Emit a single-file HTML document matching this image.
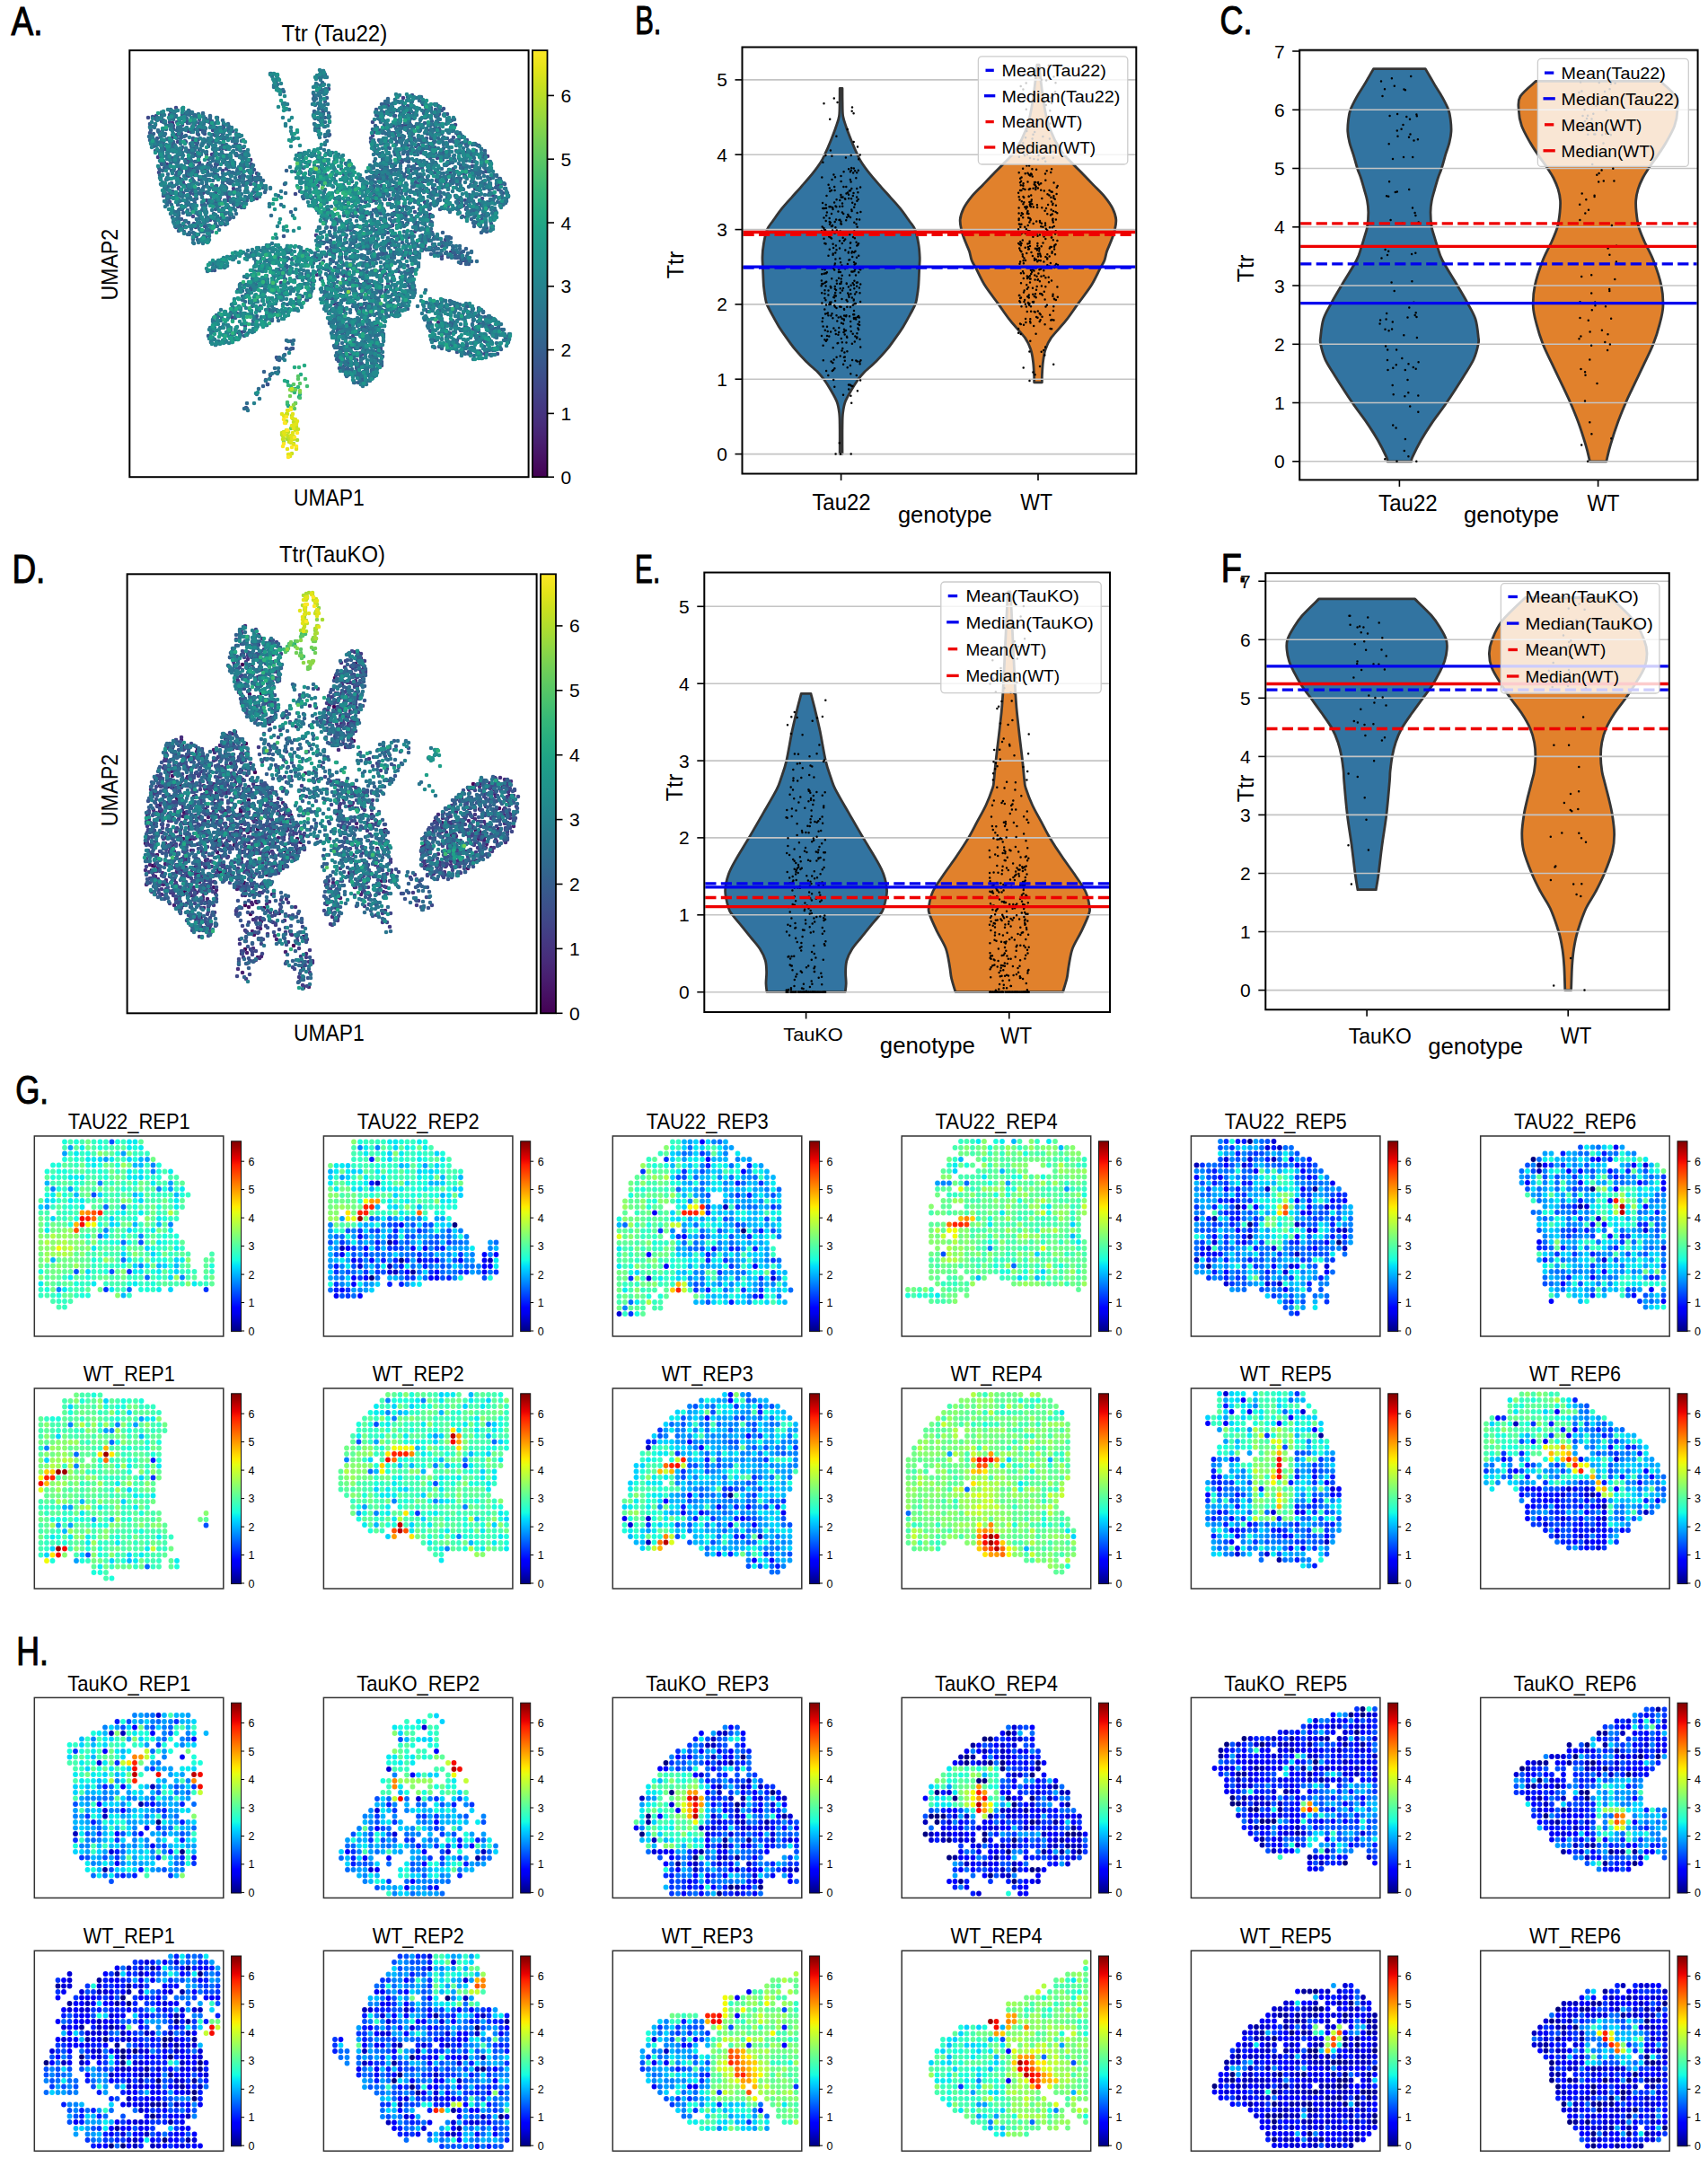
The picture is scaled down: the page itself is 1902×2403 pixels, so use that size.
<!DOCTYPE html>
<html><head><meta charset="utf-8"><title>Ttr figure</title>
<style>html,body{margin:0;padding:0;background:#fff;} svg{display:block;} text{font-family:'Liberation Sans', Arial, sans-serif;}</style>
</head><body>
<svg xmlns="http://www.w3.org/2000/svg" width="1902" height="2403" viewBox="0 0 1902 2403">
<rect width="1902" height="2403" fill="#fff"/>
<defs><linearGradient id="gv" x1="0" y1="1" x2="0" y2="0"><stop offset="0.000" stop-color="#440154"/><stop offset="0.042" stop-color="#471063"/><stop offset="0.083" stop-color="#481f70"/><stop offset="0.125" stop-color="#472d7b"/><stop offset="0.167" stop-color="#443983"/><stop offset="0.208" stop-color="#404688"/><stop offset="0.250" stop-color="#3b528b"/><stop offset="0.292" stop-color="#365d8d"/><stop offset="0.333" stop-color="#31688e"/><stop offset="0.375" stop-color="#2c728e"/><stop offset="0.417" stop-color="#287c8e"/><stop offset="0.458" stop-color="#24868e"/><stop offset="0.500" stop-color="#21918c"/><stop offset="0.542" stop-color="#1f9a8a"/><stop offset="0.583" stop-color="#20a486"/><stop offset="0.625" stop-color="#28ae80"/><stop offset="0.667" stop-color="#35b779"/><stop offset="0.708" stop-color="#48c16e"/><stop offset="0.750" stop-color="#5ec962"/><stop offset="0.792" stop-color="#75d054"/><stop offset="0.833" stop-color="#90d743"/><stop offset="0.875" stop-color="#addc30"/><stop offset="0.917" stop-color="#c8e020"/><stop offset="0.958" stop-color="#e5e419"/><stop offset="1.000" stop-color="#fde725"/></linearGradient><linearGradient id="gj" x1="0" y1="1" x2="0" y2="0"><stop offset="0.000" stop-color="#000080"/><stop offset="0.031" stop-color="#0000a4"/><stop offset="0.062" stop-color="#0000c8"/><stop offset="0.094" stop-color="#0000ed"/><stop offset="0.125" stop-color="#0000ff"/><stop offset="0.156" stop-color="#0020ff"/><stop offset="0.188" stop-color="#0040ff"/><stop offset="0.219" stop-color="#0060ff"/><stop offset="0.250" stop-color="#0080ff"/><stop offset="0.281" stop-color="#00a0ff"/><stop offset="0.312" stop-color="#00c0ff"/><stop offset="0.344" stop-color="#00e0fb"/><stop offset="0.375" stop-color="#16ffe1"/><stop offset="0.406" stop-color="#30ffc7"/><stop offset="0.438" stop-color="#49ffad"/><stop offset="0.469" stop-color="#63ff94"/><stop offset="0.500" stop-color="#7dff7a"/><stop offset="0.531" stop-color="#97ff60"/><stop offset="0.562" stop-color="#b1ff46"/><stop offset="0.594" stop-color="#caff2c"/><stop offset="0.625" stop-color="#e4ff13"/><stop offset="0.656" stop-color="#feed00"/><stop offset="0.688" stop-color="#ffd000"/><stop offset="0.719" stop-color="#ffb200"/><stop offset="0.750" stop-color="#ff9400"/><stop offset="0.781" stop-color="#ff7700"/><stop offset="0.812" stop-color="#ff5900"/><stop offset="0.844" stop-color="#ff3b00"/><stop offset="0.875" stop-color="#ff1e00"/><stop offset="0.906" stop-color="#e80000"/><stop offset="0.938" stop-color="#c40000"/><stop offset="0.969" stop-color="#9f0000"/><stop offset="1.000" stop-color="#800000"/></linearGradient></defs>
<text x="12.5" y="39.3" font-size="45" textLength="35" lengthAdjust="spacingAndGlyphs" fill="#000" stroke="#000" stroke-width="1.1">A.</text>
<text x="707.2" y="38.4" font-size="45" textLength="29.3" lengthAdjust="spacingAndGlyphs" fill="#000" stroke="#000" stroke-width="1.1">B.</text>
<text x="1358.6" y="38.2" font-size="45" textLength="35.8" lengthAdjust="spacingAndGlyphs" fill="#000" stroke="#000" stroke-width="1.1">C.</text>
<text x="13.4" y="648.7" font-size="45" textLength="36.9" lengthAdjust="spacingAndGlyphs" fill="#000" stroke="#000" stroke-width="1.1">D.</text>
<text x="707" y="648.7" font-size="45" textLength="28.2" lengthAdjust="spacingAndGlyphs" fill="#000" stroke="#000" stroke-width="1.1">E.</text>
<text x="1359.7" y="648.1" font-size="45" textLength="29.4" lengthAdjust="spacingAndGlyphs" fill="#000" stroke="#000" stroke-width="1.1">F.</text>
<text x="17.2" y="1229.3" font-size="45" textLength="36.8" lengthAdjust="spacingAndGlyphs" fill="#000" stroke="#000" stroke-width="1.1">G.</text>
<text x="18.3" y="1853.7" font-size="45" textLength="35.7" lengthAdjust="spacingAndGlyphs" fill="#000" stroke="#000" stroke-width="1.1">H.</text>
<g>
<path d="M938.0,98.4C938.0,101.0 938.0,108.7 938.1,113.9C938.2,119.0 938.0,124.5 938.7,129.2C939.5,133.9 941.2,137.9 942.6,142.2C944.0,146.5 945.4,149.9 947.4,154.9C949.4,159.9 952.8,167.9 954.8,172.2C956.8,176.5 957.0,177.2 959.3,180.8C961.6,184.4 965.3,189.4 968.7,193.7C972.1,198.0 976.1,202.3 979.9,206.6C983.6,210.9 987.4,215.1 991.2,219.4C995.0,223.6 999.0,227.9 1002.5,232.2C1006.0,236.6 1009.5,241.7 1012.2,245.5C1014.9,249.4 1017.1,251.2 1018.9,255.6C1020.7,259.9 1021.9,266.2 1022.8,271.4C1023.7,276.5 1024.0,281.8 1024.2,286.4C1024.4,291.0 1023.9,293.6 1023.7,298.9C1023.5,304.2 1023.2,312.6 1022.8,318.1C1022.3,323.5 1021.6,327.9 1021.0,331.4C1020.4,334.9 1020.5,335.7 1019.2,338.9C1017.9,342.1 1015.5,346.4 1013.2,350.6C1011.0,354.7 1008.4,359.6 1005.7,363.9C1003.0,368.2 1000.2,372.2 997.2,376.4C994.2,380.6 991.3,384.9 987.7,389.2C984.1,393.5 980.1,398.0 975.8,402.2C971.6,406.5 965.5,411.4 962.2,414.7C958.9,418.1 958.2,419.0 955.8,422.2C953.5,425.5 950.5,430.1 948.1,434.3C945.7,438.4 942.9,443.0 941.3,447.3C939.7,451.5 939.2,455.1 938.6,459.9C938.0,464.8 938.1,468.8 938.0,476.4C937.9,484.0 938.0,500.7 938.0,505.6L935.2,505.6C935.2,500.7 935.3,484.0 935.2,476.4C935.1,468.8 935.2,464.8 934.6,459.9C934.0,455.1 933.5,451.5 931.9,447.3C930.3,443.0 927.5,438.4 925.1,434.3C922.7,430.1 919.8,425.5 917.4,422.2C915.0,419.0 914.3,418.1 911.0,414.7C907.7,411.4 901.6,406.5 897.4,402.2C893.1,398.0 889.1,393.5 885.5,389.2C881.9,384.9 879.0,380.6 876.0,376.4C873.0,372.2 870.2,368.2 867.5,363.9C864.8,359.6 862.2,354.7 860.0,350.6C857.8,346.4 855.3,342.1 854.0,338.9C852.7,335.7 852.8,334.9 852.2,331.4C851.6,327.9 850.9,323.5 850.4,318.1C850.0,312.6 849.7,304.2 849.5,298.9C849.3,293.6 848.9,291.0 849.0,286.4C849.1,281.8 849.5,276.5 850.4,271.4C851.3,266.2 852.5,259.9 854.3,255.6C856.1,251.2 858.3,249.4 861.0,245.5C863.7,241.7 867.2,236.6 870.7,232.2C874.2,227.9 878.2,223.6 882.0,219.4C885.8,215.1 889.6,210.9 893.3,206.6C897.1,202.3 901.1,198.0 904.5,193.7C907.9,189.4 911.6,184.4 913.9,180.8C916.2,177.2 916.4,176.5 918.4,172.2C920.4,167.9 923.8,159.9 925.8,154.9C927.8,149.9 929.2,146.5 930.6,142.2C932.0,137.9 933.8,133.9 934.5,129.2C935.2,124.5 935.0,119.0 935.1,113.9C935.2,108.7 935.2,101.0 935.2,98.4Z" fill="#3274a1" stroke="#353535" stroke-width="2.8" stroke-linejoin="round"/>
<path d="M1157.1,72.2C1157.4,75.2 1158.2,83.2 1159.1,90.5C1160.0,97.9 1161.0,107.7 1162.6,116.4C1164.2,125.0 1165.4,133.6 1168.6,142.2C1171.8,150.8 1177.2,161.2 1181.6,168.0C1186.0,174.8 1191.2,178.8 1195.2,183.0C1199.2,187.3 1201.8,189.6 1205.6,193.5C1209.4,197.3 1213.9,202.1 1218.0,206.4C1222.1,210.6 1226.5,214.6 1230.0,218.9C1233.5,223.2 1236.9,227.9 1239.0,232.2C1241.1,236.5 1242.5,240.4 1242.8,244.7C1243.1,249.0 1242.0,253.7 1240.9,258.1C1239.8,262.4 1237.8,266.9 1236.4,270.6C1235.0,274.2 1233.7,276.5 1232.6,279.7C1231.5,282.9 1231.2,286.5 1230.0,289.7C1228.8,292.9 1227.6,294.2 1225.1,298.9C1222.6,303.6 1219.3,311.4 1215.1,318.1C1210.9,324.7 1204.7,332.4 1200.0,338.9C1195.3,345.4 1191.7,351.0 1186.8,357.2C1181.9,363.5 1174.2,371.1 1170.4,376.4C1166.7,381.7 1165.8,384.6 1164.3,388.9C1162.8,393.2 1162.2,397.4 1161.6,402.2C1160.9,407.1 1160.6,414.2 1160.4,418.1C1160.2,422.0 1160.4,424.5 1160.4,425.8L1151.6,425.8C1151.6,424.5 1151.8,422.0 1151.6,418.1C1151.4,414.2 1151.1,407.1 1150.4,402.2C1149.8,397.4 1149.2,393.2 1147.7,388.9C1146.2,384.6 1145.3,381.7 1141.6,376.4C1137.8,371.1 1130.1,363.5 1125.2,357.2C1120.3,351.0 1116.7,345.4 1112.0,338.9C1107.3,332.4 1101.1,324.7 1096.9,318.1C1092.7,311.4 1089.4,303.6 1086.9,298.9C1084.4,294.2 1083.2,292.9 1082.0,289.7C1080.8,286.5 1080.5,282.9 1079.4,279.7C1078.3,276.5 1077.0,274.2 1075.6,270.6C1074.2,266.9 1072.2,262.4 1071.1,258.1C1070.0,253.7 1068.9,249.0 1069.2,244.7C1069.5,240.4 1070.9,236.5 1073.0,232.2C1075.1,227.9 1078.5,223.2 1082.0,218.9C1085.5,214.6 1089.9,210.6 1094.0,206.4C1098.1,202.1 1102.6,197.3 1106.4,193.5C1110.2,189.6 1112.8,187.3 1116.8,183.0C1120.8,178.8 1126.0,174.8 1130.4,168.0C1134.8,161.2 1140.2,150.8 1143.4,142.2C1146.6,133.6 1147.8,125.0 1149.4,116.4C1151.0,107.7 1152.0,97.9 1152.9,90.5C1153.8,83.2 1154.6,75.2 1154.9,72.2Z" fill="#e1812c" stroke="#353535" stroke-width="2.8" stroke-linejoin="round"/>
<line x1="826.5" y1="505.6" x2="1265.3" y2="505.6" stroke="#c4c4c4" stroke-width="1.6"/>
<line x1="826.5" y1="422.2" x2="1265.3" y2="422.2" stroke="#c4c4c4" stroke-width="1.6"/>
<line x1="826.5" y1="338.9" x2="1265.3" y2="338.9" stroke="#c4c4c4" stroke-width="1.6"/>
<line x1="826.5" y1="255.6" x2="1265.3" y2="255.6" stroke="#c4c4c4" stroke-width="1.6"/>
<line x1="826.5" y1="172.2" x2="1265.3" y2="172.2" stroke="#c4c4c4" stroke-width="1.6"/>
<line x1="826.5" y1="88.9" x2="1265.3" y2="88.9" stroke="#c4c4c4" stroke-width="1.6"/>
<path d="M926.9 251.1h0M955.8 189.8h0M932.6 382.2h0M940.8 401.8h0M918.6 300.2h0M953.8 417.9h0M919.1 256.2h0M931.9 315.8h0M953.6 249.4h0M956.2 303.3h0M954.4 223.8h0M951.0 355.1h0M924.9 167.6h0M916.0 298.0h0M934.5 245.1h0M917.4 298.9h0M956.9 358.5h0M915.0 374.1h0M928.9 259.2h0M923.5 230.2h0M915.2 326.3h0M936.6 341.7h0M917.9 232.1h0M954.2 273.6h0M944.9 280.7h0M930.9 273.6h0M951.6 338.3h0M949.7 315.2h0M929.0 331.2h0M951.9 265.3h0M955.5 360.9h0M941.9 175.6h0M930.1 335.0h0M954.2 210.1h0M956.1 367.1h0M929.9 293.4h0M918.4 331.9h0M952.8 338.0h0M943.9 294.1h0M924.8 230.2h0M939.5 370.1h0M928.2 423.0h0M955.0 163.5h0M929.7 259.8h0M923.2 263.5h0M916.5 315.9h0M929.7 247.0h0M958.1 208.4h0M924.2 132.8h0M934.8 493.3h0M957.4 402.7h0M914.9 256.9h0M927.6 271.7h0M950.7 157.9h0M918.8 367.7h0M955.4 272.0h0M951.3 257.5h0M920.9 236.4h0M940.7 372.4h0M939.0 439.8h0M945.1 240.6h0M928.1 276.1h0M931.5 351.2h0M925.2 319.7h0M927.4 354.2h0M922.3 418.0h0M954.4 371.3h0M953.6 269.8h0M930.4 253.2h0M945.1 328.6h0M936.2 352.8h0M927.0 231.1h0M930.0 197.2h0M957.1 244.5h0M929.6 211.9h0M940.1 351.6h0M956.2 284.8h0M927.7 282.5h0M950.2 350.3h0M919.6 271.5h0M946.9 200.1h0M950.1 192.4h0M951.4 312.8h0M957.5 377.8h0M945.9 212.5h0M957.6 405.2h0M926.8 413.1h0M937.5 390.4h0M924.0 249.7h0M918.3 344.5h0M933.9 303.1h0M946.3 261.3h0M948.9 382.8h0M915.3 197.6h0M956.1 271.3h0M925.5 336.6h0M927.5 232.9h0M951.2 281.0h0M953.9 314.8h0M947.0 212.3h0M929.2 208.0h0M935.0 276.5h0M951.3 321.2h0M930.3 281.4h0M950.0 264.1h0M949.0 280.3h0M935.2 315.9h0M954.0 244.3h0M931.5 278.3h0M947.6 202.6h0M942.7 315.6h0M929.2 300.5h0M938.0 323.5h0M941.3 278.5h0M938.2 229.7h0M919.5 334.3h0M958.2 386.4h0M957.1 362.1h0M916.2 354.3h0M956.1 352.0h0M938.0 226.5h0M920.1 304.2h0M950.7 334.5h0M933.7 353.6h0M946.0 352.3h0M951.0 292.0h0M938.3 387.9h0M916.8 401.2h0M950.8 333.4h0M945.1 216.7h0M954.6 252.8h0M926.5 200.1h0M949.1 401.0h0M953.0 306.4h0M930.2 325.9h0M932.6 114.0h0M929.3 430.8h0M914.9 312.5h0M924.8 319.0h0M929.2 340.2h0M919.4 173.0h0M948.3 233.5h0M933.4 235.5h0M939.6 191.2h0M927.1 256.4h0M930.5 229.4h0M947.7 368.9h0M935.3 223.1h0M940.8 368.5h0M933.2 381.9h0M939.1 405.7h0M954.1 219.6h0M926.4 173.7h0M937.4 295.5h0M944.8 281.6h0M918.4 378.2h0M956.9 320.5h0M936.5 246.8h0M925.4 351.6h0M948.1 221.2h0M950.5 215.0h0M942.3 208.0h0M954.9 314.5h0M918.5 323.2h0M937.8 381.2h0M947.3 416.2h0M954.9 435.2h0M942.8 315.9h0M941.1 299.3h0M931.7 312.5h0M939.8 355.4h0M939.0 321.1h0M954.4 375.4h0M951.0 345.9h0M947.0 242.1h0M955.2 273.1h0M917.5 265.7h0M948.5 281.5h0M935.0 268.3h0M947.7 173.0h0M927.6 283.7h0M935.2 341.5h0M950.9 354.0h0M916.1 226.0h0M927.4 404.0h0M936.1 292.2h0M952.1 327.4h0M926.5 199.9h0M950.8 187.4h0M925.4 320.0h0M927.9 298.8h0M939.0 360.4h0M943.4 391.2h0M953.3 401.4h0M953.3 198.2h0M925.6 402.5h0M947.4 327.3h0M942.5 215.6h0M931.6 222.3h0M948.7 123.7h0M954.1 318.8h0M935.7 321.2h0M954.9 353.0h0M920.2 313.7h0M921.9 348.4h0M948.2 448.7h0M928.0 411.9h0M940.4 392.4h0M936.5 195.9h0M921.0 374.0h0M947.8 429.6h0M947.2 270.3h0M921.0 363.8h0M926.0 265.4h0M949.8 217.9h0M954.7 402.4h0M952.9 293.4h0M936.7 219.6h0M930.8 372.1h0M934.2 369.9h0M922.4 328.4h0M936.4 217.1h0M924.8 247.8h0M921.7 369.0h0M931.3 230.2h0M917.4 254.0h0M935.3 244.7h0M945.2 433.5h0M943.3 341.7h0M957.5 299.9h0M953.6 325.3h0M942.5 215.5h0M954.1 376.6h0M934.2 300.3h0M949.8 339.7h0M927.1 251.6h0M937.8 271.0h0M957.7 172.6h0M940.9 221.2h0M936.9 313.8h0M949.2 286.1h0M928.3 331.0h0M951.2 350.3h0M915.4 316.1h0M925.1 369.6h0M922.4 351.3h0M925.9 251.9h0M956.2 177.2h0M915.7 252.4h0M927.7 387.3h0M939.9 268.1h0M945.5 330.8h0M948.6 235.0h0M931.5 343.1h0M924.3 213.0h0M952.1 299.9h0M920.0 231.7h0M917.5 115.2h0M924.8 264.4h0M936.3 249.3h0M956.1 297.6h0M946.7 276.1h0M939.4 207.9h0M937.5 333.1h0M945.1 188.3h0M942.2 245.2h0M929.4 295.4h0M918.7 314.8h0M923.4 338.9h0M949.0 119.6h0M942.5 381.5h0M949.7 371.7h0M916.6 384.7h0M954.2 192.3h0M931.4 151.7h0M955.4 214.3h0M940.8 397.4h0M938.7 264.8h0M950.6 126.3h0M942.1 297.1h0M944.3 238.9h0M921.5 349.0h0M941.2 266.5h0M930.3 367.9h0M917.9 255.8h0M920.5 218.1h0M935.7 257.5h0M926.2 310.2h0M948.3 302.6h0M920.0 339.5h0M915.2 305.3h0M958.5 401.3h0M928.4 194.6h0M937.0 359.7h0M923.8 209.4h0M923.8 277.7h0M932.3 357.4h0M949.4 429.9h0M916.3 232.0h0M951.4 302.1h0M958.2 300.3h0M939.2 237.9h0M930.4 288.5h0M924.9 338.7h0M922.6 205.8h0M928.8 109.6h0M952.1 190.2h0M914.7 318.3h0M949.2 225.7h0M944.0 214.5h0M915.4 337.4h0M917.7 304.7h0M946.9 407.0h0M944.2 326.4h0M928.4 365.6h0M952.5 279.7h0M923.8 247.0h0M933.4 372.8h0M919.7 228.1h0M943.0 374.7h0M918.4 271.0h0M922.5 323.6h0M948.3 210.0h0M936.6 202.1h0M943.7 144.1h0M946.9 191.3h0M941.3 221.7h0M923.3 374.5h0M945.3 289.6h0M919.7 245.9h0M926.5 349.2h0M934.3 365.0h0M919.6 318.5h0M919.3 304.2h0M943.3 375.8h0M947.2 357.9h0M930.9 329.4h0M931.8 256.6h0M923.7 243.1h0M937.6 354.8h0M940.1 344.7h0M955.7 221.9h0M916.4 180.8h0M954.6 237.0h0M958.2 316.5h0M929.8 341.6h0M946.5 428.6h0M950.9 317.2h0M943.2 242.0h0M927.3 231.8h0M942.0 368.0h0M953.2 355.5h0M919.3 298.4h0M935.7 326.0h0M915.6 299.7h0M951.8 380.4h0M948.9 331.4h0M916.6 363.4h0M947.4 440.7h0M945.0 428.4h0M920.2 240.1h0M937.7 306.7h0M944.9 319.4h0M929.4 410.2h0M936.8 377.1h0M957.5 326.2h0M942.6 334.0h0M936.7 310.6h0M917.5 242.6h0M919.9 379.8h0M952.0 227.5h0M947.3 363.6h0M951.3 247.7h0M940.0 366.8h0M939.9 356.6h0M937.9 236.4h0M946.9 342.1h0M929.1 225.6h0M936.5 315.7h0M935.3 287.8h0M943.7 409.2h0M924.1 336.7h0M915.7 358.0h0M918.5 326.9h0M922.5 284.8h0M952.3 374.6h0M946.1 306.4h0M947.6 317.8h0M934.1 309.8h0M919.1 349.4h0M935.1 229.9h0M952.6 353.9h0M937.0 249.5h0M942.4 351.2h0M931.1 322.9h0M921.2 349.1h0M942.2 352.2h0M935.9 303.1h0M929.8 319.0h0M926.0 212.0h0M945.2 220.9h0M928.6 400.6h0M939.9 344.0h0M926.0 238.1h0M947.8 189.8h0M931.1 244.6h0M935.7 396.6h0M955.4 365.6h0M946.2 289.3h0M947.0 270.7h0M929.5 328.8h0M951.6 294.8h0M931.6 397.7h0M958.1 423.6h0M954.0 286.8h0M943.6 335.4h0M951.2 230.7h0M938.5 219.4h0M946.9 322.7h0M920.1 413.0h0M958.1 336.0h0M949.8 302.4h0M920.9 303.2h0M925.3 320.5h0M939.9 397.7h0M948.2 186.9h0M921.1 378.3h0M956.9 353.6h0M929.8 321.7h0M958.4 236.1h0M947.7 505.6h0M936.0 505.6h0M930.6 505.6h0" stroke="#000" stroke-width="2.5" stroke-linecap="round" fill="none"/>
<path d="M1159.7 391.7h0M1154.2 246.6h0M1160.8 328.4h0M1158.2 326.9h0M1161.4 152.1h0M1142.8 255.1h0M1140.5 287.4h0M1134.6 245.0h0M1170.6 233.5h0M1134.1 255.3h0M1145.3 338.2h0M1159.8 88.8h0M1156.0 282.7h0M1173.7 251.9h0M1143.4 184.5h0M1139.0 238.3h0M1141.1 173.3h0M1155.9 209.5h0M1146.8 227.8h0M1154.0 322.8h0M1164.3 200.8h0M1148.1 346.8h0M1163.3 164.3h0M1134.9 249.6h0M1158.0 246.4h0M1173.9 332.7h0M1175.1 260.6h0M1159.2 204.2h0M1177.3 237.3h0M1144.4 237.8h0M1147.1 195.4h0M1153.7 207.7h0M1156.4 304.6h0M1170.1 108.7h0M1153.7 331.2h0M1136.1 336.6h0M1164.8 116.9h0M1143.8 346.9h0M1172.8 267.2h0M1143.3 146.1h0M1147.0 175.9h0M1140.0 171.2h0M1147.3 379.8h0M1160.4 161.3h0M1145.8 194.5h0M1136.1 261.4h0M1159.8 327.3h0M1166.3 287.5h0M1138.8 267.4h0M1152.7 347.6h0M1137.0 331.5h0M1134.7 243.5h0M1150.5 149.8h0M1146.6 268.8h0M1172.5 226.7h0M1134.6 231.4h0M1162.4 291.5h0M1166.3 256.4h0M1152.3 306.4h0M1156.0 285.4h0M1144.9 337.0h0M1145.1 277.6h0M1136.3 252.7h0M1173.9 274.6h0M1135.3 335.2h0M1140.0 361.8h0M1165.9 339.8h0M1154.1 188.7h0M1156.5 173.0h0M1147.0 273.9h0M1141.1 333.9h0M1169.2 350.8h0M1139.4 206.8h0M1147.0 314.6h0M1167.1 228.0h0M1147.1 210.3h0M1175.9 244.4h0M1141.7 193.3h0M1157.2 276.3h0M1157.7 357.9h0M1156.0 311.2h0M1168.1 261.6h0M1136.0 360.5h0M1158.0 246.1h0M1168.7 285.6h0M1136.2 260.7h0M1158.0 407.9h0M1153.4 208.8h0M1151.8 347.1h0M1157.7 348.9h0M1161.5 270.5h0M1165.0 231.9h0M1173.5 85.6h0M1162.9 175.8h0M1178.0 294.9h0M1163.3 395.5h0M1145.8 331.6h0M1140.5 336.1h0M1137.1 240.1h0M1145.8 218.7h0M1139.2 242.3h0M1164.1 386.5h0M1164.3 319.2h0M1160.9 176.5h0M1150.8 230.4h0M1154.4 163.6h0M1145.4 238.1h0M1174.4 273.3h0M1134.7 192.2h0M1148.1 193.5h0M1159.2 211.7h0M1141.9 259.9h0M1171.6 280.3h0M1155.1 276.8h0M1150.3 327.8h0M1136.8 273.3h0M1146.4 391.4h0M1159.9 318.4h0M1146.4 225.0h0M1136.0 203.3h0M1159.5 307.7h0M1147.4 227.0h0M1171.2 169.1h0M1164.4 286.1h0M1165.7 190.3h0M1173.2 405.7h0M1169.6 137.5h0M1148.5 281.0h0M1159.0 285.6h0M1145.4 330.9h0M1142.9 341.5h0M1143.1 229.9h0M1138.9 285.5h0M1144.5 202.6h0M1143.9 237.8h0M1163.6 333.6h0M1145.1 242.4h0M1136.1 291.6h0M1152.6 206.1h0M1142.8 121.8h0M1164.3 266.1h0M1143.8 321.7h0M1158.5 284.3h0M1141.7 275.8h0M1155.2 291.2h0M1172.2 227.9h0M1147.3 355.3h0M1157.2 205.5h0M1153.3 330.7h0M1137.1 201.7h0M1134.9 329.0h0M1171.1 115.1h0M1149.0 303.1h0M1164.2 179.7h0M1152.2 147.0h0M1170.9 264.6h0M1142.6 232.6h0M1155.3 273.8h0M1158.1 282.6h0M1168.9 154.4h0M1135.3 271.9h0M1149.9 285.1h0M1154.9 278.4h0M1159.9 248.7h0M1140.2 220.1h0M1157.9 261.4h0M1164.5 341.4h0M1166.3 295.3h0M1143.9 230.4h0M1153.4 137.9h0M1147.1 229.2h0M1151.1 134.1h0M1150.0 320.8h0M1175.6 236.1h0M1134.6 237.4h0M1175.7 257.2h0M1135.5 293.7h0M1137.4 249.8h0M1143.1 110.1h0M1146.6 257.2h0M1171.7 238.6h0M1171.0 312.4h0M1175.1 102.2h0M1151.1 336.0h0M1134.7 219.2h0M1161.5 252.7h0M1173.6 203.5h0M1138.7 283.2h0M1170.4 219.7h0M1134.1 214.8h0M1166.2 288.5h0M1155.7 169.4h0M1174.0 274.7h0M1172.5 243.8h0M1136.0 259.4h0M1155.9 177.7h0M1144.7 251.0h0M1153.3 211.1h0M1136.9 304.2h0M1149.9 336.3h0M1152.0 203.0h0M1134.2 271.0h0M1154.9 228.2h0M1173.4 168.9h0M1136.7 95.9h0M1175.6 272.3h0M1155.5 262.7h0M1143.3 317.3h0M1176.6 216.0h0M1154.8 297.9h0M1153.2 202.9h0M1150.6 209.7h0M1172.8 247.5h0M1139.7 409.6h0M1143.3 281.9h0M1146.5 270.8h0M1136.7 206.2h0M1171.1 188.2h0M1155.5 353.8h0M1160.5 352.8h0M1173.0 346.0h0M1155.8 346.4h0M1146.2 339.7h0M1157.4 276.9h0M1156.0 203.7h0M1147.1 357.9h0M1144.2 330.3h0M1149.7 196.6h0M1166.3 283.2h0M1141.3 252.8h0M1177.8 330.8h0M1144.4 271.6h0M1146.0 277.3h0M1139.4 227.2h0M1151.2 362.9h0M1150.4 263.8h0M1164.0 193.5h0M1173.4 218.3h0M1144.9 257.1h0M1169.6 275.1h0M1147.6 310.5h0M1151.9 258.3h0M1139.6 290.2h0M1173.3 220.5h0M1150.4 414.5h0M1164.8 254.8h0M1135.2 276.4h0M1164.7 260.2h0M1144.0 171.9h0M1153.9 288.9h0M1163.6 234.8h0M1141.5 211.0h0M1157.2 279.4h0M1170.8 275.1h0M1141.2 230.4h0M1154.6 307.8h0M1142.1 153.2h0M1140.3 225.3h0M1155.6 311.8h0M1154.1 352.9h0M1162.3 301.2h0M1171.7 213.8h0M1165.1 89.5h0M1148.8 222.5h0M1155.4 271.0h0M1163.6 361.3h0M1170.9 224.5h0M1164.0 248.5h0M1156.1 203.0h0M1139.9 293.2h0M1172.2 244.4h0M1146.4 247.5h0M1151.8 329.9h0M1172.9 175.8h0M1143.1 82.8h0M1174.2 333.3h0M1144.1 236.3h0M1137.8 140.4h0M1156.6 290.1h0M1169.0 253.3h0M1151.7 205.3h0M1171.1 366.3h0M1151.4 176.9h0M1169.9 292.9h0M1139.0 302.3h0M1146.5 424.0h0M1139.4 210.0h0M1166.5 216.3h0M1154.7 319.0h0M1162.8 212.5h0M1144.5 235.0h0M1166.3 238.3h0M1177.7 207.0h0M1137.5 341.2h0M1148.0 341.3h0M1172.3 245.5h0M1171.5 281.8h0M1172.4 329.7h0M1144.0 309.9h0M1158.8 290.3h0M1137.8 237.2h0M1153.0 327.2h0M1159.3 252.2h0M1145.4 168.9h0M1152.6 311.6h0M1150.1 300.6h0M1137.7 260.0h0M1137.0 315.2h0M1168.4 217.6h0M1134.1 370.7h0M1177.4 268.1h0M1173.5 356.6h0M1177.4 319.6h0M1168.6 212.0h0M1134.1 366.0h0M1139.1 206.4h0M1148.0 230.3h0M1142.0 290.0h0M1136.7 372.0h0M1174.3 298.0h0M1174.1 277.6h0M1167.7 308.8h0M1145.1 320.1h0M1171.5 355.9h0M1170.0 239.6h0M1148.2 304.9h0M1139.6 204.2h0M1140.0 325.6h0M1152.0 289.8h0M1170.6 213.4h0M1137.4 280.3h0M1152.9 276.8h0M1149.6 154.4h0M1173.3 341.3h0M1140.7 323.5h0M1162.8 324.8h0M1148.2 217.4h0M1162.4 307.1h0M1170.2 191.9h0M1170.3 356.6h0M1171.2 264.6h0M1146.9 307.2h0M1146.1 184.4h0M1139.4 99.4h0M1145.2 308.6h0M1139.3 159.2h0M1168.5 296.5h0M1136.1 278.7h0M1142.4 359.0h0M1168.8 276.5h0M1167.8 72.9h0M1176.8 208.7h0M1150.9 336.7h0M1136.0 212.1h0M1169.6 366.1h0M1146.6 210.3h0M1168.0 314.3h0M1134.9 174.8h0M1135.5 222.4h0M1160.3 221.0h0M1164.1 251.0h0M1158.7 350.2h0M1157.4 300.3h0M1160.3 231.2h0M1139.8 309.9h0M1136.8 361.0h0M1149.4 188.2h0M1158.1 247.6h0M1144.9 275.1h0M1141.9 338.7h0M1153.6 298.3h0M1152.0 287.8h0M1145.8 211.0h0M1174.8 295.7h0M1175.5 92.3h0M1136.1 198.7h0M1155.1 231.0h0M1144.5 192.7h0M1148.8 194.3h0M1135.3 329.0h0M1137.5 271.1h0M1135.5 249.8h0M1139.5 219.1h0M1162.6 263.4h0M1137.4 211.9h0M1173.0 235.0h0M1169.3 123.3h0M1145.8 328.5h0M1164.4 309.2h0M1175.9 334.0h0M1139.1 187.8h0M1158.6 356.2h0M1154.5 260.6h0M1147.7 244.3h0M1146.7 243.1h0M1137.8 224.3h0M1162.5 111.7h0M1142.7 92.6h0M1152.6 417.3h0M1174.8 221.8h0M1149.3 227.3h0M1147.9 300.7h0M1175.0 283.2h0M1159.7 274.2h0M1159.1 299.4h0M1143.8 307.4h0M1162.2 390.1h0M1150.7 248.9h0M1157.9 313.3h0M1151.5 301.4h0M1137.6 197.5h0M1172.6 327.7h0M1164.4 168.7h0M1176.2 294.0h0M1147.5 359.4h0M1146.4 338.1h0M1140.0 304.2h0M1147.5 245.3h0M1148.3 224.5h0M1142.1 355.1h0M1145.6 218.7h0M1146.9 310.5h0M1171.8 253.3h0M1153.6 371.8h0M1170.1 297.9h0M1136.2 332.0h0M1142.3 230.9h0M1175.9 228.7h0M1136.2 269.2h0M1137.1 259.7h0" stroke="#000" stroke-width="2.5" stroke-linecap="round" fill="none"/>
<line x1="827.5" y1="298.1" x2="1264.3" y2="298.1" stroke="#0000ee" stroke-width="3.3" stroke-dasharray="12.2 5.3"/>
<line x1="827.5" y1="297.2" x2="1264.3" y2="297.2" stroke="#0000ee" stroke-width="3.3"/>
<line x1="827.5" y1="261.4" x2="1264.3" y2="261.4" stroke="#ee0000" stroke-width="3.3" stroke-dasharray="12.2 5.3"/>
<line x1="827.5" y1="258.5" x2="1264.3" y2="258.5" stroke="#ee0000" stroke-width="3.3"/>
<rect x="1089.4" y="62.9" width="166.4" height="120.1" rx="4" fill="#fff" fill-opacity="0.8" stroke="#cccccc" stroke-width="1.3"/>
<line x1="1097.5" y1="78.3" x2="1106.8" y2="78.3" stroke="#0000ee" stroke-width="3.3"/>
<text x="1115.6" y="85.1" font-size="19" textLength="116.3" lengthAdjust="spacingAndGlyphs" fill="#000">Mean(Tau22)</text>
<line x1="1096" y1="106.7" x2="1108.3" y2="106.7" stroke="#0000ee" stroke-width="3.3"/>
<text x="1115.6" y="113.5" font-size="19" textLength="131.8" lengthAdjust="spacingAndGlyphs" fill="#000">Median(Tau22)</text>
<line x1="1097.5" y1="135.6" x2="1106.8" y2="135.6" stroke="#ee0000" stroke-width="3.3"/>
<text x="1115.6" y="142.4" font-size="19" fill="#000">Mean(WT)</text>
<line x1="1096" y1="164" x2="1108.3" y2="164" stroke="#ee0000" stroke-width="3.3"/>
<text x="1115.6" y="170.8" font-size="19" fill="#000">Median(WT)</text>
<line x1="818.5" y1="505.6" x2="826.5" y2="505.6" stroke="#000" stroke-width="1.6"/>
<text x="810" y="513.1" font-size="21" text-anchor="end" fill="#000">0</text>
<line x1="818.5" y1="422.2" x2="826.5" y2="422.2" stroke="#000" stroke-width="1.6"/>
<text x="810" y="429.8" font-size="21" text-anchor="end" fill="#000">1</text>
<line x1="818.5" y1="338.9" x2="826.5" y2="338.9" stroke="#000" stroke-width="1.6"/>
<text x="810" y="346.4" font-size="21" text-anchor="end" fill="#000">2</text>
<line x1="818.5" y1="255.6" x2="826.5" y2="255.6" stroke="#000" stroke-width="1.6"/>
<text x="810" y="263.1" font-size="21" text-anchor="end" fill="#000">3</text>
<line x1="818.5" y1="172.2" x2="826.5" y2="172.2" stroke="#000" stroke-width="1.6"/>
<text x="810" y="179.7" font-size="21" text-anchor="end" fill="#000">4</text>
<line x1="818.5" y1="88.9" x2="826.5" y2="88.9" stroke="#000" stroke-width="1.6"/>
<text x="810" y="96.4" font-size="21" text-anchor="end" fill="#000">5</text>
<line x1="936.6" y1="527.5" x2="936.6" y2="535" stroke="#000" stroke-width="1.6"/>
<line x1="1156" y1="527.5" x2="1156" y2="535" stroke="#000" stroke-width="1.6"/>
<rect x="826.5" y="52.5" width="438.8" height="475" fill="none" stroke="#000" stroke-width="2"/>
</g>
<g>
<path d="M1587.3,76.6C1589.1,79.7 1594.9,89.8 1597.9,94.9C1601.0,100.0 1603.1,102.7 1605.6,107.3C1608.1,111.9 1611.4,117.9 1613.0,122.3C1614.6,126.6 1614.8,129.4 1615.3,133.4C1615.8,137.4 1616.2,142.2 1616.0,146.4C1615.8,150.7 1615.0,154.6 1614.0,158.8C1613.0,163.1 1611.3,167.1 1609.8,171.9C1608.4,176.7 1606.7,183.2 1605.3,187.5C1603.9,191.9 1602.7,194.1 1601.4,198.0C1600.1,201.9 1598.8,206.8 1597.6,211.0C1596.4,215.3 1595.1,219.2 1594.3,223.4C1593.5,227.7 1593.0,231.6 1593.0,236.5C1593.0,241.4 1593.6,248.4 1594.3,252.8C1595.0,257.1 1595.9,258.8 1597.0,262.6C1598.1,266.4 1599.5,271.1 1601.0,275.6C1602.5,280.2 1602.6,282.9 1606.3,290.0C1610.0,297.1 1618.3,310.1 1623.0,318.0C1627.7,326.0 1631.0,331.4 1634.3,337.6C1637.6,343.8 1641.0,349.0 1643.0,355.2C1645.0,361.4 1645.7,370.1 1646.2,374.8C1646.7,379.5 1647.1,379.1 1646.2,383.3C1645.3,387.5 1643.7,394.3 1641.0,400.3C1638.3,406.2 1634.8,411.1 1629.8,419.2C1624.8,427.2 1616.7,439.8 1610.8,448.5C1604.9,457.2 1599.0,464.4 1594.3,471.4C1589.6,478.3 1586.0,484.0 1582.4,490.3C1578.8,496.6 1574.6,505.3 1572.8,509.2C1571.0,513.1 1572.0,513.0 1571.8,513.8L1545.0,513.8C1544.8,513.0 1545.8,513.1 1544.0,509.2C1542.2,505.3 1538.0,496.6 1534.4,490.3C1530.8,484.0 1527.2,478.3 1522.5,471.4C1517.8,464.4 1511.9,457.2 1506.0,448.5C1500.1,439.8 1492.0,427.2 1487.0,419.2C1482.0,411.1 1478.5,406.2 1475.8,400.3C1473.1,394.3 1471.5,387.5 1470.6,383.3C1469.7,379.1 1470.1,379.5 1470.6,374.8C1471.1,370.1 1471.8,361.4 1473.8,355.2C1475.8,349.0 1479.2,343.8 1482.5,337.6C1485.8,331.4 1489.1,326.0 1493.8,318.0C1498.5,310.1 1506.8,297.1 1510.5,290.0C1514.2,282.9 1514.3,280.2 1515.8,275.6C1517.4,271.1 1518.7,266.4 1519.8,262.6C1520.9,258.8 1521.8,257.1 1522.5,252.8C1523.2,248.4 1523.8,241.4 1523.8,236.5C1523.8,231.6 1523.3,227.7 1522.5,223.4C1521.7,219.2 1520.4,215.3 1519.2,211.0C1518.0,206.8 1516.7,201.9 1515.4,198.0C1514.1,194.1 1512.9,191.9 1511.5,187.5C1510.1,183.2 1508.5,176.7 1507.0,171.9C1505.5,167.1 1503.8,163.1 1502.8,158.8C1501.8,154.6 1501.0,150.7 1500.8,146.4C1500.6,142.2 1501.0,137.4 1501.5,133.4C1502.0,129.4 1502.2,126.6 1503.8,122.3C1505.4,117.9 1508.7,111.9 1511.2,107.3C1513.7,102.7 1515.9,100.0 1518.9,94.9C1522.0,89.8 1527.7,79.7 1529.5,76.6Z" fill="#3274a1" stroke="#353535" stroke-width="2.8" stroke-linejoin="round"/>
<path d="M1848.7,90.3C1851.6,93.2 1863.0,102.0 1866.2,107.3C1869.4,112.6 1868.2,116.9 1868.0,122.3C1867.8,127.7 1866.9,133.8 1864.8,139.9C1862.7,146.0 1858.2,153.5 1855.2,158.8C1852.2,164.2 1850.0,167.1 1846.8,171.9C1843.6,176.7 1838.7,183.2 1835.8,187.5C1832.9,191.9 1831.3,194.2 1829.4,198.0C1827.5,201.8 1825.5,206.1 1824.2,210.4C1822.9,214.6 1822.0,219.1 1821.7,223.4C1821.4,227.8 1821.7,231.6 1822.2,236.5C1822.7,241.4 1823.4,247.5 1824.9,252.8C1826.4,258.1 1828.3,262.3 1831.0,268.5C1833.7,274.7 1838.0,281.7 1841.2,290.0C1844.4,298.3 1848.2,309.5 1850.0,318.0C1851.8,326.6 1852.2,334.4 1851.9,341.5C1851.6,348.7 1849.9,354.2 1848.1,361.1C1846.3,368.1 1844.0,375.8 1841.0,383.3C1838.0,390.8 1834.2,398.1 1830.4,406.1C1826.6,414.2 1821.5,424.5 1818.2,431.6C1814.9,438.7 1813.1,442.1 1810.4,448.5C1807.6,455.0 1804.6,462.1 1801.7,470.1C1798.8,478.0 1795.3,488.9 1793.2,496.2C1791.0,503.5 1789.5,510.9 1788.8,513.8L1770.4,513.8C1769.7,510.9 1768.2,503.5 1766.0,496.2C1763.8,488.9 1760.4,478.0 1757.5,470.1C1754.6,462.1 1751.5,455.0 1748.8,448.5C1746.0,442.1 1744.3,438.7 1741.0,431.6C1737.7,424.5 1732.6,414.2 1728.8,406.1C1725.0,398.1 1721.1,390.8 1718.2,383.3C1715.2,375.8 1712.9,368.1 1711.1,361.1C1709.3,354.2 1707.6,348.7 1707.3,341.5C1707.0,334.4 1707.4,326.6 1709.2,318.0C1711.0,309.5 1714.8,298.3 1718.0,290.0C1721.2,281.7 1725.5,274.7 1728.2,268.5C1730.9,262.3 1732.8,258.1 1734.3,252.8C1735.8,247.5 1736.5,241.4 1737.0,236.5C1737.5,231.6 1737.8,227.8 1737.5,223.4C1737.2,219.1 1736.3,214.6 1735.0,210.4C1733.7,206.1 1731.7,201.8 1729.8,198.0C1727.9,194.2 1726.3,191.9 1723.4,187.5C1720.5,183.2 1715.6,176.7 1712.4,171.9C1709.2,167.1 1707.0,164.2 1704.0,158.8C1701.0,153.5 1696.5,146.0 1694.4,139.9C1692.3,133.8 1691.4,127.7 1691.2,122.3C1691.0,116.9 1689.8,112.6 1693.0,107.3C1696.2,102.0 1707.6,93.2 1710.5,90.3Z" fill="#e1812c" stroke="#353535" stroke-width="2.8" stroke-linejoin="round"/>
<line x1="1447.2" y1="513.8" x2="1890.6" y2="513.8" stroke="#c4c4c4" stroke-width="1.6"/>
<line x1="1447.2" y1="448.5" x2="1890.6" y2="448.5" stroke="#c4c4c4" stroke-width="1.6"/>
<line x1="1447.2" y1="383.3" x2="1890.6" y2="383.3" stroke="#c4c4c4" stroke-width="1.6"/>
<line x1="1447.2" y1="318" x2="1890.6" y2="318" stroke="#c4c4c4" stroke-width="1.6"/>
<line x1="1447.2" y1="252.8" x2="1890.6" y2="252.8" stroke="#c4c4c4" stroke-width="1.6"/>
<line x1="1447.2" y1="187.5" x2="1890.6" y2="187.5" stroke="#c4c4c4" stroke-width="1.6"/>
<line x1="1447.2" y1="122.3" x2="1890.6" y2="122.3" stroke="#c4c4c4" stroke-width="1.6"/>
<line x1="1447.2" y1="57" x2="1890.6" y2="57" stroke="#c4c4c4" stroke-width="1.6"/>
<path d="M1538.5 287.4h0M1550.7 428.9h0M1579.7 247.5h0M1542.6 278.1h0M1560.6 143.7h0M1545.5 411.9h0M1538.0 90.5h0M1573.2 175.1h0M1542.0 99.3h0M1542.3 511.2h0M1572.4 313.3h0M1547.1 202.2h0M1545.2 389.6h0M1577.9 376.0h0M1545.0 401.0h0M1573.0 231.4h0M1549.9 87.3h0M1561.3 398.9h0M1550.1 366.6h0M1551.3 409.7h0M1577.4 127.4h0M1576.3 281.7h0M1544.1 218.2h0M1568.3 437.3h0M1542.5 366.8h0M1549.6 314.4h0M1539.5 106.9h0M1564.9 100.2h0M1568.4 508.2h0M1569.2 211.1h0M1570.5 149.4h0M1553.8 214.0h0M1544.2 349.1h0M1536.6 360.6h0M1555.8 145.6h0M1577.5 352.9h0M1556.1 126.9h0M1563.5 99.6h0M1576.7 348.2h0M1574.4 336.8h0M1569.0 152.8h0M1562.5 139.1h0M1546.6 368.2h0M1569.3 342.5h0M1554.8 406.2h0M1567.5 353.6h0M1546.2 279.7h0M1577.8 129.2h0M1543.6 355.5h0M1571.2 84.9h0M1575.6 237.0h0M1543.1 385.5h0M1574.5 156.6h0M1564.8 411.9h0M1563.0 174.9h0M1547.6 129.1h0M1550.8 358.4h0M1546.7 160.3h0M1555.8 213.4h0M1564.9 488.9h0M1568.5 405.3h0M1567.5 423.1h0M1551.7 439.3h0M1551.2 473.5h0M1570.0 132.8h0M1579.3 458.8h0M1546.2 218.8h0M1554.6 476.4h0M1548.6 245.1h0M1579.3 440.5h0M1537.1 356.4h0M1575.7 351.0h0M1570.2 452.5h0M1551.0 176.9h0M1566.3 129.9h0M1552.7 324.0h0M1564.4 441.2h0M1555.1 389.6h0M1576.7 410.8h0M1556.5 151.8h0M1572.1 282.9h0M1561.8 248.8h0M1552.8 95.7h0M1578.9 155.2h0M1545.0 283.9h0M1576.4 240.1h0M1579.6 403.2h0M1573.8 409.0h0M1563.3 373.3h0M1563.8 502.0h0M1577.3 513.8h0M1555.5 513.8h0" stroke="#000" stroke-width="2.5" stroke-linecap="round" fill="none"/>
<path d="M1759.6 164.7h0M1793.8 150.2h0M1765.3 237.5h0M1772.4 483.3h0M1780.2 202.4h0M1762.5 129.1h0M1776.2 336.6h0M1773.2 183.1h0M1761.4 101.6h0M1784.1 150.2h0M1777.4 117.7h0M1764.6 122.0h0M1792.3 324.0h0M1775.6 219.1h0M1758.7 115.1h0M1796.3 187.7h0M1775.6 217.8h0M1761.6 111.4h0M1770.3 400.4h0M1768.8 356.7h0M1759.5 354.0h0M1772.2 326.4h0M1765.0 446.5h0M1767.0 132.0h0M1787.3 381.0h0M1764.6 142.6h0M1758.5 377.3h0M1765.5 417.8h0M1770.6 369.5h0M1764.9 135.1h0M1783.9 367.7h0M1796.3 109.5h0M1794.1 90.8h0M1778.3 194.8h0M1792.2 322.0h0M1792.4 283.8h0M1785.5 159.4h0M1792.9 383.5h0M1774.3 126.7h0M1790.5 372.2h0M1780.6 193.0h0M1790.1 134.3h0M1790.1 390.1h0M1760.5 411.0h0M1794.3 488.3h0M1759.2 227.8h0M1776.4 340.3h0M1783.6 189.4h0M1793.8 93.2h0M1760.1 91.6h0M1787.1 102.1h0M1772.8 345.2h0M1759.4 245.1h0M1772.2 306.2h0M1785.8 201.5h0M1761.2 495.6h0M1794.9 251.0h0M1759.5 336.2h0M1768.1 128.7h0M1772.1 384.7h0M1760.4 374.4h0M1798.3 311.1h0M1800.1 273.8h0M1797.4 201.6h0M1766.3 222.2h0M1794.3 144.7h0M1772.5 132.5h0M1770.3 470.3h0M1788.0 341.3h0M1761.4 142.8h0M1757.8 137.8h0M1798.6 92.8h0M1773.2 165.0h0M1792.6 99.3h0M1776.3 149.5h0M1761.7 215.4h0M1778.5 426.9h0M1765.1 414.3h0M1761.2 308.1h0M1758.4 103.0h0M1775.2 149.4h0M1769.0 233.7h0M1772.4 144.8h0M1799.9 291.5h0M1794.1 354.8h0M1788.7 122.8h0M1768.3 149.8h0M1790.6 276.5h0M1788.3 148.9h0M1780.8 92.1h0M1768.1 513.8h0" stroke="#000" stroke-width="2.5" stroke-linecap="round" fill="none"/>
<line x1="1448.2" y1="248.9" x2="1889.6" y2="248.9" stroke="#ee0000" stroke-width="3.3" stroke-dasharray="12.2 5.3"/>
<line x1="1448.2" y1="274.3" x2="1889.6" y2="274.3" stroke="#ee0000" stroke-width="3.3"/>
<line x1="1448.2" y1="293.9" x2="1889.6" y2="293.9" stroke="#0000ee" stroke-width="3.3" stroke-dasharray="12.2 5.3"/>
<line x1="1448.2" y1="337.6" x2="1889.6" y2="337.6" stroke="#0000ee" stroke-width="3.3"/>
<rect x="1712.4" y="65.3" width="167.9" height="120.1" rx="4" fill="#fff" fill-opacity="0.8" stroke="#cccccc" stroke-width="1.3"/>
<line x1="1720" y1="81.1" x2="1730.3" y2="81.1" stroke="#0000ee" stroke-width="3.3"/>
<text x="1738.6" y="87.9" font-size="19" textLength="116.3" lengthAdjust="spacingAndGlyphs" fill="#000">Mean(Tau22)</text>
<line x1="1718.5" y1="109.8" x2="1731.8" y2="109.8" stroke="#0000ee" stroke-width="3.3"/>
<text x="1738.6" y="116.6" font-size="19" textLength="131.8" lengthAdjust="spacingAndGlyphs" fill="#000">Median(Tau22)</text>
<line x1="1720" y1="138.8" x2="1730.3" y2="138.8" stroke="#ee0000" stroke-width="3.3"/>
<text x="1738.6" y="145.6" font-size="19" fill="#000">Mean(WT)</text>
<line x1="1718.5" y1="167.8" x2="1731.8" y2="167.8" stroke="#ee0000" stroke-width="3.3"/>
<text x="1738.6" y="174.6" font-size="19" fill="#000">Median(WT)</text>
<line x1="1439.2" y1="513.8" x2="1447.2" y2="513.8" stroke="#000" stroke-width="1.6"/>
<text x="1430.7" y="521.3" font-size="21" text-anchor="end" fill="#000">0</text>
<line x1="1439.2" y1="448.5" x2="1447.2" y2="448.5" stroke="#000" stroke-width="1.6"/>
<text x="1430.7" y="456" font-size="21" text-anchor="end" fill="#000">1</text>
<line x1="1439.2" y1="383.3" x2="1447.2" y2="383.3" stroke="#000" stroke-width="1.6"/>
<text x="1430.7" y="390.8" font-size="21" text-anchor="end" fill="#000">2</text>
<line x1="1439.2" y1="318" x2="1447.2" y2="318" stroke="#000" stroke-width="1.6"/>
<text x="1430.7" y="325.5" font-size="21" text-anchor="end" fill="#000">3</text>
<line x1="1439.2" y1="252.8" x2="1447.2" y2="252.8" stroke="#000" stroke-width="1.6"/>
<text x="1430.7" y="260.3" font-size="21" text-anchor="end" fill="#000">4</text>
<line x1="1439.2" y1="187.5" x2="1447.2" y2="187.5" stroke="#000" stroke-width="1.6"/>
<text x="1430.7" y="195" font-size="21" text-anchor="end" fill="#000">5</text>
<line x1="1439.2" y1="122.3" x2="1447.2" y2="122.3" stroke="#000" stroke-width="1.6"/>
<text x="1430.7" y="129.8" font-size="21" text-anchor="end" fill="#000">6</text>
<line x1="1439.2" y1="57" x2="1447.2" y2="57" stroke="#000" stroke-width="1.6"/>
<text x="1430.7" y="64.5" font-size="21" text-anchor="end" fill="#000">7</text>
<line x1="1558.4" y1="534.4" x2="1558.4" y2="541.9" stroke="#000" stroke-width="1.6"/>
<line x1="1779.6" y1="534.4" x2="1779.6" y2="541.9" stroke="#000" stroke-width="1.6"/>
<rect x="1447.2" y="55.7" width="443.4" height="478.7" fill="none" stroke="#000" stroke-width="2"/>
</g>
<g>
<path d="M903.0,772.3C903.7,775.1 905.5,781.6 907.2,788.7C908.9,795.7 911.2,804.7 913.2,814.4C915.2,824.2 917.4,838.5 919.4,847.1C921.4,855.6 923.4,860.7 925.2,866.0C927.0,871.2 926.9,872.4 930.2,878.8C933.5,885.3 939.6,895.6 944.8,904.6C950.0,913.6 956.1,924.4 961.2,932.9C966.3,941.5 971.4,949.4 975.2,956.1C979.0,962.9 981.7,967.3 983.8,973.3C985.9,979.3 987.6,985.8 987.6,992.2C987.6,998.6 985.1,1007.0 983.8,1011.4C982.5,1015.9 982.0,1015.6 979.6,1018.8C977.2,1022.1 973.0,1026.7 969.6,1030.8C966.2,1035.0 962.7,1039.4 959.3,1043.7C955.9,1048.0 951.7,1052.3 949.0,1056.6C946.3,1060.9 944.1,1065.2 942.9,1069.5C941.7,1073.8 941.7,1078.1 941.6,1082.4C941.5,1086.7 942.3,1091.5 942.2,1095.3C942.1,1099.0 941.4,1103.1 941.2,1104.7L854.0,1104.7C853.8,1103.1 853.1,1099.0 853.0,1095.3C852.9,1091.5 853.7,1086.7 853.6,1082.4C853.5,1078.1 853.5,1073.8 852.3,1069.5C851.1,1065.2 848.9,1060.9 846.2,1056.6C843.5,1052.3 839.3,1048.0 835.9,1043.7C832.5,1039.4 829.0,1035.0 825.6,1030.8C822.2,1026.7 818.0,1022.1 815.6,1018.8C813.2,1015.6 812.7,1015.9 811.4,1011.4C810.1,1007.0 807.6,998.6 807.6,992.2C807.6,985.8 809.3,979.3 811.4,973.3C813.5,967.3 816.2,962.9 820.0,956.1C823.8,949.4 828.9,941.5 834.0,932.9C839.1,924.4 845.2,913.6 850.4,904.6C855.6,895.6 861.7,885.3 865.0,878.8C868.3,872.4 868.2,871.2 870.0,866.0C871.8,860.7 873.8,855.6 875.8,847.1C877.8,838.5 880.0,824.2 882.0,814.4C884.0,804.7 886.3,795.7 888.0,788.7C889.7,781.6 891.5,775.1 892.2,772.3Z" fill="#3274a1" stroke="#353535" stroke-width="2.8" stroke-linejoin="round"/>
<path d="M1124.9,659.0C1125.1,662.3 1125.3,659.8 1126.3,678.7C1127.3,697.6 1129.5,750.9 1130.8,772.3C1132.1,793.8 1132.7,795.2 1134.0,807.6C1135.3,819.9 1137.3,835.8 1138.5,846.2C1139.7,856.6 1140.2,865.0 1140.9,870.2C1141.5,875.5 1141.0,873.7 1142.4,878.0C1143.8,882.3 1146.6,889.9 1149.4,896.0C1152.2,902.2 1156.1,908.8 1159.4,914.9C1162.7,921.1 1165.2,926.5 1169.1,932.9C1173.0,939.4 1178.0,947.1 1182.6,953.8C1187.1,960.5 1192.0,966.8 1196.4,973.3C1200.8,979.8 1205.9,986.5 1208.7,992.5C1211.5,998.6 1212.6,1005.0 1213.2,1009.4C1213.8,1013.8 1213.8,1014.1 1212.2,1018.8C1210.7,1023.5 1206.9,1031.4 1203.9,1037.7C1200.9,1044.0 1196.5,1050.2 1194.2,1056.6C1191.9,1063.0 1191.0,1070.9 1190.0,1076.4C1189.0,1081.8 1189.2,1084.5 1188.1,1089.2C1187.0,1094.0 1184.3,1102.1 1183.6,1104.7L1064.0,1104.7C1063.2,1102.1 1060.6,1094.0 1059.5,1089.2C1058.4,1084.5 1058.6,1081.8 1057.6,1076.4C1056.6,1070.9 1055.7,1063.0 1053.4,1056.6C1051.1,1050.2 1046.7,1044.0 1043.7,1037.7C1040.7,1031.4 1036.9,1023.5 1035.4,1018.8C1033.8,1014.1 1033.8,1013.8 1034.4,1009.4C1035.0,1005.0 1036.1,998.6 1038.9,992.5C1041.7,986.5 1046.8,979.8 1051.2,973.3C1055.6,966.8 1060.5,960.5 1065.0,953.8C1069.5,947.1 1074.6,939.4 1078.5,932.9C1082.4,926.5 1084.9,921.1 1088.2,914.9C1091.5,908.8 1095.4,902.2 1098.2,896.0C1101.0,889.9 1103.8,882.3 1105.2,878.0C1106.6,873.7 1106.1,875.5 1106.7,870.2C1107.3,865.0 1107.9,856.6 1109.1,846.2C1110.2,835.8 1112.3,819.9 1113.6,807.6C1114.9,795.2 1115.5,793.8 1116.8,772.3C1118.1,750.9 1120.3,697.6 1121.3,678.7C1122.3,659.8 1122.5,662.3 1122.7,659.0Z" fill="#e1812c" stroke="#353535" stroke-width="2.8" stroke-linejoin="round"/>
<line x1="784.3" y1="1104.7" x2="1236" y2="1104.7" stroke="#c4c4c4" stroke-width="1.6"/>
<line x1="784.3" y1="1018.8" x2="1236" y2="1018.8" stroke="#c4c4c4" stroke-width="1.6"/>
<line x1="784.3" y1="932.9" x2="1236" y2="932.9" stroke="#c4c4c4" stroke-width="1.6"/>
<line x1="784.3" y1="847.1" x2="1236" y2="847.1" stroke="#c4c4c4" stroke-width="1.6"/>
<line x1="784.3" y1="761.2" x2="1236" y2="761.2" stroke="#c4c4c4" stroke-width="1.6"/>
<line x1="784.3" y1="675.3" x2="1236" y2="675.3" stroke="#c4c4c4" stroke-width="1.6"/>
<path d="M894.0 1035.6h0M896.1 1012.8h0M876.2 949.9h0M917.9 1051.3h0M915.9 798.1h0M880.1 1031.0h0M899.9 980.5h0M889.4 893.4h0M884.9 839.4h0M887.7 1049.1h0M878.0 1102.1h0M905.9 1037.6h0M891.7 959.2h0M906.4 865.4h0M911.5 986.0h0M900.8 998.6h0M890.7 850.1h0M881.8 1075.6h0M904.3 853.4h0M905.3 895.9h0M910.0 799.4h0M881.7 909.0h0M877.6 1065.4h0M914.3 1083.8h0M902.3 882.8h0M879.7 1015.4h0M906.8 970.2h0M878.1 1009.9h0M903.4 983.9h0M900.0 957.8h0M907.1 1082.0h0M879.7 1074.6h0M915.6 982.6h0M917.0 847.9h0M918.9 949.2h0M909.3 1020.9h0M889.3 965.4h0M918.7 882.3h0M902.6 912.3h0M907.2 1026.6h0M904.7 1028.5h0M884.7 967.8h0M913.1 912.1h0M904.1 1059.9h0M885.3 1033.6h0M892.2 1058.4h0M881.9 900.5h0M894.6 1101.1h0M919.1 1023.8h0M892.5 1054.2h0M893.0 1082.8h0M910.9 949.3h0M879.2 977.5h0M880.9 999.6h0M908.4 1066.5h0M881.3 1075.5h0M902.5 852.4h0M911.5 955.5h0M900.4 879.3h0M879.1 1041.4h0M884.7 988.6h0M899.4 919.7h0M917.6 966.1h0M904.4 1095.8h0M906.3 1053.0h0M901.8 920.0h0M889.9 938.3h0M902.3 1000.2h0M876.0 1037.6h0M893.8 855.2h0M911.3 914.2h0M884.6 945.5h0M904.1 995.3h0M907.3 1076.6h0M882.5 1080.2h0M913.3 996.8h0M886.3 1087.4h0M918.0 1036.9h0M890.8 1055.6h0M902.5 981.8h0M917.3 949.2h0M911.7 1088.7h0M897.0 1024.4h0M884.2 889.2h0M902.7 1009.1h0M901.5 842.2h0M878.4 1064.9h0M892.4 1050.1h0M916.1 916.7h0M898.7 1008.4h0M883.6 1009.2h0M903.9 1002.5h0M895.6 1035.8h0M915.8 968.3h0M897.2 1028.6h0M876.7 910.7h0M882.7 982.2h0M883.3 856.9h0M917.5 1025.1h0M891.4 968.0h0M890.9 988.8h0M918.5 1052.8h0M884.7 998.2h0M903.0 890.8h0M917.3 897.6h0M915.6 909.5h0M882.7 1007.1h0M896.3 899.7h0M886.7 980.1h0M906.4 1022.4h0M886.4 970.7h0M883.4 980.6h0M887.6 917.3h0M881.4 1022.6h0M907.1 978.2h0M887.9 966.9h0M893.2 1008.9h0M887.7 798.9h0M892.3 865.9h0M889.0 963.1h0M891.2 987.6h0M906.8 1062.0h0M883.2 956.9h0M905.8 885.9h0M890.9 954.2h0M879.7 983.3h0M880.9 1101.7h0M915.2 939.2h0M877.4 941.9h0M887.8 850.4h0M913.6 955.1h0M879.1 952.1h0M884.9 1007.8h0M887.4 1084.8h0M912.4 829.6h0M880.7 876.6h0M917.2 899.2h0M880.9 817.0h0M900.5 1011.4h0M909.6 931.7h0M900.2 1075.6h0M897.9 1103.8h0M894.9 1095.7h0M886.7 968.9h0M919.3 779.8h0M893.4 927.1h0M903.7 1092.4h0M901.2 863.0h0M917.9 846.6h0M886.3 960.9h0M882.4 991.5h0M915.2 1096.2h0M898.0 1077.3h0M903.8 1017.0h0M903.1 889.0h0M910.0 977.3h0M912.5 942.9h0M906.5 1078.2h0M875.8 1102.5h0M912.4 983.2h0M877.5 933.3h0M913.3 1020.5h0M875.6 910.2h0M909.7 915.7h0M903.7 908.9h0M876.7 970.9h0M908.8 1000.8h0M901.1 993.6h0M880.9 1100.2h0M914.2 925.1h0M901.6 880.7h0M896.0 947.7h0M917.2 1022.2h0M884.5 1097.9h0M883.4 869.3h0M914.9 1002.6h0M882.7 975.9h0M911.6 925.8h0M884.8 1091.0h0M911.4 946.6h0M893.6 1043.1h0M902.8 1038.6h0M902.3 958.8h0M893.0 925.0h0M898.4 949.0h0M904.2 937.3h0M881.6 1065.0h0M915.9 1039.8h0M911.8 986.3h0M884.8 792.9h0M885.5 1027.9h0M893.0 1100.6h0M909.6 839.3h0M898.3 975.2h0M889.5 987.7h0M909.4 882.0h0M884.2 1064.7h0M906.8 1082.1h0M908.8 948.6h0M880.1 1067.5h0M900.7 880.8h0M901.7 1032.2h0M918.3 1019.5h0M888.7 972.0h0M895.8 1014.0h0M916.8 1068.7h0M881.3 798.2h0M915.1 1087.7h0M891.7 1081.5h0M890.7 987.1h0M919.4 1048.3h0M892.8 966.7h0M886.5 902.6h0M884.7 958.7h0M906.2 935.8h0M903.6 902.6h0M886.1 1033.1h0M897.4 926.9h0M888.2 869.6h0M912.4 993.8h0M891.3 887.4h0M902.7 1014.0h0M915.8 1033.0h0M886.1 1044.7h0M917.5 957.4h0M897.0 943.9h0M903.8 1068.7h0M887.6 930.0h0M906.2 891.3h0M907.4 915.0h0M901.7 1017.4h0M913.6 973.3h0M896.4 1005.5h0M876.3 902.0h0M915.8 885.8h0M900.6 927.2h0M902.7 915.7h0M901.9 986.5h0M877.4 1029.7h0M888.3 988.5h0M879.6 884.7h0M904.2 975.4h0M913.2 1004.0h0M904.7 802.7h0M911.4 956.2h0M890.2 987.2h0M877.0 807.3h0M893.6 818.2h0M883.0 879.5h0M889.0 839.7h0M886.1 1003.3h0M883.5 866.5h0M905.9 933.6h0M901.9 1099.1h0M911.8 987.0h0M918.9 935.3h0M886.1 973.5h0M916.9 985.4h0M909.4 958.4h0M900.4 892.3h0M918.4 1104.7h0M898.1 1104.7h0M876.8 1104.7h0M881.1 1104.7h0M889.4 1104.7h0M906.2 1104.7h0M900.5 1104.7h0M905.7 1104.7h0M876.4 1104.7h0M886.5 1104.7h0M900.0 1104.7h0M904.4 1104.7h0M894.6 1104.7h0M885.2 1104.7h0M889.2 1104.7h0M909.1 1104.7h0M907.2 1104.7h0M886.5 1104.7h0M917.4 1104.7h0M877.5 1104.7h0M885.9 1104.7h0M894.9 1104.7h0M911.0 1104.7h0M900.5 1104.7h0M905.3 1104.7h0M917.5 1104.7h0M891.7 1104.7h0M883.6 1104.7h0M893.6 1104.7h0M900.4 1104.7h0M881.5 1104.7h0M877.3 1104.7h0M907.5 1104.7h0M919.1 1104.7h0M916.6 1104.7h0M892.2 1104.7h0M895.6 1104.7h0M912.1 1104.7h0M918.9 1104.7h0M891.3 1104.7h0M917.5 1104.7h0M906.3 1104.7h0M882.1 1104.7h0M895.4 1104.7h0M875.7 1104.7h0M893.5 1104.7h0M898.6 1104.7h0M910.7 1104.7h0M890.1 1104.7h0M904.2 1104.7h0M904.8 1104.7h0M898.7 1104.7h0M902.6 1104.7h0M895.8 1104.7h0M902.5 1104.7h0M895.9 1104.7h0M915.7 1104.7h0M880.6 1104.7h0M913.6 1104.7h0M908.4 1104.7h0" stroke="#000" stroke-width="2.5" stroke-linecap="round" fill="none"/>
<path d="M1130.9 943.0h0M1124.2 1007.0h0M1140.8 986.1h0M1102.6 981.2h0M1116.0 826.0h0M1122.8 1067.7h0M1105.0 896.8h0M1130.2 975.3h0M1139.1 1006.9h0M1141.7 980.6h0M1108.1 856.3h0M1124.1 829.0h0M1145.1 1040.8h0M1104.9 1008.8h0M1132.8 733.4h0M1114.4 1023.6h0M1141.8 1029.3h0M1128.6 1086.0h0M1141.2 1016.0h0M1104.0 909.4h0M1128.4 977.0h0M1120.3 985.2h0M1106.5 985.4h0M1119.8 915.0h0M1134.4 973.1h0M1127.4 802.1h0M1127.9 1076.1h0M1114.1 933.4h0M1124.2 730.5h0M1121.4 924.0h0M1141.8 977.1h0M1140.4 985.7h0M1121.0 1014.8h0M1123.9 1091.4h0M1114.7 988.4h0M1126.7 780.6h0M1107.5 1046.8h0M1144.3 1025.4h0M1120.0 1004.9h0M1102.2 977.5h0M1114.9 1075.1h0M1143.6 912.8h0M1115.5 781.0h0M1118.8 895.0h0M1144.7 983.9h0M1136.3 1052.8h0M1117.7 822.4h0M1109.1 1013.7h0M1119.0 1032.7h0M1118.2 1005.0h0M1141.2 1028.1h0M1125.5 771.3h0M1142.5 997.3h0M1145.2 916.1h0M1140.1 1012.1h0M1119.7 958.2h0M1119.0 920.1h0M1125.9 1098.1h0M1131.7 1054.2h0M1139.1 1038.3h0M1137.8 1038.7h0M1115.6 993.6h0M1134.2 948.6h0M1118.3 946.7h0M1136.0 1000.9h0M1102.4 992.8h0M1139.1 1090.0h0M1132.5 966.6h0M1108.3 927.3h0M1112.8 1040.3h0M1115.5 1086.7h0M1124.4 830.6h0M1141.6 1023.8h0M1144.5 1061.4h0M1128.3 891.5h0M1106.6 971.4h0M1144.8 1005.3h0M1144.1 958.3h0M1105.7 1030.8h0M1131.1 1008.1h0M1131.1 970.6h0M1130.9 871.3h0M1133.7 719.9h0M1102.0 1029.8h0M1115.4 934.3h0M1116.7 950.0h0M1130.4 879.6h0M1106.0 994.5h0M1114.0 805.5h0M1109.5 989.4h0M1103.9 1020.2h0M1122.6 807.1h0M1110.8 991.6h0M1123.0 1086.5h0M1110.9 1011.8h0M1136.6 954.6h0M1106.7 1068.4h0M1135.7 963.6h0M1130.7 1065.4h0M1108.8 1024.7h0M1118.5 1049.3h0M1118.6 877.4h0M1121.8 954.7h0M1131.5 754.6h0M1102.5 1061.2h0M1109.1 1014.5h0M1132.5 1052.7h0M1105.9 868.6h0M1138.9 969.9h0M1118.1 1004.0h0M1103.4 1036.0h0M1135.6 968.4h0M1112.6 1083.1h0M1145.7 1054.8h0M1142.4 1017.7h0M1140.8 981.8h0M1140.7 1007.5h0M1105.0 1064.2h0M1103.0 1006.3h0M1119.4 1029.6h0M1120.3 1058.7h0M1119.8 1050.6h0M1128.1 961.4h0M1136.3 1032.8h0M1136.5 1088.8h0M1142.7 964.6h0M1131.6 931.9h0M1140.4 1020.9h0M1105.8 923.9h0M1102.9 1021.7h0M1121.7 1072.9h0M1140.6 720.0h0M1118.8 1061.5h0M1106.7 1008.5h0M1107.4 1074.5h0M1111.9 1056.6h0M1139.8 991.1h0M1116.6 964.7h0M1139.6 994.9h0M1143.3 997.7h0M1135.9 1089.0h0M1142.4 996.8h0M1113.0 1001.4h0M1110.4 991.6h0M1112.4 993.4h0M1102.6 1066.7h0M1142.8 953.5h0M1110.9 943.6h0M1129.5 841.2h0M1114.3 1080.8h0M1125.6 1031.5h0M1121.0 966.5h0M1133.5 1040.1h0M1110.6 853.2h0M1114.5 743.9h0M1107.9 1041.6h0M1116.1 969.3h0M1138.5 985.9h0M1144.2 1009.0h0M1102.5 761.5h0M1139.0 981.9h0M1134.1 968.4h0M1105.3 1075.2h0M1108.9 849.8h0M1139.9 675.1h0M1110.3 963.9h0M1141.8 1055.0h0M1125.6 1067.7h0M1145.1 839.3h0M1124.0 1009.0h0M1107.6 1069.2h0M1128.5 999.8h0M1121.4 1064.6h0M1104.9 920.0h0M1137.8 1016.4h0M1141.4 985.1h0M1144.2 859.1h0M1130.1 1011.2h0M1127.5 895.6h0M1110.4 789.1h0M1144.2 721.8h0M1134.1 1082.7h0M1131.2 901.4h0M1132.4 759.8h0M1138.8 966.7h0M1116.9 1041.4h0M1106.7 1027.9h0M1145.4 1079.9h0M1103.2 1064.4h0M1113.8 1087.3h0M1123.4 1026.3h0M1103.6 1025.9h0M1115.5 894.1h0M1140.1 909.2h0M1129.3 772.1h0M1127.5 1024.5h0M1102.6 1079.3h0M1120.6 932.4h0M1107.2 834.9h0M1118.8 1072.5h0M1118.9 1075.8h0M1120.5 1048.4h0M1115.7 973.2h0M1136.2 985.8h0M1122.2 998.9h0M1141.8 954.2h0M1116.9 1075.2h0M1108.1 1038.4h0M1117.4 985.1h0M1140.2 1053.0h0M1117.6 1100.3h0M1137.9 996.7h0M1132.3 1006.4h0M1113.2 834.7h0M1110.2 998.1h0M1106.8 891.5h0M1121.6 1038.8h0M1132.4 919.9h0M1114.7 1077.7h0M1143.8 903.6h0M1102.4 1050.3h0M1136.4 1040.9h0M1109.3 920.3h0M1145.7 817.6h0M1106.1 861.3h0M1142.3 1045.9h0M1119.5 948.5h0M1114.4 983.4h0M1103.6 1067.8h0M1111.5 971.7h0M1118.7 958.0h0M1143.0 1032.9h0M1144.4 1083.6h0M1105.3 735.2h0M1126.5 984.3h0M1103.2 1088.2h0M1106.4 933.4h0M1128.9 1022.0h0M1125.0 979.6h0M1141.4 1067.5h0M1141.6 968.5h0M1108.8 770.4h0M1129.7 714.2h0M1137.3 886.3h0M1135.8 1087.3h0M1126.8 987.9h0M1124.3 946.4h0M1126.9 901.6h0M1120.0 917.4h0M1126.7 1044.1h0M1141.0 1025.3h0M1117.1 1020.5h0M1121.2 1021.1h0M1121.1 1085.8h0M1139.9 988.8h0M1112.6 934.5h0M1121.1 1100.3h0M1134.9 975.4h0M1119.1 1086.8h0M1139.4 854.1h0M1125.5 1098.0h0M1106.2 755.5h0M1117.9 915.8h0M1108.2 951.4h0M1121.1 870.8h0M1117.8 1096.8h0M1116.7 937.4h0M1138.3 965.3h0M1141.3 1029.7h0M1135.1 1023.6h0M1135.5 1075.7h0M1141.1 711.3h0M1142.2 1063.7h0M1109.5 1047.8h0M1141.3 1024.7h0M1108.9 1102.8h0M1113.8 845.6h0M1136.6 686.6h0M1108.1 1018.3h0M1144.2 944.3h0M1142.8 1095.1h0M1101.8 947.1h0M1129.8 1046.4h0M1142.5 936.2h0M1125.6 1023.0h0M1125.4 756.5h0M1127.6 1011.7h0M1126.1 897.0h0M1127.4 720.4h0M1131.7 1058.7h0M1143.9 1102.3h0M1105.4 1013.0h0M1112.1 786.8h0M1102.1 972.0h0M1104.7 986.7h0M1110.7 1024.4h0M1141.5 999.9h0M1115.7 1064.1h0M1128.3 1007.1h0M1115.6 1025.1h0M1145.3 955.7h0M1110.3 876.8h0M1119.2 986.8h0M1118.1 1022.3h0M1111.2 952.9h0M1105.1 992.6h0M1119.0 1054.9h0M1110.7 1076.6h0M1102.8 998.5h0M1140.8 965.4h0M1116.9 891.9h0M1102.3 954.6h0M1128.9 916.1h0M1122.8 969.0h0M1132.1 1019.3h0M1117.6 1063.5h0M1108.0 1028.6h0M1129.9 979.9h0M1119.3 950.3h0M1140.4 1011.1h0M1116.2 1018.8h0M1111.6 1070.0h0M1110.0 983.1h0M1113.1 1096.1h0M1112.3 1101.6h0M1124.8 905.9h0M1118.2 943.6h0M1144.5 1017.8h0M1110.8 930.3h0M1143.2 1034.9h0M1116.6 1091.9h0M1123.1 1028.9h0M1144.0 1057.7h0M1136.1 1069.2h0M1143.5 973.6h0M1125.5 947.2h0M1115.8 1003.9h0M1131.5 973.7h0M1131.9 1084.9h0M1103.6 1077.3h0M1106.5 848.2h0M1143.4 868.6h0M1133.5 1078.0h0M1138.0 1003.8h0M1110.1 1012.8h0M1144.7 1081.1h0M1115.0 1048.7h0M1108.0 1032.5h0M1117.6 991.6h0M1117.3 1080.2h0M1104.4 993.6h0M1139.0 696.1h0M1140.1 928.5h0M1110.5 934.8h0M1126.0 987.4h0M1140.1 1009.8h0M1118.4 766.2h0M1124.2 1045.9h0M1112.5 694.6h0M1122.4 668.1h0M1115.5 1104.7h0M1138.1 1104.7h0M1108.8 1104.7h0M1103.3 1104.7h0M1141.4 1104.7h0M1109.4 1104.7h0M1126.0 1104.7h0M1133.0 1104.7h0M1116.2 1104.7h0M1142.7 1104.7h0M1116.7 1104.7h0M1110.5 1104.7h0M1104.7 1104.7h0M1141.4 1104.7h0M1111.3 1104.7h0M1141.3 1104.7h0M1121.9 1104.7h0M1142.8 1104.7h0M1105.6 1104.7h0M1139.4 1104.7h0M1144.9 1104.7h0M1133.1 1104.7h0M1107.7 1104.7h0M1145.7 1104.7h0M1137.1 1104.7h0M1111.0 1104.7h0M1144.5 1104.7h0M1105.6 1104.7h0M1107.5 1104.7h0M1102.5 1104.7h0M1127.9 1104.7h0M1119.6 1104.7h0M1105.6 1104.7h0M1123.5 1104.7h0M1140.6 1104.7h0M1105.9 1104.7h0M1129.9 1104.7h0M1109.2 1104.7h0M1124.3 1104.7h0M1116.9 1104.7h0M1113.9 1104.7h0M1102.3 1104.7h0M1127.3 1104.7h0M1121.3 1104.7h0M1132.2 1104.7h0M1109.9 1104.7h0M1145.1 1104.7h0M1102.7 1104.7h0M1110.4 1104.7h0M1130.0 1104.7h0M1107.7 1104.7h0M1113.3 1104.7h0M1123.9 1104.7h0M1135.1 1104.7h0M1139.8 1104.7h0M1115.7 1104.7h0M1130.7 1104.7h0M1102.8 1104.7h0M1141.0 1104.7h0M1131.4 1104.7h0" stroke="#000" stroke-width="2.5" stroke-linecap="round" fill="none"/>
<line x1="785.3" y1="983.9" x2="1235" y2="983.9" stroke="#0000ee" stroke-width="3.3" stroke-dasharray="12.2 5.3"/>
<line x1="785.3" y1="987.9" x2="1235" y2="987.9" stroke="#0000ee" stroke-width="3.3"/>
<line x1="785.3" y1="999.5" x2="1235" y2="999.5" stroke="#ee0000" stroke-width="3.3" stroke-dasharray="12.2 5.3"/>
<line x1="785.3" y1="1009.6" x2="1235" y2="1009.6" stroke="#ee0000" stroke-width="3.3"/>
<rect x="1047.8" y="648.0" width="178.4" height="123.6" rx="4" fill="#fff" fill-opacity="0.8" stroke="#cccccc" stroke-width="1.3"/>
<line x1="1055.7" y1="663.6" x2="1066.2" y2="663.6" stroke="#0000ee" stroke-width="3.3"/>
<text x="1075.5" y="670.4" font-size="19" textLength="126.2" lengthAdjust="spacingAndGlyphs" fill="#000">Mean(TauKO)</text>
<line x1="1054.2" y1="692.8" x2="1067.7" y2="692.8" stroke="#0000ee" stroke-width="3.3"/>
<text x="1075.5" y="699.6" font-size="19" textLength="142.3" lengthAdjust="spacingAndGlyphs" fill="#000">Median(TauKO)</text>
<line x1="1055.7" y1="722.7" x2="1066.2" y2="722.7" stroke="#ee0000" stroke-width="3.3"/>
<text x="1075.5" y="729.5" font-size="19" fill="#000">Mean(WT)</text>
<line x1="1054.2" y1="752.4" x2="1067.7" y2="752.4" stroke="#ee0000" stroke-width="3.3"/>
<text x="1075.5" y="759.2" font-size="19" fill="#000">Median(WT)</text>
<line x1="776.3" y1="1104.7" x2="784.3" y2="1104.7" stroke="#000" stroke-width="1.6"/>
<text x="767.8" y="1112.2" font-size="21" text-anchor="end" fill="#000">0</text>
<line x1="776.3" y1="1018.8" x2="784.3" y2="1018.8" stroke="#000" stroke-width="1.6"/>
<text x="767.8" y="1026.3" font-size="21" text-anchor="end" fill="#000">1</text>
<line x1="776.3" y1="932.9" x2="784.3" y2="932.9" stroke="#000" stroke-width="1.6"/>
<text x="767.8" y="940.4" font-size="21" text-anchor="end" fill="#000">2</text>
<line x1="776.3" y1="847.1" x2="784.3" y2="847.1" stroke="#000" stroke-width="1.6"/>
<text x="767.8" y="854.6" font-size="21" text-anchor="end" fill="#000">3</text>
<line x1="776.3" y1="761.2" x2="784.3" y2="761.2" stroke="#000" stroke-width="1.6"/>
<text x="767.8" y="768.7" font-size="21" text-anchor="end" fill="#000">4</text>
<line x1="776.3" y1="675.3" x2="784.3" y2="675.3" stroke="#000" stroke-width="1.6"/>
<text x="767.8" y="682.8" font-size="21" text-anchor="end" fill="#000">5</text>
<line x1="897.6" y1="1127" x2="897.6" y2="1134.5" stroke="#000" stroke-width="1.6"/>
<line x1="1123.8" y1="1127" x2="1123.8" y2="1134.5" stroke="#000" stroke-width="1.6"/>
<rect x="784.3" y="637.5" width="451.7" height="489.5" fill="none" stroke="#000" stroke-width="2"/>
</g>
<g>
<path d="M1575.4,666.8C1578.4,669.8 1589.1,679.8 1593.7,685.0C1598.3,690.2 1600.3,693.4 1603.1,698.0C1605.9,702.5 1609.2,708.1 1610.5,712.3C1611.8,716.5 1611.5,719.3 1611.2,723.4C1610.9,727.4 1610.0,732.0 1608.6,736.4C1607.2,740.7 1604.9,745.0 1602.7,749.4C1600.5,753.7 1598.4,757.7 1595.4,762.4C1592.4,767.1 1588.4,772.0 1584.5,777.3C1580.6,782.7 1576.2,788.6 1572.2,794.3C1568.2,800.0 1563.7,806.1 1560.7,811.5C1557.7,816.9 1555.9,821.6 1554.2,826.8C1552.5,831.9 1551.3,837.1 1550.3,842.4C1549.3,847.7 1548.6,854.0 1548.1,858.7C1547.6,863.3 1548.1,862.2 1547.4,870.4C1546.7,878.5 1545.3,895.7 1543.9,907.4C1542.5,919.2 1540.5,929.8 1539.1,940.6C1537.6,951.5 1536.3,964.2 1535.2,972.5C1534.1,980.8 1532.8,987.7 1532.3,990.7L1511.9,990.7C1511.4,987.7 1510.1,980.8 1509.0,972.5C1507.9,964.2 1506.5,951.5 1505.1,940.6C1503.6,929.8 1501.7,919.2 1500.3,907.4C1498.9,895.7 1497.5,878.5 1496.8,870.4C1496.1,862.2 1496.6,863.3 1496.1,858.7C1495.6,854.0 1494.9,847.7 1493.9,842.4C1492.9,837.1 1491.7,831.9 1490.0,826.8C1488.3,821.6 1486.5,816.9 1483.5,811.5C1480.5,806.1 1476.0,800.0 1472.0,794.3C1468.0,788.6 1463.6,782.7 1459.7,777.3C1455.8,772.0 1451.8,767.1 1448.8,762.4C1445.8,757.7 1443.7,753.7 1441.5,749.4C1439.3,745.0 1437.0,740.7 1435.6,736.4C1434.2,732.0 1433.3,727.4 1433.0,723.4C1432.7,719.3 1432.3,716.5 1433.7,712.3C1435.0,708.1 1438.3,702.5 1441.1,698.0C1443.9,693.4 1445.9,690.2 1450.5,685.0C1455.1,679.8 1465.8,669.8 1468.8,666.8Z" fill="#3274a1" stroke="#353535" stroke-width="2.8" stroke-linejoin="round"/>
<path d="M1793.8,665.5C1798.1,669.8 1813.6,683.7 1819.8,691.5C1826.0,699.3 1828.4,706.3 1830.8,712.3C1833.2,718.3 1833.9,722.2 1834.0,727.3C1834.1,732.4 1833.7,737.0 1831.4,742.9C1829.2,748.7 1824.0,756.6 1820.5,762.4C1817.0,768.1 1814.3,772.0 1810.5,777.3C1806.7,782.7 1801.6,788.6 1797.9,794.3C1794.2,800.0 1790.7,806.1 1788.3,811.5C1785.9,816.9 1784.8,821.6 1783.8,826.8C1782.8,831.9 1782.5,837.1 1782.5,842.4C1782.5,847.7 1783.2,854.0 1783.9,858.7C1784.6,863.3 1785.4,865.3 1786.7,870.4C1788.0,875.5 1790.0,883.1 1791.5,889.2C1793.0,895.4 1794.4,901.0 1795.4,907.4C1796.4,913.9 1797.6,921.3 1797.6,927.9C1797.7,934.6 1797.5,939.7 1795.7,947.1C1793.9,954.6 1789.8,964.9 1786.7,972.5C1783.6,980.1 1780.4,986.2 1777.0,992.7C1773.6,999.2 1769.5,1004.0 1766.1,1011.5C1762.7,1019.0 1759.0,1030.0 1756.7,1037.5C1754.4,1045.1 1753.5,1050.7 1752.5,1057.1C1751.5,1063.5 1751.1,1068.3 1750.6,1075.9C1750.1,1083.5 1749.8,1098.2 1749.6,1102.6L1742.8,1102.6C1742.6,1098.2 1742.3,1083.5 1741.8,1075.9C1741.3,1068.3 1740.9,1063.5 1739.9,1057.1C1738.9,1050.7 1738.0,1045.1 1735.7,1037.5C1733.4,1030.0 1729.7,1019.0 1726.3,1011.5C1722.9,1004.0 1718.8,999.2 1715.4,992.7C1712.0,986.2 1708.8,980.1 1705.7,972.5C1702.6,964.9 1698.5,954.6 1696.7,947.1C1694.9,939.7 1694.8,934.6 1694.8,927.9C1694.8,921.3 1696.0,913.9 1697.0,907.4C1698.0,901.0 1699.5,895.4 1700.9,889.2C1702.4,883.1 1704.4,875.5 1705.7,870.4C1707.0,865.3 1707.8,863.3 1708.5,858.7C1709.2,854.0 1709.9,847.7 1709.9,842.4C1709.9,837.1 1709.6,831.9 1708.6,826.8C1707.6,821.6 1706.5,816.9 1704.1,811.5C1701.8,806.1 1698.2,800.0 1694.5,794.3C1690.8,788.6 1685.7,782.7 1681.9,777.3C1678.1,772.0 1675.4,768.1 1671.9,762.4C1668.4,756.6 1663.2,748.7 1661.0,742.9C1658.8,737.0 1658.3,732.4 1658.4,727.3C1658.5,722.2 1659.2,718.3 1661.6,712.3C1664.0,706.3 1666.4,699.3 1672.6,691.5C1678.8,683.7 1694.3,669.8 1698.6,665.5Z" fill="#e1812c" stroke="#353535" stroke-width="2.8" stroke-linejoin="round"/>
<line x1="1409.3" y1="1102.6" x2="1858.8" y2="1102.6" stroke="#c4c4c4" stroke-width="1.6"/>
<line x1="1409.3" y1="1037.5" x2="1858.8" y2="1037.5" stroke="#c4c4c4" stroke-width="1.6"/>
<line x1="1409.3" y1="972.5" x2="1858.8" y2="972.5" stroke="#c4c4c4" stroke-width="1.6"/>
<line x1="1409.3" y1="907.4" x2="1858.8" y2="907.4" stroke="#c4c4c4" stroke-width="1.6"/>
<line x1="1409.3" y1="842.4" x2="1858.8" y2="842.4" stroke="#c4c4c4" stroke-width="1.6"/>
<line x1="1409.3" y1="777.3" x2="1858.8" y2="777.3" stroke="#c4c4c4" stroke-width="1.6"/>
<line x1="1409.3" y1="712.3" x2="1858.8" y2="712.3" stroke="#c4c4c4" stroke-width="1.6"/>
<line x1="1409.3" y1="647.2" x2="1858.8" y2="647.2" stroke="#c4c4c4" stroke-width="1.6"/>
<path d="M1511.6 698.4h0M1521.9 761.4h0M1519.5 807.0h0M1501.6 861.6h0M1523.9 946.5h0M1511.8 865.1h0M1542.0 821.3h0M1529.4 806.2h0M1535.7 693.5h0M1501.5 941.3h0M1531.4 777.1h0M1535.4 739.8h0M1520.4 819.0h0M1511.2 739.2h0M1521.5 912.7h0M1524.3 774.6h0M1519.2 714.3h0M1514.1 697.6h0M1529.5 739.4h0M1539.3 710.3h0M1511.9 804.4h0M1538.9 824.6h0M1502.5 685.7h0M1530.4 782.4h0M1515.3 789.7h0M1523.2 687.4h0M1515.7 704.3h0M1503.6 695.7h0M1507.4 754.5h0M1543.5 785.4h0M1518.4 698.4h0M1541.9 745.6h0M1523.0 705.4h0M1539.7 776.5h0M1519.7 888.3h0M1543.7 730.5h0M1521.1 723.8h0M1511.5 736.6h0M1507.8 803.0h0M1503.3 685.8h0M1504.9 984.5h0M1530.1 847.2h0M1516.1 746.0h0M1538.5 723.5h0M1508.8 717.3h0" stroke="#000" stroke-width="2.5" stroke-linecap="round" fill="none"/>
<path d="M1761.5 694.3h0M1752.2 984.6h0M1728.9 751.7h0M1755.6 995.9h0M1746.0 763.7h0M1732.3 964.5h0M1728.7 765.1h0M1735.8 727.6h0M1729.7 738.1h0M1730.2 1097.5h0M1761.3 984.3h0M1766.0 766.5h0M1768.0 728.9h0M1748.8 901.9h0M1749.1 1067.0h0M1726.8 727.9h0M1729.4 724.8h0M1758.1 881.3h0M1749.3 713.6h0M1749.1 695.8h0M1757.3 901.1h0M1760.0 694.7h0M1755.4 690.4h0M1724.7 747.1h0M1748.1 749.0h0M1761.0 933.2h0M1760.3 998.1h0M1766.0 937.7h0M1747.1 829.7h0M1747.2 714.9h0M1725.3 761.4h0M1746.8 677.6h0M1749.0 884.1h0M1764.6 678.7h0M1763.1 798.4h0M1726.9 980.0h0M1730.4 829.8h0M1741.0 707.4h0M1758.5 672.4h0M1731.5 965.6h0M1758.3 853.9h0M1750.3 903.2h0M1762.8 696.5h0M1739.3 927.5h0M1741.9 893.9h0M1726.8 931.7h0M1747.0 745.9h0M1758.3 927.8h0M1746.8 731.2h0M1747.1 720.1h0M1764.5 1102.6h0" stroke="#000" stroke-width="2.5" stroke-linecap="round" fill="none"/>
<line x1="1410.3" y1="741.9" x2="1857.8" y2="741.9" stroke="#0000ee" stroke-width="3.3"/>
<line x1="1410.3" y1="761.5" x2="1857.8" y2="761.5" stroke="#ee0000" stroke-width="3.3"/>
<line x1="1410.3" y1="768.2" x2="1857.8" y2="768.2" stroke="#0000ee" stroke-width="3.3" stroke-dasharray="12.2 5.3"/>
<line x1="1410.3" y1="811.5" x2="1857.8" y2="811.5" stroke="#ee0000" stroke-width="3.3" stroke-dasharray="12.2 5.3"/>
<rect x="1671.4" y="649.7" width="176.5" height="122.3" rx="4" fill="#fff" fill-opacity="0.8" stroke="#cccccc" stroke-width="1.3"/>
<line x1="1679.4" y1="664.5" x2="1689.9" y2="664.5" stroke="#0000ee" stroke-width="3.3"/>
<text x="1698.5" y="671.3" font-size="19" textLength="126.2" lengthAdjust="spacingAndGlyphs" fill="#000">Mean(TauKO)</text>
<line x1="1677.9" y1="694.1" x2="1691.4" y2="694.1" stroke="#0000ee" stroke-width="3.3"/>
<text x="1698.5" y="700.9" font-size="19" textLength="142.3" lengthAdjust="spacingAndGlyphs" fill="#000">Median(TauKO)</text>
<line x1="1679.4" y1="723.5" x2="1689.9" y2="723.5" stroke="#ee0000" stroke-width="3.3"/>
<text x="1698.5" y="730.3" font-size="19" fill="#000">Mean(WT)</text>
<line x1="1677.9" y1="753" x2="1691.4" y2="753" stroke="#ee0000" stroke-width="3.3"/>
<text x="1698.5" y="759.8" font-size="19" fill="#000">Median(WT)</text>
<line x1="1401.3" y1="1102.6" x2="1409.3" y2="1102.6" stroke="#000" stroke-width="1.6"/>
<text x="1392.8" y="1110.1" font-size="21" text-anchor="end" fill="#000">0</text>
<line x1="1401.3" y1="1037.5" x2="1409.3" y2="1037.5" stroke="#000" stroke-width="1.6"/>
<text x="1392.8" y="1045" font-size="21" text-anchor="end" fill="#000">1</text>
<line x1="1401.3" y1="972.5" x2="1409.3" y2="972.5" stroke="#000" stroke-width="1.6"/>
<text x="1392.8" y="980" font-size="21" text-anchor="end" fill="#000">2</text>
<line x1="1401.3" y1="907.4" x2="1409.3" y2="907.4" stroke="#000" stroke-width="1.6"/>
<text x="1392.8" y="914.9" font-size="21" text-anchor="end" fill="#000">3</text>
<line x1="1401.3" y1="842.4" x2="1409.3" y2="842.4" stroke="#000" stroke-width="1.6"/>
<text x="1392.8" y="849.9" font-size="21" text-anchor="end" fill="#000">4</text>
<line x1="1401.3" y1="777.3" x2="1409.3" y2="777.3" stroke="#000" stroke-width="1.6"/>
<text x="1392.8" y="784.8" font-size="21" text-anchor="end" fill="#000">5</text>
<line x1="1401.3" y1="712.3" x2="1409.3" y2="712.3" stroke="#000" stroke-width="1.6"/>
<text x="1392.8" y="719.8" font-size="21" text-anchor="end" fill="#000">6</text>
<line x1="1401.3" y1="647.2" x2="1409.3" y2="647.2" stroke="#000" stroke-width="1.6"/>
<text x="1392.8" y="654.8" font-size="21" text-anchor="end" fill="#000">7</text>
<line x1="1522.1" y1="1124.3" x2="1522.1" y2="1131.8" stroke="#000" stroke-width="1.6"/>
<line x1="1746.2" y1="1124.3" x2="1746.2" y2="1131.8" stroke="#000" stroke-width="1.6"/>
<rect x="1409.3" y="638.2" width="449.5" height="486.1" fill="none" stroke="#000" stroke-width="2"/>
</g>
<text x="904.4" y="567.8" font-size="25" textLength="65.2" lengthAdjust="spacingAndGlyphs" fill="#000">Tau22</text>
<text x="1136.3" y="567.8" font-size="25" textLength="35.6" lengthAdjust="spacingAndGlyphs" fill="#000">WT</text>
<text x="999.9" y="581.8" font-size="25" textLength="104.9" lengthAdjust="spacingAndGlyphs" fill="#000">genotype</text>
<text x="761" y="295" font-size="25" text-anchor="middle" transform="rotate(-90 761 295)" fill="#000">Ttr</text>
<text x="1535.1" y="568.8" font-size="25" textLength="65.6" lengthAdjust="spacingAndGlyphs" fill="#000">Tau22</text>
<text x="1767.4" y="568.8" font-size="25" textLength="35.9" lengthAdjust="spacingAndGlyphs" fill="#000">WT</text>
<text x="1630" y="582.4" font-size="25" textLength="106.1" lengthAdjust="spacingAndGlyphs" fill="#000">genotype</text>
<text x="1395.5" y="299" font-size="25" text-anchor="middle" transform="rotate(-90 1395.5 299)" fill="#000">Ttr</text>
<text x="872.3" y="1158.6" font-size="21" textLength="66.5" lengthAdjust="spacingAndGlyphs" fill="#000">TauKO</text>
<text x="1114" y="1162.2" font-size="25" textLength="35.1" lengthAdjust="spacingAndGlyphs" fill="#000">WT</text>
<text x="979.8" y="1173.4" font-size="25" textLength="106.1" lengthAdjust="spacingAndGlyphs" fill="#000">genotype</text>
<text x="760" y="877" font-size="25" text-anchor="middle" transform="rotate(-90 760 877)" fill="#000">Ttr</text>
<text x="1501.8" y="1161.7" font-size="23" textLength="70.1" lengthAdjust="spacingAndGlyphs" fill="#000">TauKO</text>
<text x="1737.8" y="1161.7" font-size="25" textLength="34.5" lengthAdjust="spacingAndGlyphs" fill="#000">WT</text>
<text x="1590.3" y="1173.5" font-size="25" textLength="105.7" lengthAdjust="spacingAndGlyphs" fill="#000">genotype</text>
<text x="1396" y="878" font-size="25" text-anchor="middle" transform="rotate(-90 1396 878)" fill="#000">Ttr</text>
<rect x="144.3" y="56.1" width="444.3" height="475.1" fill="none" stroke="#000" stroke-width="2"/>
<rect x="592.9" y="56.1" width="16.6" height="475.1" fill="url(#gv)" stroke="#000" stroke-width="1.8"/>
<line x1="609.5" y1="531.2" x2="617" y2="531.2" stroke="#000" stroke-width="1.6"/>
<text x="624.5" y="538.7" font-size="21" fill="#000">0</text>
<line x1="609.5" y1="460.4" x2="617" y2="460.4" stroke="#000" stroke-width="1.6"/>
<text x="624.5" y="467.9" font-size="21" fill="#000">1</text>
<line x1="609.5" y1="389.6" x2="617" y2="389.6" stroke="#000" stroke-width="1.6"/>
<text x="624.5" y="397.1" font-size="21" fill="#000">2</text>
<line x1="609.5" y1="318.8" x2="617" y2="318.8" stroke="#000" stroke-width="1.6"/>
<text x="624.5" y="326.3" font-size="21" fill="#000">3</text>
<line x1="609.5" y1="248" x2="617" y2="248" stroke="#000" stroke-width="1.6"/>
<text x="624.5" y="255.5" font-size="21" fill="#000">4</text>
<line x1="609.5" y1="177.2" x2="617" y2="177.2" stroke="#000" stroke-width="1.6"/>
<text x="624.5" y="184.7" font-size="21" fill="#000">5</text>
<line x1="609.5" y1="106.4" x2="617" y2="106.4" stroke="#000" stroke-width="1.6"/>
<text x="624.5" y="113.9" font-size="21" fill="#000">6</text>
<text x="313.4" y="46.3" font-size="25" textLength="117.9" lengthAdjust="spacingAndGlyphs" fill="#000">Ttr (Tau22)</text>
<text x="131" y="294.7" font-size="25" text-anchor="middle" textLength="79.8" lengthAdjust="spacingAndGlyphs" transform="rotate(-90 131 294.7)" fill="#000">UMAP2</text>
<text x="327" y="563.1" font-size="25" textLength="78.8" lengthAdjust="spacingAndGlyphs" fill="#000">UMAP1</text>
<rect x="141.6" y="639.3" width="456" height="489" fill="none" stroke="#000" stroke-width="2"/>
<rect x="602.0" y="639.3" width="17.0" height="489.0" fill="url(#gv)" stroke="#000" stroke-width="1.8"/>
<line x1="619" y1="1128.3" x2="626.5" y2="1128.3" stroke="#000" stroke-width="1.6"/>
<text x="634" y="1135.8" font-size="21" fill="#000">0</text>
<line x1="619" y1="1056.4" x2="626.5" y2="1056.4" stroke="#000" stroke-width="1.6"/>
<text x="634" y="1063.9" font-size="21" fill="#000">1</text>
<line x1="619" y1="984.5" x2="626.5" y2="984.5" stroke="#000" stroke-width="1.6"/>
<text x="634" y="992" font-size="21" fill="#000">2</text>
<line x1="619" y1="912.6" x2="626.5" y2="912.6" stroke="#000" stroke-width="1.6"/>
<text x="634" y="920.1" font-size="21" fill="#000">3</text>
<line x1="619" y1="840.7" x2="626.5" y2="840.7" stroke="#000" stroke-width="1.6"/>
<text x="634" y="848.2" font-size="21" fill="#000">4</text>
<line x1="619" y1="768.8" x2="626.5" y2="768.8" stroke="#000" stroke-width="1.6"/>
<text x="634" y="776.3" font-size="21" fill="#000">5</text>
<line x1="619" y1="696.9" x2="626.5" y2="696.9" stroke="#000" stroke-width="1.6"/>
<text x="634" y="704.4" font-size="21" fill="#000">6</text>
<text x="311" y="626.2" font-size="25" textLength="118" lengthAdjust="spacingAndGlyphs" fill="#000">Ttr(TauKO)</text>
<text x="131" y="880" font-size="25" text-anchor="middle" textLength="80.5" lengthAdjust="spacingAndGlyphs" transform="rotate(-90 131 880)" fill="#000">UMAP2</text>
<text x="327" y="1159.4" font-size="25" textLength="78.8" lengthAdjust="spacingAndGlyphs" fill="#000">UMAP1</text>
<rect x="38.3" y="1265" width="210.5" height="223" fill="none" stroke="#333" stroke-width="1.5"/>
<rect x="257.6" y="1270.8" width="11" height="211.8" fill="url(#gj)" stroke="#111" stroke-width="1"/>
<line x1="268.6" y1="1482" x2="272.1" y2="1482" stroke="#000" stroke-width="1"/>
<text x="276.6" y="1486.5" font-size="12.5" fill="#000">0</text>
<line x1="268.6" y1="1450.5" x2="272.1" y2="1450.5" stroke="#000" stroke-width="1"/>
<text x="276.6" y="1455" font-size="12.5" fill="#000">1</text>
<line x1="268.6" y1="1419.1" x2="272.1" y2="1419.1" stroke="#000" stroke-width="1"/>
<text x="276.6" y="1423.6" font-size="12.5" fill="#000">2</text>
<line x1="268.6" y1="1387.6" x2="272.1" y2="1387.6" stroke="#000" stroke-width="1"/>
<text x="276.6" y="1392.1" font-size="12.5" fill="#000">3</text>
<line x1="268.6" y1="1356.1" x2="272.1" y2="1356.1" stroke="#000" stroke-width="1"/>
<text x="276.6" y="1360.6" font-size="12.5" fill="#000">4</text>
<line x1="268.6" y1="1324.6" x2="272.1" y2="1324.6" stroke="#000" stroke-width="1"/>
<text x="276.6" y="1329.1" font-size="12.5" fill="#000">5</text>
<line x1="268.6" y1="1293.2" x2="272.1" y2="1293.2" stroke="#000" stroke-width="1"/>
<text x="276.6" y="1297.7" font-size="12.5" fill="#000">6</text>
<text x="75.7" y="1257.2" font-size="24.5" textLength="136" lengthAdjust="spacingAndGlyphs" fill="#000">TAU22_REP1</text>
<rect x="360.4" y="1265" width="210.5" height="223" fill="none" stroke="#333" stroke-width="1.5"/>
<rect x="579.7" y="1270.8" width="11" height="211.8" fill="url(#gj)" stroke="#111" stroke-width="1"/>
<line x1="590.7" y1="1482" x2="594.2" y2="1482" stroke="#000" stroke-width="1"/>
<text x="598.7" y="1486.5" font-size="12.5" fill="#000">0</text>
<line x1="590.7" y1="1450.5" x2="594.2" y2="1450.5" stroke="#000" stroke-width="1"/>
<text x="598.7" y="1455" font-size="12.5" fill="#000">1</text>
<line x1="590.7" y1="1419.1" x2="594.2" y2="1419.1" stroke="#000" stroke-width="1"/>
<text x="598.7" y="1423.6" font-size="12.5" fill="#000">2</text>
<line x1="590.7" y1="1387.6" x2="594.2" y2="1387.6" stroke="#000" stroke-width="1"/>
<text x="598.7" y="1392.1" font-size="12.5" fill="#000">3</text>
<line x1="590.7" y1="1356.1" x2="594.2" y2="1356.1" stroke="#000" stroke-width="1"/>
<text x="598.7" y="1360.6" font-size="12.5" fill="#000">4</text>
<line x1="590.7" y1="1324.6" x2="594.2" y2="1324.6" stroke="#000" stroke-width="1"/>
<text x="598.7" y="1329.1" font-size="12.5" fill="#000">5</text>
<line x1="590.7" y1="1293.2" x2="594.2" y2="1293.2" stroke="#000" stroke-width="1"/>
<text x="598.7" y="1297.7" font-size="12.5" fill="#000">6</text>
<text x="397.8" y="1257.2" font-size="24.5" textLength="136" lengthAdjust="spacingAndGlyphs" fill="#000">TAU22_REP2</text>
<rect x="682.3" y="1265" width="210.5" height="223" fill="none" stroke="#333" stroke-width="1.5"/>
<rect x="901.6" y="1270.8" width="11" height="211.8" fill="url(#gj)" stroke="#111" stroke-width="1"/>
<line x1="912.6" y1="1482" x2="916.1" y2="1482" stroke="#000" stroke-width="1"/>
<text x="920.6" y="1486.5" font-size="12.5" fill="#000">0</text>
<line x1="912.6" y1="1450.5" x2="916.1" y2="1450.5" stroke="#000" stroke-width="1"/>
<text x="920.6" y="1455" font-size="12.5" fill="#000">1</text>
<line x1="912.6" y1="1419.1" x2="916.1" y2="1419.1" stroke="#000" stroke-width="1"/>
<text x="920.6" y="1423.6" font-size="12.5" fill="#000">2</text>
<line x1="912.6" y1="1387.6" x2="916.1" y2="1387.6" stroke="#000" stroke-width="1"/>
<text x="920.6" y="1392.1" font-size="12.5" fill="#000">3</text>
<line x1="912.6" y1="1356.1" x2="916.1" y2="1356.1" stroke="#000" stroke-width="1"/>
<text x="920.6" y="1360.6" font-size="12.5" fill="#000">4</text>
<line x1="912.6" y1="1324.6" x2="916.1" y2="1324.6" stroke="#000" stroke-width="1"/>
<text x="920.6" y="1329.1" font-size="12.5" fill="#000">5</text>
<line x1="912.6" y1="1293.2" x2="916.1" y2="1293.2" stroke="#000" stroke-width="1"/>
<text x="920.6" y="1297.7" font-size="12.5" fill="#000">6</text>
<text x="719.7" y="1257.2" font-size="24.5" textLength="136" lengthAdjust="spacingAndGlyphs" fill="#000">TAU22_REP3</text>
<rect x="1004.2" y="1265" width="210.5" height="223" fill="none" stroke="#333" stroke-width="1.5"/>
<rect x="1223.5" y="1270.8" width="11" height="211.8" fill="url(#gj)" stroke="#111" stroke-width="1"/>
<line x1="1234.5" y1="1482" x2="1238" y2="1482" stroke="#000" stroke-width="1"/>
<text x="1242.5" y="1486.5" font-size="12.5" fill="#000">0</text>
<line x1="1234.5" y1="1450.5" x2="1238" y2="1450.5" stroke="#000" stroke-width="1"/>
<text x="1242.5" y="1455" font-size="12.5" fill="#000">1</text>
<line x1="1234.5" y1="1419.1" x2="1238" y2="1419.1" stroke="#000" stroke-width="1"/>
<text x="1242.5" y="1423.6" font-size="12.5" fill="#000">2</text>
<line x1="1234.5" y1="1387.6" x2="1238" y2="1387.6" stroke="#000" stroke-width="1"/>
<text x="1242.5" y="1392.1" font-size="12.5" fill="#000">3</text>
<line x1="1234.5" y1="1356.1" x2="1238" y2="1356.1" stroke="#000" stroke-width="1"/>
<text x="1242.5" y="1360.6" font-size="12.5" fill="#000">4</text>
<line x1="1234.5" y1="1324.6" x2="1238" y2="1324.6" stroke="#000" stroke-width="1"/>
<text x="1242.5" y="1329.1" font-size="12.5" fill="#000">5</text>
<line x1="1234.5" y1="1293.2" x2="1238" y2="1293.2" stroke="#000" stroke-width="1"/>
<text x="1242.5" y="1297.7" font-size="12.5" fill="#000">6</text>
<text x="1041.6" y="1257.2" font-size="24.5" textLength="136" lengthAdjust="spacingAndGlyphs" fill="#000">TAU22_REP4</text>
<rect x="1326.4" y="1265" width="210.5" height="223" fill="none" stroke="#333" stroke-width="1.5"/>
<rect x="1545.7" y="1270.8" width="11" height="211.8" fill="url(#gj)" stroke="#111" stroke-width="1"/>
<line x1="1556.7" y1="1482" x2="1560.2" y2="1482" stroke="#000" stroke-width="1"/>
<text x="1564.7" y="1486.5" font-size="12.5" fill="#000">0</text>
<line x1="1556.7" y1="1450.5" x2="1560.2" y2="1450.5" stroke="#000" stroke-width="1"/>
<text x="1564.7" y="1455" font-size="12.5" fill="#000">1</text>
<line x1="1556.7" y1="1419.1" x2="1560.2" y2="1419.1" stroke="#000" stroke-width="1"/>
<text x="1564.7" y="1423.6" font-size="12.5" fill="#000">2</text>
<line x1="1556.7" y1="1387.6" x2="1560.2" y2="1387.6" stroke="#000" stroke-width="1"/>
<text x="1564.7" y="1392.1" font-size="12.5" fill="#000">3</text>
<line x1="1556.7" y1="1356.1" x2="1560.2" y2="1356.1" stroke="#000" stroke-width="1"/>
<text x="1564.7" y="1360.6" font-size="12.5" fill="#000">4</text>
<line x1="1556.7" y1="1324.6" x2="1560.2" y2="1324.6" stroke="#000" stroke-width="1"/>
<text x="1564.7" y="1329.1" font-size="12.5" fill="#000">5</text>
<line x1="1556.7" y1="1293.2" x2="1560.2" y2="1293.2" stroke="#000" stroke-width="1"/>
<text x="1564.7" y="1297.7" font-size="12.5" fill="#000">6</text>
<text x="1363.8" y="1257.2" font-size="24.5" textLength="136" lengthAdjust="spacingAndGlyphs" fill="#000">TAU22_REP5</text>
<rect x="1648.7" y="1265" width="210.5" height="223" fill="none" stroke="#333" stroke-width="1.5"/>
<rect x="1868.0" y="1270.8" width="11" height="211.8" fill="url(#gj)" stroke="#111" stroke-width="1"/>
<line x1="1879" y1="1482" x2="1882.5" y2="1482" stroke="#000" stroke-width="1"/>
<text x="1887" y="1486.5" font-size="12.5" fill="#000">0</text>
<line x1="1879" y1="1450.5" x2="1882.5" y2="1450.5" stroke="#000" stroke-width="1"/>
<text x="1887" y="1455" font-size="12.5" fill="#000">1</text>
<line x1="1879" y1="1419.1" x2="1882.5" y2="1419.1" stroke="#000" stroke-width="1"/>
<text x="1887" y="1423.6" font-size="12.5" fill="#000">2</text>
<line x1="1879" y1="1387.6" x2="1882.5" y2="1387.6" stroke="#000" stroke-width="1"/>
<text x="1887" y="1392.1" font-size="12.5" fill="#000">3</text>
<line x1="1879" y1="1356.1" x2="1882.5" y2="1356.1" stroke="#000" stroke-width="1"/>
<text x="1887" y="1360.6" font-size="12.5" fill="#000">4</text>
<line x1="1879" y1="1324.6" x2="1882.5" y2="1324.6" stroke="#000" stroke-width="1"/>
<text x="1887" y="1329.1" font-size="12.5" fill="#000">5</text>
<line x1="1879" y1="1293.2" x2="1882.5" y2="1293.2" stroke="#000" stroke-width="1"/>
<text x="1887" y="1297.7" font-size="12.5" fill="#000">6</text>
<text x="1686.1" y="1257.2" font-size="24.5" textLength="136" lengthAdjust="spacingAndGlyphs" fill="#000">TAU22_REP6</text>
<rect x="38.3" y="1546" width="210.5" height="223" fill="none" stroke="#333" stroke-width="1.5"/>
<rect x="257.6" y="1551.8" width="11" height="211.8" fill="url(#gj)" stroke="#111" stroke-width="1"/>
<line x1="268.6" y1="1763" x2="272.1" y2="1763" stroke="#000" stroke-width="1"/>
<text x="276.6" y="1767.5" font-size="12.5" fill="#000">0</text>
<line x1="268.6" y1="1731.5" x2="272.1" y2="1731.5" stroke="#000" stroke-width="1"/>
<text x="276.6" y="1736" font-size="12.5" fill="#000">1</text>
<line x1="268.6" y1="1700.1" x2="272.1" y2="1700.1" stroke="#000" stroke-width="1"/>
<text x="276.6" y="1704.6" font-size="12.5" fill="#000">2</text>
<line x1="268.6" y1="1668.6" x2="272.1" y2="1668.6" stroke="#000" stroke-width="1"/>
<text x="276.6" y="1673.1" font-size="12.5" fill="#000">3</text>
<line x1="268.6" y1="1637.1" x2="272.1" y2="1637.1" stroke="#000" stroke-width="1"/>
<text x="276.6" y="1641.6" font-size="12.5" fill="#000">4</text>
<line x1="268.6" y1="1605.6" x2="272.1" y2="1605.6" stroke="#000" stroke-width="1"/>
<text x="276.6" y="1610.1" font-size="12.5" fill="#000">5</text>
<line x1="268.6" y1="1574.2" x2="272.1" y2="1574.2" stroke="#000" stroke-width="1"/>
<text x="276.6" y="1578.7" font-size="12.5" fill="#000">6</text>
<text x="92.7" y="1538.2" font-size="24.5" textLength="102" lengthAdjust="spacingAndGlyphs" fill="#000">WT_REP1</text>
<rect x="360.4" y="1546" width="210.5" height="223" fill="none" stroke="#333" stroke-width="1.5"/>
<rect x="579.7" y="1551.8" width="11" height="211.8" fill="url(#gj)" stroke="#111" stroke-width="1"/>
<line x1="590.7" y1="1763" x2="594.2" y2="1763" stroke="#000" stroke-width="1"/>
<text x="598.7" y="1767.5" font-size="12.5" fill="#000">0</text>
<line x1="590.7" y1="1731.5" x2="594.2" y2="1731.5" stroke="#000" stroke-width="1"/>
<text x="598.7" y="1736" font-size="12.5" fill="#000">1</text>
<line x1="590.7" y1="1700.1" x2="594.2" y2="1700.1" stroke="#000" stroke-width="1"/>
<text x="598.7" y="1704.6" font-size="12.5" fill="#000">2</text>
<line x1="590.7" y1="1668.6" x2="594.2" y2="1668.6" stroke="#000" stroke-width="1"/>
<text x="598.7" y="1673.1" font-size="12.5" fill="#000">3</text>
<line x1="590.7" y1="1637.1" x2="594.2" y2="1637.1" stroke="#000" stroke-width="1"/>
<text x="598.7" y="1641.6" font-size="12.5" fill="#000">4</text>
<line x1="590.7" y1="1605.6" x2="594.2" y2="1605.6" stroke="#000" stroke-width="1"/>
<text x="598.7" y="1610.1" font-size="12.5" fill="#000">5</text>
<line x1="590.7" y1="1574.2" x2="594.2" y2="1574.2" stroke="#000" stroke-width="1"/>
<text x="598.7" y="1578.7" font-size="12.5" fill="#000">6</text>
<text x="414.8" y="1538.2" font-size="24.5" textLength="102" lengthAdjust="spacingAndGlyphs" fill="#000">WT_REP2</text>
<rect x="682.3" y="1546" width="210.5" height="223" fill="none" stroke="#333" stroke-width="1.5"/>
<rect x="901.6" y="1551.8" width="11" height="211.8" fill="url(#gj)" stroke="#111" stroke-width="1"/>
<line x1="912.6" y1="1763" x2="916.1" y2="1763" stroke="#000" stroke-width="1"/>
<text x="920.6" y="1767.5" font-size="12.5" fill="#000">0</text>
<line x1="912.6" y1="1731.5" x2="916.1" y2="1731.5" stroke="#000" stroke-width="1"/>
<text x="920.6" y="1736" font-size="12.5" fill="#000">1</text>
<line x1="912.6" y1="1700.1" x2="916.1" y2="1700.1" stroke="#000" stroke-width="1"/>
<text x="920.6" y="1704.6" font-size="12.5" fill="#000">2</text>
<line x1="912.6" y1="1668.6" x2="916.1" y2="1668.6" stroke="#000" stroke-width="1"/>
<text x="920.6" y="1673.1" font-size="12.5" fill="#000">3</text>
<line x1="912.6" y1="1637.1" x2="916.1" y2="1637.1" stroke="#000" stroke-width="1"/>
<text x="920.6" y="1641.6" font-size="12.5" fill="#000">4</text>
<line x1="912.6" y1="1605.6" x2="916.1" y2="1605.6" stroke="#000" stroke-width="1"/>
<text x="920.6" y="1610.1" font-size="12.5" fill="#000">5</text>
<line x1="912.6" y1="1574.2" x2="916.1" y2="1574.2" stroke="#000" stroke-width="1"/>
<text x="920.6" y="1578.7" font-size="12.5" fill="#000">6</text>
<text x="736.7" y="1538.2" font-size="24.5" textLength="102" lengthAdjust="spacingAndGlyphs" fill="#000">WT_REP3</text>
<rect x="1004.2" y="1546" width="210.5" height="223" fill="none" stroke="#333" stroke-width="1.5"/>
<rect x="1223.5" y="1551.8" width="11" height="211.8" fill="url(#gj)" stroke="#111" stroke-width="1"/>
<line x1="1234.5" y1="1763" x2="1238" y2="1763" stroke="#000" stroke-width="1"/>
<text x="1242.5" y="1767.5" font-size="12.5" fill="#000">0</text>
<line x1="1234.5" y1="1731.5" x2="1238" y2="1731.5" stroke="#000" stroke-width="1"/>
<text x="1242.5" y="1736" font-size="12.5" fill="#000">1</text>
<line x1="1234.5" y1="1700.1" x2="1238" y2="1700.1" stroke="#000" stroke-width="1"/>
<text x="1242.5" y="1704.6" font-size="12.5" fill="#000">2</text>
<line x1="1234.5" y1="1668.6" x2="1238" y2="1668.6" stroke="#000" stroke-width="1"/>
<text x="1242.5" y="1673.1" font-size="12.5" fill="#000">3</text>
<line x1="1234.5" y1="1637.1" x2="1238" y2="1637.1" stroke="#000" stroke-width="1"/>
<text x="1242.5" y="1641.6" font-size="12.5" fill="#000">4</text>
<line x1="1234.5" y1="1605.6" x2="1238" y2="1605.6" stroke="#000" stroke-width="1"/>
<text x="1242.5" y="1610.1" font-size="12.5" fill="#000">5</text>
<line x1="1234.5" y1="1574.2" x2="1238" y2="1574.2" stroke="#000" stroke-width="1"/>
<text x="1242.5" y="1578.7" font-size="12.5" fill="#000">6</text>
<text x="1058.6" y="1538.2" font-size="24.5" textLength="102" lengthAdjust="spacingAndGlyphs" fill="#000">WT_REP4</text>
<rect x="1326.4" y="1546" width="210.5" height="223" fill="none" stroke="#333" stroke-width="1.5"/>
<rect x="1545.7" y="1551.8" width="11" height="211.8" fill="url(#gj)" stroke="#111" stroke-width="1"/>
<line x1="1556.7" y1="1763" x2="1560.2" y2="1763" stroke="#000" stroke-width="1"/>
<text x="1564.7" y="1767.5" font-size="12.5" fill="#000">0</text>
<line x1="1556.7" y1="1731.5" x2="1560.2" y2="1731.5" stroke="#000" stroke-width="1"/>
<text x="1564.7" y="1736" font-size="12.5" fill="#000">1</text>
<line x1="1556.7" y1="1700.1" x2="1560.2" y2="1700.1" stroke="#000" stroke-width="1"/>
<text x="1564.7" y="1704.6" font-size="12.5" fill="#000">2</text>
<line x1="1556.7" y1="1668.6" x2="1560.2" y2="1668.6" stroke="#000" stroke-width="1"/>
<text x="1564.7" y="1673.1" font-size="12.5" fill="#000">3</text>
<line x1="1556.7" y1="1637.1" x2="1560.2" y2="1637.1" stroke="#000" stroke-width="1"/>
<text x="1564.7" y="1641.6" font-size="12.5" fill="#000">4</text>
<line x1="1556.7" y1="1605.6" x2="1560.2" y2="1605.6" stroke="#000" stroke-width="1"/>
<text x="1564.7" y="1610.1" font-size="12.5" fill="#000">5</text>
<line x1="1556.7" y1="1574.2" x2="1560.2" y2="1574.2" stroke="#000" stroke-width="1"/>
<text x="1564.7" y="1578.7" font-size="12.5" fill="#000">6</text>
<text x="1380.8" y="1538.2" font-size="24.5" textLength="102" lengthAdjust="spacingAndGlyphs" fill="#000">WT_REP5</text>
<rect x="1648.7" y="1546" width="210.5" height="223" fill="none" stroke="#333" stroke-width="1.5"/>
<rect x="1868.0" y="1551.8" width="11" height="211.8" fill="url(#gj)" stroke="#111" stroke-width="1"/>
<line x1="1879" y1="1763" x2="1882.5" y2="1763" stroke="#000" stroke-width="1"/>
<text x="1887" y="1767.5" font-size="12.5" fill="#000">0</text>
<line x1="1879" y1="1731.5" x2="1882.5" y2="1731.5" stroke="#000" stroke-width="1"/>
<text x="1887" y="1736" font-size="12.5" fill="#000">1</text>
<line x1="1879" y1="1700.1" x2="1882.5" y2="1700.1" stroke="#000" stroke-width="1"/>
<text x="1887" y="1704.6" font-size="12.5" fill="#000">2</text>
<line x1="1879" y1="1668.6" x2="1882.5" y2="1668.6" stroke="#000" stroke-width="1"/>
<text x="1887" y="1673.1" font-size="12.5" fill="#000">3</text>
<line x1="1879" y1="1637.1" x2="1882.5" y2="1637.1" stroke="#000" stroke-width="1"/>
<text x="1887" y="1641.6" font-size="12.5" fill="#000">4</text>
<line x1="1879" y1="1605.6" x2="1882.5" y2="1605.6" stroke="#000" stroke-width="1"/>
<text x="1887" y="1610.1" font-size="12.5" fill="#000">5</text>
<line x1="1879" y1="1574.2" x2="1882.5" y2="1574.2" stroke="#000" stroke-width="1"/>
<text x="1887" y="1578.7" font-size="12.5" fill="#000">6</text>
<text x="1703.1" y="1538.2" font-size="24.5" textLength="102" lengthAdjust="spacingAndGlyphs" fill="#000">WT_REP6</text>
<rect x="38.3" y="1890.4" width="210.5" height="223" fill="none" stroke="#333" stroke-width="1.5"/>
<rect x="257.6" y="1896.2" width="11" height="211.8" fill="url(#gj)" stroke="#111" stroke-width="1"/>
<line x1="268.6" y1="2107.4" x2="272.1" y2="2107.4" stroke="#000" stroke-width="1"/>
<text x="276.6" y="2111.9" font-size="12.5" fill="#000">0</text>
<line x1="268.6" y1="2075.9" x2="272.1" y2="2075.9" stroke="#000" stroke-width="1"/>
<text x="276.6" y="2080.4" font-size="12.5" fill="#000">1</text>
<line x1="268.6" y1="2044.5" x2="272.1" y2="2044.5" stroke="#000" stroke-width="1"/>
<text x="276.6" y="2049" font-size="12.5" fill="#000">2</text>
<line x1="268.6" y1="2013" x2="272.1" y2="2013" stroke="#000" stroke-width="1"/>
<text x="276.6" y="2017.5" font-size="12.5" fill="#000">3</text>
<line x1="268.6" y1="1981.5" x2="272.1" y2="1981.5" stroke="#000" stroke-width="1"/>
<text x="276.6" y="1986" font-size="12.5" fill="#000">4</text>
<line x1="268.6" y1="1950" x2="272.1" y2="1950" stroke="#000" stroke-width="1"/>
<text x="276.6" y="1954.5" font-size="12.5" fill="#000">5</text>
<line x1="268.6" y1="1918.6" x2="272.1" y2="1918.6" stroke="#000" stroke-width="1"/>
<text x="276.6" y="1923.1" font-size="12.5" fill="#000">6</text>
<text x="75.2" y="1882.6" font-size="24.5" textLength="137" lengthAdjust="spacingAndGlyphs" fill="#000">TauKO_REP1</text>
<rect x="360.4" y="1890.4" width="210.5" height="223" fill="none" stroke="#333" stroke-width="1.5"/>
<rect x="579.7" y="1896.2" width="11" height="211.8" fill="url(#gj)" stroke="#111" stroke-width="1"/>
<line x1="590.7" y1="2107.4" x2="594.2" y2="2107.4" stroke="#000" stroke-width="1"/>
<text x="598.7" y="2111.9" font-size="12.5" fill="#000">0</text>
<line x1="590.7" y1="2075.9" x2="594.2" y2="2075.9" stroke="#000" stroke-width="1"/>
<text x="598.7" y="2080.4" font-size="12.5" fill="#000">1</text>
<line x1="590.7" y1="2044.5" x2="594.2" y2="2044.5" stroke="#000" stroke-width="1"/>
<text x="598.7" y="2049" font-size="12.5" fill="#000">2</text>
<line x1="590.7" y1="2013" x2="594.2" y2="2013" stroke="#000" stroke-width="1"/>
<text x="598.7" y="2017.5" font-size="12.5" fill="#000">3</text>
<line x1="590.7" y1="1981.5" x2="594.2" y2="1981.5" stroke="#000" stroke-width="1"/>
<text x="598.7" y="1986" font-size="12.5" fill="#000">4</text>
<line x1="590.7" y1="1950" x2="594.2" y2="1950" stroke="#000" stroke-width="1"/>
<text x="598.7" y="1954.5" font-size="12.5" fill="#000">5</text>
<line x1="590.7" y1="1918.6" x2="594.2" y2="1918.6" stroke="#000" stroke-width="1"/>
<text x="598.7" y="1923.1" font-size="12.5" fill="#000">6</text>
<text x="397.3" y="1882.6" font-size="24.5" textLength="137" lengthAdjust="spacingAndGlyphs" fill="#000">TauKO_REP2</text>
<rect x="682.3" y="1890.4" width="210.5" height="223" fill="none" stroke="#333" stroke-width="1.5"/>
<rect x="901.6" y="1896.2" width="11" height="211.8" fill="url(#gj)" stroke="#111" stroke-width="1"/>
<line x1="912.6" y1="2107.4" x2="916.1" y2="2107.4" stroke="#000" stroke-width="1"/>
<text x="920.6" y="2111.9" font-size="12.5" fill="#000">0</text>
<line x1="912.6" y1="2075.9" x2="916.1" y2="2075.9" stroke="#000" stroke-width="1"/>
<text x="920.6" y="2080.4" font-size="12.5" fill="#000">1</text>
<line x1="912.6" y1="2044.5" x2="916.1" y2="2044.5" stroke="#000" stroke-width="1"/>
<text x="920.6" y="2049" font-size="12.5" fill="#000">2</text>
<line x1="912.6" y1="2013" x2="916.1" y2="2013" stroke="#000" stroke-width="1"/>
<text x="920.6" y="2017.5" font-size="12.5" fill="#000">3</text>
<line x1="912.6" y1="1981.5" x2="916.1" y2="1981.5" stroke="#000" stroke-width="1"/>
<text x="920.6" y="1986" font-size="12.5" fill="#000">4</text>
<line x1="912.6" y1="1950" x2="916.1" y2="1950" stroke="#000" stroke-width="1"/>
<text x="920.6" y="1954.5" font-size="12.5" fill="#000">5</text>
<line x1="912.6" y1="1918.6" x2="916.1" y2="1918.6" stroke="#000" stroke-width="1"/>
<text x="920.6" y="1923.1" font-size="12.5" fill="#000">6</text>
<text x="719.2" y="1882.6" font-size="24.5" textLength="137" lengthAdjust="spacingAndGlyphs" fill="#000">TauKO_REP3</text>
<rect x="1004.2" y="1890.4" width="210.5" height="223" fill="none" stroke="#333" stroke-width="1.5"/>
<rect x="1223.5" y="1896.2" width="11" height="211.8" fill="url(#gj)" stroke="#111" stroke-width="1"/>
<line x1="1234.5" y1="2107.4" x2="1238" y2="2107.4" stroke="#000" stroke-width="1"/>
<text x="1242.5" y="2111.9" font-size="12.5" fill="#000">0</text>
<line x1="1234.5" y1="2075.9" x2="1238" y2="2075.9" stroke="#000" stroke-width="1"/>
<text x="1242.5" y="2080.4" font-size="12.5" fill="#000">1</text>
<line x1="1234.5" y1="2044.5" x2="1238" y2="2044.5" stroke="#000" stroke-width="1"/>
<text x="1242.5" y="2049" font-size="12.5" fill="#000">2</text>
<line x1="1234.5" y1="2013" x2="1238" y2="2013" stroke="#000" stroke-width="1"/>
<text x="1242.5" y="2017.5" font-size="12.5" fill="#000">3</text>
<line x1="1234.5" y1="1981.5" x2="1238" y2="1981.5" stroke="#000" stroke-width="1"/>
<text x="1242.5" y="1986" font-size="12.5" fill="#000">4</text>
<line x1="1234.5" y1="1950" x2="1238" y2="1950" stroke="#000" stroke-width="1"/>
<text x="1242.5" y="1954.5" font-size="12.5" fill="#000">5</text>
<line x1="1234.5" y1="1918.6" x2="1238" y2="1918.6" stroke="#000" stroke-width="1"/>
<text x="1242.5" y="1923.1" font-size="12.5" fill="#000">6</text>
<text x="1041.1" y="1882.6" font-size="24.5" textLength="137" lengthAdjust="spacingAndGlyphs" fill="#000">TauKO_REP4</text>
<rect x="1326.4" y="1890.4" width="210.5" height="223" fill="none" stroke="#333" stroke-width="1.5"/>
<rect x="1545.7" y="1896.2" width="11" height="211.8" fill="url(#gj)" stroke="#111" stroke-width="1"/>
<line x1="1556.7" y1="2107.4" x2="1560.2" y2="2107.4" stroke="#000" stroke-width="1"/>
<text x="1564.7" y="2111.9" font-size="12.5" fill="#000">0</text>
<line x1="1556.7" y1="2075.9" x2="1560.2" y2="2075.9" stroke="#000" stroke-width="1"/>
<text x="1564.7" y="2080.4" font-size="12.5" fill="#000">1</text>
<line x1="1556.7" y1="2044.5" x2="1560.2" y2="2044.5" stroke="#000" stroke-width="1"/>
<text x="1564.7" y="2049" font-size="12.5" fill="#000">2</text>
<line x1="1556.7" y1="2013" x2="1560.2" y2="2013" stroke="#000" stroke-width="1"/>
<text x="1564.7" y="2017.5" font-size="12.5" fill="#000">3</text>
<line x1="1556.7" y1="1981.5" x2="1560.2" y2="1981.5" stroke="#000" stroke-width="1"/>
<text x="1564.7" y="1986" font-size="12.5" fill="#000">4</text>
<line x1="1556.7" y1="1950" x2="1560.2" y2="1950" stroke="#000" stroke-width="1"/>
<text x="1564.7" y="1954.5" font-size="12.5" fill="#000">5</text>
<line x1="1556.7" y1="1918.6" x2="1560.2" y2="1918.6" stroke="#000" stroke-width="1"/>
<text x="1564.7" y="1923.1" font-size="12.5" fill="#000">6</text>
<text x="1363.3" y="1882.6" font-size="24.5" textLength="137" lengthAdjust="spacingAndGlyphs" fill="#000">TauKO_REP5</text>
<rect x="1648.7" y="1890.4" width="210.5" height="223" fill="none" stroke="#333" stroke-width="1.5"/>
<rect x="1868.0" y="1896.2" width="11" height="211.8" fill="url(#gj)" stroke="#111" stroke-width="1"/>
<line x1="1879" y1="2107.4" x2="1882.5" y2="2107.4" stroke="#000" stroke-width="1"/>
<text x="1887" y="2111.9" font-size="12.5" fill="#000">0</text>
<line x1="1879" y1="2075.9" x2="1882.5" y2="2075.9" stroke="#000" stroke-width="1"/>
<text x="1887" y="2080.4" font-size="12.5" fill="#000">1</text>
<line x1="1879" y1="2044.5" x2="1882.5" y2="2044.5" stroke="#000" stroke-width="1"/>
<text x="1887" y="2049" font-size="12.5" fill="#000">2</text>
<line x1="1879" y1="2013" x2="1882.5" y2="2013" stroke="#000" stroke-width="1"/>
<text x="1887" y="2017.5" font-size="12.5" fill="#000">3</text>
<line x1="1879" y1="1981.5" x2="1882.5" y2="1981.5" stroke="#000" stroke-width="1"/>
<text x="1887" y="1986" font-size="12.5" fill="#000">4</text>
<line x1="1879" y1="1950" x2="1882.5" y2="1950" stroke="#000" stroke-width="1"/>
<text x="1887" y="1954.5" font-size="12.5" fill="#000">5</text>
<line x1="1879" y1="1918.6" x2="1882.5" y2="1918.6" stroke="#000" stroke-width="1"/>
<text x="1887" y="1923.1" font-size="12.5" fill="#000">6</text>
<text x="1685.6" y="1882.6" font-size="24.5" textLength="137" lengthAdjust="spacingAndGlyphs" fill="#000">TauKO_REP6</text>
<rect x="38.3" y="2172.2" width="210.5" height="223" fill="none" stroke="#333" stroke-width="1.5"/>
<rect x="257.6" y="2178.0" width="11" height="211.8" fill="url(#gj)" stroke="#111" stroke-width="1"/>
<line x1="268.6" y1="2389.2" x2="272.1" y2="2389.2" stroke="#000" stroke-width="1"/>
<text x="276.6" y="2393.7" font-size="12.5" fill="#000">0</text>
<line x1="268.6" y1="2357.7" x2="272.1" y2="2357.7" stroke="#000" stroke-width="1"/>
<text x="276.6" y="2362.2" font-size="12.5" fill="#000">1</text>
<line x1="268.6" y1="2326.3" x2="272.1" y2="2326.3" stroke="#000" stroke-width="1"/>
<text x="276.6" y="2330.8" font-size="12.5" fill="#000">2</text>
<line x1="268.6" y1="2294.8" x2="272.1" y2="2294.8" stroke="#000" stroke-width="1"/>
<text x="276.6" y="2299.3" font-size="12.5" fill="#000">3</text>
<line x1="268.6" y1="2263.3" x2="272.1" y2="2263.3" stroke="#000" stroke-width="1"/>
<text x="276.6" y="2267.8" font-size="12.5" fill="#000">4</text>
<line x1="268.6" y1="2231.8" x2="272.1" y2="2231.8" stroke="#000" stroke-width="1"/>
<text x="276.6" y="2236.3" font-size="12.5" fill="#000">5</text>
<line x1="268.6" y1="2200.4" x2="272.1" y2="2200.4" stroke="#000" stroke-width="1"/>
<text x="276.6" y="2204.9" font-size="12.5" fill="#000">6</text>
<text x="92.7" y="2164.4" font-size="24.5" textLength="102" lengthAdjust="spacingAndGlyphs" fill="#000">WT_REP1</text>
<rect x="360.4" y="2172.2" width="210.5" height="223" fill="none" stroke="#333" stroke-width="1.5"/>
<rect x="579.7" y="2178.0" width="11" height="211.8" fill="url(#gj)" stroke="#111" stroke-width="1"/>
<line x1="590.7" y1="2389.2" x2="594.2" y2="2389.2" stroke="#000" stroke-width="1"/>
<text x="598.7" y="2393.7" font-size="12.5" fill="#000">0</text>
<line x1="590.7" y1="2357.7" x2="594.2" y2="2357.7" stroke="#000" stroke-width="1"/>
<text x="598.7" y="2362.2" font-size="12.5" fill="#000">1</text>
<line x1="590.7" y1="2326.3" x2="594.2" y2="2326.3" stroke="#000" stroke-width="1"/>
<text x="598.7" y="2330.8" font-size="12.5" fill="#000">2</text>
<line x1="590.7" y1="2294.8" x2="594.2" y2="2294.8" stroke="#000" stroke-width="1"/>
<text x="598.7" y="2299.3" font-size="12.5" fill="#000">3</text>
<line x1="590.7" y1="2263.3" x2="594.2" y2="2263.3" stroke="#000" stroke-width="1"/>
<text x="598.7" y="2267.8" font-size="12.5" fill="#000">4</text>
<line x1="590.7" y1="2231.8" x2="594.2" y2="2231.8" stroke="#000" stroke-width="1"/>
<text x="598.7" y="2236.3" font-size="12.5" fill="#000">5</text>
<line x1="590.7" y1="2200.4" x2="594.2" y2="2200.4" stroke="#000" stroke-width="1"/>
<text x="598.7" y="2204.9" font-size="12.5" fill="#000">6</text>
<text x="414.8" y="2164.4" font-size="24.5" textLength="102" lengthAdjust="spacingAndGlyphs" fill="#000">WT_REP2</text>
<rect x="682.3" y="2172.2" width="210.5" height="223" fill="none" stroke="#333" stroke-width="1.5"/>
<rect x="901.6" y="2178.0" width="11" height="211.8" fill="url(#gj)" stroke="#111" stroke-width="1"/>
<line x1="912.6" y1="2389.2" x2="916.1" y2="2389.2" stroke="#000" stroke-width="1"/>
<text x="920.6" y="2393.7" font-size="12.5" fill="#000">0</text>
<line x1="912.6" y1="2357.7" x2="916.1" y2="2357.7" stroke="#000" stroke-width="1"/>
<text x="920.6" y="2362.2" font-size="12.5" fill="#000">1</text>
<line x1="912.6" y1="2326.3" x2="916.1" y2="2326.3" stroke="#000" stroke-width="1"/>
<text x="920.6" y="2330.8" font-size="12.5" fill="#000">2</text>
<line x1="912.6" y1="2294.8" x2="916.1" y2="2294.8" stroke="#000" stroke-width="1"/>
<text x="920.6" y="2299.3" font-size="12.5" fill="#000">3</text>
<line x1="912.6" y1="2263.3" x2="916.1" y2="2263.3" stroke="#000" stroke-width="1"/>
<text x="920.6" y="2267.8" font-size="12.5" fill="#000">4</text>
<line x1="912.6" y1="2231.8" x2="916.1" y2="2231.8" stroke="#000" stroke-width="1"/>
<text x="920.6" y="2236.3" font-size="12.5" fill="#000">5</text>
<line x1="912.6" y1="2200.4" x2="916.1" y2="2200.4" stroke="#000" stroke-width="1"/>
<text x="920.6" y="2204.9" font-size="12.5" fill="#000">6</text>
<text x="736.7" y="2164.4" font-size="24.5" textLength="102" lengthAdjust="spacingAndGlyphs" fill="#000">WT_REP3</text>
<rect x="1004.2" y="2172.2" width="210.5" height="223" fill="none" stroke="#333" stroke-width="1.5"/>
<rect x="1223.5" y="2178.0" width="11" height="211.8" fill="url(#gj)" stroke="#111" stroke-width="1"/>
<line x1="1234.5" y1="2389.2" x2="1238" y2="2389.2" stroke="#000" stroke-width="1"/>
<text x="1242.5" y="2393.7" font-size="12.5" fill="#000">0</text>
<line x1="1234.5" y1="2357.7" x2="1238" y2="2357.7" stroke="#000" stroke-width="1"/>
<text x="1242.5" y="2362.2" font-size="12.5" fill="#000">1</text>
<line x1="1234.5" y1="2326.3" x2="1238" y2="2326.3" stroke="#000" stroke-width="1"/>
<text x="1242.5" y="2330.8" font-size="12.5" fill="#000">2</text>
<line x1="1234.5" y1="2294.8" x2="1238" y2="2294.8" stroke="#000" stroke-width="1"/>
<text x="1242.5" y="2299.3" font-size="12.5" fill="#000">3</text>
<line x1="1234.5" y1="2263.3" x2="1238" y2="2263.3" stroke="#000" stroke-width="1"/>
<text x="1242.5" y="2267.8" font-size="12.5" fill="#000">4</text>
<line x1="1234.5" y1="2231.8" x2="1238" y2="2231.8" stroke="#000" stroke-width="1"/>
<text x="1242.5" y="2236.3" font-size="12.5" fill="#000">5</text>
<line x1="1234.5" y1="2200.4" x2="1238" y2="2200.4" stroke="#000" stroke-width="1"/>
<text x="1242.5" y="2204.9" font-size="12.5" fill="#000">6</text>
<text x="1058.6" y="2164.4" font-size="24.5" textLength="102" lengthAdjust="spacingAndGlyphs" fill="#000">WT_REP4</text>
<rect x="1326.4" y="2172.2" width="210.5" height="223" fill="none" stroke="#333" stroke-width="1.5"/>
<rect x="1545.7" y="2178.0" width="11" height="211.8" fill="url(#gj)" stroke="#111" stroke-width="1"/>
<line x1="1556.7" y1="2389.2" x2="1560.2" y2="2389.2" stroke="#000" stroke-width="1"/>
<text x="1564.7" y="2393.7" font-size="12.5" fill="#000">0</text>
<line x1="1556.7" y1="2357.7" x2="1560.2" y2="2357.7" stroke="#000" stroke-width="1"/>
<text x="1564.7" y="2362.2" font-size="12.5" fill="#000">1</text>
<line x1="1556.7" y1="2326.3" x2="1560.2" y2="2326.3" stroke="#000" stroke-width="1"/>
<text x="1564.7" y="2330.8" font-size="12.5" fill="#000">2</text>
<line x1="1556.7" y1="2294.8" x2="1560.2" y2="2294.8" stroke="#000" stroke-width="1"/>
<text x="1564.7" y="2299.3" font-size="12.5" fill="#000">3</text>
<line x1="1556.7" y1="2263.3" x2="1560.2" y2="2263.3" stroke="#000" stroke-width="1"/>
<text x="1564.7" y="2267.8" font-size="12.5" fill="#000">4</text>
<line x1="1556.7" y1="2231.8" x2="1560.2" y2="2231.8" stroke="#000" stroke-width="1"/>
<text x="1564.7" y="2236.3" font-size="12.5" fill="#000">5</text>
<line x1="1556.7" y1="2200.4" x2="1560.2" y2="2200.4" stroke="#000" stroke-width="1"/>
<text x="1564.7" y="2204.9" font-size="12.5" fill="#000">6</text>
<text x="1380.8" y="2164.4" font-size="24.5" textLength="102" lengthAdjust="spacingAndGlyphs" fill="#000">WT_REP5</text>
<rect x="1648.7" y="2172.2" width="210.5" height="223" fill="none" stroke="#333" stroke-width="1.5"/>
<rect x="1868.0" y="2178.0" width="11" height="211.8" fill="url(#gj)" stroke="#111" stroke-width="1"/>
<line x1="1879" y1="2389.2" x2="1882.5" y2="2389.2" stroke="#000" stroke-width="1"/>
<text x="1887" y="2393.7" font-size="12.5" fill="#000">0</text>
<line x1="1879" y1="2357.7" x2="1882.5" y2="2357.7" stroke="#000" stroke-width="1"/>
<text x="1887" y="2362.2" font-size="12.5" fill="#000">1</text>
<line x1="1879" y1="2326.3" x2="1882.5" y2="2326.3" stroke="#000" stroke-width="1"/>
<text x="1887" y="2330.8" font-size="12.5" fill="#000">2</text>
<line x1="1879" y1="2294.8" x2="1882.5" y2="2294.8" stroke="#000" stroke-width="1"/>
<text x="1887" y="2299.3" font-size="12.5" fill="#000">3</text>
<line x1="1879" y1="2263.3" x2="1882.5" y2="2263.3" stroke="#000" stroke-width="1"/>
<text x="1887" y="2267.8" font-size="12.5" fill="#000">4</text>
<line x1="1879" y1="2231.8" x2="1882.5" y2="2231.8" stroke="#000" stroke-width="1"/>
<text x="1887" y="2236.3" font-size="12.5" fill="#000">5</text>
<line x1="1879" y1="2200.4" x2="1882.5" y2="2200.4" stroke="#000" stroke-width="1"/>
<text x="1887" y="2204.9" font-size="12.5" fill="#000">6</text>
<text x="1703.1" y="2164.4" font-size="24.5" textLength="102" lengthAdjust="spacingAndGlyphs" fill="#000">WT_REP6</text>
<path d="M418 332h0" stroke="#471164" stroke-width="4.6" stroke-linecap="round" fill="none"/>
<path d="M279 178h0m158 73h0" stroke="#482071" stroke-width="4.6" stroke-linecap="round" fill="none"/>
<path d="M192 137h0m24 -1h0m235 3h0m-242 6h0m-23 10h0m6 -2h0m231 4h0m-222 15h0m17 0h0m-2 16h0m7 -4h0m-8 17h0m3 11h0m311 -2h0m-339 8h0m65 2h0m162 -1h0m-233 5h0m5 1h0m28 -3h0m16 2h0m217 5h0m-42 10h0m15 -2h0m50 36h0m10 6h0m19 2h0m-149 25h0m32 8h0m38 -2h0m-51 26h0m118 5h0m-2 16h0m-76 12h0m-15 36h0m-9 10h0m1 -2h0" stroke="#472e7c" stroke-width="4.6" stroke-linecap="round" fill="none"/>
<path d="M439 115h0m10 -6h0m25 4h0m-264 33h0m5 10h0m230 -3h0m88 9h0m-354 6h0m9 -2h0m48 6h0m35 -8h0m147 3h0m54 -2h0m-296 10h0m17 4h0m14 -1h0m336 -4h0m-357 9h0m239 3h0m2 0h0m99 -1h0m-315 8h0m69 3h0m142 -3h0m77 1h0m2 -2h0m-301 7h0m48 4h0m223 -1h0m-211 8h0m25 1h0m140 -4h0m130 -2h0m-304 9h0m31 6h0m167 -8h0m35 5h0m65 0h0m-319 6h0m24 0h0m32 -2h0m131 2h0m56 2h0m39 -3h0m-296 7h0m50 0h0m179 2h0m54 -2h0m37 -1h0m-337 12h0m56 4h0m184 -7h0m40 2h0m-64 11h0m-197 3h0m134 9h0m40 5h0m91 -1h0m1 -2h0m-85 10h0m86 1h0m-47 7h0m72 -1h0m-60 6h0m15 -3h0m27 1h0m22 5h0m-123 4h0m-8 13h0m35 -2h0m-105 10h0m91 2h0m1 2h0m25 4h0m-84 4h0m49 -1h0m58 -2h0m-194 30h0m52 -4h0m-42 20h0m111 -4h0m5 -1h0m9 2h0m14 0h0m-23 7h0m0 6h0m21 5h0m17 -1h0m1 2h0m-41 4h0m21 4h0m110 -1h0m32 2h0m-149 6h0" stroke="#443b84" stroke-width="4.6" stroke-linecap="round" fill="none"/>
<path d="M366 99h0m62 17h0m12 -2h0m31 2h0m2 -2h0m-277 6h0m236 -2h0m23 2h0m-290 11h0m9 -2h0m0 1h0m6 -2h0m0 2h0m11 -6h0m28 6h0m141 -5h0m61 3h0m4 1h0m10 -3h0m5 3h0m15 -4h0m1 1h0m6 3h0m-289 10h0m1 -6h0m5 0h0m10 3h0m14 3h0m14 0h0m198 -3h0m33 4h0m8 -3h0m33 1h0m14 2h0m4 -1h0m-330 8h0m16 -3h0m30 0h0m14 1h0m12 -2h0m10 3h0m158 1h0m69 -2h0m-298 9h0m9 -4h0m218 1h0m25 1h0m15 4h0m2 -6h0m-259 8h0m35 0h0m26 -1h0m3 3h0m162 0h0m54 1h0m-264 4h0m8 2h0m246 0h0m1 1h0m50 2h0m17 2h0m-344 4h0m23 -3h0m15 -1h0m12 7h0m21 -6h0m10 0h0m157 3h0m57 0h0m38 -2h0m14 -1h0m-356 8h0m24 0h0m12 6h0m3 -6h0m3 3h0m7 -2h0m1 1h0m9 0h0m29 -1h0m7 3h0m186 -3h0m16 5h0m34 -2h0m3 0h0m-340 7h0m32 2h0m1 -2h0m7 3h0m3 -4h0m28 -1h0m4 -2h0m34 5h0m171 -3h0m51 1h0m33 0h0m-337 12h0m3 -7h0m74 3h0m133 2h0m40 -4h0m1 1h0m4 2h0m27 1h0m1 -4h0m22 2h0m0 1h0m47 -1h0m-357 10h0m0 1h0m8 -3h0m7 3h0m36 -3h0m6 -3h0m19 8h0m141 -3h0m20 1h0m35 2h0m28 -5h0m54 -2h0m-371 13h0m42 -2h0m2 -1h0m10 4h0m9 1h0m9 -1h0m75 -3h0m154 -3h0m48 4h0m16 0h0m-313 6h0m6 3h0m10 -3h0m0 0h0m10 4h0m172 0h0m2 -5h0m6 0h0m19 1h0m21 -3h0m18 5h0m12 1h0m4 2h0m4 -5h0m19 -2h0m3 7h0m-298 4h0m23 -2h0m133 4h0m4 -1h0m35 -4h0m5 6h0m25 -2h0m11 0h0m38 -4h0m3 4h0m23 -1h0m-348 5h0m21 4h0m213 3h0m22 -6h0m65 3h0m-309 5h0m26 -2h0m2 1h0m211 3h0m18 0h0m-267 5h0m10 -1h0m167 1h0m43 2h0m13 4h0m33 -1h0m19 1h0m-266 5h0m240 0h0m21 -4h0m20 7h0m2 -3h0m-121 9h0m28 3h0m-110 0h0m69 0h0m62 4h0m1 2h0m21 -1h0m8 3h0m14 -5h0m-115 10h0m2 -4h0m15 0h0m24 1h0m53 -2h0m60 3h0m7 3h0m6 0h0m-135 9h0m16 -6h0m31 4h0m-90 8h0m56 -3h0m44 0h0m12 -2h0m-38 15h0m30 -4h0m7 3h0m-176 9h0m153 -7h0m29 3h0m-146 7h0m81 6h0m12 -4h0m5 -2h0m31 5h0m-166 6h0m133 2h0m1 -5h0m72 6h0m-82 3h0m0 4h0m103 -1h0m-135 6h0m66 -4h0m55 4h0m-98 5h0m26 5h0m87 -3h0m1 4h0m11 0h0m28 0h0m-281 7h0m119 -5h0m7 3h0m12 -2h0m2 -2h0m2 5h0m2 -1h0m92 3h0m26 -5h0m-278 7h0m128 2h0m16 -1h0m25 1h0m91 4h0m-269 5h0m3 -2h0m175 0h0m5 2h0m-98 4h0m67 7h0m0 0h0m10 -1h0m22 -5h0m109 4h0m2 0h0m5 1h0m-138 8h0m3 7h0m4 0h0m16 -2h0m-124 11h0m112 0h0m6 -4h0m-123 10h0m2 4h0" stroke="#3f4889" stroke-width="4.6" stroke-linecap="round" fill="none"/>
<path d="M360 79h0m-3 20h0m-8 5h0m93 3h0m17 -1h0m-102 10h0m62 6h0m15 0h0m15 -4h0m5 0h0m20 5h0m2 -4h0m1 4h0m11 -5h0m4 5h0m2 -2h0m-324 9h0m19 -2h0m1 -4h0m13 4h0m3 -1h0m151 5h0m70 -7h0m6 2h0m17 3h0m1 0h0m10 -4h0m25 4h0m2 -2h0m1 -1h0m9 0h0m-318 8h0m20 -3h0m8 3h0m1 2h0m6 -2h0m7 -2h0m0 4h0m11 -1h0m16 3h0m106 -6h0m75 2h0m15 -2h0m11 4h0m30 0h0m-293 3h0m0 4h0m6 -1h0m1 1h0m16 0h0m4 -1h0m6 2h0m21 -2h0m2 -2h0m0 -1h0m0 8h0m167 -2h0m7 -1h0m15 -5h0m7 0h0m10 8h0m2 -2h0m19 -1h0m14 1h0m-323 2h0m8 6h0m25 -4h0m2 -1h0m19 6h0m6 -7h0m1 1h0m9 1h0m6 -2h0m2 5h0m2 1h0m0 -2h0m1 1h0m5 1h0m8 0h0m106 -4h0m46 4h0m23 -6h0m2 0h0m11 4h0m13 4h0m8 -3h0m5 1h0m5 0h0m3 0h0m22 -1h0m5 -3h0m-317 11h0m2 2h0m11 -6h0m0 1h0m0 -1h0m1 1h0m10 0h0m2 4h0m18 -5h0m1 5h0m25 -2h0m4 2h0m146 -4h0m19 3h0m22 1h0m9 1h0m5 1h0m16 -7h0m17 0h0m11 3h0m7 1h0m1 -5h0m10 5h0m-347 5h0m2 0h0m24 3h0m2 -1h0m28 1h0m5 -3h0m4 -1h0m0 7h0m4 -6h0m11 5h0m4 -4h0m66 4h0m17 -2h0m80 -3h0m1 -2h0m18 7h0m12 -1h0m8 0h0m14 1h0m12 0h0m20 -1h0m1 -1h0m-329 5h0m6 2h0m5 -3h0m13 6h0m8 1h0m3 -6h0m28 6h0m9 -1h0m5 -6h0m12 -1h0m2 7h0m78 -4h0m66 -3h0m6 1h0m17 3h0m2 2h0m8 -1h0m24 -1h0m21 -3h0m-289 9h0m16 5h0m12 0h0m1 -4h0m1 -2h0m35 -1h0m4 3h0m54 1h0m4 3h0m88 -7h0m1 1h0m6 1h0m15 -2h0m11 6h0m3 2h0m3 0h0m2 -6h0m32 -2h0m14 4h0m13 -4h0m13 1h0m-346 9h0m7 -2h0m14 5h0m3 1h0m11 -6h0m11 4h0m3 3h0m13 -4h0m25 1h0m0 -4h0m3 1h0m52 3h0m48 2h0m43 -4h0m3 3h0m2 -5h0m68 7h0m1 -6h0m5 -1h0m12 6h0m-332 6h0m25 -4h0m12 4h0m45 -3h0m3 1h0m11 1h0m1 1h0m3 2h0m136 -3h0m4 1h0m38 3h0m4 -5h0m20 -1h0m16 1h0m6 4h0m9 -6h0m28 3h0m-337 9h0m2 -1h0m30 0h0m38 -2h0m38 0h0m37 2h0m28 3h0m0 -4h0m26 1h0m25 0h0m5 1h0m2 2h0m11 -1h0m9 -1h0m6 -3h0m11 7h0m19 -8h0m2 4h0m34 0h0m21 0h0m2 3h0m3 -6h0m4 0h0m-363 11h0m5 -1h0m8 0h0m4 1h0m24 -1h0m2 -2h0m25 4h0m14 -2h0m1 -1h0m4 4h0m0 -4h0m4 2h0m44 -3h0m80 2h0m5 1h0m1 -2h0m7 5h0m1 -3h0m5 1h0m10 -3h0m21 1h0m3 -2h0m18 2h0m5 -1h0m8 6h0m9 -2h0m15 -1h0m36 -4h0m2 2h0m-360 9h0m9 -4h0m0 8h0m16 0h0m19 -5h0m12 0h0m19 0h0m113 3h0m0 -5h0m19 4h0m21 -3h0m4 6h0m24 -8h0m9 4h0m69 2h0m13 -2h0m-347 9h0m3 0h0m6 3h0m7 -7h0m27 -1h0m1 7h0m10 -4h0m2 1h0m16 -1h0m190 5h0m8 -4h0m8 0h0m12 1h0m20 0h0m3 -3h0m18 3h0m1 2h0m7 -6h0m18 0h0m-346 10h0m0 0h0m10 0h0m3 4h0m7 -1h0m11 -1h0m6 -1h0m110 -4h0m16 8h0m14 -4h0m10 1h0m6 -1h0m1 -2h0m9 1h0m23 2h0m7 -3h0m8 2h0m9 3h0m9 -7h0m8 7h0m56 -2h0m15 3h0m1 -5h0m2 0h0m-353 11h0m3 -6h0m4 3h0m10 2h0m3 2h0m12 -5h0m4 6h0m6 -7h0m5 5h0m5 0h0m173 -6h0m5 0h0m8 6h0m4 -4h0m2 -1h0m10 4h0m9 2h0m0 -7h0m71 2h0m4 1h0m0 -3h0m-336 10h0m4 4h0m23 -6h0m2 2h0m2 4h0m4 0h0m3 -6h0m130 1h0m21 3h0m18 0h0m12 1h0m2 -1h0m10 3h0m46 0h0m64 -1h0m0 -4h0m-327 12h0m4 -3h0m97 0h0m52 5h0m17 -3h0m11 2h0m2 -3h0m3 -1h0m42 0h0m34 -3h0m1 8h0m0 -5h0m-109 11h0m36 -3h0m14 -2h0m11 4h0m4 -2h0m6 4h0m24 -4h0m8 0h0m7 5h0m13 -2h0m0 -4h0m4 2h0m3 0h0m6 3h0m-189 4h0m21 5h0m26 -1h0m9 -1h0m14 -2h0m26 -3h0m7 -1h0m7 7h0m35 -1h0m3 0h0m14 -5h0m6 6h0m-168 5h0m5 0h0m33 -1h0m4 -1h0m5 -1h0m9 0h0m9 7h0m4 -6h0m6 2h0m16 -1h0m1 2h0m11 -2h0m1 -3h0m72 4h0m7 -2h0m8 -2h0m12 7h0m-284 3h0m81 3h0m3 1h0m38 -4h0m16 4h0m2 -5h0m33 5h0m23 -1h0m15 -4h0m13 6h0m1 1h0m53 -7h0m8 0h0m1 1h0m-283 7h0m68 1h0m7 1h0m8 2h0m95 -4h0m7 0h0m2 6h0m30 -4h0m-174 8h0m50 -2h0m25 2h0m19 -3h0m5 7h0m10 -3h0m3 -1h0m13 2h0m18 -5h0m13 3h0m14 1h0m7 -4h0m-194 15h0m8 -6h0m9 -1h0m23 4h0m21 2h0m47 -3h0m9 0h0m19 -2h0m0 4h0m3 -2h0m7 -3h0m46 5h0m-189 4h0m73 2h0m20 -2h0m1 2h0m1 -3h0m39 4h0m0 2h0m27 -4h0m29 -1h0m-123 14h0m7 -5h0m22 0h0m4 -2h0m3 1h0m5 5h0m0 2h0m12 -4h0m24 3h0m22 -1h0m1 -1h0m37 0h0m18 2h0m2 -3h0m-171 9h0m8 0h0m54 2h0m15 -1h0m5 -6h0m11 2h0m5 -1h0m22 0h0m5 1h0m34 0h0m31 -1h0m10 0h0m12 5h0m5 1h0m-295 5h0m14 -1h0m44 3h0m3 -5h0m71 2h0m31 5h0m-165 2h0m29 3h0m3 2h0m9 -6h0m4 5h0m83 -6h0m1 4h0m20 2h0m0 -1h0m8 -4h0m81 2h0m19 2h0m6 2h0m29 0h0m1 -2h0m9 2h0m-169 2h0m2 4h0m7 -4h0m2 3h0m9 -1h0m5 2h0m13 0h0m2 -4h0m3 1h0m0 -1h0m116 4h0m13 1h0m4 -3h0m2 -1h0m1 2h0m-151 7h0m6 0h0m8 -3h0m67 7h0m15 1h0m36 -6h0m29 3h0m-244 11h0m57 -5h0m12 5h0m6 -2h0m3 0h0m4 1h0m3 -1h0m0 0h0m9 -5h0m1 1h0m2 4h0m5 0h0m68 0h0m10 -2h0m21 1h0m20 -5h0m-214 8h0m57 7h0m5 0h0m1 -5h0m11 4h0m1 0h0m6 -1h0m0 -2h0m11 1h0m3 -1h0m88 1h0m13 0h0m20 0h0m12 2h0m-246 4h0m68 2h0m1 2h0m5 -6h0m2 8h0m18 -6h0m16 0h0m8 -1h0m-48 13h0m5 -2h0m1 4h0m3 -6h0m2 -1h0m5 12h0m0 -3h0m4 -1h0m6 4h0m1 2h0m9 -7h0m0 7h0m3 -3h0m-121 7h0m2 5h0m104 -3h0m2 2h0m0 -4h0m6 1h0m3 -3h0m-139 33h0" stroke="#3a548c" stroke-width="4.6" stroke-linecap="round" fill="none"/>
<path d="M301 82h0m58 -2h0m3 3h0m-8 16h0m-4 8h0m5 -1h0m7 7h0m2 -4h0m68 5h0m0 -4h0m22 -2h0m4 7h0m4 -6h0m5 -1h0m2 0h0m-279 14h0m160 2h0m1 -7h0m74 -1h0m4 1h0m0 2h0m13 4h0m6 -2h0m1 2h0m0 -7h0m8 2h0m2 1h0m5 4h0m16 -3h0m5 2h0m4 2h0m2 -1h0m-311 3h0m23 0h0m11 0h0m2 4h0m10 -4h0m1 4h0m2 2h0m5 0h0m0 -3h0m8 2h0m107 -2h0m1 -4h0m1 7h0m3 -6h0m8 5h0m4 -5h0m1 4h0m52 -2h0m3 -1h0m15 -2h0m2 4h0m16 1h0m2 2h0m15 -6h0m1 5h0m10 -5h0m-316 12h0m12 -6h0m18 4h0m8 -1h0m20 4h0m1 -2h0m3 -2h0m2 -1h0m4 5h0m1 -4h0m18 3h0m173 -4h0m1 5h0m2 -4h0m11 -1h0m1 5h0m1 -1h0m3 -5h0m0 2h0m8 2h0m4 3h0m11 -8h0m4 5h0m6 3h0m2 -5h0m11 3h0m6 -3h0m1 -2h0m0 1h0m4 0h0m-336 7h0m1 4h0m8 1h0m24 -3h0m13 4h0m1 -6h0m1 -1h0m5 8h0m6 -1h0m2 -1h0m17 -1h0m4 3h0m6 -2h0m3 0h0m96 0h0m1 -3h0m60 1h0m3 -4h0m8 8h0m1 -1h0m3 -4h0m10 5h0m5 -2h0m0 1h0m1 -7h0m9 6h0m1 1h0m3 -5h0m3 -1h0m5 5h0m16 -2h0m3 0h0m1 4h0m2 -5h0m-322 13h0m2 -2h0m2 -5h0m11 0h0m17 -1h0m2 6h0m1 -1h0m5 -2h0m8 3h0m5 -5h0m1 1h0m15 6h0m27 -7h0m99 3h0m4 -1h0m56 5h0m6 -2h0m1 0h0m20 0h0m0 -1h0m10 -4h0m2 5h0m5 -2h0m10 -3h0m4 2h0m2 2h0m16 1h0m10 -6h0m-337 15h0m11 -1h0m5 1h0m4 0h0m2 0h0m0 -5h0m1 3h0m11 -3h0m0 0h0m11 6h0m4 -5h0m11 -3h0m8 1h0m9 4h0m14 -3h0m4 4h0m150 -3h0m13 4h0m5 -6h0m8 1h0m24 3h0m7 -3h0m8 6h0m2 -5h0m1 5h0m9 -6h0m5 5h0m5 -7h0m1 1h0m2 1h0m3 -2h0m2 0h0m10 5h0m11 1h0m-359 6h0m3 0h0m4 -1h0m1 2h0m12 0h0m9 -3h0m1 -2h0m5 3h0m5 0h0m1 3h0m51 -4h0m5 6h0m2 -3h0m95 2h0m59 1h0m8 -7h0m11 2h0m3 -2h0m7 4h0m12 -3h0m3 2h0m7 -3h0m5 5h0m11 -1h0m5 3h0m10 -4h0m3 2h0m14 1h0m5 -3h0m6 -2h0m4 2h0m-362 4h0m1 8h0m1 -2h0m1 -5h0m7 4h0m5 3h0m2 -1h0m20 -5h0m2 6h0m2 -7h0m13 4h0m6 -4h0m12 1h0m7 1h0m13 3h0m106 -5h0m64 -1h0m1 0h0m3 3h0m8 3h0m1 1h0m1 -7h0m1 8h0m20 -8h0m1 2h0m3 2h0m0 -3h0m14 5h0m4 -3h0m2 -1h0m36 -1h0m3 3h0m2 2h0m-363 9h0m3 -4h0m3 4h0m0 1h0m19 0h0m8 -1h0m2 0h0m5 1h0m4 -3h0m12 1h0m2 -1h0m5 1h0m8 -5h0m9 2h0m4 0h0m12 2h0m112 -3h0m32 -2h0m14 6h0m5 -3h0m4 1h0m6 -2h0m9 3h0m11 3h0m4 -1h0m12 -4h0m15 1h0m3 -2h0m3 -1h0m16 6h0m9 -2h0m4 2h0m7 -1h0m7 0h0m-368 3h0m18 6h0m1 -3h0m2 -1h0m1 1h0m1 0h0m1 -1h0m6 -1h0m0 3h0m2 -2h0m2 0h0m7 0h0m0 2h0m11 -2h0m2 3h0m24 0h0m9 -6h0m7 8h0m47 -6h0m26 4h0m0 -3h0m18 4h0m53 1h0m1 -4h0m14 4h0m2 -1h0m3 -5h0m5 -1h0m9 5h0m3 -3h0m0 -3h0m27 3h0m4 1h0m1 -3h0m25 3h0m2 1h0m4 -4h0m10 4h0m6 1h0m0 -5h0m6 3h0m15 4h0m-362 8h0m33 -6h0m3 1h0m5 1h0m9 -4h0m3 2h0m5 0h0m3 3h0m2 2h0m3 1h0m16 -1h0m3 -1h0m4 -1h0m7 -4h0m62 2h0m7 4h0m7 0h0m37 -4h0m9 -1h0m9 -1h0m13 2h0m14 1h0m5 -3h0m15 2h0m6 1h0m3 2h0m2 -5h0m11 5h0m9 1h0m6 -1h0m2 -3h0m8 3h0m1 -3h0m15 4h0m10 -1h0m1 2h0m1 -2h0m15 0h0m2 -3h0m-375 6h0m4 4h0m8 -2h0m8 5h0m3 -6h0m5 2h0m1 1h0m3 3h0m12 -2h0m4 -4h0m3 3h0m4 0h0m26 3h0m8 -6h0m22 3h0m123 -2h0m7 1h0m3 -1h0m5 5h0m3 -4h0m1 3h0m7 -1h0m1 1h0m2 -3h0m17 -1h0m20 2h0m2 2h0m8 -2h0m0 0h0m17 -4h0m27 -1h0m9 0h0m0 7h0m7 -2h0m-364 7h0m0 -4h0m4 1h0m1 1h0m8 4h0m10 1h0m10 -4h0m4 4h0m5 -5h0m2 1h0m14 0h0m6 1h0m43 -2h0m103 4h0m4 -5h0m6 7h0m11 -5h0m1 3h0m3 -3h0m4 0h0m3 0h0m8 0h0m6 4h0m12 0h0m11 -2h0m17 -1h0m4 1h0m3 2h0m8 -3h0m2 3h0m21 -1h0m0 -1h0m8 2h0m4 -2h0m10 0h0m1 -2h0m20 0h0m-379 13h0m2 -3h0m0 -4h0m22 5h0m7 0h0m10 1h0m5 -1h0m10 1h0m5 0h0m3 -3h0m13 2h0m0 -4h0m1 5h0m9 0h0m2 -4h0m63 -2h0m7 -1h0m40 4h0m24 -2h0m1 -1h0m4 3h0m6 -2h0m5 5h0m17 -5h0m13 -1h0m2 4h0m7 0h0m7 -3h0m3 5h0m6 0h0m4 -1h0m2 2h0m1 -3h0m1 -3h0m9 3h0m26 -1h0m4 0h0m13 2h0m8 0h0m9 2h0m3 0h0m0 -2h0m3 0h0m1 -5h0m-357 8h0m6 2h0m13 -2h0m3 4h0m11 0h0m4 -4h0m10 1h0m15 1h0m55 5h0m30 -2h0m28 -2h0m20 1h0m14 1h0m3 -1h0m8 0h0m17 -3h0m35 -2h0m33 3h0m15 4h0m4 -7h0m3 5h0m3 -4h0m10 4h0m-355 9h0m12 -5h0m16 0h0m5 6h0m21 0h0m4 -5h0m1 0h0m5 5h0m0 -4h0m104 1h0m23 0h0m10 1h0m9 -4h0m1 4h0m1 -4h0m0 0h0m7 1h0m10 -2h0m3 2h0m49 1h0m9 2h0m37 1h0m6 2h0m3 -6h0m3 2h0m6 0h0m1 -4h0m13 6h0m-341 6h0m10 0h0m3 1h0m5 -1h0m2 -2h0m9 -1h0m2 0h0m12 1h0m110 0h0m10 -1h0m0 0h0m2 4h0m6 0h0m1 1h0m1 1h0m29 0h0m4 -6h0m4 6h0m7 -5h0m9 0h0m9 1h0m3 1h0m3 3h0m3 -3h0m9 3h0m10 -2h0m7 -2h0m1 1h0m46 0h0m3 0h0m4 3h0m13 -2h0m-348 8h0m8 -4h0m0 0h0m16 3h0m9 4h0m132 -7h0m19 2h0m3 1h0m2 -3h0m7 6h0m22 -2h0m3 -5h0m11 0h0m6 5h0m27 -1h0m7 -1h0m4 2h0m1 2h0m17 0h0m35 -7h0m8 7h0m-325 2h0m5 -1h0m10 7h0m0 -2h0m3 -1h0m138 -3h0m4 3h0m2 -2h0m19 2h0m34 -4h0m0 1h0m10 6h0m0 1h0m8 -2h0m2 -2h0m0 1h0m13 1h0m11 -4h0m0 0h0m2 3h0m1 0h0m0 2h0m2 -4h0m6 -3h0m19 4h0m2 1h0m-277 3h0m95 6h0m37 -5h0m2 1h0m2 0h0m4 -1h0m7 4h0m19 -2h0m5 -2h0m14 1h0m2 3h0m1 -2h0m4 4h0m5 -2h0m8 -2h0m18 -1h0m2 5h0m9 -5h0m10 -2h0m13 4h0m2 3h0m12 0h0m4 -3h0m0 -1h0m-204 13h0m26 -3h0m15 -1h0m9 0h0m15 1h0m16 -3h0m8 2h0m10 2h0m6 -6h0m7 1h0m14 6h0m2 0h0m6 -1h0m0 1h0m3 -7h0m5 5h0m2 0h0m3 -1h0m9 -3h0m0 1h0m18 0h0m3 -1h0m2 1h0m5 0h0m0 5h0m7 -1h0m0 1h0m4 0h0m6 -2h0m5 3h0m3 -3h0m1 0h0m6 1h0m2 -1h0m2 -1h0m3 -3h0m-214 12h0m6 -1h0m29 2h0m3 -6h0m0 5h0m7 -3h0m1 -2h0m9 7h0m8 -2h0m3 2h0m9 -5h0m10 2h0m4 1h0m16 0h0m5 -2h0m1 -2h0m2 0h0m3 3h0m0 -1h0m12 3h0m3 -3h0m3 -3h0m16 2h0m52 1h0m2 -1h0m3 1h0m0 -2h0m5 3h0m8 3h0m-209 4h0m1 -2h0m2 3h0m37 1h0m33 -1h0m19 1h0m4 -4h0m4 1h0m22 -2h0m10 3h0m1 2h0m5 -1h0m11 -3h0m54 1h0m2 -1h0m-285 8h0m78 3h0m7 -2h0m27 3h0m7 -4h0m11 0h0m2 4h0m6 -4h0m3 3h0m10 -1h0m12 -2h0m2 7h0m0 -6h0m8 1h0m11 4h0m9 -3h0m3 2h0m6 2h0m20 -5h0m-175 6h0m5 4h0m4 1h0m6 2h0m5 -1h0m2 -7h0m11 0h0m0 1h0m26 1h0m16 0h0m29 3h0m6 1h0m2 2h0m2 -5h0m2 5h0m10 -4h0m5 1h0m8 -5h0m29 1h0m3 4h0m-185 11h0m10 -3h0m3 -2h0m1 0h0m0 3h0m9 -4h0m16 6h0m5 -1h0m51 0h0m0 0h0m25 -1h0m4 -1h0m2 -1h0m3 -4h0m13 3h0m5 -1h0m6 5h0m3 -5h0m16 0h0m14 0h0m0 0h0m-188 6h0m9 1h0m27 7h0m11 -4h0m23 2h0m24 0h0m4 -1h0m0 0h0m5 2h0m1 -1h0m15 -4h0m3 0h0m5 -2h0m8 7h0m12 0h0m3 -4h0m0 0h0m3 -2h0m4 1h0m1 -2h0m19 3h0m16 3h0m-174 4h0m6 1h0m23 4h0m15 -6h0m11 1h0m52 3h0m5 3h0m2 -1h0m6 -1h0m2 1h0m30 -5h0m16 2h0m25 -3h0m0 5h0m-211 5h0m22 -2h0m0 2h0m1 0h0m7 5h0m2 -3h0m5 0h0m3 0h0m1 3h0m69 -6h0m5 2h0m3 -1h0m7 -2h0m9 7h0m1 -3h0m2 -1h0m3 -2h0m26 0h0m15 -2h0m5 4h0m20 1h0m2 2h0m2 -7h0m0 2h0m2 -2h0m10 6h0m17 -5h0m12 4h0m0 -4h0m7 4h0m7 -2h0m-279 11h0m8 0h0m2 -5h0m12 2h0m10 1h0m10 1h0m1 2h0m5 1h0m9 -7h0m1 2h0m54 -2h0m9 6h0m7 -1h0m30 -3h0m3 -1h0m1 0h0m5 -1h0m1 0h0m2 1h0m16 2h0m4 -4h0m29 6h0m16 0h0m0 -3h0m27 -3h0m8 4h0m4 -1h0m0 -1h0m4 2h0m6 -4h0m2 5h0m-266 7h0m18 -2h0m5 4h0m6 -5h0m64 3h0m8 -4h0m5 8h0m1 -3h0m9 -5h0m3 1h0m0 1h0m4 -1h0m3 -1h0m4 6h0m0 2h0m19 -3h0m5 -4h0m49 3h0m18 3h0m7 -4h0m1 1h0m1 1h0m22 0h0m10 1h0m8 -5h0m-272 12h0m104 -3h0m5 6h0m3 -7h0m1 5h0m5 -4h0m13 1h0m9 -1h0m1 2h0m2 -4h0m3 6h0m5 -1h0m4 3h0m52 -4h0m1 1h0m33 -1h0m1 -1h0m28 0h0m5 0h0m5 4h0m3 -5h0m4 1h0m-327 7h0m11 6h0m24 -5h0m5 -1h0m101 0h0m14 -2h0m7 8h0m1 -3h0m13 -1h0m4 -4h0m7 4h0m4 -4h0m59 6h0m2 -5h0m1 6h0m26 -3h0m17 -3h0m3 5h0m1 0h0m16 -6h0m3 3h0m-293 6h0m66 -1h0m48 5h0m2 1h0m3 1h0m10 -4h0m1 2h0m3 2h0m5 1h0m3 -2h0m5 -2h0m2 -3h0m2 6h0m4 -2h0m6 2h0m1 0h0m4 -2h0m68 -2h0m1 5h0m47 -2h0m9 -4h0m18 -1h0m-249 14h0m6 -6h0m54 5h0m1 -1h0m1 -4h0m34 6h0m1 0h0m86 -5h0m22 4h0m2 0h0m11 -1h0m1 1h0m6 -4h0m7 0h0m3 -2h0m6 1h0m-249 11h0m2 1h0m64 -1h0m1 -4h0m3 4h0m3 -1h0m7 4h0m1 -6h0m5 -1h0m21 1h0m3 4h0m0 -3h0m1 3h0m5 2h0m-45 6h0m5 -5h0m2 6h0m2 2h0m1 -8h0m7 6h0m2 -2h0m2 -3h0m2 0h0m3 2h0m4 1h0m5 3h0m0 -7h0m4 1h0m-125 9h0m91 -1h0m1 3h0m0 3h0m7 -4h0m6 0h0m2 3h0m3 0h0m1 0h0m2 0h0m2 -4h0m4 3h0m1 -4h0m-15 13h0m3 -4h0m2 4h0m2 -4h0m3 2h0m4 -4h0m-120 10h0m-18 25h0" stroke="#34608d" stroke-width="4.6" stroke-linecap="round" fill="none"/>
<path d="M309 84h0m50 -2h0m2 1h0m-7 3h0m1 0h0m-46 8h0m42 2h0m1 1h0m1 -3h0m4 2h0m2 -4h0m-44 8h0m1 2h0m37 -1h0m6 0h0m84 7h0m-123 8h0m29 -6h0m1 2h0m2 -2h0m5 -1h0m72 4h0m3 -2h0m0 3h0m8 -3h0m8 2h0m19 -1h0m3 2h0m-267 7h0m7 2h0m112 -1h0m33 -1h0m4 1h0m0 -4h0m60 6h0m6 -4h0m1 -1h0m11 2h0m0 -2h0m12 -3h0m13 4h0m4 1h0m11 -3h0m2 4h0m1 0h0m7 2h0m2 -4h0m-314 11h0m6 -4h0m12 0h0m1 -1h0m0 3h0m2 1h0m0 -1h0m11 -1h0m1 4h0m2 -6h0m1 2h0m0 -4h0m1 2h0m4 5h0m1 -3h0m2 2h0m7 -3h0m2 5h0m6 -2h0m132 1h0m56 -5h0m2 2h0m2 3h0m1 -3h0m19 -2h0m1 2h0m3 -3h0m5 6h0m6 -4h0m0 5h0m3 -4h0m10 3h0m0 -4h0m0 0h0m11 2h0m1 -1h0m-304 8h0m0 -2h0m2 3h0m9 -4h0m7 0h0m2 -1h0m9 5h0m3 -2h0m4 1h0m30 -2h0m6 5h0m96 -1h0m6 -5h0m6 3h0m5 0h0m56 -3h0m1 3h0m9 4h0m6 -3h0m12 0h0m4 3h0m1 -7h0m1 6h0m10 -1h0m4 1h0m6 -2h0m6 2h0m16 -4h0m2 0h0m5 -2h0m0 0h0m-330 12h0m9 -1h0m0 -1h0m12 2h0m1 -3h0m2 5h0m4 -3h0m11 -3h0m14 2h0m12 -1h0m4 0h0m0 5h0m2 -5h0m7 1h0m1 -2h0m96 2h0m1 1h0m0 -2h0m9 -1h0m4 6h0m53 -3h0m10 4h0m4 -4h0m1 2h0m8 -3h0m3 4h0m2 0h0m1 -4h0m6 2h0m12 -1h0m0 -4h0m3 5h0m0 -1h0m17 -2h0m5 5h0m14 -1h0m8 2h0m-346 4h0m13 1h0m5 -4h0m2 6h0m7 -6h0m4 5h0m8 -2h0m13 3h0m9 0h0m8 -1h0m0 1h0m5 -4h0m8 -1h0m1 6h0m2 -2h0m13 -1h0m100 -3h0m66 -1h0m3 2h0m1 -2h0m5 3h0m1 3h0m10 -3h0m7 0h0m1 -1h0m8 3h0m3 1h0m1 0h0m4 1h0m7 -7h0m4 4h0m3 1h0m2 2h0m2 -7h0m2 4h0m2 1h0m4 -6h0m13 2h0m2 2h0m0 0h0m-347 5h0m3 -1h0m2 0h0m1 6h0m1 -4h0m1 1h0m6 -1h0m8 6h0m4 0h0m18 -4h0m1 3h0m13 -5h0m0 2h0m6 0h0m0 3h0m6 0h0m8 1h0m6 -3h0m7 -4h0m6 6h0m4 -6h0m93 4h0m2 -4h0m52 -1h0m4 6h0m5 -2h0m5 -3h0m0 6h0m10 -2h0m1 0h0m4 -3h0m3 4h0m0 -6h0m10 2h0m9 -2h0m3 3h0m13 -1h0m1 0h0m5 1h0m5 2h0m4 -1h0m10 2h0m7 -3h0m4 -1h0m1 5h0m6 -2h0m3 -1h0m0 1h0m-349 4h0m7 6h0m8 -6h0m3 1h0m13 4h0m4 -2h0m0 2h0m2 -3h0m4 4h0m9 -2h0m9 -5h0m5 8h0m11 -7h0m8 7h0m1 -6h0m1 -2h0m74 6h0m11 1h0m18 -1h0m49 -6h0m0 2h0m1 2h0m2 3h0m3 0h0m16 -2h0m5 2h0m4 -7h0m1 6h0m2 -1h0m6 0h0m0 -3h0m1 2h0m1 -1h0m0 -1h0m10 0h0m2 -1h0m8 1h0m2 0h0m0 4h0m4 0h0m5 1h0m0 -1h0m4 -5h0m4 5h0m14 0h0m1 0h0m11 1h0m2 0h0m2 -4h0m12 4h0m-355 3h0m2 -1h0m0 4h0m6 1h0m6 0h0m13 -2h0m9 1h0m16 -1h0m0 3h0m10 -4h0m3 -2h0m0 5h0m2 -5h0m4 1h0m12 -1h0m7 0h0m60 2h0m19 3h0m6 0h0m3 0h0m10 -2h0m53 1h0m1 2h0m7 -2h0m9 1h0m8 0h0m14 -6h0m16 7h0m9 -6h0m3 0h0m13 4h0m5 -1h0m1 2h0m7 1h0m7 -7h0m1 1h0m1 3h0m-345 7h0m3 3h0m2 1h0m1 -3h0m1 -2h0m4 4h0m2 -6h0m2 0h0m0 1h0m9 0h0m6 1h0m2 2h0m3 -4h0m1 7h0m4 -1h0m2 -2h0m0 0h0m6 0h0m1 2h0m8 2h0m13 -4h0m0 -2h0m2 -1h0m3 4h0m11 2h0m2 0h0m1 -3h0m4 -4h0m4 8h0m2 -4h0m54 -4h0m8 3h0m10 3h0m6 2h0m12 -1h0m41 0h0m3 0h0m8 -1h0m1 -4h0m2 0h0m10 3h0m1 1h0m17 -1h0m5 3h0m1 -3h0m4 -5h0m3 1h0m5 2h0m2 -2h0m3 2h0m1 2h0m1 0h0m6 -2h0m12 0h0m6 -2h0m9 6h0m4 -2h0m3 0h0m11 -3h0m3 5h0m5 -5h0m1 0h0m0 5h0m7 -4h0m-369 12h0m3 -5h0m0 5h0m6 -1h0m4 -4h0m22 0h0m18 1h0m5 -2h0m3 0h0m6 -1h0m3 5h0m8 -1h0m3 0h0m2 1h0m3 -3h0m1 0h0m1 2h0m1 -4h0m0 1h0m3 2h0m0 4h0m6 -5h0m53 1h0m24 1h0m2 -1h0m1 4h0m24 -7h0m8 2h0m6 2h0m19 -1h0m6 3h0m13 -4h0m2 1h0m3 3h0m1 -5h0m1 0h0m1 5h0m4 -5h0m3 3h0m17 -2h0m1 5h0m11 -5h0m11 3h0m0 -3h0m5 -2h0m2 5h0m7 2h0m18 -7h0m3 3h0m3 -1h0m2 1h0m3 2h0m0 -4h0m2 3h0m2 2h0m1 -3h0m9 0h0m6 4h0m3 0h0m-374 3h0m7 0h0m3 1h0m8 -2h0m4 6h0m13 -4h0m2 3h0m6 -5h0m2 3h0m1 4h0m1 -7h0m3 -1h0m4 4h0m4 1h0m1 -5h0m6 2h0m4 6h0m5 -4h0m2 1h0m1 -1h0m3 2h0m6 -1h0m5 -4h0m7 6h0m2 -2h0m5 -3h0m4 2h0m2 -2h0m1 3h0m2 0h0m56 2h0m43 -1h0m11 -3h0m8 0h0m1 -2h0m0 0h0m3 4h0m1 -4h0m2 6h0m1 -7h0m4 1h0m5 0h0m9 5h0m5 2h0m5 -5h0m22 1h0m1 -3h0m2 4h0m16 -1h0m2 -3h0m7 3h0m7 4h0m1 -3h0m0 2h0m1 -3h0m3 2h0m2 -3h0m15 0h0m9 -1h0m8 -1h0m11 5h0m-371 5h0m5 0h0m4 1h0m10 -3h0m0 0h0m5 7h0m3 -1h0m7 0h0m0 0h0m4 -6h0m0 5h0m6 -2h0m12 0h0m2 4h0m5 -2h0m0 0h0m5 -2h0m1 1h0m12 2h0m3 -3h0m6 -3h0m10 6h0m2 -5h0m1 4h0m7 -3h0m3 4h0m46 -4h0m3 4h0m21 -6h0m18 4h0m21 -3h0m0 -2h0m10 6h0m8 2h0m12 -1h0m0 0h0m2 -1h0m22 -2h0m3 -2h0m23 6h0m3 -3h0m2 -5h0m1 2h0m4 2h0m4 -3h0m13 0h0m0 0h0m4 6h0m6 -3h0m2 -2h0m1 1h0m9 5h0m1 -8h0m2 2h0m2 4h0m2 -4h0m1 3h0m1 -1h0m1 1h0m2 -3h0m0 0h0m2 4h0m8 -1h0m5 -5h0m2 6h0m-379 5h0m2 2h0m4 3h0m11 -8h0m11 8h0m5 -7h0m2 4h0m4 -3h0m1 2h0m13 3h0m1 -3h0m3 -4h0m7 4h0m2 -1h0m5 -1h0m4 0h0m8 -2h0m15 2h0m28 4h0m8 -3h0m19 4h0m9 0h0m15 -5h0m42 1h0m9 3h0m3 -3h0m0 0h0m3 4h0m4 0h0m2 -3h0m0 3h0m3 -7h0m3 1h0m2 5h0m8 0h0m7 -3h0m5 1h0m5 -4h0m9 5h0m6 -3h0m5 0h0m2 1h0m1 2h0m8 0h0m2 -2h0m8 4h0m10 1h0m14 0h0m6 -4h0m24 3h0m6 -5h0m1 4h0m6 -1h0m1 1h0m-381 7h0m6 3h0m7 -2h0m9 -1h0m2 2h0m7 -4h0m3 -2h0m17 3h0m2 3h0m2 -5h0m0 0h0m1 1h0m10 0h0m10 5h0m8 -6h0m1 5h0m2 -3h0m2 3h0m2 -7h0m3 0h0m3 2h0m31 6h0m34 -7h0m14 3h0m1 -3h0m2 4h0m9 -4h0m20 1h0m8 -1h0m2 3h0m31 3h0m1 1h0m6 -6h0m4 -1h0m21 6h0m16 -6h0m8 2h0m20 -1h0m9 4h0m2 -2h0m8 4h0m14 -3h0m6 -2h0m0 1h0m1 -3h0m4 4h0m4 0h0m1 -5h0m5 4h0m-378 4h0m10 8h0m2 -8h0m1 6h0m5 -3h0m5 3h0m5 0h0m2 2h0m9 -2h0m2 -4h0m2 -1h0m19 3h0m8 0h0m4 0h0m93 2h0m11 -3h0m0 5h0m1 -3h0m1 2h0m19 -6h0m15 6h0m1 -2h0m0 -4h0m1 1h0m3 5h0m1 -5h0m36 0h0m1 1h0m9 -1h0m16 -1h0m16 0h0m8 3h0m3 0h0m6 3h0m12 -5h0m7 1h0m0 2h0m2 -4h0m2 6h0m1 0h0m1 -4h0m2 1h0m2 2h0m3 -3h0m6 1h0m1 -4h0m1 0h0m3 2h0m7 4h0m1 1h0m-355 9h0m1 -2h0m22 -4h0m12 6h0m0 -1h0m3 -2h0m3 -3h0m3 6h0m1 -1h0m5 -6h0m2 2h0m4 4h0m2 -6h0m5 5h0m3 -4h0m39 2h0m59 3h0m2 0h0m5 -3h0m22 0h0m4 -3h0m9 2h0m3 4h0m7 -6h0m1 5h0m14 1h0m4 -4h0m2 5h0m6 -5h0m2 -1h0m3 -1h0m1 0h0m1 6h0m4 -6h0m17 1h0m7 1h0m1 1h0m25 -4h0m10 0h0m0 1h0m11 1h0m2 0h0m4 4h0m8 -1h0m4 -1h0m1 1h0m3 -2h0m4 4h0m1 -2h0m2 -3h0m-351 6h0m2 7h0m17 -7h0m9 5h0m4 2h0m8 -2h0m9 0h0m113 -2h0m15 -1h0m10 3h0m8 3h0m22 -7h0m8 6h0m5 -2h0m20 3h0m2 -8h0m13 7h0m4 -7h0m2 0h0m6 1h0m51 2h0m7 2h0m0 0h0m6 3h0m8 0h0m-338 7h0m2 -4h0m2 4h0m5 -7h0m9 5h0m3 1h0m2 -2h0m1 1h0m5 -5h0m2 0h0m113 1h0m18 3h0m0 -2h0m0 6h0m8 -2h0m11 -4h0m2 4h0m15 -6h0m1 7h0m1 -1h0m5 -1h0m3 -5h0m8 4h0m0 2h0m2 -5h0m3 1h0m3 -2h0m15 6h0m16 -4h0m2 2h0m7 -3h0m5 2h0m58 2h0m1 -3h0m0 2h0m2 1h0m6 -2h0m0 1h0m0 -3h0m-338 8h0m6 5h0m2 -3h0m3 4h0m1 -6h0m6 2h0m127 2h0m10 2h0m4 -5h0m11 4h0m7 -4h0m10 4h0m1 0h0m12 -4h0m5 1h0m6 0h0m8 -2h0m4 4h0m5 3h0m2 -5h0m1 -1h0m9 1h0m21 5h0m0 -2h0m1 1h0m4 -1h0m0 1h0m1 -7h0m2 4h0m4 -3h0m1 5h0m3 -2h0m1 2h0m3 0h0m7 -2h0m2 3h0m-277 2h0m138 2h0m8 -1h0m4 6h0m4 -4h0m5 2h0m5 -4h0m4 3h0m1 -3h0m0 -1h0m1 0h0m2 2h0m2 3h0m2 1h0m9 -2h0m3 0h0m18 -3h0m1 0h0m0 3h0m12 -4h0m3 3h0m9 -3h0m2 3h0m7 4h0m4 -2h0m3 1h0m2 0h0m21 -5h0m3 1h0m9 3h0m8 0h0m-238 9h0m6 -1h0m8 -4h0m8 6h0m2 -1h0m53 -1h0m17 -4h0m0 4h0m1 1h0m1 -2h0m4 -1h0m6 3h0m3 -5h0m2 -1h0m1 1h0m5 -1h0m2 0h0m10 7h0m7 -2h0m0 -1h0m9 -4h0m6 2h0m10 4h0m0 -4h0m5 3h0m14 1h0m2 -4h0m1 0h0m5 0h0m13 -1h0m3 0h0m2 -2h0m3 3h0m1 4h0m2 -6h0m2 0h0m2 5h0m2 -3h0m4 3h0m8 -4h0m8 -1h0m9 5h0m4 -1h0m0 -1h0m-272 6h0m24 0h0m7 -2h0m1 7h0m5 1h0m1 -4h0m8 -4h0m26 5h0m1 -1h0m3 -2h0m12 5h0m1 -2h0m29 -1h0m9 0h0m6 0h0m5 -2h0m0 1h0m3 3h0m5 -5h0m2 0h0m2 2h0m6 0h0m6 3h0m1 -2h0m2 1h0m0 0h0m14 -4h0m6 2h0m1 0h0m18 0h0m6 -1h0m48 6h0m4 -7h0m0 4h0m5 -4h0m1 3h0m10 3h0m-297 2h0m3 1h0m13 4h0m34 -2h0m10 3h0m16 1h0m36 -7h0m2 4h0m1 -4h0m26 0h0m1 6h0m1 -2h0m3 1h0m2 -4h0m0 1h0m2 0h0m20 1h0m2 -3h0m4 1h0m18 1h0m2 2h0m1 -3h0m35 1h0m-235 7h0m73 0h0m7 4h0m1 1h0m1 0h0m18 1h0m2 -7h0m3 4h0m5 0h0m1 1h0m1 -4h0m3 4h0m19 1h0m10 -2h0m1 -1h0m5 1h0m5 2h0m8 -4h0m3 -1h0m1 0h0m7 -1h0m1 4h0m9 -2h0m0 3h0m7 2h0m5 -7h0m7 -1h0m0 2h0m1 2h0m1 2h0m7 -6h0m8 3h0m2 2h0m4 -3h0m0 -1h0m2 0h0m3 1h0m-187 7h0m14 7h0m5 -4h0m2 -2h0m8 2h0m43 1h0m21 -2h0m3 -1h0m0 5h0m5 -1h0m12 -5h0m1 6h0m1 0h0m17 0h0m4 -2h0m25 0h0m10 1h0m1 -2h0m7 2h0m2 -4h0m-189 7h0m3 7h0m5 -1h0m7 -5h0m3 -1h0m5 1h0m5 5h0m0 -1h0m2 -5h0m20 0h0m15 5h0m2 -4h0m29 1h0m2 0h0m4 0h0m3 -3h0m8 7h0m2 -5h0m3 6h0m0 -2h0m4 -6h0m3 1h0m1 6h0m13 -7h0m4 5h0m3 -3h0m6 4h0m16 -2h0m0 -1h0m5 3h0m5 0h0m9 2h0m7 -6h0m1 5h0m12 0h0m-204 7h0m4 -2h0m3 0h0m14 -3h0m2 4h0m1 -3h0m18 1h0m3 4h0m1 -6h0m28 4h0m1 2h0m16 -1h0m1 -5h0m2 0h0m3 6h0m12 -3h0m2 1h0m3 0h0m5 3h0m6 -6h0m1 -1h0m2 3h0m6 -3h0m5 6h0m3 -6h0m12 5h0m13 -2h0m11 0h0m3 0h0m2 -1h0m8 2h0m-191 5h0m3 2h0m26 -4h0m9 1h0m5 1h0m7 5h0m52 -3h0m0 0h0m1 -1h0m5 3h0m2 -1h0m3 -3h0m2 -1h0m3 1h0m1 3h0m17 -4h0m2 5h0m6 1h0m4 -6h0m0 3h0m1 2h0m2 -6h0m11 7h0m1 -2h0m2 -1h0m6 -3h0m3 1h0m7 2h0m33 3h0m2 -2h0m10 -2h0m5 0h0m0 4h0m2 -3h0m0 1h0m2 1h0m7 1h0m-252 4h0m21 -2h0m5 4h0m44 -1h0m37 -3h0m5 3h0m1 3h0m1 -5h0m6 0h0m10 6h0m0 -3h0m5 -4h0m2 3h0m15 1h0m3 -1h0m9 1h0m1 0h0m5 -4h0m1 1h0m1 -1h0m5 5h0m1 -2h0m0 -3h0m1 3h0m2 4h0m0 -5h0m2 1h0m37 -1h0m8 3h0m2 -3h0m4 -2h0m7 3h0m6 2h0m19 -1h0m12 2h0m-297 4h0m6 0h0m10 -3h0m5 4h0m4 -1h0m2 -2h0m4 0h0m14 7h0m13 -7h0m4 6h0m64 0h0m6 -1h0m0 -6h0m6 3h0m38 0h0m3 -2h0m3 5h0m0 -2h0m7 -3h0m3 3h0m10 0h0m32 2h0m8 1h0m28 0h0m4 -4h0m3 3h0m9 1h0m1 -6h0m5 2h0m3 2h0m0 0h0m8 -1h0m3 2h0m-305 2h0m4 1h0m41 5h0m23 -5h0m57 -1h0m3 1h0m3 0h0m3 2h0m6 4h0m16 0h0m2 -4h0m9 1h0m0 4h0m3 -4h0m8 -2h0m8 5h0m45 -7h0m4 3h0m15 -2h0m0 0h0m15 3h0m2 -3h0m18 0h0m10 6h0m1 -4h0m1 3h0m11 -5h0m1 -1h0m0 1h0m1 0h0m5 4h0m-323 4h0m3 5h0m4 -2h0m13 -3h0m117 4h0m4 2h0m6 -5h0m1 3h0m2 -5h0m0 1h0m5 1h0m0 -1h0m1 5h0m0 -4h0m0 0h0m4 4h0m0 -4h0m4 4h0m7 1h0m0 -1h0m3 -2h0m6 2h0m3 -1h0m5 -3h0m1 3h0m69 -5h0m1 2h0m1 4h0m1 1h0m5 1h0m7 -5h0m13 -2h0m9 5h0m15 -2h0m1 -3h0m8 2h0m2 -2h0m0 -1h0m6 3h0m6 5h0m-308 4h0m7 1h0m2 -4h0m51 6h0m8 0h0m43 -5h0m5 3h0m6 -3h0m2 1h0m0 -1h0m7 2h0m4 2h0m8 -4h0m2 1h0m5 -1h0m3 3h0m1 -3h0m0 5h0m4 0h0m1 -6h0m0 1h0m3 -1h0m6 1h0m53 4h0m1 -2h0m0 1h0m16 -1h0m1 1h0m36 2h0m3 -1h0m8 0h0m8 -2h0m6 -3h0m7 1h0m1 3h0m-332 4h0m10 0h0m128 6h0m2 0h0m5 0h0m1 -5h0m8 3h0m9 -2h0m16 0h0m1 -2h0m3 1h0m3 4h0m0 -1h0m3 0h0m3 -5h0m57 7h0m16 -5h0m0 0h0m3 2h0m1 1h0m2 0h0m2 -3h0m1 2h0m1 0h0m6 2h0m1 1h0m3 -4h0m6 -1h0m16 -1h0m-167 12h0m4 3h0m0 -5h0m1 3h0m1 -4h0m3 5h0m5 -5h0m12 3h0m4 -5h0m5 3h0m4 0h0m7 0h0m1 2h0m96 1h0m5 0h0m8 1h0m3 -4h0m8 3h0m5 1h0m2 -7h0m8 0h0m-246 10h0m71 3h0m4 2h0m6 -6h0m1 2h0m0 -1h0m1 1h0m2 -3h0m6 5h0m2 -2h0m13 -1h0m7 -2h0m104 0h0m-222 14h0m76 1h0m0 -1h0m7 -3h0m3 4h0m7 -2h0m2 -1h0m4 -1h0m4 5h0m5 -8h0m1 7h0m2 0h0m7 -5h0m1 -1h0m-124 12h0m9 -3h0m72 -1h0m3 4h0m2 -3h0m5 0h0m5 4h0m2 1h0m1 -3h0m4 1h0m4 -1h0m4 1h0m0 1h0m0 2h0m1 -3h0m1 -3h0m1 6h0m1 -1h0m-22 7h0m1 0h0m6 -2h0m1 1h0m0 2h0m5 -3h0m2 0h0m3 0h0m-124 9h0m114 -5h0m-116 11h0m-11 10h0m-3 6h0" stroke="#2f6c8e" stroke-width="4.6" stroke-linecap="round" fill="none"/>
<path d="M302 82h0m55 0h0m-54 3h0m5 5h0m49 -1h0m1 -3h0m3 -1h0m3 1h0m-59 11h0m0 -2h0m47 -2h0m5 2h0m4 -1h0m2 5h0m1 1h0m-15 3h0m3 3h0m3 -3h0m1 2h0m1 3h0m1 -5h0m2 -1h0m1 -2h0m2 4h0m105 4h0m-151 7h0m31 1h0m6 -1h0m11 1h0m73 -1h0m2 -4h0m3 2h0m2 1h0m14 -1h0m5 -4h0m7 5h0m2 2h0m11 0h0m-291 8h0m11 -4h0m114 2h0m38 -4h0m5 -1h0m2 6h0m60 -3h0m7 -1h0m3 2h0m3 -5h0m0 3h0m11 1h0m1 1h0m2 0h0m2 -1h0m7 -2h0m1 0h0m4 4h0m0 1h0m2 -2h0m4 2h0m5 -6h0m11 -1h0m-311 15h0m5 -1h0m2 -3h0m1 1h0m22 4h0m3 -7h0m6 0h0m7 2h0m131 -1h0m4 0h0m3 4h0m1 -3h0m6 4h0m55 1h0m4 -8h0m6 0h0m1 2h0m6 -1h0m11 3h0m0 -4h0m9 0h0m4 4h0m11 2h0m2 -2h0m1 2h0m5 -5h0m6 2h0m7 1h0m-309 12h0m4 -7h0m2 6h0m9 -3h0m12 0h0m2 -1h0m4 1h0m7 1h0m2 1h0m13 -1h0m111 2h0m6 -4h0m1 -1h0m0 3h0m72 0h0m6 2h0m9 -3h0m8 -1h0m1 1h0m2 -2h0m8 4h0m4 -4h0m0 -1h0m9 7h0m3 -2h0m6 -3h0m1 0h0m1 -3h0m2 1h0m7 5h0m-327 3h0m2 1h0m9 3h0m0 3h0m6 -8h0m1 0h0m3 2h0m8 1h0m0 -1h0m2 -1h0m1 4h0m2 -1h0m3 1h0m1 -3h0m11 2h0m1 2h0m20 -2h0m18 -2h0m93 3h0m11 -4h0m3 6h0m1 -1h0m54 -4h0m5 4h0m2 -3h0m4 0h0m2 4h0m0 -7h0m2 1h0m10 2h0m6 -1h0m3 0h0m2 5h0m0 -6h0m17 7h0m2 -5h0m0 4h0m5 -3h0m0 2h0m1 -1h0m1 1h0m6 1h0m5 0h0m6 0h0m0 -2h0m4 -5h0m2 5h0m-338 8h0m1 -2h0m13 -1h0m2 1h0m35 4h0m14 -1h0m10 -2h0m6 0h0m3 1h0m13 1h0m2 -4h0m1 2h0m89 1h0m6 -3h0m1 0h0m66 4h0m5 -3h0m2 4h0m12 -4h0m1 4h0m8 0h0m3 -6h0m11 6h0m2 0h0m15 -6h0m5 5h0m21 -1h0m1 -1h0m-343 6h0m4 3h0m3 -3h0m2 4h0m6 1h0m1 0h0m2 -5h0m5 4h0m6 -2h0m23 2h0m1 0h0m0 -2h0m3 -2h0m3 -2h0m2 1h0m2 3h0m5 -2h0m3 0h0m13 6h0m4 -1h0m1 -6h0m1 6h0m2 -6h0m7 -1h0m146 7h0m8 -6h0m4 3h0m1 0h0m2 1h0m13 -5h0m2 1h0m0 2h0m4 3h0m1 -3h0m1 0h0m5 3h0m5 -5h0m8 5h0m4 -4h0m3 2h0m14 -3h0m2 3h0m40 3h0m-355 5h0m1 -3h0m1 1h0m6 2h0m2 -2h0m4 2h0m1 0h0m4 3h0m5 -1h0m4 -5h0m0 3h0m8 -1h0m4 -3h0m4 2h0m1 6h0m0 -1h0m2 -3h0m3 2h0m8 -4h0m9 6h0m1 -3h0m6 -4h0m4 6h0m3 -3h0m2 3h0m6 -3h0m5 2h0m1 1h0m2 0h0m64 0h0m9 0h0m7 0h0m1 -6h0m4 2h0m5 5h0m4 -2h0m47 -3h0m1 2h0m0 0h0m8 -4h0m5 5h0m2 1h0m15 -5h0m3 -1h0m8 0h0m5 3h0m1 -1h0m1 1h0m9 -3h0m13 0h0m12 3h0m0 -4h0m11 6h0m5 -5h0m5 2h0m0 2h0m2 0h0m4 -2h0m1 4h0m2 -1h0m6 -4h0m-350 11h0m1 -2h0m6 3h0m1 1h0m1 -1h0m3 -1h0m6 -4h0m2 6h0m7 0h0m1 -5h0m7 1h0m0 -3h0m13 4h0m6 -3h0m1 6h0m2 1h0m10 -7h0m0 3h0m14 -1h0m2 1h0m2 0h0m3 0h0m61 -3h0m2 2h0m8 -2h0m0 7h0m2 -6h0m1 -1h0m6 5h0m5 -2h0m57 -4h0m2 5h0m8 -4h0m2 3h0m2 3h0m2 -3h0m3 3h0m0 -5h0m9 1h0m1 -1h0m9 2h0m14 3h0m4 0h0m0 0h0m6 -6h0m4 1h0m0 5h0m6 -6h0m3 4h0m4 -2h0m2 0h0m1 0h0m2 -3h0m2 7h0m3 -5h0m1 -1h0m17 2h0m6 5h0m7 -2h0m0 -5h0m10 7h0m-353 6h0m1 2h0m2 -7h0m1 1h0m2 3h0m23 2h0m12 -6h0m25 5h0m2 -5h0m0 5h0m7 -3h0m1 1h0m0 -2h0m12 4h0m42 0h0m10 -2h0m28 -1h0m10 0h0m15 0h0m26 1h0m4 1h0m4 -2h0m1 1h0m5 1h0m1 -3h0m1 1h0m1 5h0m3 -7h0m1 1h0m7 0h0m1 -1h0m1 -1h0m4 5h0m31 1h0m3 1h0m0 -4h0m2 3h0m3 -5h0m10 3h0m16 -2h0m7 2h0m5 2h0m10 1h0m7 -4h0m0 1h0m5 -4h0m-353 13h0m7 2h0m2 -3h0m9 2h0m5 -3h0m4 4h0m6 -5h0m6 5h0m3 0h0m2 -1h0m2 -5h0m2 1h0m0 1h0m17 5h0m6 -2h0m8 -2h0m10 0h0m7 2h0m62 -2h0m18 4h0m1 -2h0m4 -5h0m1 6h0m14 -1h0m1 1h0m3 -1h0m19 -4h0m9 0h0m1 2h0m1 -1h0m3 1h0m0 3h0m2 0h0m1 -6h0m3 0h0m3 6h0m6 -1h0m0 -1h0m5 1h0m1 -6h0m14 5h0m3 -2h0m1 2h0m4 1h0m10 -3h0m3 2h0m8 -1h0m2 1h0m11 2h0m3 -4h0m1 3h0m5 1h0m2 -2h0m18 -4h0m12 -1h0m4 2h0m0 -1h0m-368 11h0m19 0h0m7 -4h0m20 7h0m4 -3h0m1 3h0m10 -5h0m2 0h0m6 -1h0m14 1h0m5 3h0m3 2h0m1 -4h0m7 0h0m1 -2h0m5 3h0m3 -1h0m31 5h0m17 0h0m0 -3h0m2 -3h0m7 4h0m3 1h0m12 -1h0m5 -4h0m7 1h0m1 0h0m9 1h0m10 0h0m11 1h0m11 1h0m2 -5h0m13 4h0m1 0h0m5 -1h0m1 2h0m1 -2h0m3 3h0m2 -4h0m6 -2h0m9 1h0m18 3h0m1 0h0m2 0h0m4 0h0m5 -4h0m8 0h0m2 0h0m0 0h0m9 0h0m3 3h0m10 3h0m1 -5h0m1 1h0m8 -3h0m4 2h0m5 5h0m2 -7h0m5 4h0m2 4h0m3 -6h0m4 3h0m3 -1h0m-377 5h0m4 5h0m3 1h0m1 0h0m10 -6h0m0 0h0m13 2h0m2 2h0m1 -4h0m2 -1h0m23 7h0m14 -1h0m22 -3h0m10 4h0m1 -3h0m10 1h0m6 0h0m0 1h0m17 -6h0m23 3h0m2 1h0m8 4h0m8 -2h0m3 1h0m9 -3h0m9 3h0m5 1h0m3 0h0m5 -3h0m2 1h0m0 -3h0m3 3h0m9 -1h0m4 2h0m1 0h0m1 -7h0m0 4h0m2 2h0m5 -3h0m1 2h0m9 1h0m15 1h0m5 1h0m2 -8h0m15 4h0m1 4h0m0 -3h0m1 -4h0m15 1h0m7 2h0m8 2h0m2 -4h0m9 5h0m2 0h0m1 -2h0m0 0h0m2 1h0m13 -3h0m3 4h0m3 -1h0m2 -5h0m1 2h0m8 2h0m8 -5h0m9 6h0m1 0h0m-381 6h0m0 -3h0m4 6h0m7 -4h0m3 -1h0m7 5h0m0 -2h0m6 -5h0m9 3h0m6 -3h0m2 0h0m5 2h0m4 3h0m15 -5h0m15 6h0m1 -1h0m3 -1h0m4 3h0m0 -6h0m5 5h0m7 0h0m1 -5h0m3 6h0m24 -6h0m26 4h0m6 0h0m7 1h0m3 -5h0m10 4h0m2 1h0m8 -4h0m11 -1h0m18 5h0m4 -5h0m0 1h0m8 -1h0m2 7h0m4 0h0m5 -2h0m3 -6h0m13 6h0m0 -3h0m0 -1h0m10 -1h0m7 1h0m4 -1h0m0 -1h0m14 7h0m4 -5h0m2 3h0m10 -2h0m1 1h0m9 -3h0m9 7h0m12 -2h0m2 -4h0m13 3h0m6 -1h0m20 3h0m-380 2h0m10 0h0m3 3h0m4 -1h0m5 0h0m1 -2h0m0 4h0m2 -5h0m2 2h0m12 -2h0m8 3h0m1 1h0m3 2h0m3 2h0m1 -5h0m16 -1h0m0 3h0m4 -1h0m2 -1h0m2 4h0m1 -3h0m2 -3h0m12 2h0m20 4h0m48 -7h0m4 5h0m26 -2h0m0 -2h0m6 3h0m4 1h0m8 -3h0m12 -1h0m2 -1h0m8 1h0m1 5h0m5 1h0m5 -5h0m7 -1h0m7 0h0m1 4h0m12 1h0m1 -1h0m3 -3h0m1 1h0m1 2h0m9 -5h0m0 1h0m12 5h0m2 0h0m1 -2h0m1 2h0m8 -3h0m2 1h0m4 3h0m7 -2h0m1 1h0m5 -2h0m8 -2h0m1 1h0m4 2h0m9 0h0m10 -3h0m2 0h0m7 -1h0m6 6h0m2 -3h0m-379 6h0m8 4h0m1 1h0m9 -3h0m0 -3h0m1 3h0m3 -2h0m5 -2h0m3 0h0m2 5h0m0 -2h0m6 5h0m4 -5h0m2 5h0m2 0h0m6 -2h0m5 -5h0m1 2h0m1 -2h0m14 3h0m5 2h0m67 -1h0m21 -3h0m4 -1h0m0 4h0m12 1h0m3 -4h0m11 1h0m1 2h0m8 2h0m4 -6h0m16 0h0m9 7h0m5 -3h0m1 -3h0m4 5h0m20 -3h0m5 1h0m4 -1h0m3 -1h0m11 2h0m5 -3h0m3 2h0m14 -1h0m2 -1h0m3 -1h0m6 4h0m5 0h0m1 -3h0m20 1h0m3 2h0m4 -4h0m2 -1h0m1 8h0m7 -3h0m4 -1h0m-361 6h0m8 2h0m1 -2h0m0 -1h0m10 2h0m9 -2h0m4 6h0m1 -4h0m7 3h0m7 1h0m5 -2h0m10 -4h0m6 2h0m101 -2h0m8 0h0m23 -1h0m6 4h0m6 -4h0m3 5h0m2 -4h0m12 0h0m8 7h0m2 -2h0m7 -3h0m1 -1h0m3 0h0m6 2h0m3 2h0m6 -4h0m11 0h0m0 1h0m15 1h0m30 -3h0m3 5h0m14 -4h0m14 2h0m6 -3h0m3 3h0m-358 7h0m2 5h0m1 -4h0m0 -4h0m2 8h0m9 -6h0m12 -2h0m3 3h0m5 -2h0m2 1h0m0 -1h0m0 0h0m0 1h0m13 -1h0m3 3h0m3 -3h0m2 -1h0m2 1h0m105 1h0m14 0h0m7 -2h0m1 2h0m1 1h0m1 3h0m9 -5h0m7 1h0m10 5h0m1 0h0m6 1h0m8 -4h0m5 -3h0m2 4h0m11 -4h0m2 6h0m4 -3h0m1 2h0m8 -5h0m6 2h0m5 1h0m4 0h0m3 2h0m3 -4h0m59 4h0m6 1h0m0 -3h0m0 -1h0m5 -1h0m-346 8h0m1 2h0m4 3h0m10 -7h0m7 3h0m2 3h0m3 0h0m4 -3h0m13 1h0m111 -2h0m1 -1h0m0 1h0m1 6h0m4 -2h0m2 -4h0m4 4h0m11 -3h0m5 5h0m13 -1h0m5 0h0m3 -4h0m10 1h0m1 -1h0m7 1h0m1 4h0m1 -2h0m5 0h0m29 0h0m2 -5h0m10 1h0m4 2h0m3 -1h0m2 4h0m56 -7h0m-318 8h0m7 7h0m3 0h0m6 -4h0m131 3h0m10 -3h0m2 2h0m3 -2h0m0 5h0m15 0h0m3 -5h0m3 1h0m4 4h0m1 -6h0m1 1h0m4 3h0m5 0h0m21 -4h0m8 2h0m13 -2h0m2 3h0m2 -2h0m24 1h0m-270 6h0m1 1h0m5 -1h0m5 1h0m70 5h0m7 -5h0m30 4h0m21 -5h0m2 0h0m14 3h0m0 -2h0m5 3h0m7 1h0m1 -4h0m6 5h0m12 -4h0m3 2h0m4 -4h0m2 5h0m7 -1h0m7 -2h0m2 4h0m2 0h0m3 -8h0m5 5h0m2 -3h0m6 4h0m6 -1h0m10 2h0m0 -3h0m3 -1h0m2 -3h0m4 5h0m2 -1h0m1 0h0m8 -4h0m4 4h0m13 3h0m0 -4h0m3 1h0m2 -2h0m6 4h0m-232 5h0m13 5h0m2 -5h0m2 -3h0m1 3h0m0 4h0m0 -2h0m2 -1h0m6 -3h0m2 3h0m16 1h0m4 -2h0m11 -3h0m5 4h0m14 -1h0m12 1h0m10 -3h0m3 4h0m0 -2h0m1 4h0m9 -3h0m13 -3h0m8 3h0m2 1h0m4 -1h0m19 4h0m6 -2h0m3 0h0m3 -1h0m1 2h0m8 -4h0m9 2h0m2 2h0m25 -4h0m7 5h0m9 -6h0m2 3h0m-265 10h0m12 -5h0m2 3h0m14 -1h0m2 -2h0m5 -1h0m3 3h0m12 3h0m2 -1h0m2 -6h0m1 7h0m8 -5h0m12 1h0m20 1h0m8 -1h0m24 0h0m6 -1h0m0 4h0m1 0h0m15 0h0m4 -3h0m0 0h0m8 -2h0m6 5h0m2 -5h0m10 7h0m4 -4h0m1 -2h0m2 6h0m12 -1h0m2 0h0m4 -7h0m11 3h0m0 3h0m2 0h0m5 -3h0m36 0h0m20 0h0m0 3h0m-288 4h0m5 0h0m1 3h0m1 -3h0m11 2h0m32 -2h0m11 5h0m4 0h0m0 -6h0m0 4h0m13 0h0m10 0h0m1 2h0m6 -4h0m34 3h0m2 -2h0m2 -3h0m0 0h0m11 5h0m6 -3h0m5 -1h0m3 1h0m5 0h0m11 -1h0m3 3h0m4 -1h0m3 -3h0m10 1h0m2 5h0m3 -5h0m6 -1h0m5 4h0m17 -5h0m0 1h0m4 4h0m0 -4h0m-183 11h0m1 -2h0m8 0h0m5 5h0m7 -2h0m8 3h0m1 -6h0m3 4h0m1 -3h0m4 1h0m17 -3h0m4 1h0m2 5h0m0 1h0m3 -2h0m9 0h0m7 -1h0m0 -5h0m7 5h0m0 1h0m7 -4h0m4 2h0m2 -2h0m3 2h0m17 3h0m4 0h0m7 -5h0m5 3h0m7 -1h0m10 2h0m1 -3h0m0 1h0m10 0h0m4 3h0m6 -1h0m-185 2h0m9 2h0m0 4h0m1 -2h0m0 2h0m1 2h0m10 0h0m1 -5h0m1 4h0m10 -6h0m12 5h0m1 -3h0m3 4h0m16 -6h0m2 7h0m1 -7h0m10 4h0m19 -5h0m0 4h0m1 -4h0m22 6h0m1 1h0m2 -5h0m0 0h0m3 3h0m6 -3h0m21 3h0m6 -3h0m15 -1h0m5 1h0m6 1h0m1 -3h0m1 7h0m1 0h0m0 -2h0m-192 3h0m3 4h0m1 -2h0m3 -1h0m3 0h0m15 -1h0m7 5h0m3 -4h0m1 0h0m2 6h0m2 -2h0m10 -2h0m6 4h0m0 1h0m7 -3h0m3 -4h0m9 4h0m4 -4h0m0 4h0m0 3h0m24 -1h0m3 -4h0m1 3h0m9 0h0m4 -5h0m7 1h0m0 5h0m6 -5h0m6 5h0m1 -5h0m6 5h0m26 -4h0m7 -2h0m5 7h0m7 -1h0m-183 6h0m17 -1h0m6 4h0m13 -5h0m4 -1h0m2 2h0m5 -1h0m10 2h0m25 -4h0m7 6h0m2 -1h0m0 -1h0m2 -5h0m10 5h0m3 2h0m13 -2h0m7 -1h0m5 3h0m2 -6h0m1 6h0m2 -5h0m2 4h0m1 -1h0m2 -3h0m1 5h0m1 -5h0m13 -1h0m0 5h0m3 0h0m5 -5h0m0 2h0m2 4h0m8 -5h0m1 6h0m3 0h0m3 -1h0m1 -5h0m2 1h0m2 -1h0m-196 7h0m12 2h0m1 1h0m20 1h0m8 1h0m16 -1h0m4 3h0m3 -2h0m2 0h0m30 -2h0m8 1h0m10 -2h0m11 0h0m5 5h0m2 -7h0m22 6h0m2 -4h0m0 3h0m21 -3h0m1 -1h0m4 4h0m25 -1h0m2 0h0m5 1h0m10 2h0m3 -6h0m3 1h0m8 2h0m2 0h0m3 1h0m10 0h0m-273 7h0m13 -3h0m1 5h0m6 -3h0m22 -1h0m1 3h0m8 -1h0m5 3h0m1 -7h0m0 4h0m2 -1h0m10 3h0m3 -1h0m4 -2h0m39 0h0m1 -3h0m5 6h0m2 -2h0m2 -1h0m4 1h0m1 1h0m5 -4h0m17 0h0m12 2h0m0 4h0m4 -5h0m5 0h0m4 -1h0m1 2h0m1 1h0m2 -5h0m1 6h0m1 0h0m5 -3h0m9 4h0m3 -7h0m3 0h0m16 1h0m15 5h0m8 -5h0m0 -1h0m9 3h0m1 2h0m3 0h0m5 3h0m1 -4h0m4 -3h0m0 2h0m2 1h0m5 0h0m0 2h0m9 -2h0m9 1h0m-294 8h0m5 1h0m13 -6h0m20 1h0m3 5h0m14 -4h0m0 3h0m2 -2h0m2 0h0m8 2h0m66 -3h0m6 5h0m3 1h0m1 -7h0m3 6h0m3 1h0m7 -2h0m1 1h0m4 -2h0m4 -2h0m1 4h0m1 -6h0m0 4h0m12 2h0m2 -7h0m2 3h0m13 0h0m32 -2h0m21 2h0m15 -3h0m1 4h0m0 0h0m4 1h0m1 -2h0m2 3h0m10 -6h0m4 8h0m1 -7h0m14 6h0m2 -3h0m-308 6h0m0 -2h0m17 6h0m27 -1h0m9 -5h0m6 0h0m1 6h0m72 -3h0m2 1h0m1 -2h0m4 4h0m3 -5h0m1 1h0m0 3h0m1 2h0m5 -2h0m3 -3h0m8 2h0m1 -2h0m3 2h0m10 -3h0m1 4h0m5 -2h0m59 4h0m3 0h0m2 -1h0m12 -3h0m8 3h0m3 -5h0m3 3h0m1 3h0m18 -1h0m16 -2h0m0 0h0m4 -4h0m9 3h0m3 2h0m-323 7h0m4 -3h0m6 0h0m2 0h0m1 -1h0m9 5h0m6 -4h0m106 6h0m4 -7h0m5 0h0m6 4h0m0 -2h0m1 -1h0m3 2h0m2 3h0m2 -4h0m1 2h0m5 4h0m7 -5h0m1 3h0m2 -2h0m4 -3h0m2 4h0m2 -3h0m4 0h0m2 -1h0m2 7h0m2 -4h0m51 -3h0m12 6h0m6 -4h0m2 1h0m0 4h0m2 -2h0m6 0h0m2 0h0m7 -3h0m5 1h0m1 3h0m10 -3h0m10 4h0m7 -3h0m1 2h0m0 -7h0m4 4h0m3 0h0m7 4h0m-329 5h0m6 1h0m4 2h0m8 -1h0m1 -6h0m6 0h0m17 0h0m46 7h0m49 -7h0m5 0h0m0 6h0m1 -5h0m7 2h0m2 -2h0m1 2h0m9 2h0m6 -5h0m7 5h0m2 -3h0m0 3h0m1 0h0m4 -5h0m0 6h0m5 -1h0m61 2h0m6 -2h0m5 -1h0m16 2h0m5 -3h0m0 0h0m11 0h0m6 0h0m0 0h0m2 3h0m1 -2h0m1 2h0m1 1h0m10 -1h0m6 -6h0m2 2h0m2 -3h0m5 0h0m1 7h0m3 0h0m-329 2h0m5 3h0m10 -4h0m76 3h0m48 1h0m1 -2h0m8 4h0m9 -5h0m2 3h0m3 3h0m0 -5h0m3 1h0m3 -2h0m2 5h0m0 -3h0m2 -1h0m1 5h0m2 -2h0m8 1h0m2 -6h0m1 3h0m0 3h0m0 -5h0m61 5h0m8 -1h0m9 1h0m4 -5h0m5 5h0m1 -3h0m1 3h0m1 -1h0m5 3h0m3 0h0m0 -8h0m7 7h0m11 -2h0m6 -3h0m2 5h0m8 -5h0m4 5h0m0 -5h0m8 0h0m-249 14h0m58 0h0m5 -2h0m0 -2h0m6 4h0m1 0h0m7 -3h0m4 0h0m7 -2h0m1 1h0m2 2h0m3 -4h0m3 1h0m3 0h0m10 1h0m72 -3h0m17 3h0m1 0h0m8 -2h0m9 3h0m12 -3h0m2 6h0m1 -1h0m-233 4h0m67 2h0m1 1h0m4 -3h0m2 2h0m0 -3h0m13 3h0m5 -4h0m0 1h0m5 -1h0m2 5h0m1 -3h0m3 4h0m1 -6h0m4 5h0m2 -5h0m116 1h0m-231 12h0m75 -4h0m4 1h0m5 -2h0m13 5h0m1 -1h0m2 -1h0m0 1h0m3 -1h0m3 0h0m1 -3h0m1 1h0m2 5h0m-117 5h0m4 -1h0m79 -1h0m1 4h0m1 -4h0m1 3h0m4 -2h0m2 1h0m8 3h0m0 -4h0m2 -1h0m0 2h0m2 -4h0m2 6h0m8 1h0m2 -7h0m-123 12h0m98 0h0m0 0h0m6 -2h0m3 5h0m5 -3h0m4 -1h0m3 -2h0m-11 9h0m4 -2h0m-119 16h0m-13 13h0" stroke="#2a768e" stroke-width="4.6" stroke-linecap="round" fill="none"/>
<path d="M356 78h0m1 3h0m3 1h0m0 -3h0m-53 10h0m3 -1h0m42 0h0m1 -4h0m9 2h0m-55 8h0m1 3h0m5 -4h0m36 4h0m17 -2h0m-55 5h0m1 5h0m49 0h0m3 -3h0m77 3h0m4 1h0m-130 9h0m2 1h0m40 0h0m84 -2h0m6 -1h0m6 -1h0m2 -3h0m5 1h0m1 -2h0m6 0h0m-280 14h0m4 1h0m6 0h0m1 0h0m6 0h0m111 -7h0m1 1h0m3 -1h0m40 3h0m4 2h0m61 -1h0m11 3h0m1 -4h0m3 3h0m5 1h0m1 -2h0m2 -1h0m7 1h0m3 0h0m4 -2h0m6 2h0m7 -2h0m2 5h0m9 -7h0m-306 14h0m0 1h0m1 -7h0m11 3h0m2 1h0m2 -5h0m31 6h0m15 1h0m74 0h0m34 -3h0m1 3h0m4 -6h0m12 4h0m52 -4h0m4 1h0m9 0h0m0 -2h0m14 5h0m2 -1h0m4 2h0m0 -6h0m5 5h0m2 0h0m5 -2h0m7 4h0m5 -7h0m2 5h0m12 -5h0m6 3h0m3 5h0m7 -1h0m-336 5h0m1 -4h0m3 6h0m2 -4h0m9 1h0m32 3h0m8 -1h0m3 -3h0m15 0h0m7 3h0m3 2h0m66 -1h0m0 2h0m37 0h0m4 -1h0m0 -5h0m6 6h0m52 -7h0m12 3h0m2 2h0m10 0h0m3 -4h0m1 3h0m1 -3h0m7 -1h0m0 3h0m27 -4h0m5 5h0m13 -4h0m3 2h0m-334 7h0m23 2h0m2 2h0m15 -3h0m7 0h0m1 4h0m6 -6h0m4 1h0m3 0h0m6 0h0m2 0h0m2 -2h0m2 7h0m3 -2h0m2 -3h0m0 4h0m4 1h0m7 0h0m2 -3h0m66 -2h0m0 4h0m93 -2h0m3 0h0m13 -3h0m2 -1h0m7 6h0m17 -1h0m7 1h0m1 -5h0m4 1h0m3 4h0m23 -1h0m4 1h0m1 -3h0m2 -3h0m5 7h0m-339 6h0m8 -3h0m1 -1h0m13 1h0m7 -1h0m12 4h0m12 1h0m3 2h0m9 -1h0m0 -5h0m7 -1h0m3 5h0m8 -3h0m3 -2h0m7 5h0m6 -3h0m57 2h0m0 2h0m99 1h0m2 -2h0m17 -5h0m12 0h0m0 3h0m10 -1h0m0 1h0m4 0h0m9 -3h0m3 2h0m14 3h0m-324 6h0m13 1h0m4 0h0m0 -4h0m12 0h0m13 2h0m1 3h0m18 -4h0m4 4h0m3 0h0m5 -3h0m19 4h0m8 0h0m52 0h0m38 -4h0m52 1h0m3 -1h0m0 0h0m7 0h0m5 -2h0m7 1h0m4 4h0m10 2h0m3 -7h0m6 2h0m16 4h0m7 -1h0m8 -4h0m7 1h0m1 4h0m15 -1h0m14 -2h0m-358 4h0m9 5h0m3 2h0m0 -1h0m5 0h0m4 -2h0m6 -4h0m3 2h0m1 3h0m1 -4h0m13 2h0m25 0h0m1 1h0m0 4h0m2 -6h0m0 0h0m17 3h0m9 -5h0m7 5h0m1 -2h0m59 4h0m14 1h0m2 -4h0m0 0h0m12 3h0m3 -3h0m50 -2h0m6 0h0m4 4h0m7 0h0m7 -4h0m3 0h0m19 6h0m10 -2h0m2 2h0m5 -1h0m24 -2h0m12 1h0m7 -2h0m14 2h0m-358 9h0m1 -5h0m9 0h0m1 4h0m6 -3h0m1 -1h0m4 -2h0m3 4h0m41 1h0m2 -4h0m2 6h0m1 -4h0m8 3h0m10 -3h0m8 -2h0m2 0h0m53 0h0m1 5h0m7 -1h0m11 -4h0m4 1h0m5 5h0m6 0h0m8 1h0m1 -4h0m0 3h0m4 -7h0m4 2h0m1 -1h0m7 6h0m34 -5h0m3 -1h0m2 0h0m15 0h0m16 4h0m2 2h0m3 -1h0m16 -5h0m4 1h0m13 -1h0m10 6h0m7 -1h0m3 -2h0m1 -4h0m1 4h0m4 3h0m5 -7h0m8 6h0m2 1h0m3 -4h0m-344 10h0m5 -1h0m1 3h0m2 -2h0m27 2h0m20 -4h0m0 -2h0m2 4h0m0 -2h0m1 3h0m11 0h0m8 -6h0m2 5h0m57 -1h0m2 0h0m15 0h0m3 -4h0m4 0h0m1 7h0m1 -7h0m5 5h0m23 2h0m1 1h0m3 0h0m2 -2h0m1 1h0m24 -5h0m2 2h0m4 -2h0m4 1h0m8 2h0m7 -5h0m26 3h0m1 0h0m3 -2h0m3 4h0m8 -1h0m4 1h0m1 2h0m6 -4h0m12 3h0m9 -3h0m0 -3h0m13 8h0m1 -3h0m6 -1h0m0 0h0m9 3h0m-353 5h0m24 -2h0m10 2h0m15 4h0m1 -6h0m9 4h0m3 -1h0m4 3h0m8 -3h0m11 -3h0m1 2h0m56 -1h0m12 -2h0m5 2h0m6 -1h0m1 5h0m2 0h0m12 -7h0m3 5h0m1 0h0m6 -1h0m11 -1h0m8 4h0m7 -4h0m7 1h0m4 1h0m1 -2h0m6 1h0m3 -1h0m3 2h0m7 1h0m4 1h0m1 -3h0m11 0h0m2 3h0m6 -4h0m9 3h0m5 2h0m21 -4h0m2 -3h0m19 0h0m0 3h0m4 3h0m1 1h0m21 -5h0m1 -1h0m3 1h0m-371 7h0m3 5h0m5 -3h0m1 -2h0m10 3h0m1 2h0m3 -1h0m2 -2h0m4 -1h0m12 5h0m8 -5h0m23 1h0m13 2h0m13 -5h0m58 6h0m0 -3h0m7 2h0m1 0h0m14 -2h0m9 1h0m8 2h0m1 -1h0m9 -3h0m3 2h0m14 -3h0m2 2h0m2 0h0m2 2h0m8 2h0m11 -2h0m2 -4h0m15 6h0m13 -6h0m2 -1h0m5 2h0m7 1h0m18 -4h0m4 6h0m34 0h0m2 -3h0m31 3h0m-376 3h0m2 2h0m5 -2h0m4 2h0m12 1h0m5 -1h0m0 -1h0m3 2h0m18 0h0m2 3h0m13 -2h0m1 -2h0m3 1h0m1 4h0m15 -7h0m8 5h0m10 1h0m7 -7h0m5 5h0m0 -2h0m39 2h0m6 -4h0m0 7h0m1 -2h0m8 -1h0m2 1h0m7 -5h0m11 2h0m14 3h0m4 -6h0m16 3h0m1 4h0m1 -2h0m0 -1h0m2 4h0m5 -3h0m9 1h0m11 -5h0m0 6h0m0 -5h0m1 -1h0m2 5h0m1 0h0m4 -3h0m6 -1h0m6 0h0m6 -2h0m12 3h0m1 1h0m3 2h0m5 -6h0m2 2h0m9 -1h0m5 3h0m3 3h0m9 -2h0m5 -2h0m13 0h0m3 1h0m1 -4h0m2 6h0m3 -3h0m7 1h0m3 -3h0m-358 14h0m4 -4h0m6 4h0m4 -3h0m6 2h0m28 -2h0m10 3h0m1 -6h0m1 3h0m13 0h0m4 -1h0m9 -1h0m3 0h0m63 0h0m6 0h0m1 5h0m13 1h0m1 -4h0m1 3h0m5 -1h0m2 -1h0m21 -3h0m3 0h0m3 0h0m2 -1h0m0 5h0m6 -4h0m0 -1h0m1 5h0m3 -1h0m7 3h0m3 -7h0m1 7h0m5 -5h0m4 -2h0m4 2h0m8 -2h0m9 6h0m9 -5h0m10 0h0m5 -1h0m5 6h0m6 -5h0m15 3h0m17 -1h0m5 1h0m6 0h0m1 -1h0m1 0h0m3 0h0m5 0h0m0 0h0m0 0h0m9 1h0m2 -2h0m3 0h0m14 0h0m0 -2h0m2 5h0m-383 6h0m16 -2h0m26 3h0m19 1h0m1 -1h0m4 1h0m1 -2h0m1 0h0m13 3h0m2 -5h0m1 4h0m5 1h0m2 0h0m69 -2h0m9 -2h0m8 -1h0m14 0h0m8 5h0m5 -6h0m1 2h0m4 1h0m15 -2h0m30 6h0m5 -4h0m8 3h0m4 -6h0m3 2h0m10 -1h0m9 2h0m6 -3h0m1 4h0m0 3h0m1 0h0m15 -6h0m15 0h0m0 5h0m11 -5h0m3 5h0m10 -2h0m3 1h0m1 1h0m2 0h0m1 0h0m6 0h0m11 -6h0m-347 9h0m1 -2h0m1 1h0m11 6h0m7 -7h0m14 6h0m7 -1h0m44 -3h0m44 -1h0m7 1h0m1 0h0m2 2h0m6 4h0m1 -2h0m14 -2h0m22 -2h0m5 4h0m1 0h0m0 1h0m6 1h0m2 -7h0m14 -1h0m11 3h0m4 -1h0m2 4h0m13 -3h0m20 -1h0m1 -2h0m9 0h0m7 3h0m0 0h0m5 -3h0m2 5h0m4 0h0m3 -1h0m32 3h0m1 0h0m9 -4h0m10 0h0m-363 8h0m17 -1h0m17 0h0m0 1h0m1 -2h0m9 2h0m1 0h0m17 -1h0m69 2h0m29 -3h0m5 4h0m1 -3h0m3 0h0m0 5h0m12 -5h0m0 0h0m27 2h0m8 -2h0m9 2h0m4 3h0m4 -4h0m18 2h0m12 -1h0m10 -3h0m4 5h0m0 -6h0m1 8h0m2 -7h0m0 4h0m6 0h0m39 -3h0m1 3h0m0 -5h0m3 3h0m3 -1h0m16 0h0m10 -1h0m-360 7h0m1 5h0m5 -2h0m15 4h0m6 -3h0m7 0h0m4 -3h0m2 6h0m20 -2h0m56 3h0m51 -4h0m2 1h0m7 -5h0m2 6h0m14 -1h0m3 -3h0m4 5h0m9 1h0m1 -8h0m3 7h0m0 -5h0m3 1h0m6 -2h0m4 2h0m2 4h0m0 -2h0m2 1h0m10 1h0m6 -4h0m5 -2h0m10 5h0m5 -5h0m2 0h0m2 -1h0m6 0h0m3 5h0m1 -3h0m7 4h0m1 0h0m1 1h0m0 -1h0m53 -3h0m2 0h0m5 -2h0m9 0h0m-347 10h0m8 -3h0m5 0h0m22 1h0m119 6h0m1 0h0m19 -1h0m5 -2h0m8 -2h0m15 1h0m4 1h0m10 3h0m18 -1h0m0 0h0m9 -5h0m7 6h0m8 -6h0m2 0h0m0 2h0m7 0h0m76 2h0m3 -2h0m-344 5h0m19 7h0m9 0h0m75 -2h0m56 1h0m12 2h0m6 -7h0m2 0h0m6 6h0m1 -7h0m3 4h0m8 0h0m3 -3h0m3 6h0m4 0h0m6 -5h0m5 -2h0m3 4h0m16 3h0m3 -6h0m1 2h0m2 3h0m4 -2h0m1 -2h0m0 6h0m6 -2h0m8 1h0m1 -4h0m5 4h0m0 -3h0m5 -1h0m9 0h0m0 -2h0m-255 8h0m65 4h0m2 2h0m1 -2h0m9 1h0m3 2h0m8 -1h0m8 0h0m24 -7h0m6 3h0m20 2h0m35 -3h0m4 0h0m2 1h0m1 3h0m5 -3h0m2 -2h0m1 1h0m4 -2h0m5 0h0m1 4h0m6 1h0m8 3h0m5 -1h0m3 -6h0m10 3h0m13 1h0m6 -1h0m-227 9h0m2 3h0m12 0h0m5 -6h0m2 4h0m2 -2h0m1 2h0m2 -6h0m5 1h0m3 3h0m2 -3h0m0 4h0m0 1h0m1 0h0m1 0h0m3 -4h0m0 2h0m4 3h0m2 -2h0m2 -5h0m6 7h0m1 -5h0m1 -1h0m2 -1h0m1 2h0m11 6h0m2 -8h0m5 7h0m22 0h0m12 -3h0m11 3h0m4 -5h0m5 1h0m30 -2h0m4 2h0m14 -1h0m2 5h0m3 -3h0m16 2h0m15 -6h0m23 7h0m-261 9h0m3 -2h0m1 0h0m5 -3h0m11 2h0m2 -2h0m16 -2h0m1 0h0m6 -1h0m9 4h0m0 0h0m6 1h0m10 -5h0m6 1h0m1 3h0m2 2h0m12 -3h0m2 3h0m0 1h0m4 -2h0m2 -2h0m0 -3h0m9 4h0m2 1h0m8 -5h0m32 2h0m4 5h0m0 -5h0m3 2h0m2 -2h0m6 2h0m10 -2h0m2 -1h0m8 2h0m4 0h0m6 3h0m2 1h0m21 -3h0m0 2h0m5 -3h0m0 4h0m4 -6h0m21 0h0m15 0h0m12 0h0m-283 10h0m5 3h0m1 0h0m2 -5h0m4 5h0m0 -5h0m2 4h0m2 -4h0m2 3h0m39 3h0m1 -3h0m4 0h0m3 2h0m1 -3h0m1 3h0m17 1h0m0 -5h0m16 0h0m3 6h0m2 -4h0m3 0h0m2 -1h0m5 -1h0m10 4h0m3 1h0m20 -2h0m16 0h0m0 3h0m4 -6h0m2 -1h0m5 2h0m1 4h0m3 -2h0m5 -3h0m13 4h0m17 -4h0m4 1h0m-218 6h0m56 1h0m5 0h0m9 0h0m5 0h0m3 2h0m4 3h0m2 -6h0m5 3h0m3 -4h0m2 3h0m3 0h0m5 2h0m2 3h0m7 -4h0m8 -1h0m6 0h0m13 0h0m0 3h0m2 2h0m1 -7h0m9 1h0m4 2h0m5 3h0m12 -3h0m1 0h0m1 1h0m7 -1h0m0 2h0m4 -1h0m2 1h0m0 -5h0m2 1h0m3 5h0m10 -1h0m8 -4h0m13 -1h0m-173 12h0m5 0h0m2 -2h0m3 0h0m4 -2h0m3 2h0m8 3h0m18 -2h0m3 2h0m1 0h0m0 -2h0m9 0h0m4 4h0m19 0h0m6 -6h0m2 1h0m15 4h0m9 -6h0m15 1h0m5 3h0m5 2h0m3 0h0m0 -7h0m4 5h0m6 -4h0m8 1h0m8 -1h0m8 3h0m-187 6h0m0 2h0m9 -2h0m1 6h0m1 -7h0m4 2h0m0 -1h0m1 5h0m1 -2h0m1 1h0m1 -2h0m3 -2h0m6 1h0m2 0h0m2 4h0m7 -6h0m7 1h0m11 2h0m12 0h0m13 1h0m8 1h0m1 -1h0m0 1h0m5 -1h0m6 -1h0m2 3h0m5 1h0m2 -3h0m2 -4h0m13 5h0m1 -4h0m2 0h0m8 2h0m3 -2h0m15 3h0m1 -4h0m2 3h0m5 0h0m7 -3h0m3 0h0m10 2h0m1 0h0m0 -2h0m8 1h0m-176 13h0m8 -5h0m2 2h0m2 -3h0m14 6h0m10 -3h0m8 -4h0m6 7h0m1 -2h0m9 -1h0m3 -2h0m0 4h0m19 -2h0m1 1h0m1 2h0m2 -5h0m7 5h0m10 -1h0m5 1h0m4 -3h0m19 0h0m1 2h0m17 1h0m18 -6h0m5 -1h0m4 2h0m1 5h0m0 -3h0m-202 11h0m2 -1h0m1 -5h0m10 -1h0m11 7h0m3 -3h0m2 0h0m6 -1h0m5 1h0m2 0h0m12 -4h0m3 1h0m1 5h0m3 -5h0m4 5h0m9 -3h0m2 4h0m0 -6h0m23 0h0m2 0h0m5 3h0m10 -3h0m5 6h0m11 -4h0m1 1h0m2 -1h0m2 2h0m21 -2h0m2 1h0m3 2h0m22 -5h0m6 2h0m2 1h0m0 1h0m18 -2h0m2 4h0m16 -3h0m5 0h0m5 3h0m-246 8h0m15 -6h0m0 2h0m1 1h0m7 -1h0m4 2h0m18 0h0m1 0h0m23 2h0m1 1h0m6 -3h0m3 -1h0m2 2h0m31 0h0m8 1h0m3 0h0m1 1h0m0 -2h0m25 1h0m10 -4h0m7 0h0m1 -1h0m4 3h0m10 0h0m6 -5h0m0 0h0m2 3h0m12 -2h0m20 4h0m0 -4h0m6 0h0m4 5h0m1 -3h0m10 4h0m0 -2h0m2 2h0m8 -2h0m23 -2h0m7 4h0m-295 7h0m11 2h0m6 -3h0m1 -3h0m11 0h0m0 2h0m4 0h0m0 -2h0m2 -1h0m6 0h0m3 3h0m1 4h0m8 -3h0m9 2h0m4 -4h0m8 -2h0m6 3h0m49 2h0m5 -2h0m5 4h0m4 -4h0m2 4h0m2 -7h0m2 6h0m12 -6h0m2 1h0m3 1h0m11 -1h0m5 5h0m3 -6h0m0 2h0m7 2h0m10 -2h0m2 -3h0m1 4h0m29 2h0m1 -1h0m1 -1h0m14 0h0m1 -3h0m0 4h0m10 -3h0m2 0h0m1 1h0m6 1h0m3 -3h0m4 6h0m5 -2h0m1 -4h0m3 2h0m3 1h0m24 4h0m-307 1h0m5 4h0m4 1h0m2 2h0m28 -3h0m4 2h0m8 -2h0m74 2h0m1 0h0m9 -2h0m12 -2h0m2 3h0m2 -6h0m9 5h0m4 -3h0m6 2h0m1 2h0m10 1h0m65 -1h0m6 -2h0m10 4h0m1 -2h0m2 -4h0m4 3h0m5 0h0m0 -3h0m14 0h0m3 5h0m0 -6h0m7 1h0m3 1h0m-312 8h0m2 3h0m0 1h0m19 -1h0m0 -2h0m3 -2h0m9 3h0m1 3h0m9 -1h0m3 -2h0m2 1h0m1 -4h0m1 3h0m87 -5h0m2 2h0m6 4h0m3 -1h0m6 2h0m1 -1h0m6 -4h0m2 6h0m4 -5h0m4 5h0m8 -2h0m6 0h0m1 -5h0m63 2h0m3 1h0m7 1h0m4 -1h0m6 -2h0m5 -2h0m4 2h0m4 2h0m2 -2h0m2 2h0m0 -2h0m4 2h0m1 2h0m0 2h0m5 -7h0m0 6h0m3 -5h0m9 -2h0m8 7h0m2 -2h0m4 1h0m-318 6h0m0 2h0m11 1h0m4 1h0m10 -2h0m3 0h0m105 -4h0m7 5h0m5 -2h0m0 -2h0m5 -3h0m19 3h0m1 2h0m2 -3h0m1 2h0m1 4h0m8 0h0m0 -3h0m8 2h0m0 -3h0m54 -1h0m2 -1h0m4 4h0m5 0h0m8 -3h0m5 3h0m26 -4h0m3 5h0m5 -7h0m2 1h0m6 7h0m10 -7h0m10 4h0m0 1h0m1 -6h0m-332 10h0m5 1h0m10 -2h0m4 1h0m3 -1h0m130 2h0m10 4h0m3 -3h0m2 -1h0m3 1h0m1 3h0m7 0h0m4 -5h0m8 2h0m55 -3h0m2 5h0m10 -1h0m10 -4h0m11 4h0m11 2h0m3 1h0m1 -7h0m3 0h0m16 1h0m16 3h0m-186 7h0m3 4h0m3 -8h0m1 3h0m4 -2h0m9 -1h0m6 3h0m5 1h0m4 1h0m4 1h0m91 -5h0m4 2h0m2 5h0m0 -3h0m15 -2h0m9 -3h0m2 2h0m2 -1h0m7 6h0m2 -5h0m0 5h0m-234 6h0m63 3h0m16 -2h0m11 -4h0m2 3h0m4 0h0m5 1h0m0 0h0m109 -2h0m10 -1h0m-139 6h0m7 3h0m4 -4h0m5 4h0m-105 8h0m70 -3h0m6 2h0m6 1h0m18 -2h0m4 3h0m0 2h0m5 -3h0m1 -3h0m-119 9h0m106 5h0m1 -3h0m5 -1h0m-10 5h0m-119 21h0" stroke="#26818e" stroke-width="4.6" stroke-linecap="round" fill="none"/>
<path d="M301 83h0m4 -1h0m2 1h0m49 0h0m5 -2h0m-57 7h0m1 2h0m3 -5h0m43 1h0m1 1h0m-46 6h0m3 6h0m43 -3h0m8 -1h0m-50 6h0m7 6h0m46 -6h0m90 4h0m4 2h0m-100 5h0m83 3h0m16 -3h0m4 -2h0m11 1h0m-289 13h0m128 -5h0m40 -3h0m78 3h0m11 3h0m25 2h0m0 -4h0m14 1h0m1 -4h0m6 0h0m5 2h0m-302 12h0m14 0h0m1 -6h0m2 5h0m8 1h0m112 0h0m29 0h0m3 -3h0m68 -1h0m1 3h0m5 -4h0m4 2h0m15 -3h0m4 3h0m8 3h0m13 -4h0m5 2h0m4 -4h0m11 4h0m5 2h0m-300 4h0m16 -1h0m15 1h0m91 -1h0m31 6h0m5 -5h0m68 -1h0m6 0h0m8 3h0m6 -3h0m23 5h0m8 0h0m9 0h0m4 0h0m2 0h0m7 -2h0m-287 7h0m3 -3h0m8 0h0m15 0h0m13 4h0m12 0h0m68 2h0m22 -7h0m69 8h0m8 -5h0m21 1h0m9 0h0m33 -3h0m0 6h0m-313 8h0m11 1h0m2 -6h0m40 -1h0m9 5h0m12 2h0m3 -2h0m6 -4h0m3 0h0m59 -1h0m3 5h0m27 -4h0m2 -1h0m57 -1h0m16 6h0m7 -5h0m1 2h0m6 0h0m14 4h0m14 1h0m12 -2h0m1 -4h0m4 0h0m28 3h0m-349 6h0m0 1h0m11 2h0m4 -6h0m22 2h0m44 0h0m5 5h0m19 -5h0m61 4h0m81 -3h0m0 -2h0m5 5h0m11 -1h0m4 -4h0m27 4h0m26 -3h0m20 -1h0m0 4h0m2 -3h0m2 5h0m6 -6h0m-343 9h0m12 0h0m5 1h0m2 1h0m2 1h0m24 1h0m21 1h0m14 -5h0m12 0h0m6 6h0m67 -2h0m2 1h0m2 -3h0m3 3h0m2 -2h0m65 -4h0m6 4h0m10 -2h0m1 4h0m11 -2h0m1 3h0m2 -6h0m13 5h0m2 -4h0m7 -2h0m5 6h0m2 -1h0m17 -3h0m12 -3h0m6 5h0m3 -2h0m4 2h0m11 -2h0m0 1h0m-346 7h0m1 4h0m7 -5h0m6 4h0m15 -2h0m46 -3h0m1 1h0m2 5h0m11 1h0m59 -3h0m2 -4h0m2 6h0m1 -4h0m5 -3h0m5 1h0m13 4h0m0 -1h0m2 1h0m7 1h0m2 -5h0m7 3h0m1 -1h0m4 1h0m0 4h0m46 -7h0m5 3h0m0 2h0m46 -4h0m6 0h0m8 1h0m11 2h0m10 0h0m4 -4h0m16 -1h0m-356 13h0m31 2h0m7 -2h0m11 2h0m3 -1h0m32 -2h0m15 -1h0m58 0h0m6 3h0m1 -5h0m2 0h0m29 4h0m9 -4h0m8 0h0m39 0h0m3 2h0m11 -2h0m25 0h0m2 3h0m3 0h0m6 0h0m0 3h0m6 0h0m5 -2h0m10 -4h0m33 0h0m14 1h0m2 5h0m0 -5h0m-366 13h0m4 -5h0m15 2h0m0 1h0m13 2h0m1 -2h0m14 -2h0m51 2h0m46 -2h0m7 3h0m14 -1h0m11 0h0m2 2h0m2 -4h0m13 0h0m14 -1h0m1 1h0m23 -3h0m2 4h0m41 -3h0m16 1h0m9 2h0m5 -3h0m41 4h0m-347 7h0m15 -2h0m4 1h0m3 5h0m22 -7h0m11 4h0m6 -4h0m8 3h0m2 -1h0m0 0h0m25 5h0m55 -6h0m3 0h0m2 6h0m2 -1h0m3 -5h0m3 1h0m4 2h0m0 0h0m0 -3h0m2 -1h0m5 0h0m10 0h0m4 5h0m14 -4h0m2 2h0m3 -1h0m4 -3h0m17 7h0m14 -1h0m1 1h0m8 0h0m4 -6h0m10 3h0m1 -4h0m1 6h0m2 -2h0m18 1h0m20 -4h0m6 3h0m16 2h0m8 -5h0m9 1h0m14 3h0m15 1h0m-375 4h0m4 -2h0m20 3h0m11 -1h0m23 5h0m0 -1h0m3 1h0m1 -1h0m8 1h0m10 -5h0m4 -1h0m11 4h0m16 -3h0m51 -2h0m4 3h0m5 5h0m9 -6h0m5 0h0m11 4h0m1 -2h0m4 -2h0m5 5h0m10 -4h0m6 4h0m2 -6h0m5 -1h0m12 8h0m6 -2h0m0 1h0m23 -4h0m1 1h0m1 3h0m1 -1h0m16 -4h0m20 4h0m23 2h0m2 -1h0m32 -3h0m-365 4h0m2 2h0m6 -2h0m7 4h0m13 1h0m9 -4h0m0 5h0m20 -1h0m4 1h0m14 -2h0m1 -1h0m9 1h0m14 0h0m10 0h0m17 1h0m35 3h0m0 -1h0m3 0h0m5 -5h0m5 1h0m12 5h0m0 -1h0m2 -3h0m1 2h0m4 -5h0m4 6h0m7 -3h0m8 1h0m1 -5h0m2 3h0m7 0h0m5 0h0m4 2h0m1 -1h0m7 -1h0m1 -2h0m17 4h0m13 -5h0m11 4h0m6 2h0m19 -1h0m14 1h0m7 0h0m1 1h0m10 -4h0m1 3h0m6 1h0m9 -7h0m30 6h0m-373 2h0m1 1h0m2 -1h0m1 5h0m9 -2h0m31 1h0m7 -2h0m7 4h0m3 2h0m7 -7h0m4 2h0m1 0h0m3 -3h0m4 2h0m8 -2h0m68 5h0m3 0h0m3 -4h0m4 5h0m3 1h0m1 -5h0m2 1h0m2 -2h0m8 7h0m2 -1h0m0 -7h0m11 1h0m8 5h0m0 0h0m0 -3h0m4 0h0m11 5h0m0 -7h0m13 3h0m18 1h0m1 2h0m12 -7h0m4 2h0m8 1h0m1 -1h0m2 1h0m2 -1h0m12 3h0m15 -2h0m2 -3h0m1 6h0m22 2h0m25 -2h0m-360 7h0m1 0h0m2 1h0m15 -4h0m13 -1h0m9 3h0m16 2h0m3 0h0m4 -3h0m1 -2h0m4 3h0m8 -4h0m52 2h0m31 -1h0m10 7h0m8 -6h0m19 1h0m2 2h0m2 1h0m1 0h0m6 0h0m7 -1h0m1 -2h0m20 3h0m4 2h0m21 -2h0m9 1h0m38 -3h0m9 -3h0m8 1h0m2 0h0m0 -1h0m10 1h0m7 1h0m9 -2h0m1 4h0m16 -4h0m-366 8h0m17 -1h0m15 1h0m2 5h0m11 0h0m2 1h0m120 -2h0m1 -1h0m6 2h0m4 -6h0m14 1h0m21 4h0m39 -1h0m4 0h0m8 -3h0m9 4h0m46 -3h0m2 -1h0m19 0h0m1 7h0m8 0h0m6 -1h0m3 -2h0m3 -3h0m1 4h0m-355 6h0m6 1h0m13 2h0m9 -6h0m17 0h0m4 4h0m115 -1h0m11 0h0m8 1h0m10 0h0m7 3h0m0 -1h0m18 -2h0m5 -2h0m6 4h0m44 -6h0m49 1h0m-319 10h0m6 -3h0m24 7h0m5 -6h0m80 -1h0m4 4h0m7 0h0m26 0h0m31 -3h0m6 -1h0m12 5h0m18 -6h0m1 7h0m2 -4h0m3 -2h0m0 5h0m48 2h0m2 -6h0m1 5h0m-246 8h0m2 -7h0m121 4h0m5 0h0m14 -4h0m25 0h0m2 4h0m1 3h0m7 -7h0m2 0h0m3 8h0m3 -3h0m0 1h0m5 0h0m70 0h0m-266 2h0m4 1h0m70 5h0m8 -1h0m13 1h0m33 -1h0m3 1h0m21 -4h0m2 1h0m18 3h0m2 -1h0m5 -2h0m5 3h0m12 -1h0m6 -1h0m2 -2h0m11 3h0m9 2h0m4 -1h0m9 0h0m7 -1h0m5 -3h0m-209 12h0m2 2h0m1 -4h0m1 2h0m2 -1h0m15 -5h0m1 2h0m6 4h0m2 -2h0m5 3h0m4 -7h0m3 2h0m3 2h0m5 -1h0m2 3h0m5 -4h0m6 2h0m7 -1h0m3 4h0m7 -4h0m2 2h0m10 3h0m1 -3h0m2 0h0m16 -2h0m8 -2h0m1 6h0m1 -1h0m7 2h0m2 -5h0m50 -1h0m17 3h0m7 -2h0m-225 11h0m7 1h0m1 1h0m1 -6h0m7 -1h0m0 1h0m6 6h0m9 -3h0m16 -5h0m8 0h0m2 5h0m0 -4h0m2 4h0m2 -1h0m1 3h0m2 -1h0m25 -4h0m0 3h0m2 -1h0m2 -4h0m2 5h0m4 -2h0m0 1h0m3 0h0m6 2h0m2 -6h0m2 4h0m0 -3h0m15 0h0m1 2h0m24 -2h0m19 -1h0m16 7h0m17 -3h0m3 -4h0m2 7h0m31 -6h0m38 2h0m-292 12h0m0 0h0m4 -6h0m9 1h0m8 3h0m2 -4h0m30 4h0m1 0h0m5 2h0m3 -1h0m2 -4h0m4 1h0m2 4h0m3 -7h0m2 1h0m2 0h0m4 2h0m5 -3h0m1 8h0m8 -1h0m1 -5h0m22 3h0m6 0h0m2 1h0m2 0h0m19 -2h0m9 -3h0m4 4h0m1 -3h0m2 5h0m31 -2h0m10 1h0m0 2h0m-158 7h0m4 -1h0m1 -5h0m2 6h0m0 -1h0m22 -3h0m0 2h0m3 -5h0m0 7h0m41 -5h0m18 6h0m9 -6h0m7 1h0m6 0h0m5 0h0m0 2h0m30 2h0m39 -6h0m-184 14h0m5 -3h0m1 -2h0m1 1h0m5 2h0m5 -3h0m2 4h0m25 -2h0m21 0h0m4 -1h0m1 1h0m17 -1h0m1 1h0m6 -1h0m9 0h0m1 4h0m14 -3h0m8 4h0m12 -2h0m6 -3h0m2 1h0m7 1h0m5 -3h0m2 2h0m0 -1h0m4 4h0m4 -1h0m0 -3h0m1 1h0m8 1h0m2 -1h0m2 -1h0m-192 12h0m23 1h0m12 -6h0m2 0h0m0 -2h0m9 7h0m4 -3h0m4 1h0m7 0h0m5 0h0m9 -5h0m22 5h0m4 -4h0m3 6h0m32 -1h0m6 -2h0m2 -1h0m23 3h0m11 -2h0m1 -3h0m13 3h0m-196 5h0m4 0h0m5 6h0m3 -1h0m4 -4h0m11 3h0m1 2h0m1 0h0m2 -1h0m5 2h0m5 -6h0m3 3h0m11 -5h0m12 4h0m1 -4h0m12 1h0m19 4h0m6 0h0m4 1h0m3 0h0m7 0h0m3 -2h0m8 -1h0m3 0h0m9 4h0m4 1h0m1 -7h0m18 6h0m0 -3h0m9 -4h0m2 4h0m5 0h0m2 1h0m5 3h0m1 -4h0m1 0h0m0 2h0m15 0h0m4 -4h0m-212 8h0m18 3h0m2 -2h0m13 4h0m4 -5h0m5 -2h0m21 2h0m0 4h0m1 1h0m10 0h0m2 -1h0m27 0h0m6 -2h0m17 1h0m1 -4h0m2 3h0m39 -2h0m2 4h0m5 -4h0m8 5h0m11 1h0m1 -4h0m25 1h0m2 -2h0m33 5h0m7 -2h0m-261 8h0m6 -1h0m4 -5h0m14 3h0m24 3h0m4 -1h0m1 1h0m16 -2h0m5 -2h0m28 0h0m0 1h0m4 -3h0m3 4h0m6 2h0m3 -3h0m0 4h0m25 -1h0m6 -5h0m4 5h0m3 -3h0m17 2h0m0 0h0m10 0h0m3 1h0m2 -1h0m1 0h0m31 -3h0m1 -1h0m4 6h0m3 -5h0m2 -2h0m6 1h0m11 0h0m7 6h0m8 -6h0m2 0h0m-282 8h0m18 1h0m9 2h0m0 -3h0m0 5h0m41 -3h0m2 4h0m2 -6h0m0 6h0m49 -1h0m2 -5h0m1 6h0m2 -3h0m7 2h0m4 2h0m26 -3h0m20 0h0m9 -3h0m5 2h0m4 -1h0m32 5h0m4 -1h0m4 -6h0m2 5h0m1 0h0m2 1h0m2 0h0m4 -6h0m6 2h0m20 2h0m7 -4h0m6 5h0m15 1h0m-311 5h0m3 -3h0m1 4h0m24 -3h0m2 3h0m18 2h0m4 -6h0m5 5h0m77 2h0m9 -5h0m10 -1h0m1 3h0m2 -4h0m5 5h0m4 -3h0m0 1h0m16 -4h0m6 0h0m1 0h0m1 7h0m1 -5h0m60 6h0m9 -1h0m20 -5h0m23 -2h0m3 1h0m2 1h0m3 -1h0m5 2h0m1 1h0m-319 5h0m5 3h0m3 -1h0m5 -2h0m3 5h0m4 -3h0m1 -2h0m4 7h0m1 -5h0m2 -3h0m14 4h0m7 -4h0m1 1h0m135 3h0m60 -4h0m0 0h0m6 2h0m5 2h0m2 0h0m0 -1h0m13 -1h0m11 5h0m4 -5h0m9 -2h0m2 3h0m3 5h0m7 -4h0m8 1h0m9 2h0m-324 5h0m9 -4h0m9 2h0m13 1h0m103 1h0m2 0h0m0 -1h0m5 1h0m2 -1h0m25 2h0m22 -4h0m56 1h0m2 -1h0m2 3h0m2 0h0m9 2h0m6 -2h0m9 -1h0m4 3h0m1 0h0m4 0h0m14 -6h0m2 4h0m7 0h0m5 -2h0m10 -2h0m3 2h0m-326 9h0m4 0h0m1 -2h0m4 2h0m0 0h0m4 -1h0m160 4h0m13 -2h0m77 -3h0m0 -1h0m0 3h0m6 -1h0m1 6h0m4 -2h0m14 -4h0m5 2h0m7 1h0m8 -1h0m1 3h0m1 -5h0m2 1h0m6 3h0m4 -4h0m-236 11h0m69 -2h0m27 3h0m86 -6h0m19 0h0m1 8h0m3 -6h0m4 5h0m0 -4h0m2 4h0m2 0h0m7 0h0m7 -6h0m4 0h0m-166 8h0m4 6h0m7 -7h0m27 3h0m116 -1h0m-150 9h0m6 -1h0m12 0h0m4 2h0m-28 7h0m1 1h0m4 -1h0m5 0h0m0 -1h0m21 1h0m1 2h0m2 -3h0m0 4h0m1 -3h0m-27 5h0m0 3h0m5 -2h0m9 1h0m-79 13h0m-43 3h0" stroke="#228b8d" stroke-width="4.6" stroke-linecap="round" fill="none"/>
<path d="M309 83h0m2 6h0m-3 11h0m48 -2h0m-44 4h0m130 6h0m-81 2h0m90 5h0m23 1h0m1 -4h0m5 4h0m-277 6h0m1 -2h0m112 -1h0m0 4h0m3 -2h0m134 2h0m5 -6h0m-267 13h0m8 2h0m23 -1h0m128 -2h0m74 1h0m22 1h0m27 -1h0m-270 7h0m2 -3h0m12 -1h0m26 4h0m116 2h0m79 -3h0m2 -2h0m15 -2h0m38 6h0m-312 5h0m1 0h0m64 3h0m109 0h0m64 -2h0m12 -2h0m56 3h0m15 -3h0m-313 12h0m6 -1h0m46 3h0m81 0h0m10 -2h0m88 -6h0m-234 15h0m2 0h0m18 -3h0m44 4h0m16 -1h0m92 -2h0m56 0h0m15 -4h0m0 6h0m42 -1h0m9 -2h0m-307 10h0m49 1h0m8 -7h0m120 3h0m1 1h0m3 -2h0m14 4h0m6 0h0m72 -4h0m7 -1h0m29 2h0m1 2h0m2 -2h0m12 2h0m-318 3h0m1 6h0m48 0h0m49 0h0m57 -5h0m4 6h0m18 1h0m7 -2h0m10 -4h0m72 2h0m66 -2h0m10 -1h0m3 3h0m10 -2h0m0 1h0m-344 10h0m4 1h0m11 1h0m8 -4h0m33 0h0m13 -1h0m71 6h0m1 -2h0m3 -5h0m0 6h0m24 -3h0m1 2h0m7 -4h0m2 5h0m1 -3h0m8 1h0m13 -3h0m146 -1h0m10 3h0m-328 11h0m54 -4h0m7 -1h0m54 3h0m1 -2h0m5 4h0m8 -6h0m6 1h0m1 5h0m7 -7h0m8 8h0m1 -4h0m15 1h0m0 -5h0m4 1h0m4 6h0m6 -1h0m89 -2h0m13 -3h0m8 2h0m2 2h0m36 2h0m-356 4h0m21 2h0m31 -1h0m99 0h0m5 1h0m14 0h0m2 -3h0m7 2h0m9 0h0m5 2h0m0 -3h0m1 -2h0m6 3h0m68 1h0m24 -5h0m8 5h0m3 1h0m-292 9h0m3 -3h0m78 -3h0m3 6h0m3 -1h0m55 0h0m0 -5h0m8 4h0m16 -3h0m6 -2h0m9 4h0m6 1h0m8 -5h0m2 6h0m6 -2h0m0 1h0m32 1h0m28 -3h0m12 -2h0m12 4h0m9 -3h0m7 3h0m53 -1h0m-362 6h0m42 6h0m3 -2h0m3 -4h0m43 2h0m54 0h0m16 -2h0m7 5h0m6 -4h0m8 -3h0m13 5h0m19 -4h0m13 4h0m27 -5h0m26 1h0m-249 10h0m53 -1h0m25 0h0m8 -2h0m37 7h0m0 -4h0m5 -1h0m0 -1h0m6 3h0m12 2h0m5 0h0m4 -5h0m10 1h0m5 -2h0m1 3h0m1 2h0m13 -1h0m20 3h0m17 -6h0m2 5h0m0 -3h0m15 3h0m31 -2h0m3 3h0m34 -4h0m22 -3h0m3 4h0m-367 7h0m11 -1h0m15 3h0m16 -4h0m23 5h0m49 -1h0m39 -4h0m2 0h0m6 4h0m5 -3h0m0 6h0m18 -5h0m4 -2h0m2 4h0m6 -4h0m3 5h0m15 -4h0m3 -1h0m13 2h0m4 1h0m42 2h0m1 -3h0m4 -1h0m54 0h0m-292 11h0m77 3h0m47 -5h0m4 1h0m10 -1h0m0 0h0m14 2h0m14 1h0m2 -1h0m5 -4h0m36 7h0m14 0h0m7 -3h0m55 3h0m32 -6h0m-328 13h0m87 -3h0m46 -3h0m15 2h0m9 5h0m5 -5h0m22 2h0m4 -3h0m2 3h0m14 -4h0m0 1h0m1 0h0m1 6h0m15 -2h0m30 -5h0m1 0h0m70 0h0m2 7h0m3 -8h0m-316 9h0m81 3h0m17 -2h0m45 0h0m35 5h0m13 -6h0m9 4h0m2 3h0m3 0h0m2 -6h0m12 3h0m0 0h0m-239 7h0m5 -3h0m5 5h0m132 -1h0m25 -4h0m2 6h0m17 -5h0m13 4h0m28 0h0m5 -3h0m12 -3h0m-228 10h0m79 3h0m14 1h0m53 -1h0m28 2h0m14 0h0m30 1h0m22 -2h0m-207 8h0m18 2h0m6 -1h0m12 0h0m8 0h0m5 -5h0m0 5h0m3 -2h0m0 2h0m9 0h0m9 -1h0m8 1h0m19 -2h0m6 2h0m5 -4h0m21 0h0m5 1h0m37 0h0m17 1h0m5 1h0m38 -5h0m-258 13h0m10 -1h0m5 1h0m4 -2h0m11 -3h0m6 3h0m17 3h0m13 -4h0m2 5h0m2 -3h0m3 3h0m20 -1h0m3 0h0m2 -4h0m3 3h0m5 -1h0m49 -3h0m25 -1h0m15 1h0m-186 12h0m1 -4h0m39 2h0m5 3h0m7 -1h0m27 -5h0m10 3h0m1 -1h0m4 -2h0m17 3h0m6 0h0m1 1h0m0 -2h0m4 4h0m12 -7h0m7 4h0m13 -1h0m9 0h0m6 -2h0m16 3h0m19 2h0m-217 3h0m42 5h0m10 0h0m11 -4h0m14 2h0m13 0h0m7 0h0m0 -4h0m19 4h0m53 1h0m6 2h0m16 0h0m10 -1h0m3 -3h0m27 -3h0m-187 14h0m8 -3h0m1 -1h0m3 6h0m3 -7h0m11 1h0m7 0h0m6 5h0m18 -6h0m4 0h0m28 6h0m5 -3h0m15 3h0m23 -6h0m29 0h0m23 2h0m-189 9h0m17 -2h0m3 -2h0m8 2h0m1 6h0m5 -4h0m10 1h0m1 -3h0m15 0h0m4 -1h0m13 0h0m16 5h0m4 1h0m40 -3h0m10 0h0m0 -2h0m3 1h0m10 0h0m-168 6h0m12 4h0m8 0h0m1 -1h0m4 2h0m14 -5h0m8 0h0m1 6h0m1 0h0m4 -4h0m3 1h0m20 -1h0m2 4h0m32 -5h0m2 3h0m5 1h0m5 -1h0m9 2h0m4 1h0m12 -6h0m37 -2h0m1 7h0m2 -6h0m-189 13h0m3 -6h0m28 3h0m8 3h0m3 -4h0m1 4h0m3 -3h0m19 1h0m6 0h0m25 1h0m2 0h0m0 -5h0m31 3h0m2 0h0m9 4h0m10 -4h0m3 0h0m35 -1h0m41 -1h0m-241 14h0m8 -3h0m2 2h0m4 -3h0m16 3h0m5 -5h0m4 3h0m10 -3h0m16 0h0m3 3h0m4 3h0m56 -4h0m1 5h0m1 -1h0m6 -3h0m52 -1h0m40 4h0m24 1h0m19 -1h0m13 -3h0m-287 7h0m2 -1h0m3 0h0m1 6h0m1 -5h0m22 1h0m0 -2h0m9 -2h0m9 5h0m7 -2h0m0 -1h0m16 2h0m4 -1h0m85 3h0m22 1h0m60 -2h0m46 3h0m-297 6h0m3 -1h0m19 -4h0m26 4h0m6 0h0m1 1h0m1 2h0m2 -2h0m0 -3h0m87 -1h0m4 5h0m7 -4h0m25 1h0m3 -1h0m3 3h0m68 -2h0m1 3h0m26 -2h0m33 0h0m-314 5h0m24 3h0m1 -4h0m10 1h0m120 4h0m29 -3h0m60 4h0m0 1h0m36 -6h0m3 6h0m5 -2h0m5 -6h0m11 3h0m-308 10h0m14 -4h0m26 0h0m104 2h0m15 3h0m8 -4h0m78 0h0m26 -2h0m9 1h0m11 1h0m14 1h0m29 -1h0m-321 7h0m12 0h0m0 0h0m116 1h0m10 -2h0m1 6h0m8 -2h0m14 1h0m6 -4h0m76 1h0m4 0h0m8 6h0m13 -5h0m1 1h0m14 -2h0m6 2h0m7 0h0m14 -1h0m8 -1h0m-171 12h0m28 -4h0m0 6h0m92 -7h0m40 0h0m-175 9h0m150 2h0m4 -1h0m3 0h0m-157 7h0m24 3h0m17 -2h0m3 2h0m-31 8h0m8 -5h0m5 3h0m2 4h0m-2 8h0m9 -5h0m-127 15h0" stroke="#1f958b" stroke-width="4.6" stroke-linecap="round" fill="none"/>
<path d="M353 100h0m-40 12h0m-137 14h0m46 3h0m-24 9h0m38 -1h0m131 -2h0m73 -2h0m37 3h0m-146 9h0m95 -3h0m80 0h0m-178 7h0m183 3h0m-341 5h0m34 1h0m14 -2h0m31 2h0m22 -1h0m53 0h0m114 5h0m89 5h0m-347 11h0m30 -5h0m11 5h0m21 -2h0m7 -2h0m106 1h0m7 -2h0m13 5h0m116 1h0m-279 5h0m120 0h0m10 1h0m2 -5h0m21 7h0m10 -7h0m5 5h0m-42 9h0m2 -1h0m6 -4h0m16 2h0m8 3h0m5 -3h0m7 -1h0m11 0h0m2 2h0m120 -1h0m-169 11h0m6 1h0m1 -3h0m4 -1h0m3 0h0m7 -3h0m1 1h0m29 1h0m103 -1h0m23 -1h0m34 7h0m-321 3h0m52 1h0m43 0h0m17 -1h0m2 0h0m26 0h0m2 5h0m1 -5h0m1 3h0m24 0h0m16 2h0m8 -4h0m-92 7h0m10 4h0m3 -4h0m3 -2h0m1 4h0m1 -2h0m12 2h0m1 -1h0m3 4h0m13 -6h0m1 6h0m4 -4h0m2 -3h0m4 8h0m36 -8h0m121 2h0m-354 7h0m48 6h0m59 0h0m1 -5h0m1 0h0m51 1h0m10 -1h0m29 5h0m13 -6h0m10 0h0m25 5h0m14 -3h0m-221 7h0m35 0h0m83 4h0m2 -3h0m4 2h0m18 -1h0m13 -2h0m31 -1h0m-174 13h0m79 1h0m37 -6h0m5 0h0m1 4h0m7 0h0m8 -4h0m2 0h0m55 3h0m90 1h0m-173 7h0m12 2h0m1 -1h0m8 3h0m1 -1h0m61 -5h0m90 4h0m4 -3h0m-94 5h0m2 7h0m31 -3h0m-249 9h0m80 -4h0m57 1h0m84 4h0m17 2h0m-167 6h0m25 1h0m6 -1h0m43 -4h0m85 5h0m-198 7h0m9 -2h0m30 3h0m44 -5h0m37 5h0m3 -6h0m35 6h0m-168 6h0m68 1h0m16 -6h0m10 3h0m4 3h0m-115 5h0m55 -3h0m5 4h0m12 -3h0m10 3h0m26 0h0m6 -3h0m113 1h0m-180 7h0m4 3h0m21 0h0m19 -3h0m20 6h0m6 1h0m7 -5h0m70 0h0m2 -1h0m35 3h0m-184 9h0m24 -1h0m5 0h0m5 -4h0m10 1h0m1 3h0m4 1h0m21 -2h0m10 1h0m9 -4h0m21 2h0m59 -3h0m-148 12h0m2 2h0m7 -2h0m22 2h0m2 -1h0m10 -1h0m0 2h0m32 -3h0m22 -1h0m26 2h0m19 2h0m-167 8h0m18 -2h0m18 3h0m8 -5h0m67 2h0m9 1h0m-134 7h0m5 -3h0m32 0h0m137 7h0m36 -4h0m8 -2h0m-212 8h0m24 1h0m33 2h0m3 -4h0m73 6h0m5 0h0m-140 5h0m32 -4h0m3 4h0m2 0h0m4 -2h0m5 0h0m97 -1h0m94 6h0m-265 8h0m14 -5h0m21 -1h0m1 3h0m13 -2h0m6 0h0m1 4h0m111 -4h0m82 4h0m47 2h0m-294 8h0m6 -1h0m10 -3h0m30 -1h0m111 2h0m101 0h0m59 0h0m-321 6h0m9 0h0m6 2h0m6 0h0m2 -1h0m5 0h0m2 2h0m276 -1h0m3 1h0m-285 2h0m133 4h0m20 0h0m8 -2h0m87 3h0m-109 9h0m135 -1h0m18 -5h0m-170 12h0m10 -2h0m-71 27h0m9 8h0m-8 19h0m8 -3h0" stroke="#1fa088" stroke-width="4.6" stroke-linecap="round" fill="none"/>
<path d="M475 119h0m-263 15h0m239 0h0m-266 8h0m277 4h0m3 -4h0m58 17h0m-168 11h0m-14 6h0m41 2h0m58 0h0m-90 3h0m2 -1h0m21 1h0m18 2h0m19 4h0m-142 1h0m64 5h0m23 -2h0m10 -2h0m14 4h0m140 -2h0m-162 6h0m88 7h0m-228 4h0m124 1h0m48 -5h0m9 6h0m-137 4h0m94 5h0m30 -5h0m4 0h0m11 1h0m-92 7h0m61 -2h0m5 5h0m-22 7h0m32 -1h0m2 5h0m110 -7h0m45 3h0m-326 4h0m32 3h0m110 -3h0m39 1h0m-77 15h0m-94 4h0m12 -2h0m1 -2h0m3 7h0m160 -6h0m4 7h0m-101 5h0m49 12h0m-60 11h0m20 1h0m15 -2h0m-27 12h0m42 -3h0m51 3h0m42 -4h0m-154 12h0m14 0h0m5 -4h0m70 -2h0m18 4h0m9 -3h0m-110 21h0m17 0h0m0 0h0m5 0h0m31 -3h0m19 -3h0m33 1h0m10 6h0m-132 15h0m7 -7h0m60 5h0m114 -3h0m31 1h0m-226 9h0m6 0h0m64 -3h0m99 6h0m6 -6h0m8 0h0m-201 12h0m7 -3h0m138 2h0m130 0h0m-265 4h0m10 2h0m165 3h0m-169 6h0m-4 7h0m153 0h0m0 -2h0m88 1h0m-102 8h0m107 3h0m1 3h0m-112 7h0m5 5h0m-63 10h0m11 -2h0m-4 10h0m-18 7h0m9 11h0m7 7h0m1 -3h0" stroke="#24aa83" stroke-width="4.6" stroke-linecap="round" fill="none"/>
<path d="M230 175h0m131 4h0m181 1h0m-174 15h0m-36 14h0m64 2h0m-20 3h0m6 1h0m3 2h0m-138 10h0m141 -1h0m-31 2h0m65 3h0m-46 7h0m-16 11h0m-64 35h0m10 2h0m31 -1h0m22 8h0m-71 12h0m27 -1h0m103 -3h0m-147 13h0m22 0h0m24 -1h0m-14 10h0m-16 8h0m46 0h0m12 -2h0m62 -1h0m19 2h0m-142 4h0m-6 9h0m135 4h0m91 -3h0m-229 9h0m4 0h0m30 -2h0m176 5h0m-208 5h0m23 -1h0m-41 11h0m74 38h0m-12 20h0m3 1h0m8 1h0m-4 6h0m-8 13h0" stroke="#2fb47c" stroke-width="4.6" stroke-linecap="round" fill="none"/>
<path d="M350 187h0m39 -3h0m-27 20h0m28 91h0m-86 20h0m75 0h0m45 23h0m-84 84h0m2 8h0m-8 13h0m-14 5h0" stroke="#42be71" stroke-width="4.6" stroke-linecap="round" fill="none"/>
<path d="M331 182h0m28 27h0m14 24h0m-41 186h0m0 3h0m2 5h0m-8 6h0m1 -5h0m1 27h0" stroke="#58c765" stroke-width="4.6" stroke-linecap="round" fill="none"/>
<path d="M325 435h0m4 -1h0m-6 7h0m11 -4h0m-5 12h0m-5 28h0" stroke="#70cf57" stroke-width="4.6" stroke-linecap="round" fill="none"/>
<path d="M352 188h0m36 137h0m-65 109h0m11 1h0m-7 16h0m-12 34h0m8 5h0m-7 2h0" stroke="#8bd646" stroke-width="4.6" stroke-linecap="round" fill="none"/>
<path d="M325 463h0m1 3h0m-7 3h0m11 2h0m-13 10h0m-3 3h0m6 5h0m5 -3h0m6 4h0m-4 4h0" stroke="#a8db34" stroke-width="4.6" stroke-linecap="round" fill="none"/>
<path d="M325 433h0m-1 21h0m-5 7h0m1 0h0m8 7h0m-1 2h0m2 6h0m1 -1h0m-16 7h0m2 -1h0m3 -1h0m2 1h0m8 -2h0m3 -1h0m-17 11h0m0 -4h0m1 3h0m4 -3h0m2 2h0m1 2h0m4 0h0m0 -3h0m-5 6h0m2 1h0m-2 13h0m3 -1h0" stroke="#c5e021" stroke-width="4.6" stroke-linecap="round" fill="none"/>
<path d="M320 457h0m1 0h0m-7 4h0m2 2h0m9 2h0m1 -4h0m3 6h0m-11 4h0m7 3h0m3 -1h0m2 -1h0m1 -3h0m-15 13h0m1 2h0m2 -5h0m7 3h0m1 -5h0m-3 8h0m0 7h0m1 -3h0m-5 11h0m7 -5h0m3 4h0m-9 7h0m2 2h0m0 -2h0m7 -6h0" stroke="#e2e418" stroke-width="4.6" stroke-linecap="round" fill="none"/>
<path d="M324 456h0m-8 11h0m3 -3h0m-2 7h0m3 8h0m11 3h0m-3 5h0m-13 10h0m1 -3h0m9 4h0m5 -1h0m-9 12h0" stroke="#fde725" stroke-width="4.6" stroke-linecap="round" fill="none"/>
<path d="M396 739h0m-126 1h0m103 15h0m-82 17h0m91 0h0m-10 15h0m3 -6h0m13 41h0m3 1h0m-171 11h0m54 -6h0m-72 22h0m2 -1h0m-19 10h0m62 -5h0m6 -1h0m16 4h0m15 3h0m-108 6h0m3 0h0m71 -3h0m20 5h0m-83 8h0m2 -3h0m8 -2h0m4 3h0m17 0h0m50 -1h0m259 0h0m40 -3h0m-376 6h0m38 3h0m70 -1h0m-22 13h0m288 0h0m-310 9h0m52 -5h0m-86 7h0m29 1h0m18 1h0m26 0h0m205 3h0m62 -5h0m-382 6h0m59 2h0m2 -1h0m42 4h0m14 -4h0m28 -1h0m-70 14h0m33 1h0m-17 1h0m35 3h0m11 3h0m113 -6h0m101 1h0m4 1h0m-343 13h0m49 -3h0m1 -2h0m30 0h0m5 2h0m10 -2h0m49 4h0m139 -1h0m-213 4h0m56 6h0m103 -2h0m-125 7h0m24 -1h0m6 3h0m6 -6h0m176 6h0m-259 10h0m61 0h0m-140 5h0m1 -5h0m4 6h0m82 1h0m223 -2h0m-227 4h0m45 1h0m4 1h0m-89 13h0m60 -5h0m-66 10h0m20 -3h0m2 4h0m167 -6h0m-155 14h0m-9 3h0m42 3h0m13 -3h0m8 6h0m-15 7h0m-6 39h0m54 -4h0m10 24h0m1 23h0" stroke="#440154" stroke-width="4.6" stroke-linecap="round" fill="none"/>
<path d="M301 722h0m87 6h0m-13 28h0m-110 11h0m13 6h0m83 18h0m-61 15h0m72 7h0m-106 10h0m116 1h0m12 1h0m-191 5h0m37 15h0m-54 9h0m13 1h0m-12 9h0m5 0h0m17 1h0m-27 9h0m54 0h0m328 -4h0m-371 8h0m39 4h0m17 -1h0m307 -3h0m5 4h0m-364 7h0m19 -2h0m24 0h0m4 5h0m4 -8h0m17 3h0m118 3h0m131 -1h0m53 -3h0m3 0h0m-392 11h0m20 -4h0m71 1h0m49 4h0m96 0h0m153 -5h0m-362 12h0m34 -1h0m5 -3h0m23 7h0m1 -7h0m288 -1h0m-318 9h0m246 6h0m72 -1h0m-298 6h0m17 4h0m24 -3h0m21 0h0m172 -5h0m11 3h0m52 4h0m-329 4h0m50 0h0m228 0h0m50 3h0m1 -1h0m-393 10h0m42 -5h0m7 2h0m1 -2h0m28 -1h0m89 6h0m2 -5h0m179 3h0m29 -1h0m-256 6h0m187 2h0m1 2h0m2 -5h0m29 1h0m34 3h0m-361 7h0m67 -3h0m2 5h0m23 -4h0m15 1h0m6 -2h0m33 4h0m91 2h0m91 -5h0m10 0h0m0 5h0m-341 9h0m16 -1h0m36 -1h0m60 -2h0m132 1h0m68 1h0m6 -1h0m22 -3h0m13 2h0m2 1h0m-284 8h0m2 2h0m65 1h0m5 -7h0m74 7h0m132 -5h0m-301 6h0m6 0h0m167 0h0m-229 10h0m58 -1h0m3 4h0m13 2h0m53 -3h0m133 1h0m1 -5h0m4 0h0m-229 12h0m35 -2h0m-39 9h0m2 0h0m1 1h0m219 3h0m-141 6h0m-54 8h0m88 -1h0m-87 4h0m67 5h0m-8 15h0m55 2h0m-51 23h0" stroke="#471164" stroke-width="4.6" stroke-linecap="round" fill="none"/>
<path d="M269 701h0m34 15h0m-44 9h0m130 4h0m10 -2h0m-134 11h0m137 -5h0m-145 13h0m24 -6h0m113 4h0m13 3h0m-143 8h0m115 -3h0m2 11h0m-115 8h0m115 0h0m-7 1h0m5 5h0m-108 11h0m32 -5h0m64 2h0m18 -2h0m5 9h0m-88 7h0m-50 20h0m-50 5h0m52 -4h0m-49 14h0m33 1h0m7 -5h0m7 3h0m7 1h0m-49 9h0m9 -6h0m0 6h0m27 -1h0m-62 2h0m56 2h0m-52 10h0m3 3h0m69 -7h0m-88 13h0m59 -2h0m15 1h0m7 2h0m6 -2h0m4 -1h0m4 3h0m1 0h0m72 -5h0m211 5h0m-373 9h0m3 0h0m59 -1h0m46 2h0m249 -4h0m3 2h0m15 0h0m-355 3h0m18 3h0m25 3h0m7 -4h0m4 4h0m1 -3h0m11 -3h0m13 5h0m109 1h0m136 -4h0m28 0h0m1 5h0m-349 8h0m28 -7h0m53 0h0m121 3h0m104 2h0m26 -1h0m16 3h0m-360 1h0m31 3h0m94 -2h0m207 6h0m19 -2h0m29 -4h0m-406 14h0m14 -5h0m51 -2h0m21 3h0m16 3h0m45 0h0m5 1h0m2 -3h0m190 -1h0m26 -3h0m-368 11h0m6 2h0m5 -2h0m1 1h0m3 -1h0m23 -3h0m2 7h0m12 -8h0m0 1h0m1 2h0m13 -1h0m52 -1h0m1 5h0m3 -4h0m27 0h0m99 1h0m75 4h0m18 0h0m6 1h0m9 -2h0m13 1h0m-354 3h0m30 3h0m40 -4h0m28 6h0m20 -1h0m6 2h0m24 -7h0m68 0h0m13 1h0m4 0h0m70 -2h0m18 5h0m70 -1h0m-400 8h0m29 2h0m22 -6h0m7 3h0m19 3h0m19 -2h0m21 1h0m5 1h0m13 -3h0m8 0h0m5 -3h0m18 6h0m90 -4h0m57 -1h0m7 1h0m11 4h0m5 1h0m33 0h0m10 -6h0m8 5h0m-375 9h0m32 -5h0m39 2h0m2 -2h0m40 3h0m1 -2h0m12 -2h0m164 6h0m27 -3h0m32 -2h0m6 0h0m-368 11h0m18 3h0m14 -7h0m10 6h0m30 -5h0m5 -1h0m3 2h0m24 0h0m9 3h0m17 -5h0m16 0h0m21 4h0m59 -3h0m74 1h0m4 0h0m67 -3h0m5 4h0m-322 4h0m8 4h0m63 -1h0m27 0h0m4 -3h0m149 3h0m29 0h0m-338 12h0m17 -1h0m5 -3h0m12 -2h0m7 0h0m13 2h0m8 -1h0m40 -2h0m23 3h0m14 4h0m87 -5h0m16 5h0m93 -5h0m-325 11h0m20 2h0m0 -1h0m20 -4h0m31 -1h0m28 5h0m28 -5h0m170 0h0m3 -1h0m10 1h0m9 0h0m9 1h0m7 6h0m-339 4h0m85 -3h0m21 0h0m-116 12h0m19 0h0m38 -5h0m14 0h0m29 5h0m101 0h0m7 -2h0m-199 11h0m58 0h0m11 -3h0m23 -1h0m140 3h0m-191 4h0m18 4h0m42 -4h0m30 -1h0m74 3h0m2 1h0m23 -4h0m-208 12h0m10 0h0m23 3h0m53 -6h0m1 2h0m4 -3h0m-74 12h0m95 0h0m123 -2h0m-211 9h0m2 4h0m70 -3h0m83 0h0m-158 11h0m10 -1h0m5 -6h0m3 5h0m57 1h0m-9 3h0m27 9h0m-33 15h0m16 4h0m27 -5h0m-48 23h0m74 16h0" stroke="#482071" stroke-width="4.6" stroke-linecap="round" fill="none"/>
<path d="M273 697h0m-4 8h0m19 2h0m-25 5h0m29 -1h0m10 1h0m-38 7h0m39 -1h0m-21 11h0m8 -4h0m105 1h0m-119 8h0m12 -1h0m17 4h0m75 1h0m-68 2h0m79 2h0m-109 8h0m5 4h0m21 -6h0m76 2h0m2 2h0m6 2h0m12 1h0m-139 3h0m16 2h0m5 2h0m101 -2h0m9 -2h0m-42 9h0m13 11h0m19 0h0m14 0h0m-131 5h0m76 3h0m39 -6h0m20 6h0m-29 4h0m1 -1h0m3 3h0m4 -1h0m-60 13h0m53 -2h0m8 -4h0m7 6h0m4 -1h0m4 -1h0m-69 7h0m34 -4h0m6 3h0m8 1h0m2 -3h0m7 3h0m1 -3h0m-129 11h0m3 -2h0m106 2h0m2 -4h0m22 0h0m-190 8h0m6 10h0m43 0h0m3 4h0m2 -7h0m10 5h0m106 -3h0m5 5h0m8 -3h0m-160 8h0m14 -2h0m4 5h0m27 -3h0m-81 8h0m68 2h0m5 1h0m149 -6h0m-215 10h0m47 -3h0m18 5h0m8 2h0m88 -6h0m-184 15h0m22 -6h0m13 5h0m36 -2h0m313 1h0m-370 8h0m2 -2h0m20 3h0m5 -5h0m13 5h0m7 0h0m4 -2h0m31 -4h0m1 -1h0m12 5h0m111 2h0m152 -3h0m7 3h0m10 -7h0m1 5h0m6 -3h0m-401 9h0m3 2h0m60 -2h0m2 2h0m22 1h0m21 -3h0m3 0h0m15 4h0m40 -3h0m65 1h0m135 -5h0m6 2h0m20 -2h0m4 1h0m9 3h0m-405 6h0m30 0h0m4 -1h0m30 2h0m3 -2h0m3 5h0m0 -2h0m3 -2h0m30 2h0m39 1h0m82 -4h0m121 0h0m39 2h0m-377 10h0m19 -2h0m10 3h0m9 -1h0m11 1h0m15 -3h0m4 5h0m2 -3h0m31 1h0m12 -5h0m101 5h0m3 -2h0m1 -2h0m126 1h0m50 0h0m-404 12h0m6 -5h0m38 3h0m22 0h0m7 -1h0m0 3h0m14 -2h0m58 -1h0m12 4h0m18 -5h0m35 3h0m21 -6h0m18 7h0m74 0h0m11 -7h0m38 6h0m30 0h0m2 1h0m-403 8h0m20 -5h0m2 4h0m3 0h0m1 -5h0m14 -1h0m8 7h0m14 -1h0m8 -1h0m21 -4h0m2 6h0m24 0h0m36 -2h0m5 2h0m57 -2h0m38 1h0m69 -1h0m5 -2h0m5 1h0m3 -3h0m3 7h0m9 -3h0m13 -3h0m3 2h0m10 3h0m23 -7h0m3 8h0m1 -7h0m2 2h0m-396 7h0m66 -1h0m31 0h0m13 5h0m0 0h0m17 1h0m20 -6h0m11 1h0m2 1h0m65 3h0m5 0h0m84 -6h0m6 5h0m6 -5h0m29 5h0m14 -3h0m1 4h0m20 -5h0m-372 9h0m0 -2h0m6 2h0m58 2h0m8 -1h0m4 -1h0m7 -2h0m6 1h0m2 7h0m34 -7h0m13 2h0m155 -2h0m14 2h0m10 4h0m5 -5h0m21 2h0m4 1h0m16 -3h0m12 0h0m-380 7h0m45 2h0m14 3h0m18 0h0m1 2h0m14 -2h0m0 -5h0m29 6h0m17 -1h0m30 -5h0m119 0h0m2 5h0m3 1h0m22 -7h0m0 6h0m4 -2h0m50 1h0m10 1h0m-375 3h0m2 4h0m2 -4h0m2 7h0m7 -7h0m5 3h0m7 -3h0m15 6h0m25 -5h0m5 3h0m11 3h0m23 -7h0m11 7h0m7 -4h0m68 -1h0m100 4h0m15 -7h0m6 4h0m9 1h0m27 1h0m6 -2h0m-337 4h0m40 5h0m5 0h0m5 1h0m37 -4h0m2 4h0m6 -4h0m5 3h0m1 -1h0m17 -2h0m1 3h0m2 -1h0m68 0h0m95 -1h0m16 3h0m32 1h0m-352 3h0m9 1h0m28 5h0m14 -5h0m8 4h0m3 -2h0m3 2h0m43 -2h0m5 -3h0m121 5h0m56 -4h0m14 3h0m1 -2h0m13 -1h0m0 4h0m6 -4h0m3 -1h0m6 1h0m10 -1h0m4 0h0m-369 11h0m14 -3h0m5 6h0m17 -3h0m1 2h0m3 -2h0m5 -3h0m6 5h0m16 -5h0m6 -1h0m20 1h0m40 2h0m20 -1h0m180 4h0m-328 7h0m9 1h0m5 -6h0m4 7h0m18 -5h0m5 -1h0m0 1h0m9 -2h0m7 4h0m66 -1h0m4 -3h0m12 0h0m177 0h0m-311 14h0m6 -2h0m7 -2h0m1 2h0m8 -5h0m22 8h0m3 -6h0m15 1h0m47 4h0m18 -6h0m97 7h0m5 0h0m29 0h0m-261 5h0m11 3h0m32 -5h0m0 1h0m5 0h0m2 2h0m8 1h0m1 -7h0m12 7h0m33 -3h0m32 0h0m122 1h0m-231 6h0m0 3h0m15 -5h0m15 2h0m93 2h0m92 0h0m-187 3h0m8 6h0m65 -3h0m3 -3h0m29 6h0m35 -3h0m9 2h0m38 -2h0m-210 8h0m12 3h0m24 -2h0m26 -1h0m103 -1h0m-146 9h0m2 3h0m60 -2h0m3 -1h0m32 2h0m53 -4h0m-155 14h0m10 -2h0m9 6h0m39 -3h0m2 2h0m31 4h0m17 -5h0m1 3h0m1 1h0m-4 8h0m18 -4h0m-57 11h0m-13 6h0m20 5h0m52 -5h0m-66 11h0m44 -2h0m25 0h0m4 -1h0m0 2h0m-83 7h0m70 11h0" stroke="#472e7c" stroke-width="4.6" stroke-linecap="round" fill="none"/>
<path d="M273 714h0m10 1h0m1 -1h0m0 -4h0m17 3h0m1 -1h0m-23 7h0m-3 11h0m28 -1h0m98 -1h0m-142 9h0m1 3h0m13 -3h0m14 -4h0m6 4h0m111 -1h0m1 0h0m-115 10h0m93 -3h0m9 1h0m9 4h0m0 -2h0m3 -3h0m-137 10h0m39 2h0m67 -3h0m20 -1h0m9 -2h0m-100 10h0m78 1h0m9 0h0m8 4h0m4 -2h0m-132 3h0m31 6h0m82 0h0m15 -1h0m-129 3h0m101 3h0m10 -2h0m5 6h0m12 -2h0m-33 5h0m15 4h0m9 0h0m2 -2h0m1 -3h0m4 3h0m0 -1h0m-113 7h0m5 2h0m78 -2h0m25 3h0m5 -4h0m-107 10h0m10 1h0m8 -3h0m9 1h0m52 1h0m12 -1h0m3 4h0m2 -4h0m2 -1h0m5 6h0m7 0h0m-23 2h0m-125 12h0m125 -3h0m21 -1h0m-200 10h0m56 0h0m1 0h0m117 1h0m5 3h0m15 -5h0m-205 10h0m3 0h0m3 -1h0m69 -4h0m4 5h0m24 -1h0m94 -4h0m-198 10h0m1 1h0m9 -1h0m24 3h0m8 0h0m1 2h0m24 -4h0m15 5h0m10 -3h0m18 -5h0m-111 11h0m2 -2h0m0 0h0m1 2h0m13 4h0m3 -1h0m4 -5h0m9 -1h0m0 1h0m13 7h0m7 0h0m3 -5h0m30 -1h0m11 4h0m-97 5h0m1 -2h0m2 1h0m22 -2h0m5 3h0m6 -1h0m6 5h0m23 -5h0m30 3h0m1 -1h0m5 1h0m67 2h0m74 -1h0m7 -2h0m-213 5h0m3 3h0m24 1h0m6 -2h0m0 0h0m7 2h0m2 1h0m2 0h0m11 -5h0m2 2h0m49 2h0m-144 10h0m1 -1h0m1 -1h0m10 2h0m40 -4h0m2 4h0m8 -5h0m6 1h0m2 4h0m0 0h0m3 -1h0m9 -2h0m1 -3h0m14 7h0m14 -4h0m1 2h0m44 1h0m32 -5h0m12 6h0m1 -4h0m149 2h0m6 -3h0m3 0h0m13 4h0m8 -2h0m5 1h0m-392 6h0m3 3h0m9 -6h0m10 6h0m5 -2h0m23 -2h0m5 -1h0m4 5h0m3 -2h0m4 -3h0m5 1h0m6 4h0m0 0h0m6 -2h0m15 -3h0m4 3h0m4 -2h0m2 4h0m6 -5h0m11 -1h0m3 1h0m95 -1h0m130 1h0m9 2h0m4 4h0m7 -6h0m12 3h0m8 1h0m1 -2h0m-399 9h0m4 -5h0m17 5h0m13 1h0m1 1h0m34 -2h0m5 -3h0m5 5h0m21 -5h0m32 3h0m62 2h0m12 1h0m2 -8h0m23 7h0m16 0h0m106 -1h0m3 -2h0m38 1h0m3 -2h0m7 -1h0m-397 11h0m26 -2h0m36 0h0m8 -3h0m56 7h0m1 -5h0m76 3h0m0 3h0m1 -5h0m24 3h0m7 -5h0m4 3h0m89 1h0m12 -5h0m5 0h0m42 8h0m10 -7h0m3 5h0m-411 7h0m15 -4h0m1 1h0m1 3h0m22 -3h0m18 1h0m12 3h0m5 1h0m3 -4h0m6 1h0m15 3h0m15 -3h0m19 -2h0m1 3h0m8 -2h0m14 -3h0m56 3h0m31 -1h0m88 3h0m3 -4h0m10 5h0m22 1h0m22 -1h0m11 -5h0m12 4h0m-391 6h0m4 -3h0m3 5h0m9 -1h0m13 -2h0m11 1h0m3 5h0m16 -8h0m2 2h0m9 -1h0m4 5h0m5 -5h0m2 2h0m3 -2h0m4 0h0m3 0h0m9 4h0m17 -2h0m3 2h0m1 3h0m83 -3h0m112 -3h0m0 0h0m1 6h0m4 -1h0m28 0h0m15 -4h0m13 -1h0m13 3h0m-409 7h0m3 4h0m1 -7h0m18 6h0m11 -1h0m4 2h0m1 -2h0m8 -5h0m2 0h0m9 1h0m4 1h0m0 3h0m25 -5h0m2 4h0m0 3h0m5 -6h0m11 4h0m47 -5h0m2 2h0m2 3h0m61 -1h0m7 0h0m27 -1h0m5 -4h0m71 8h0m11 -8h0m25 7h0m1 -1h0m5 -3h0m31 5h0m-388 5h0m5 -2h0m1 0h0m39 1h0m2 -2h0m3 1h0m4 -1h0m15 0h0m2 -1h0m10 6h0m7 -5h0m24 3h0m32 -4h0m4 5h0m4 -4h0m8 4h0m74 -5h0m3 4h0m78 2h0m0 -4h0m5 -3h0m23 2h0m0 0h0m6 5h0m12 -1h0m15 -5h0m6 4h0m3 1h0m-396 8h0m1 -5h0m17 1h0m14 6h0m22 -7h0m2 7h0m10 -5h0m2 1h0m14 2h0m7 -2h0m10 -1h0m23 3h0m2 1h0m3 -2h0m5 -3h0m20 -2h0m15 6h0m6 -6h0m30 2h0m17 -1h0m26 3h0m17 3h0m51 1h0m1 -7h0m24 6h0m19 -6h0m7 5h0m4 -6h0m3 3h0m16 0h0m2 5h0m-387 1h0m11 7h0m7 -2h0m3 -3h0m27 4h0m10 -1h0m1 1h0m5 -4h0m24 2h0m1 -3h0m16 6h0m1 -4h0m4 1h0m4 -4h0m2 7h0m18 -8h0m21 7h0m8 -2h0m0 -3h0m8 0h0m1 4h0m33 0h0m13 -2h0m18 -1h0m73 2h0m3 -3h0m33 4h0m7 2h0m9 -7h0m4 3h0m5 -1h0m9 4h0m2 -1h0m0 2h0m2 -4h0m-381 7h0m20 -2h0m1 1h0m36 2h0m3 -3h0m17 7h0m24 -7h0m41 3h0m74 -1h0m18 -1h0m19 2h0m47 -4h0m1 4h0m24 -4h0m3 1h0m5 -1h0m28 1h0m7 4h0m-364 9h0m32 -4h0m19 3h0m5 1h0m2 2h0m0 -7h0m27 5h0m18 -2h0m8 -2h0m3 4h0m28 -4h0m2 -1h0m3 1h0m71 -1h0m18 7h0m8 -5h0m18 -2h0m0 3h0m36 -1h0m2 2h0m7 -3h0m0 4h0m2 -5h0m8 6h0m7 1h0m11 -2h0m2 1h0m5 -2h0m6 -3h0m-355 13h0m8 -1h0m45 -5h0m9 -1h0m8 1h0m5 7h0m14 -6h0m10 1h0m7 4h0m0 -7h0m3 5h0m1 -3h0m18 5h0m1 -1h0m8 -6h0m7 8h0m1 -5h0m68 0h0m16 4h0m6 -2h0m2 0h0m21 -1h0m12 1h0m34 -5h0m17 6h0m25 -5h0m-349 9h0m7 -2h0m1 3h0m1 3h0m33 1h0m5 -3h0m10 3h0m8 -3h0m4 -1h0m7 0h0m20 1h0m20 -1h0m2 2h0m120 1h0m4 -3h0m5 4h0m1 -1h0m20 -5h0m6 2h0m20 2h0m5 -3h0m14 1h0m5 -2h0m12 2h0m20 -3h0m-341 11h0m4 -2h0m0 4h0m2 -1h0m13 -2h0m4 3h0m1 -2h0m9 -1h0m5 4h0m18 -6h0m6 3h0m4 -1h0m1 0h0m10 -1h0m17 6h0m10 0h0m18 -1h0m0 1h0m8 -3h0m61 2h0m3 -5h0m5 6h0m34 -3h0m5 4h0m26 -7h0m-264 14h0m1 1h0m3 -5h0m4 -1h0m4 2h0m1 -2h0m5 4h0m3 0h0m9 -2h0m20 0h0m1 -3h0m12 1h0m54 4h0m3 0h0m76 -4h0m0 0h0m2 4h0m53 -4h0m7 4h0m30 0h0m-267 3h0m22 5h0m1 -4h0m10 4h0m44 -5h0m43 5h0m50 -2h0m103 3h0m-264 4h0m31 -1h0m5 2h0m83 -3h0m53 6h0m32 -2h0m12 -3h0m46 2h0m-232 7h0m7 1h0m24 -2h0m44 3h0m5 -4h0m0 2h0m52 3h0m62 -1h0m-208 5h0m1 -1h0m3 1h0m68 0h0m14 5h0m72 -2h0m0 -2h0m50 4h0m-210 6h0m18 -2h0m53 2h0m20 -3h0m61 -1h0m2 1h0m64 2h0m-212 11h0m10 -5h0m66 2h0m20 -2h0m14 3h0m-65 5h0m0 5h0m64 -4h0m7 -1h0m4 0h0m-63 11h0m54 -1h0m12 2h0m-74 8h0m64 -1h0m6 1h0m-56 3h0m51 1h0m1 10h0m8 3h0m-71 7h0m59 -2h0m4 9h0m1 1h0" stroke="#443b84" stroke-width="4.6" stroke-linecap="round" fill="none"/>
<path d="M268 705h0m17 -4h0m23 14h0m-39 2h0m6 1h0m13 0h0m0 0h0m6 5h0m-38 9h0m15 -4h0m5 -1h0m14 0h0m23 1h0m79 -3h0m-120 7h0m113 4h0m-121 9h0m0 2h0m6 -1h0m31 0h0m3 2h0m93 -6h0m3 3h0m-131 7h0m4 2h0m5 -1h0m17 -5h0m4 2h0m84 1h0m1 -1h0m8 1h0m1 2h0m1 0h0m3 1h0m1 0h0m9 -5h0m-144 12h0m13 -4h0m22 1h0m13 0h0m67 -1h0m15 4h0m-121 6h0m6 1h0m91 0h0m7 4h0m9 -2h0m3 -1h0m7 -4h0m-112 11h0m19 3h0m32 -5h0m32 1h0m9 5h0m23 -5h0m2 2h0m-116 8h0m10 -1h0m4 -1h0m4 3h0m4 -1h0m70 2h0m20 -4h0m-122 10h0m1 -1h0m1 2h0m5 -4h0m12 3h0m13 0h0m46 -5h0m10 2h0m19 -2h0m3 0h0m13 0h0m2 5h0m-96 10h0m50 -3h0m4 3h0m6 -6h0m2 4h0m2 3h0m12 -7h0m9 1h0m-91 7h0m17 6h0m12 -3h0m34 -4h0m5 1h0m3 -1h0m8 6h0m4 -1h0m3 -3h0m6 2h0m2 -1h0m3 1h0m-138 8h0m38 1h0m18 -4h0m52 0h0m9 7h0m17 -5h0m-194 9h0m1 2h0m16 2h0m38 -5h0m59 -2h0m11 1h0m53 3h0m3 2h0m-185 6h0m12 2h0m2 -2h0m19 1h0m22 -5h0m1 2h0m4 -1h0m7 1h0m11 -1h0m118 2h0m2 -3h0m-195 14h0m1 -3h0m6 2h0m1 0h0m3 1h0m5 -4h0m13 4h0m2 -1h0m19 -6h0m6 7h0m15 0h0m3 -4h0m7 -1h0m43 -1h0m9 1h0m15 -1h0m86 5h0m17 -5h0m-244 14h0m4 0h0m7 -3h0m22 2h0m6 -5h0m11 6h0m6 -6h0m11 4h0m1 -1h0m1 -1h0m1 -2h0m20 3h0m26 0h0m102 2h0m-231 3h0m6 5h0m13 -4h0m3 3h0m12 -2h0m4 4h0m8 0h0m8 -1h0m6 2h0m2 -5h0m17 2h0m6 -3h0m0 2h0m36 1h0m11 -3h0m54 6h0m40 -7h0m24 0h0m5 1h0m-269 10h0m2 3h0m1 -3h0m8 2h0m2 -5h0m15 5h0m0 -4h0m8 3h0m2 -2h0m9 -1h0m7 4h0m20 -5h0m1 2h0m8 -2h0m10 5h0m49 -1h0m45 0h0m187 1h0m3 1h0m-378 9h0m5 0h0m1 -2h0m6 -1h0m6 0h0m1 -3h0m1 3h0m19 -5h0m10 3h0m9 -2h0m2 4h0m9 -2h0m3 0h0m2 -2h0m10 4h0m9 -2h0m0 4h0m12 -7h0m12 2h0m1 5h0m4 -1h0m79 -5h0m1 5h0m9 2h0m163 -1h0m7 -3h0m9 -3h0m-373 8h0m11 0h0m12 1h0m2 4h0m17 -4h0m3 -1h0m9 4h0m3 2h0m1 -2h0m6 2h0m0 -3h0m3 -3h0m4 4h0m9 1h0m1 -1h0m2 -1h0m2 -2h0m2 2h0m5 -4h0m6 6h0m0 -6h0m8 1h0m4 6h0m4 -1h0m10 -1h0m49 -2h0m21 2h0m20 1h0m1 2h0m3 -3h0m5 2h0m109 -5h0m6 2h0m9 1h0m6 -4h0m1 6h0m0 -6h0m3 6h0m4 -1h0m16 -4h0m-386 8h0m9 1h0m27 -1h0m5 3h0m2 -4h0m1 7h0m19 0h0m1 -7h0m13 5h0m10 -6h0m25 6h0m0 -1h0m3 2h0m38 -4h0m6 0h0m9 -3h0m45 2h0m8 0h0m18 0h0m118 1h0m2 2h0m1 3h0m4 -3h0m1 -2h0m30 0h0m-402 11h0m4 -4h0m4 0h0m3 0h0m1 3h0m4 -2h0m1 -1h0m1 3h0m1 -4h0m1 0h0m1 2h0m1 -1h0m19 2h0m7 1h0m1 0h0m0 -4h0m7 5h0m6 -4h0m3 6h0m3 0h0m4 0h0m7 -6h0m23 3h0m1 1h0m1 0h0m11 0h0m1 -5h0m5 4h0m2 -1h0m7 -1h0m3 3h0m3 0h0m7 -1h0m51 -1h0m14 -2h0m122 4h0m1 -4h0m14 1h0m1 4h0m14 -6h0m11 0h0m7 -1h0m14 5h0m-401 6h0m8 2h0m0 2h0m5 0h0m16 -3h0m0 -3h0m5 4h0m8 -1h0m12 -1h0m17 3h0m9 -3h0m4 4h0m4 -5h0m14 6h0m4 -5h0m47 3h0m3 -3h0m23 1h0m59 -4h0m10 2h0m79 5h0m8 0h0m15 1h0m5 -2h0m2 -1h0m6 -3h0m18 4h0m6 -5h0m6 4h0m2 -1h0m2 -3h0m10 5h0m2 -2h0m-395 7h0m20 -2h0m7 3h0m0 -2h0m16 -1h0m15 0h0m4 6h0m3 -2h0m2 0h0m43 2h0m12 -4h0m7 2h0m3 3h0m0 -7h0m3 5h0m7 -1h0m3 0h0m57 2h0m10 -1h0m8 -5h0m85 2h0m17 -2h0m15 3h0m1 0h0m6 -4h0m9 7h0m7 -7h0m9 4h0m2 -3h0m6 3h0m2 -3h0m8 0h0m5 5h0m2 -3h0m-406 7h0m3 3h0m9 -3h0m1 4h0m6 -3h0m18 -2h0m17 2h0m9 -2h0m1 2h0m5 0h0m3 -1h0m1 0h0m6 4h0m4 -5h0m26 5h0m13 0h0m2 0h0m2 -3h0m4 1h0m1 -1h0m2 -1h0m1 4h0m3 -4h0m0 2h0m3 -4h0m2 7h0m0 0h0m1 -7h0m2 1h0m13 3h0m3 3h0m52 -4h0m8 -2h0m15 5h0m4 -6h0m7 6h0m3 -4h0m10 0h0m50 4h0m4 0h0m2 -6h0m3 2h0m5 1h0m1 0h0m14 1h0m10 4h0m1 -6h0m3 6h0m14 -4h0m1 0h0m17 0h0m10 2h0m1 -5h0m3 2h0m1 2h0m0 1h0m-404 5h0m1 -3h0m7 1h0m4 3h0m13 3h0m25 1h0m13 -4h0m0 1h0m1 -1h0m0 -2h0m2 4h0m15 -3h0m13 1h0m8 2h0m2 -5h0m1 0h0m3 6h0m13 1h0m4 -1h0m6 0h0m4 -3h0m16 -2h0m11 4h0m4 -2h0m4 -2h0m5 2h0m4 3h0m83 -6h0m51 -1h0m11 5h0m1 1h0m16 1h0m2 -2h0m12 0h0m2 0h0m1 2h0m4 -3h0m2 3h0m11 0h0m8 -2h0m8 -3h0m5 5h0m10 -5h0m-405 8h0m0 -2h0m4 0h0m4 5h0m9 2h0m11 -6h0m5 -1h0m4 5h0m24 1h0m0 -1h0m2 -2h0m3 2h0m8 -4h0m0 7h0m6 -4h0m1 3h0m2 -6h0m2 -1h0m5 1h0m0 2h0m1 -1h0m12 -1h0m3 6h0m1 1h0m8 -7h0m14 4h0m15 0h0m7 -2h0m7 -1h0m3 6h0m59 -6h0m5 4h0m9 -3h0m28 -2h0m46 5h0m11 -5h0m9 -1h0m4 4h0m1 1h0m6 -3h0m1 4h0m8 -2h0m7 3h0m19 0h0m15 1h0m8 -4h0m3 -1h0m-402 6h0m27 0h0m2 6h0m14 -2h0m1 3h0m1 -1h0m1 -7h0m5 1h0m13 6h0m13 0h0m12 -4h0m11 -1h0m18 -2h0m11 2h0m37 -2h0m5 5h0m56 0h0m30 1h0m7 1h0m5 -3h0m0 1h0m39 0h0m1 2h0m3 -5h0m18 0h0m6 0h0m1 0h0m0 1h0m1 3h0m3 -4h0m2 4h0m1 -2h0m1 4h0m6 -8h0m0 6h0m10 0h0m-361 10h0m8 -4h0m27 -2h0m5 6h0m2 -2h0m14 2h0m17 -4h0m17 3h0m22 -3h0m3 -3h0m10 1h0m8 4h0m8 -4h0m20 4h0m4 1h0m3 -5h0m2 -1h0m50 6h0m49 -3h0m44 -3h0m3 1h0m17 5h0m2 -1h0m5 1h0m6 -6h0m7 0h0m5 5h0m0 -1h0m0 0h0m1 -5h0m5 4h0m-362 7h0m22 4h0m0 -1h0m35 1h0m10 -2h0m14 2h0m15 -3h0m8 0h0m8 1h0m4 1h0m1 -3h0m18 2h0m16 -5h0m11 2h0m83 5h0m7 -3h0m61 4h0m15 -3h0m1 3h0m2 -2h0m2 0h0m17 -2h0m-352 5h0m27 2h0m5 -1h0m5 5h0m0 1h0m4 -5h0m1 3h0m2 2h0m1 -1h0m14 -5h0m0 2h0m16 2h0m11 -5h0m2 2h0m10 -2h0m21 0h0m20 2h0m6 2h0m0 1h0m91 -3h0m9 -3h0m5 8h0m8 -6h0m1 -1h0m0 4h0m22 2h0m33 -6h0m14 2h0m12 -2h0m1 4h0m8 2h0m5 -4h0m-349 11h0m1 1h0m13 -3h0m7 0h0m15 -1h0m9 3h0m9 2h0m8 -2h0m27 -1h0m1 0h0m1 -3h0m5 3h0m4 2h0m1 0h0m11 -5h0m2 3h0m3 -4h0m12 -1h0m68 5h0m22 -1h0m14 4h0m3 -4h0m6 1h0m6 -1h0m20 -3h0m40 1h0m15 -1h0m2 0h0m1 4h0m2 -3h0m7 3h0m0 -3h0m-339 10h0m3 -1h0m4 -2h0m26 5h0m3 2h0m1 0h0m6 -6h0m7 0h0m2 -1h0m18 5h0m0 -4h0m7 6h0m15 -5h0m5 2h0m2 2h0m29 -3h0m2 -1h0m0 -1h0m2 5h0m4 -5h0m0 -1h0m72 5h0m5 0h0m4 -5h0m9 0h0m20 0h0m18 6h0m6 -6h0m32 5h0m1 -5h0m-293 8h0m18 3h0m9 4h0m5 -8h0m5 0h0m1 7h0m2 -4h0m3 5h0m7 -7h0m0 3h0m7 -1h0m6 2h0m31 -3h0m4 0h0m8 6h0m0 -2h0m3 -3h0m22 4h0m100 -3h0m1 1h0m3 2h0m11 0h0m2 0h0m25 0h0m-269 3h0m6 -1h0m14 7h0m3 -7h0m8 1h0m30 3h0m2 0h0m41 -5h0m92 3h0m38 -2h0m63 2h0m-286 7h0m7 5h0m3 -5h0m0 6h0m9 -6h0m5 4h0m4 -4h0m4 2h0m3 3h0m0 -5h0m5 -1h0m3 4h0m32 3h0m48 -5h0m61 1h0m0 1h0m2 -3h0m22 3h0m14 -2h0m70 1h0m-271 11h0m21 -1h0m6 -2h0m26 2h0m18 -2h0m17 -2h0m3 2h0m5 3h0m26 -2h0m29 -3h0m10 3h0m48 2h0m16 -2h0m-227 8h0m4 -4h0m6 6h0m6 -2h0m6 2h0m4 -5h0m43 5h0m8 0h0m1 -5h0m8 2h0m9 -4h0m19 0h0m109 7h0m-219 3h0m2 6h0m0 -4h0m2 3h0m6 -7h0m9 2h0m2 0h0m2 -1h0m5 2h0m0 -2h0m30 2h0m20 -1h0m6 1h0m11 -3h0m4 7h0m26 -3h0m-103 5h0m0 3h0m40 4h0m0 -7h0m13 2h0m44 4h0m-58 5h0m18 3h0m2 -5h0m38 2h0m-62 11h0m2 0h0m9 -1h0m1 2h0m4 -1h0m-19 9h0m15 -5h0m11 -1h0m-9 8h0m55 3h0m2 2h0m-14 2h0m2 2h0m-64 8h0m14 -2h0m64 13h0" stroke="#3f4889" stroke-width="4.6" stroke-linecap="round" fill="none"/>
<path d="M274 716h0m7 -1h0m23 -2h0m-41 6h0m8 -2h0m8 4h0m4 -4h0m-14 12h0m1 -4h0m6 1h0m10 2h0m2 2h0m17 -4h0m0 0h0m-43 8h0m26 1h0m7 -1h0m92 1h0m7 4h0m4 -4h0m-139 10h0m6 0h0m2 -2h0m11 -2h0m9 5h0m2 -3h0m1 3h0m9 -5h0m6 7h0m8 -4h0m73 3h0m11 -6h0m2 0h0m4 -1h0m-115 16h0m1 -3h0m1 1h0m7 -5h0m3 2h0m3 4h0m4 1h0m71 -5h0m4 2h0m5 -5h0m4 0h0m2 3h0m-127 9h0m19 -3h0m13 4h0m13 -5h0m61 2h0m25 4h0m-131 8h0m3 -3h0m7 3h0m26 -3h0m47 0h0m19 4h0m3 -3h0m25 3h0m2 0h0m-130 7h0m3 -2h0m1 2h0m1 0h0m7 1h0m21 -4h0m5 -1h0m66 0h0m5 -1h0m10 1h0m4 0h0m-121 6h0m4 5h0m1 -4h0m11 6h0m7 -2h0m6 0h0m1 -4h0m6 1h0m31 2h0m35 -1h0m4 -1h0m3 4h0m5 1h0m1 -7h0m6 6h0m5 -2h0m0 -3h0m5 4h0m5 -5h0m-132 10h0m1 4h0m34 -3h0m10 1h0m3 3h0m49 -2h0m8 -1h0m15 -4h0m-109 14h0m15 -2h0m18 -3h0m12 5h0m43 1h0m19 -3h0m-47 8h0m17 -2h0m16 6h0m3 -4h0m8 3h0m3 -3h0m3 -2h0m-95 7h0m68 -1h0m0 4h0m6 -1h0m3 1h0m2 -2h0m1 3h0m3 2h0m4 -4h0m0 4h0m2 0h0m-193 7h0m5 0h0m53 1h0m8 -1h0m58 2h0m17 -6h0m26 -1h0m2 6h0m8 -4h0m4 2h0m15 1h0m-203 2h0m1 3h0m9 -1h0m0 5h0m2 0h0m9 -1h0m8 -3h0m23 2h0m2 3h0m18 -5h0m5 1h0m33 -3h0m2 2h0m0 4h0m31 -1h0m13 -4h0m26 -1h0m5 1h0m12 2h0m2 0h0m31 3h0m12 -3h0m1 1h0m7 -2h0m14 2h0m-269 8h0m8 -3h0m14 2h0m10 3h0m1 1h0m1 -5h0m25 1h0m0 2h0m8 -2h0m0 0h0m1 1h0m3 1h0m0 1h0m3 -3h0m8 3h0m0 -3h0m2 -4h0m19 4h0m5 -2h0m6 1h0m65 4h0m36 -5h0m15 5h0m14 -6h0m-250 12h0m13 -4h0m4 -1h0m8 0h0m2 5h0m6 -1h0m9 2h0m30 -5h0m8 -1h0m1 5h0m0 -1h0m4 -1h0m3 -2h0m5 2h0m6 -2h0m16 0h0m21 1h0m9 3h0m35 0h0m48 -3h0m15 6h0m13 -1h0m11 -1h0m-263 7h0m2 -3h0m2 0h0m6 -2h0m1 7h0m0 -6h0m3 1h0m8 0h0m13 6h0m0 -7h0m8 5h0m2 0h0m2 -4h0m9 -1h0m3 -1h0m2 4h0m6 3h0m11 -2h0m5 2h0m1 1h0m8 -8h0m4 3h0m20 1h0m7 -4h0m3 2h0m34 6h0m77 -7h0m-242 15h0m0 -6h0m2 5h0m30 -2h0m1 1h0m0 -2h0m4 0h0m0 2h0m24 -1h0m21 -1h0m5 -4h0m65 4h0m26 3h0m83 -3h0m-271 11h0m7 -3h0m3 -2h0m7 -1h0m2 0h0m2 -1h0m3 1h0m13 0h0m1 6h0m8 -2h0m4 1h0m4 1h0m8 -7h0m11 4h0m0 -3h0m4 4h0m1 -1h0m4 3h0m2 -4h0m6 5h0m13 -7h0m13 1h0m7 4h0m1 1h0m2 -3h0m2 3h0m22 -4h0m6 -2h0m25 2h0m4 -3h0m19 7h0m4 -6h0m8 4h0m38 -2h0m2 5h0m6 -7h0m3 0h0m116 4h0m2 -2h0m13 -3h0m2 2h0m-389 13h0m1 -2h0m6 -4h0m0 4h0m11 -4h0m3 4h0m15 -5h0m0 6h0m18 -6h0m2 7h0m15 -3h0m24 -1h0m6 3h0m3 1h0m4 -4h0m3 3h0m1 1h0m1 -6h0m0 4h0m3 0h0m5 2h0m4 -4h0m4 3h0m9 -4h0m60 2h0m4 -1h0m9 3h0m5 1h0m5 -5h0m0 4h0m7 -2h0m3 0h0m0 2h0m9 2h0m98 -4h0m7 3h0m1 -6h0m4 0h0m23 0h0m7 2h0m5 -3h0m2 1h0m6 4h0m2 -2h0m-399 11h0m10 -3h0m5 4h0m2 -3h0m11 1h0m26 -5h0m19 2h0m7 6h0m3 -3h0m12 -2h0m2 -2h0m2 4h0m6 -3h0m5 2h0m7 -4h0m5 7h0m1 -6h0m40 7h0m38 -2h0m22 1h0m7 -5h0m0 3h0m5 -3h0m103 6h0m30 -8h0m12 2h0m17 3h0m-406 3h0m8 2h0m5 6h0m5 -7h0m1 6h0m5 -4h0m1 5h0m0 -4h0m1 4h0m14 -6h0m8 6h0m2 -5h0m11 4h0m19 -5h0m9 5h0m19 -5h0m9 1h0m10 1h0m11 -1h0m2 5h0m4 -6h0m43 -2h0m50 1h0m98 7h0m18 -3h0m0 -1h0m8 -3h0m2 6h0m3 -5h0m35 2h0m10 4h0m-411 4h0m1 1h0m13 2h0m9 -1h0m1 -6h0m2 7h0m25 -4h0m2 -2h0m9 4h0m2 2h0m10 0h0m38 -1h0m6 2h0m1 -2h0m1 1h0m3 0h0m4 -2h0m1 0h0m26 -1h0m3 1h0m1 -1h0m14 4h0m36 -4h0m49 0h0m87 -3h0m8 0h0m7 6h0m11 -5h0m2 0h0m3 4h0m2 1h0m16 -2h0m9 -3h0m-404 13h0m4 1h0m3 -8h0m3 6h0m17 -1h0m10 -5h0m2 8h0m11 -3h0m2 -3h0m1 5h0m3 0h0m5 -3h0m17 -3h0m5 7h0m13 -8h0m7 3h0m6 4h0m8 -4h0m6 5h0m40 -3h0m12 -5h0m28 7h0m11 -5h0m1 4h0m4 -5h0m5 5h0m8 0h0m10 -6h0m11 1h0m70 1h0m24 5h0m9 -6h0m14 1h0m3 5h0m0 0h0m1 -6h0m7 -1h0m5 1h0m7 5h0m16 -3h0m1 3h0m-392 3h0m15 6h0m15 0h0m2 -6h0m5 3h0m0 3h0m5 1h0m3 -7h0m14 4h0m2 -4h0m1 0h0m2 2h0m6 -1h0m22 0h0m3 -1h0m1 6h0m16 -2h0m12 -5h0m11 5h0m4 -3h0m10 3h0m2 -3h0m15 3h0m5 -4h0m15 0h0m26 5h0m9 -2h0m13 -1h0m6 0h0m8 -1h0m52 0h0m4 3h0m3 1h0m20 -1h0m5 -3h0m11 -1h0m1 2h0m21 2h0m2 3h0m9 -6h0m1 5h0m7 1h0m-396 2h0m3 -1h0m0 3h0m16 -2h0m20 4h0m13 -5h0m7 2h0m4 2h0m12 0h0m15 3h0m8 -1h0m10 1h0m8 -5h0m8 4h0m1 -5h0m2 4h0m6 -5h0m2 1h0m3 1h0m16 2h0m1 -4h0m54 1h0m7 -2h0m29 7h0m10 -6h0m8 2h0m41 5h0m4 -8h0m2 3h0m4 1h0m15 3h0m8 0h0m6 -5h0m3 0h0m7 3h0m8 2h0m1 -3h0m18 3h0m7 -2h0m0 2h0m9 -2h0m-393 3h0m11 7h0m8 0h0m1 -5h0m2 3h0m38 -2h0m13 5h0m6 -1h0m13 -6h0m6 4h0m4 0h0m10 0h0m2 -3h0m7 -1h0m8 2h0m13 -2h0m11 3h0m2 1h0m10 -1h0m7 2h0m39 0h0m3 -4h0m0 2h0m8 -2h0m20 4h0m5 -5h0m63 1h0m6 4h0m24 0h0m11 -5h0m1 4h0m8 1h0m4 -4h0m26 -1h0m3 0h0m-400 14h0m4 -4h0m2 -2h0m14 4h0m11 -3h0m11 5h0m14 -2h0m2 -5h0m4 7h0m13 -4h0m1 -2h0m6 6h0m2 0h0m6 -2h0m3 -1h0m1 1h0m4 -3h0m1 -1h0m0 4h0m16 0h0m6 2h0m2 0h0m1 -4h0m7 4h0m7 -7h0m5 3h0m2 3h0m19 -3h0m46 4h0m6 -5h0m3 3h0m13 -1h0m7 -1h0m69 1h0m6 4h0m21 -8h0m2 7h0m2 -1h0m11 -4h0m4 -2h0m4 7h0m11 0h0m4 -5h0m-372 7h0m2 4h0m11 -5h0m2 2h0m4 0h0m10 6h0m2 -3h0m7 -5h0m2 2h0m4 2h0m17 -3h0m40 5h0m17 -4h0m9 -2h0m4 3h0m0 4h0m15 -5h0m1 0h0m0 2h0m3 3h0m44 -2h0m18 -2h0m6 -1h0m14 -1h0m4 4h0m5 -3h0m4 4h0m10 -6h0m66 8h0m7 -4h0m1 4h0m4 -2h0m4 -4h0m1 3h0m2 1h0m0 0h0m29 1h0m0 -4h0m4 1h0m3 -1h0m1 3h0m-366 3h0m10 5h0m0 0h0m9 1h0m2 0h0m7 -1h0m22 0h0m39 0h0m0 -5h0m4 6h0m4 0h0m1 -1h0m6 0h0m7 -1h0m11 1h0m8 0h0m2 2h0m8 -1h0m2 1h0m2 -7h0m76 4h0m9 0h0m15 -2h0m57 5h0m9 0h0m6 -2h0m18 0h0m2 -4h0m5 4h0m1 -2h0m7 0h0m-348 10h0m0 -1h0m20 -1h0m16 0h0m4 2h0m22 -3h0m11 3h0m6 -5h0m8 7h0m28 -3h0m3 -4h0m0 1h0m4 6h0m3 -1h0m17 -6h0m67 1h0m9 6h0m0 -7h0m13 1h0m13 4h0m4 -1h0m15 -1h0m32 -1h0m7 4h0m4 0h0m1 0h0m1 -6h0m1 4h0m2 2h0m2 -3h0m18 -3h0m9 6h0m9 -6h0m-363 14h0m16 -4h0m14 -2h0m11 2h0m13 2h0m5 1h0m1 -5h0m10 1h0m0 5h0m15 -6h0m15 6h0m2 -5h0m6 3h0m6 -2h0m93 4h0m19 -2h0m0 0h0m2 -1h0m27 -4h0m39 7h0m6 0h0m5 1h0m12 -3h0m6 2h0m6 -7h0m0 1h0m6 6h0m2 -5h0m8 -1h0m-344 9h0m6 -2h0m7 3h0m1 -1h0m48 2h0m4 1h0m0 2h0m0 -7h0m19 0h0m16 3h0m3 0h0m1 4h0m2 0h0m3 -3h0m5 -1h0m0 2h0m1 0h0m2 -2h0m10 0h0m2 2h0m67 -3h0m3 6h0m0 -3h0m11 -3h0m2 6h0m2 -7h0m28 2h0m12 1h0m1 -4h0m22 7h0m20 1h0m13 0h0m-302 1h0m3 5h0m8 0h0m2 -6h0m1 4h0m6 -1h0m5 -3h0m18 6h0m6 -4h0m6 3h0m1 -3h0m45 -1h0m10 7h0m9 -4h0m81 -2h0m1 4h0m1 1h0m28 -6h0m6 6h0m21 0h0m17 0h0m6 -1h0m-272 7h0m2 -1h0m0 0h0m1 -1h0m10 -1h0m4 1h0m4 -3h0m13 6h0m7 1h0m41 0h0m12 0h0m11 1h0m73 -6h0m34 -1h0m16 -1h0m0 5h0m40 0h0m12 1h0m1 1h0m-268 2h0m1 -1h0m3 6h0m1 -6h0m1 7h0m2 -4h0m20 -2h0m42 6h0m3 0h0m44 -1h0m49 -4h0m8 -2h0m4 2h0m2 1h0m44 -1h0m49 4h0m8 1h0m-276 6h0m35 2h0m29 1h0m2 -3h0m9 -1h0m33 1h0m9 1h0m8 1h0m37 -1h0m5 -4h0m47 6h0m-200 2h0m7 -2h0m6 6h0m1 -3h0m39 2h0m34 1h0m34 -3h0m0 4h0m41 -7h0m-155 16h0m9 -7h0m10 1h0m49 -2h0m8 5h0m26 -2h0m-92 11h0m1 -4h0m2 0h0m49 0h0m4 0h0m17 0h0m-31 10h0m7 3h0m0 0h0m7 -6h0m3 0h0m26 0h0m2 7h0m22 -3h0m-65 5h0m-6 8h0m7 5h0m68 -1h0m-79 5h0m0 3h0m12 -4h0m1 0h0m39 3h0m21 -1h0m-5 12h0m9 5h0m-10 4h0" stroke="#3a548c" stroke-width="4.6" stroke-linecap="round" fill="none"/>
<path d="M263 707h0m4 -1h0m5 3h0m4 0h0m9 -1h0m1 7h0m-16 2h0m13 5h0m3 -3h0m17 -3h0m0 6h0m9 -1h0m-55 6h0m1 4h0m6 0h0m3 1h0m12 -5h0m5 3h0m12 -1h0m5 -1h0m96 3h0m2 -2h0m2 2h0m-145 1h0m8 2h0m1 1h0m15 -3h0m3 2h0m2 -2h0m3 5h0m3 1h0m5 1h0m1 -5h0m2 0h0m88 6h0m4 -5h0m7 -2h0m1 3h0m2 -3h0m-147 8h0m2 2h0m19 1h0m11 2h0m2 1h0m2 -4h0m6 3h0m3 2h0m6 -7h0m5 6h0m0 -3h0m3 -3h0m63 6h0m5 1h0m11 -7h0m1 1h0m3 4h0m11 -1h0m-143 9h0m9 -2h0m3 3h0m8 0h0m16 -6h0m4 5h0m7 -2h0m64 -2h0m5 0h0m4 -2h0m4 1h0m14 4h0m5 -1h0m-139 12h0m5 -2h0m2 -1h0m7 -1h0m4 4h0m5 -1h0m9 -4h0m1 -1h0m8 1h0m17 3h0m49 -6h0m9 3h0m15 2h0m2 -3h0m4 1h0m-102 12h0m2 -6h0m76 4h0m2 -4h0m3 1h0m6 3h0m14 -5h0m-133 15h0m15 -3h0m3 2h0m7 -6h0m4 3h0m1 4h0m1 -5h0m30 4h0m5 -3h0m27 3h0m16 -2h0m9 1h0m3 -2h0m8 1h0m1 -3h0m-134 8h0m14 0h0m10 4h0m1 -3h0m8 3h0m4 1h0m62 -4h0m1 1h0m16 -1h0m4 5h0m-111 8h0m7 -4h0m5 0h0m6 5h0m6 -7h0m3 2h0m2 -2h0m31 6h0m37 -2h0m1 -4h0m3 2h0m6 4h0m3 1h0m-84 3h0m35 1h0m10 4h0m9 -3h0m2 -4h0m-76 8h0m7 1h0m46 -2h0m21 1h0m6 6h0m21 -1h0m6 -3h0m0 -1h0m4 4h0m-133 8h0m1 1h0m38 -7h0m48 7h0m21 -4h0m2 0h0m1 1h0m2 3h0m0 -1h0m4 1h0m3 -2h0m6 -4h0m5 4h0m-197 9h0m53 -6h0m6 2h0m9 -1h0m1 7h0m3 -5h0m1 1h0m26 1h0m24 -2h0m4 2h0m2 2h0m50 -4h0m4 -1h0m3 2h0m6 0h0m1 -4h0m50 5h0m-246 6h0m59 0h0m4 1h0m6 0h0m44 -3h0m2 4h0m10 1h0m43 1h0m6 -7h0m13 1h0m5 0h0m2 2h0m40 0h0m5 1h0m-248 5h0m7 0h0m2 1h0m1 4h0m5 0h0m11 -5h0m10 7h0m5 -8h0m1 3h0m15 -3h0m7 7h0m4 -2h0m1 1h0m23 2h0m23 -5h0m5 1h0m6 -1h0m15 4h0m30 -4h0m6 3h0m73 -1h0m21 -3h0m-267 10h0m15 0h0m13 1h0m4 3h0m1 -6h0m4 6h0m3 -2h0m4 2h0m1 -2h0m12 -2h0m1 -1h0m1 -2h0m7 1h0m48 -1h0m100 2h0m20 1h0m-246 11h0m1 -3h0m1 -2h0m6 0h0m12 3h0m3 -5h0m23 5h0m7 1h0m12 -3h0m3 -1h0m2 4h0m14 -5h0m3 1h0m10 0h0m4 5h0m1 -4h0m30 0h0m19 -2h0m2 7h0m5 -6h0m96 6h0m-256 8h0m27 -5h0m10 2h0m16 -3h0m5 0h0m0 5h0m9 -7h0m4 3h0m10 0h0m1 0h0m2 5h0m14 -7h0m25 1h0m7 5h0m8 -2h0m32 -3h0m5 5h0m3 -6h0m16 3h0m19 3h0m162 -2h0m-380 6h0m12 -2h0m5 4h0m3 -3h0m1 0h0m0 -2h0m3 6h0m5 -2h0m4 -2h0m8 3h0m3 1h0m10 -5h0m12 3h0m7 0h0m0 -4h0m7 1h0m1 4h0m6 3h0m12 -4h0m14 -2h0m42 5h0m26 -5h0m15 2h0m1 -4h0m6 2h0m6 5h0m5 -2h0m4 2h0m150 -5h0m1 4h0m1 -5h0m1 2h0m1 -2h0m13 6h0m11 -6h0m-395 11h0m13 1h0m1 -3h0m12 3h0m23 0h0m24 -4h0m0 4h0m2 1h0m1 -6h0m15 8h0m4 -6h0m18 6h0m5 -7h0m2 5h0m3 -4h0m1 0h0m4 2h0m5 -3h0m17 5h0m32 -3h0m12 4h0m22 -2h0m4 -3h0m1 2h0m23 1h0m3 -5h0m7 5h0m4 -5h0m93 1h0m18 3h0m14 1h0m3 -3h0m-390 11h0m4 -2h0m5 -1h0m10 -1h0m3 0h0m8 -1h0m4 7h0m0 -4h0m17 1h0m25 1h0m16 2h0m4 -3h0m6 -1h0m1 1h0m4 -2h0m4 0h0m16 2h0m8 -2h0m1 4h0m61 0h0m14 -2h0m8 1h0m1 0h0m12 -3h0m29 -2h0m77 7h0m3 0h0m1 -3h0m4 0h0m1 2h0m1 -3h0m4 4h0m7 -3h0m4 2h0m4 -4h0m0 5h0m1 -4h0m3 -3h0m6 7h0m7 0h0m12 -1h0m4 1h0m-400 8h0m6 -6h0m13 3h0m4 2h0m1 0h0m6 -1h0m4 -3h0m6 5h0m11 -6h0m9 4h0m1 -5h0m14 5h0m1 -2h0m3 -2h0m13 0h0m3 3h0m0 3h0m9 0h0m7 -5h0m3 2h0m2 -1h0m1 2h0m15 -4h0m1 7h0m4 -4h0m6 3h0m8 -3h0m72 -3h0m9 7h0m6 -5h0m10 0h0m82 5h0m5 -2h0m6 -3h0m10 -3h0m7 0h0m0 8h0m4 -3h0m1 2h0m11 -3h0m3 3h0m3 -2h0m5 -4h0m2 6h0m5 -6h0m1 2h0m13 -2h0m0 1h0m-401 12h0m40 -6h0m2 7h0m5 -6h0m5 3h0m0 0h0m4 -1h0m4 1h0m1 2h0m5 -6h0m1 6h0m10 -5h0m7 3h0m2 -2h0m2 1h0m14 -1h0m1 6h0m13 -1h0m9 -5h0m0 3h0m3 0h0m1 -4h0m1 6h0m4 -6h0m3 -1h0m5 2h0m26 4h0m4 -5h0m4 3h0m4 0h0m28 4h0m0 -1h0m26 0h0m93 0h0m3 -2h0m6 2h0m3 -6h0m7 6h0m26 -2h0m6 1h0m0 -3h0m0 -2h0m16 5h0m-377 2h0m2 3h0m7 3h0m28 -2h0m22 -3h0m12 5h0m12 1h0m17 -5h0m1 2h0m0 3h0m8 -5h0m1 4h0m0 -4h0m13 4h0m10 -1h0m65 2h0m4 -4h0m5 -1h0m6 1h0m9 2h0m4 -3h0m12 3h0m67 -4h0m4 3h0m8 3h0m4 0h0m6 1h0m10 -7h0m28 5h0m10 0h0m2 -4h0m0 -2h0m0 8h0m-396 1h0m5 3h0m0 -3h0m22 -1h0m18 4h0m6 1h0m6 -1h0m1 -3h0m5 3h0m3 -1h0m27 -2h0m2 4h0m1 -3h0m12 1h0m5 1h0m2 0h0m6 -3h0m0 2h0m7 -2h0m6 2h0m21 2h0m27 2h0m26 -4h0m7 0h0m9 2h0m9 1h0m5 0h0m7 0h0m75 1h0m6 -3h0m7 4h0m2 -4h0m5 2h0m1 -1h0m3 -1h0m2 3h0m9 -1h0m15 -1h0m4 2h0m7 -1h0m16 -2h0m-403 9h0m4 -2h0m2 -3h0m3 4h0m9 4h0m2 -4h0m10 3h0m13 -3h0m2 4h0m1 -5h0m2 2h0m11 -3h0m4 2h0m1 3h0m15 -3h0m6 3h0m5 -6h0m10 3h0m4 1h0m21 3h0m0 -5h0m13 2h0m6 -3h0m3 -1h0m7 4h0m28 -5h0m17 6h0m17 0h0m4 -2h0m7 2h0m4 -2h0m1 2h0m24 0h0m7 1h0m4 -6h0m44 3h0m2 2h0m12 0h0m30 -3h0m13 0h0m1 1h0m10 0h0m2 4h0m6 -1h0m2 -6h0m5 0h0m0 1h0m2 3h0m5 -5h0m-402 12h0m12 1h0m24 -4h0m1 2h0m6 4h0m35 0h0m5 -4h0m7 4h0m3 -7h0m6 5h0m9 -1h0m18 3h0m1 -6h0m4 3h0m5 3h0m6 -3h0m10 2h0m7 1h0m8 -1h0m7 -2h0m16 3h0m2 -1h0m27 -1h0m9 2h0m8 -3h0m25 0h0m0 1h0m2 -3h0m49 -1h0m1 4h0m9 -2h0m11 4h0m3 -4h0m7 0h0m3 0h0m6 3h0m10 -2h0m4 -1h0m1 1h0m14 1h0m8 0h0m10 -3h0m3 0h0m-394 14h0m1 -2h0m2 -3h0m9 -3h0m2 3h0m9 4h0m15 -4h0m16 1h0m3 3h0m9 -3h0m1 -3h0m1 4h0m7 1h0m8 -5h0m21 4h0m9 -3h0m2 4h0m20 -3h0m3 0h0m10 2h0m68 0h0m7 -4h0m5 6h0m6 -2h0m3 3h0m62 -1h0m9 -5h0m1 2h0m2 1h0m1 -2h0m7 -3h0m4 8h0m15 -7h0m18 -1h0m9 8h0m5 -3h0m14 -3h0m2 -1h0m-371 12h0m0 -1h0m14 -2h0m17 4h0m12 0h0m12 1h0m8 -2h0m2 -2h0m0 1h0m1 0h0m5 -3h0m16 0h0m7 3h0m0 -3h0m14 5h0m12 1h0m2 1h0m15 -4h0m11 -4h0m48 2h0m7 2h0m0 2h0m23 -4h0m9 1h0m6 4h0m1 -4h0m44 -2h0m4 2h0m1 -2h0m23 0h0m0 -1h0m3 3h0m1 1h0m1 -4h0m25 4h0m3 1h0m4 -1h0m1 -1h0m7 0h0m-382 8h0m13 2h0m2 3h0m17 -6h0m16 -2h0m5 5h0m3 1h0m0 -5h0m3 0h0m9 5h0m7 -2h0m20 1h0m9 1h0m18 1h0m0 0h0m5 -5h0m17 2h0m5 4h0m5 -4h0m4 -1h0m9 -2h0m32 5h0m3 0h0m16 -4h0m35 4h0m18 0h0m45 -4h0m19 0h0m16 -1h0m1 4h0m5 -1h0m3 -3h0m0 1h0m2 4h0m-345 3h0m20 2h0m2 5h0m1 -6h0m18 1h0m13 -1h0m5 4h0m13 0h0m5 -1h0m1 2h0m0 -6h0m7 4h0m13 -3h0m23 2h0m3 -1h0m14 -2h0m42 0h0m12 6h0m12 0h0m8 0h0m14 -3h0m6 1h0m67 -3h0m2 0h0m6 4h0m8 -6h0m24 7h0m4 -6h0m-351 14h0m12 -3h0m9 -3h0m3 4h0m24 1h0m18 -2h0m4 -1h0m11 2h0m13 -1h0m3 2h0m7 -6h0m2 7h0m12 -3h0m0 -4h0m5 1h0m6 2h0m2 -1h0m3 -1h0m2 0h0m58 4h0m3 -2h0m19 1h0m22 3h0m3 -5h0m5 1h0m1 1h0m8 1h0m0 1h0m1 -4h0m2 3h0m8 -2h0m33 4h0m23 -6h0m-329 10h0m7 4h0m1 -3h0m4 1h0m1 1h0m39 -4h0m7 5h0m2 -1h0m15 -3h0m8 -1h0m18 2h0m0 -1h0m11 5h0m2 -7h0m7 4h0m3 2h0m10 -6h0m79 6h0m5 -1h0m21 -1h0m12 1h0m2 0h0m3 -2h0m19 -1h0m15 1h0m10 3h0m3 -2h0m2 2h0m-297 1h0m11 4h0m19 3h0m23 -7h0m45 2h0m26 -1h0m16 5h0m49 -1h0m4 -1h0m3 1h0m5 -1h0m4 -2h0m41 6h0m2 -4h0m32 0h0m25 1h0m-302 6h0m11 1h0m28 1h0m3 -1h0m15 4h0m8 0h0m0 -7h0m37 -1h0m11 1h0m18 6h0m7 -4h0m7 -1h0m42 2h0m3 2h0m2 -4h0m39 1h0m71 0h0m-277 11h0m0 -2h0m11 2h0m16 -4h0m5 2h0m3 -2h0m37 -1h0m18 6h0m24 -6h0m55 6h0m4 -5h0m2 3h0m3 1h0m40 -2h0m53 2h0m-261 7h0m6 2h0m8 -7h0m12 4h0m1 3h0m29 -1h0m29 -2h0m37 -1h0m40 1h0m40 -2h0m13 0h0m-206 12h0m13 -2h0m7 4h0m53 -5h0m7 2h0m15 1h0m11 -4h0m4 -1h0m6 3h0m37 1h0m1 -1h0m54 0h0m-210 9h0m4 -1h0m1 3h0m5 -1h0m4 -6h0m9 1h0m35 1h0m10 -1h0m32 4h0m-92 3h0m48 7h0m24 -1h0m18 2h0m2 -4h0m16 -2h0m2 0h0m5 3h0m-60 9h0m10 -3h0m38 12h0m-55 14h0m8 -2h0m44 -1h0m7 0h0m7 1h0m6 0h0m-69 7h0m67 1h0m-72 9h0m66 3h0m-6 3h0" stroke="#34608d" stroke-width="4.6" stroke-linecap="round" fill="none"/>
<path d="M273 704h0m-6 5h0m5 6h0m1 -6h0m2 6h0m14 -1h0m-30 8h0m1 0h0m5 -3h0m11 1h0m4 1h0m1 0h0m1 0h0m1 0h0m0 -4h0m1 1h0m10 0h0m2 -2h0m9 1h0m4 3h0m1 -3h0m-49 11h0m10 2h0m7 -1h0m3 -1h0m10 -3h0m5 3h0m3 2h0m9 -4h0m90 -1h0m-109 10h0m1 4h0m15 -1h0m74 -2h0m-123 11h0m0 -4h0m4 3h0m1 -4h0m2 5h0m14 -6h0m5 3h0m7 0h0m1 -2h0m15 3h0m5 2h0m2 -3h0m73 1h0m19 2h0m1 -6h0m1 1h0m-144 11h0m2 -5h0m6 8h0m1 0h0m7 -2h0m1 -4h0m13 2h0m4 -1h0m15 4h0m69 -4h0m4 -2h0m6 -1h0m3 6h0m8 -2h0m4 4h0m0 -5h0m-130 6h0m8 5h0m7 -2h0m11 -3h0m8 0h0m19 6h0m21 -1h0m26 -3h0m3 -1h0m1 -2h0m0 7h0m10 -7h0m-123 12h0m24 -4h0m4 4h0m8 3h0m41 -5h0m31 -1h0m4 -1h0m13 5h0m8 1h0m5 -5h0m-136 8h0m10 3h0m18 -3h0m42 3h0m6 -1h0m22 4h0m6 0h0m5 -1h0m5 -5h0m5 7h0m4 -5h0m4 1h0m0 2h0m8 -4h0m-134 8h0m4 1h0m4 3h0m1 2h0m2 -7h0m0 7h0m8 -3h0m15 -1h0m28 -2h0m2 0h0m36 0h0m14 5h0m8 -1h0m3 -4h0m-111 12h0m8 -4h0m0 -2h0m2 3h0m11 1h0m2 -1h0m1 5h0m9 -2h0m15 0h0m30 -2h0m6 3h0m4 -4h0m4 3h0m7 2h0m3 -5h0m12 0h0m-122 7h0m26 5h0m4 -2h0m2 -4h0m29 7h0m12 -7h0m13 0h0m1 2h0m0 0h0m7 -1h0m0 -2h0m10 4h0m8 2h0m8 -1h0m1 -4h0m-109 10h0m13 -3h0m15 7h0m0 -3h0m23 -2h0m19 3h0m13 -1h0m13 3h0m9 -3h0m3 2h0m5 -5h0m-152 12h0m3 2h0m0 0h0m1 1h0m68 -6h0m42 -1h0m15 0h0m15 3h0m1 -3h0m-141 12h0m4 -5h0m1 2h0m13 1h0m21 0h0m29 4h0m8 -3h0m14 2h0m7 -3h0m21 0h0m57 4h0m16 -2h0m9 0h0m-267 5h0m1 -2h0m2 1h0m2 3h0m7 -4h0m5 5h0m0 2h0m5 -3h0m2 -2h0m1 2h0m11 1h0m2 2h0m29 -1h0m5 -5h0m10 4h0m8 0h0m43 -2h0m7 3h0m9 -5h0m1 4h0m58 -2h0m30 -2h0m9 7h0m7 -1h0m46 0h0m-303 3h0m14 5h0m2 0h0m33 -2h0m3 -4h0m11 2h0m3 3h0m7 -2h0m14 2h0m2 2h0m44 -1h0m2 -7h0m8 5h0m16 -3h0m12 3h0m8 -4h0m41 5h0m21 -1h0m3 -3h0m2 2h0m-238 6h0m4 3h0m19 -5h0m15 3h0m3 1h0m4 2h0m10 -2h0m7 1h0m9 1h0m36 -4h0m7 0h0m39 0h0m23 0h0m41 3h0m25 -3h0m8 0h0m8 5h0m-251 9h0m2 -3h0m1 -1h0m5 -3h0m0 3h0m2 1h0m1 3h0m5 0h0m1 -5h0m20 4h0m11 0h0m1 1h0m26 -7h0m38 7h0m5 -7h0m5 2h0m4 4h0m5 -3h0m6 0h0m27 3h0m5 -1h0m13 0h0m26 1h0m14 -2h0m10 1h0m13 0h0m-247 3h0m7 5h0m10 -6h0m12 6h0m3 -1h0m5 1h0m18 -4h0m12 3h0m4 2h0m0 -2h0m10 -4h0m33 6h0m4 0h0m17 -3h0m39 -1h0m34 -2h0m18 3h0m13 3h0m-264 5h0m3 -3h0m7 3h0m3 2h0m4 0h0m5 -5h0m4 1h0m9 4h0m3 0h0m3 1h0m5 0h0m2 -3h0m15 0h0m11 -2h0m9 -1h0m0 0h0m0 0h0m4 4h0m33 -3h0m30 2h0m59 1h0m4 1h0m5 1h0m4 -2h0m4 -4h0m13 6h0m6 -3h0m20 -1h0m2 -3h0m31 3h0m73 -1h0m2 5h0m8 -5h0m17 4h0m-401 2h0m14 4h0m12 0h0m7 4h0m39 -7h0m25 6h0m1 -4h0m6 -1h0m4 3h0m18 -2h0m4 -2h0m1 0h0m39 3h0m1 -2h0m4 1h0m2 2h0m4 1h0m2 -2h0m7 3h0m5 -4h0m1 5h0m6 -2h0m6 2h0m4 -5h0m25 0h0m15 0h0m101 -2h0m13 3h0m11 3h0m0 0h0m2 1h0m3 -6h0m1 0h0m10 -1h0m3 2h0m-383 11h0m12 -3h0m1 -2h0m3 1h0m6 0h0m5 3h0m1 -4h0m15 3h0m2 -1h0m2 0h0m9 -1h0m2 1h0m34 0h0m8 -2h0m2 0h0m14 3h0m11 -3h0m5 5h0m6 -6h0m41 5h0m12 -3h0m5 5h0m3 -7h0m3 4h0m16 -3h0m2 1h0m10 5h0m104 1h0m2 -8h0m2 7h0m3 -3h0m0 2h0m5 1h0m4 -6h0m2 3h0m2 2h0m13 -1h0m7 -1h0m14 0h0m-401 9h0m24 0h0m9 -3h0m4 1h0m5 2h0m5 0h0m6 -4h0m0 3h0m3 2h0m12 -3h0m4 3h0m22 -1h0m11 -2h0m1 3h0m16 2h0m0 -5h0m83 -3h0m18 2h0m134 2h0m0 -1h0m8 -2h0m2 5h0m6 -5h0m9 3h0m26 -1h0m-413 10h0m7 -5h0m13 5h0m2 -5h0m5 8h0m21 -4h0m10 1h0m46 2h0m8 -1h0m8 -6h0m4 4h0m3 -4h0m14 4h0m12 -3h0m3 3h0m13 -3h0m13 0h0m7 5h0m3 -5h0m18 4h0m0 -2h0m6 4h0m1 -4h0m117 -2h0m10 0h0m31 4h0m9 -4h0m5 6h0m0 -3h0m2 2h0m4 1h0m6 -4h0m8 5h0m0 -2h0m-397 6h0m2 -2h0m4 -1h0m0 4h0m6 -2h0m21 -2h0m4 7h0m1 -3h0m1 -5h0m11 2h0m12 6h0m8 -2h0m0 2h0m13 -2h0m30 -6h0m16 8h0m4 -1h0m2 0h0m1 -3h0m0 2h0m3 -4h0m1 0h0m10 0h0m1 5h0m7 -7h0m17 5h0m26 0h0m1 -3h0m2 -1h0m0 3h0m5 0h0m7 -2h0m10 4h0m1 -6h0m86 5h0m2 2h0m23 -2h0m37 1h0m0 -2h0m12 2h0m-392 7h0m16 3h0m21 -7h0m13 7h0m8 -6h0m9 1h0m2 1h0m1 0h0m3 4h0m8 -4h0m6 2h0m1 -3h0m1 4h0m1 -1h0m17 -3h0m11 2h0m7 3h0m13 -3h0m5 1h0m5 1h0m0 -4h0m1 -1h0m1 1h0m3 1h0m1 0h0m1 0h0m5 -4h0m6 6h0m3 -3h0m69 1h0m3 -1h0m2 4h0m6 1h0m81 -4h0m5 0h0m5 -1h0m3 4h0m1 0h0m1 -4h0m14 3h0m3 -3h0m7 2h0m3 1h0m26 -5h0m-400 7h0m5 5h0m2 1h0m0 1h0m1 -1h0m2 -5h0m14 4h0m2 3h0m6 -7h0m30 1h0m8 1h0m4 3h0m3 -3h0m3 -1h0m5 -1h0m6 4h0m6 1h0m3 -5h0m14 -1h0m21 2h0m12 -1h0m47 -1h0m7 2h0m4 0h0m8 1h0m4 1h0m5 -3h0m2 3h0m0 -1h0m4 -3h0m11 8h0m22 -2h0m49 -1h0m7 -4h0m6 7h0m3 -7h0m8 2h0m14 -1h0m22 1h0m11 -1h0m2 1h0m1 4h0m8 1h0m-398 4h0m7 2h0m18 -4h0m2 -1h0m12 0h0m1 2h0m1 5h0m2 -2h0m3 -3h0m1 3h0m1 -6h0m3 6h0m9 1h0m8 -3h0m6 2h0m0 -2h0m3 -2h0m17 0h0m4 1h0m7 4h0m2 -1h0m8 -3h0m7 3h0m7 -3h0m12 1h0m10 3h0m11 -3h0m33 1h0m21 0h0m22 -1h0m2 -1h0m17 -3h0m2 2h0m3 0h0m1 4h0m5 -2h0m2 1h0m44 1h0m6 0h0m11 -1h0m2 2h0m1 -2h0m5 -1h0m0 -2h0m3 5h0m5 -3h0m20 -3h0m5 7h0m3 -8h0m10 0h0m11 7h0m4 -7h0m-389 10h0m9 3h0m3 -2h0m3 -1h0m3 4h0m14 -4h0m1 4h0m8 -5h0m3 0h0m21 0h0m13 6h0m2 -6h0m14 6h0m2 -4h0m10 2h0m20 1h0m3 -3h0m5 0h0m3 0h0m5 -3h0m8 5h0m0 1h0m13 -1h0m3 -1h0m22 2h0m16 -2h0m11 3h0m25 -3h0m1 0h0m1 0h0m55 2h0m1 -1h0m5 -2h0m25 4h0m1 -2h0m6 -3h0m1 1h0m7 4h0m6 0h0m13 -4h0m2 4h0m-371 6h0m8 1h0m16 -2h0m6 4h0m3 -5h0m12 1h0m3 -2h0m4 2h0m8 -1h0m7 0h0m4 -1h0m14 1h0m16 -1h0m6 3h0m4 1h0m2 -3h0m14 1h0m9 2h0m11 -1h0m4 0h0m11 -5h0m4 5h0m34 -1h0m10 -1h0m10 0h0m4 5h0m22 -4h0m4 3h0m15 -3h0m39 3h0m4 -3h0m9 2h0m19 2h0m7 -2h0m0 -3h0m2 3h0m1 -4h0m12 -2h0m4 7h0m-365 4h0m3 0h0m7 -2h0m5 1h0m19 -2h0m13 3h0m22 3h0m12 -1h0m5 -1h0m9 -1h0m21 -2h0m7 3h0m5 -2h0m1 0h0m1 -1h0m10 5h0m9 0h0m0 -2h0m5 0h0m0 -4h0m64 5h0m1 -4h0m0 7h0m5 -6h0m6 -1h0m3 5h0m7 -4h0m5 6h0m0 -4h0m23 3h0m38 -6h0m7 2h0m4 3h0m18 -4h0m7 -1h0m14 1h0m14 0h0m1 -1h0m4 0h0m-369 14h0m14 -5h0m8 -1h0m15 4h0m2 -1h0m6 -2h0m8 1h0m31 -2h0m18 2h0m7 -2h0m1 1h0m1 4h0m1 1h0m5 -1h0m7 -3h0m3 2h0m10 1h0m90 -2h0m6 0h0m3 -3h0m21 0h0m28 6h0m27 0h0m36 -6h0m-327 10h0m1 2h0m34 3h0m3 -5h0m5 -2h0m17 4h0m2 2h0m3 -3h0m5 1h0m5 0h0m12 -3h0m0 0h0m15 2h0m9 -4h0m90 3h0m5 4h0m4 -1h0m19 -2h0m20 0h0m3 0h0m18 -4h0m28 4h0m21 -1h0m-340 5h0m14 2h0m7 1h0m2 4h0m4 1h0m5 -8h0m5 7h0m1 -3h0m3 1h0m9 -2h0m1 4h0m41 1h0m0 -3h0m2 -2h0m7 -2h0m33 1h0m60 -1h0m7 6h0m11 -1h0m13 -2h0m0 2h0m2 -1h0m2 -3h0m4 6h0m18 -4h0m3 2h0m50 2h0m-305 4h0m4 1h0m1 -4h0m1 1h0m21 0h0m29 -1h0m45 2h0m2 4h0m6 -4h0m8 4h0m0 -5h0m13 3h0m76 3h0m10 -3h0m33 -2h0m4 0h0m45 1h0m5 0h0m-291 9h0m5 -4h0m3 7h0m22 -6h0m0 5h0m2 1h0m9 -2h0m0 1h0m57 -6h0m5 2h0m14 0h0m0 4h0m21 -6h0m53 0h0m6 0h0m7 -1h0m19 6h0m14 0h0m10 -3h0m-228 10h0m13 -2h0m2 5h0m5 -2h0m18 -5h0m30 5h0m58 0h0m47 -2h0m13 -2h0m13 0h0m0 2h0m22 -3h0m12 5h0m25 -5h0m14 -1h0m1 5h0m7 -4h0m-279 10h0m13 4h0m2 -1h0m8 0h0m70 -5h0m2 4h0m12 -2h0m58 3h0m0 -2h0m13 0h0m2 1h0m26 -1h0m3 -4h0m12 7h0m4 -5h0m45 -1h0m1 0h0m-259 10h0m3 -2h0m7 0h0m3 4h0m2 -5h0m13 3h0m49 5h0m43 -2h0m90 -5h0m4 2h0m-211 11h0m2 1h0m1 0h0m1 0h0m4 -5h0m5 6h0m0 -3h0m12 -4h0m132 0h0m-147 14h0m9 -2h0m0 -1h0m43 0h0m39 2h0m14 0h0m0 0h0m2 -3h0m4 -1h0m99 -1h0m-162 11h0m15 -2h0m20 5h0m3 -2h0m18 -1h0m-9 15h0m-54 10h0m6 -5h0m5 4h0m52 2h0m4 1h0m3 0h0m2 -4h0m8 -1h0m-11 11h0m1 10h0m2 -3h0m8 -3h0m0 4h0" stroke="#2f6c8e" stroke-width="4.6" stroke-linecap="round" fill="none"/>
<path d="M271 698h0m-4 3h0m0 2h0m1 3h0m15 -1h0m1 3h0m3 0h0m-24 5h0m4 -2h0m0 -2h0m1 0h0m14 5h0m2 -2h0m2 2h0m13 2h0m3 -5h0m-27 7h0m12 4h0m-8 8h0m3 -5h0m2 5h0m7 -1h0m4 -4h0m2 5h0m2 2h0m7 -7h0m2 3h0m82 3h0m8 -3h0m-137 7h0m4 4h0m9 0h0m4 1h0m4 -4h0m10 1h0m0 -3h0m18 3h0m4 3h0m-56 5h0m4 -3h0m1 5h0m21 -1h0m14 -6h0m10 4h0m92 0h0m-142 5h0m18 0h0m5 3h0m3 3h0m2 -7h0m5 6h0m3 -2h0m5 -2h0m3 3h0m8 -2h0m-46 11h0m4 -1h0m8 3h0m5 -3h0m4 -1h0m5 2h0m1 -4h0m1 3h0m6 -2h0m2 -2h0m0 7h0m1 -1h0m1 -2h0m101 2h0m-135 9h0m0 -4h0m5 -4h0m15 3h0m40 1h0m44 -3h0m16 4h0m1 2h0m0 -6h0m15 5h0m-123 7h0m11 0h0m0 3h0m73 -1h0m12 -6h0m10 5h0m5 0h0m9 0h0m-128 8h0m3 -2h0m8 -2h0m49 -2h0m1 1h0m17 3h0m16 -3h0m16 2h0m2 1h0m18 2h0m-132 4h0m1 -1h0m7 -1h0m3 2h0m1 -2h0m3 7h0m3 -1h0m20 -4h0m52 3h0m0 0h0m5 -5h0m26 5h0m4 -2h0m5 -3h0m0 1h0m-122 10h0m0 -2h0m10 2h0m4 -2h0m66 1h0m9 4h0m17 -1h0m10 0h0m3 1h0m-110 4h0m35 -1h0m13 0h0m11 5h0m6 -6h0m1 3h0m13 0h0m4 4h0m4 1h0m11 -1h0m-81 8h0m61 -2h0m1 -4h0m4 2h0m9 1h0m1 2h0m2 2h0m5 -2h0m-195 7h0m54 -4h0m0 5h0m12 -4h0m3 4h0m4 1h0m6 0h0m23 -3h0m0 2h0m43 -4h0m32 2h0m2 2h0m80 0h0m3 1h0m-266 8h0m3 1h0m10 -6h0m10 2h0m4 -2h0m5 6h0m24 -1h0m4 -7h0m9 6h0m36 0h0m0 -6h0m10 3h0m7 5h0m36 -2h0m7 1h0m16 -5h0m50 6h0m7 -8h0m1 6h0m52 -1h0m-296 8h0m11 -4h0m56 0h0m1 5h0m23 -3h0m36 0h0m13 3h0m4 -4h0m29 2h0m55 -2h0m21 1h0m53 1h0m-293 6h0m12 0h0m6 0h0m14 3h0m5 -5h0m8 0h0m20 2h0m2 -1h0m18 0h0m4 7h0m9 -6h0m7 -1h0m38 3h0m1 -3h0m8 0h0m16 0h0m37 2h0m32 -2h0m5 0h0m-243 11h0m21 2h0m3 -5h0m12 0h0m14 4h0m5 -1h0m4 3h0m20 -4h0m3 -1h0m8 2h0m20 -4h0m58 3h0m15 5h0m-203 5h0m2 2h0m10 -7h0m2 3h0m10 -2h0m2 3h0m1 -3h0m53 5h0m1 -1h0m2 -1h0m5 -3h0m6 5h0m6 -5h0m9 5h0m6 0h0m35 0h0m11 -4h0m3 3h0m8 -5h0m8 4h0m184 2h0m12 2h0m-360 6h0m12 -2h0m2 -4h0m2 7h0m8 1h0m14 -6h0m14 5h0m83 -6h0m1 6h0m21 -6h0m24 5h0m1 -1h0m7 -1h0m11 2h0m20 -4h0m4 2h0m11 -1h0m5 -2h0m39 4h0m65 0h0m9 2h0m21 -3h0m-389 9h0m26 -4h0m10 3h0m32 -1h0m10 0h0m7 1h0m13 4h0m2 -3h0m16 -4h0m2 2h0m3 3h0m4 -5h0m16 0h0m19 3h0m20 -3h0m3 3h0m25 0h0m9 0h0m1 2h0m27 0h0m2 -1h0m119 -4h0m8 5h0m9 -5h0m6 5h0m-382 8h0m8 -1h0m2 0h0m10 2h0m14 -2h0m13 -1h0m14 0h0m1 -2h0m10 1h0m18 0h0m11 1h0m15 -4h0m1 6h0m41 -4h0m7 2h0m5 0h0m4 -2h0m33 0h0m4 1h0m14 3h0m2 1h0m13 -7h0m0 7h0m0 -5h0m65 0h0m26 -1h0m9 5h0m2 -6h0m2 7h0m7 -2h0m13 -4h0m12 6h0m5 -3h0m-378 6h0m0 2h0m5 3h0m1 -7h0m18 0h0m1 7h0m73 -3h0m1 -1h0m6 -2h0m3 -1h0m1 1h0m14 4h0m28 2h0m51 -1h0m14 -4h0m12 -2h0m94 7h0m11 1h0m18 -4h0m1 0h0m3 -3h0m9 0h0m-366 14h0m14 0h0m3 1h0m33 -5h0m29 2h0m16 -4h0m11 1h0m4 1h0m9 -1h0m3 4h0m6 0h0m29 -2h0m22 2h0m18 -2h0m2 4h0m113 -4h0m22 3h0m2 -1h0m3 -2h0m17 3h0m6 -4h0m14 4h0m19 -3h0m-413 7h0m18 0h0m1 2h0m12 0h0m18 -2h0m6 -2h0m1 4h0m17 -4h0m1 1h0m1 3h0m11 -5h0m5 4h0m4 -2h0m5 -2h0m5 7h0m8 -5h0m5 1h0m102 1h0m21 -1h0m6 -2h0m106 5h0m21 -4h0m18 0h0m6 4h0m-398 3h0m5 0h0m25 4h0m8 -3h0m1 3h0m22 2h0m7 -3h0m28 3h0m17 0h0m22 0h0m7 -2h0m12 -1h0m12 4h0m6 -1h0m8 -7h0m9 4h0m7 0h0m12 4h0m12 -2h0m112 -2h0m3 -1h0m16 3h0m29 -4h0m4 0h0m0 0h0m11 5h0m-373 6h0m16 -1h0m5 -3h0m17 4h0m9 -4h0m3 5h0m0 1h0m6 -4h0m5 1h0m7 1h0m32 1h0m7 -2h0m8 -2h0m16 1h0m40 -1h0m32 4h0m3 -5h0m10 -1h0m18 0h0m5 3h0m3 4h0m48 -2h0m3 -2h0m1 2h0m4 1h0m7 -5h0m6 5h0m7 -4h0m12 -1h0m1 5h0m9 -5h0m15 1h0m14 2h0m6 3h0m1 -3h0m-392 8h0m36 3h0m18 -6h0m1 3h0m21 4h0m43 -3h0m10 -1h0m6 3h0m2 -5h0m3 2h0m29 1h0m15 2h0m34 -1h0m7 -5h0m8 6h0m7 -3h0m17 -2h0m44 0h0m7 5h0m10 -1h0m7 1h0m5 -2h0m13 2h0m31 -2h0m1 -3h0m-380 13h0m17 -5h0m3 1h0m43 -3h0m2 5h0m15 -4h0m50 6h0m1 -1h0m2 -1h0m28 1h0m0 -1h0m26 -5h0m21 3h0m1 -2h0m3 4h0m0 0h0m37 -5h0m16 1h0m1 5h0m1 -6h0m71 4h0m32 -4h0m-372 12h0m5 3h0m24 -6h0m18 2h0m30 4h0m1 0h0m38 -1h0m0 -1h0m2 -1h0m1 -2h0m26 3h0m6 -5h0m4 4h0m1 2h0m8 -3h0m3 2h0m52 0h0m15 1h0m5 -6h0m7 4h0m5 -3h0m1 -1h0m3 5h0m1 3h0m5 -3h0m10 1h0m38 -1h0m7 2h0m2 1h0m4 -4h0m1 0h0m20 -1h0m1 3h0m1 -3h0m4 3h0m8 -4h0m1 1h0m7 5h0m4 -3h0m1 0h0m5 -3h0m8 2h0m-378 7h0m5 -1h0m12 -1h0m3 2h0m5 2h0m0 -4h0m8 2h0m0 4h0m17 -4h0m5 4h0m0 -4h0m45 -1h0m15 1h0m16 -2h0m3 5h0m72 -2h0m5 1h0m38 -1h0m3 -4h0m6 2h0m44 5h0m14 -1h0m-313 7h0m56 0h0m7 -4h0m4 5h0m5 -5h0m19 2h0m5 4h0m3 -2h0m17 0h0m12 1h0m3 -3h0m10 0h0m79 1h0m7 3h0m3 -4h0m5 5h0m2 -4h0m15 1h0m0 -1h0m5 -3h0m54 2h0m9 5h0m17 -6h0m3 5h0m-347 2h0m21 0h0m12 2h0m8 4h0m22 -7h0m2 5h0m3 1h0m1 -5h0m12 2h0m1 2h0m5 -2h0m4 -2h0m4 5h0m4 -1h0m7 -1h0m0 2h0m14 -3h0m102 2h0m7 -3h0m14 6h0m1 -7h0m3 0h0m18 1h0m9 3h0m42 -4h0m4 5h0m1 1h0m15 -4h0m3 0h0m2 0h0m0 -2h0m-332 10h0m1 4h0m4 -6h0m9 4h0m6 -5h0m1 7h0m13 -5h0m15 -2h0m76 5h0m67 3h0m36 -3h0m5 -1h0m23 -3h0m16 7h0m-248 4h0m3 3h0m3 -3h0m5 -2h0m1 5h0m4 -7h0m13 5h0m49 2h0m99 -2h0m2 0h0m32 -5h0m0 7h0m28 0h0m-235 6h0m17 1h0m7 -2h0m81 -2h0m59 5h0m49 -1h0m48 -2h0m2 0h0m16 -2h0m-272 10h0m6 -1h0m8 1h0m145 -3h0m9 3h0m29 -1h0m17 3h0m2 -5h0m48 6h0m-264 5h0m10 -3h0m9 0h0m88 2h0m0 0h0m58 3h0m42 0h0m4 -6h0m11 4h0m-111 4h0m6 2h0m104 3h0m-213 5h0m5 2h0m120 2h0m-124 4h0m64 2h0m36 1h0m8 -4h0m8 4h0m9 3h0m89 -6h0m-161 7h0m49 4h0m12 1h0m6 -6h0m-42 9h0m-9 15h0m35 3h0m10 -2h0m14 7h0m-6 3h0m7 17h0" stroke="#2a768e" stroke-width="4.6" stroke-linecap="round" fill="none"/>
<path d="M271 700h0m10 2h0m2 5h0m0 -1h0m1 1h0m-3 7h0m0 -4h0m8 -1h0m4 6h0m-32 7h0m17 -3h0m5 2h0m17 -4h0m-39 15h0m1 -6h0m27 -1h0m4 4h0m6 -5h0m5 3h0m82 2h0m3 -2h0m-106 8h0m7 4h0m6 -6h0m13 3h0m1 -2h0m1 5h0m89 -3h0m1 2h0m2 -2h0m-139 11h0m6 0h0m19 -2h0m2 -2h0m4 3h0m1 1h0m5 -7h0m8 4h0m-47 6h0m2 1h0m3 -2h0m12 5h0m32 -4h0m1 1h0m73 1h0m2 -1h0m2 3h0m-127 10h0m30 -4h0m7 4h0m3 -7h0m2 4h0m6 -4h0m62 7h0m7 -7h0m2 0h0m6 1h0m7 1h0m-131 8h0m14 2h0m8 -1h0m8 4h0m5 -7h0m2 6h0m27 -6h0m49 2h0m22 0h0m-120 13h0m6 -3h0m11 2h0m3 0h0m7 0h0m33 -7h0m13 5h0m23 -4h0m28 1h0m-129 7h0m6 6h0m21 -2h0m36 2h0m41 -7h0m4 5h0m-109 6h0m6 2h0m2 1h0m1 -3h0m4 3h0m15 -4h0m39 6h0m21 -2h0m6 0h0m13 -1h0m23 -3h0m-122 12h0m3 -1h0m24 -2h0m7 -2h0m6 2h0m13 -1h0m23 1h0m5 5h0m8 -4h0m11 2h0m17 -1h0m-104 7h0m2 0h0m11 2h0m29 -1h0m24 -1h0m2 3h0m-112 6h0m12 -3h0m71 -2h0m16 5h0m10 -2h0m29 -3h0m4 7h0m4 -7h0m-138 14h0m7 -2h0m6 1h0m52 -3h0m40 0h0m1 1h0m13 2h0m60 2h0m-244 1h0m20 3h0m43 4h0m1 0h0m13 -2h0m7 1h0m29 -1h0m44 -4h0m25 1h0m2 -1h0m77 2h0m-254 8h0m15 0h0m6 4h0m1 1h0m53 -5h0m1 3h0m33 -5h0m52 -1h0m58 7h0m2 0h0m57 1h0m-281 5h0m8 -4h0m67 1h0m8 -1h0m96 4h0m24 1h0m8 0h0m1 -1h0m43 -2h0m27 -2h0m4 0h0m-305 13h0m11 -6h0m17 2h0m25 1h0m3 0h0m21 5h0m4 -6h0m18 1h0m0 -3h0m56 5h0m20 0h0m48 0h0m16 0h0m13 -5h0m11 7h0m-254 7h0m9 -4h0m38 6h0m34 -2h0m41 -3h0m21 1h0m4 3h0m5 1h0m20 -1h0m9 -6h0m54 0h0m9 7h0m-242 5h0m3 -2h0m7 2h0m9 -3h0m5 -2h0m16 8h0m45 -2h0m7 -5h0m31 0h0m38 1h0m23 0h0m4 1h0m36 -2h0m14 6h0m8 -2h0m119 -4h0m5 4h0m10 0h0m-400 10h0m79 -6h0m15 3h0m15 -1h0m8 -2h0m1 5h0m19 1h0m40 0h0m38 -1h0m2 -4h0m41 5h0m89 0h0m44 -1h0m-391 5h0m1 4h0m9 0h0m10 -1h0m11 -3h0m10 -1h0m23 1h0m2 2h0m2 1h0m28 -3h0m84 0h0m4 -3h0m16 7h0m10 -4h0m7 3h0m7 -3h0m11 -2h0m106 3h0m62 -1h0m3 3h0m-360 2h0m0 1h0m15 2h0m15 5h0m1 -4h0m2 -2h0m12 6h0m3 -4h0m6 -3h0m23 0h0m11 2h0m27 2h0m15 -3h0m46 0h0m13 2h0m0 -1h0m3 -1h0m7 5h0m97 0h0m3 -3h0m15 3h0m33 -6h0m7 -1h0m1 3h0m-395 11h0m16 -1h0m9 0h0m2 -2h0m15 0h0m3 -3h0m0 2h0m2 4h0m53 2h0m11 -7h0m57 2h0m14 -1h0m10 -1h0m8 2h0m16 -2h0m3 -1h0m6 2h0m17 -2h0m88 4h0m40 3h0m3 -1h0m25 -2h0m-400 9h0m16 -2h0m18 4h0m26 0h0m14 -1h0m12 0h0m13 -2h0m24 -3h0m7 0h0m11 3h0m89 3h0m4 1h0m12 -3h0m90 -3h0m1 3h0m1 -3h0m17 5h0m19 1h0m-356 8h0m17 -2h0m6 -1h0m1 2h0m42 0h0m71 -5h0m12 3h0m3 3h0m15 -7h0m26 4h0m7 1h0m22 -1h0m85 0h0m11 0h0m1 3h0m14 -4h0m23 4h0m26 -7h0m-382 11h0m26 0h0m17 -1h0m8 5h0m21 -2h0m1 0h0m12 -5h0m7 4h0m32 0h0m28 2h0m4 -2h0m4 -2h0m4 4h0m10 -1h0m8 -2h0m7 0h0m5 -1h0m26 4h0m14 -6h0m81 6h0m1 -6h0m24 3h0m3 -4h0m8 6h0m9 -4h0m-376 8h0m8 5h0m5 -6h0m11 2h0m28 3h0m1 0h0m44 -4h0m4 1h0m19 2h0m6 -5h0m30 4h0m34 -1h0m8 2h0m3 -2h0m12 2h0m5 1h0m4 -2h0m119 2h0m-352 9h0m11 -6h0m28 2h0m2 2h0m46 0h0m30 -1h0m16 1h0m73 2h0m54 -7h0m3 5h0m86 -1h0m7 -4h0m27 6h0m-381 5h0m100 2h0m21 -3h0m11 2h0m76 -1h0m5 1h0m5 -4h0m8 2h0m23 4h0m14 -5h0m5 0h0m46 0h0m33 5h0m4 -4h0m8 3h0m8 -1h0m-353 5h0m11 3h0m12 -2h0m5 3h0m13 -2h0m21 3h0m24 -2h0m14 1h0m4 2h0m6 -3h0m7 1h0m35 -5h0m54 1h0m0 2h0m20 5h0m1 -6h0m74 3h0m1 0h0m5 2h0m20 -3h0m25 0h0m-359 8h0m19 -1h0m6 -3h0m7 0h0m8 2h0m4 2h0m5 2h0m18 -4h0m21 -1h0m0 7h0m11 -8h0m41 5h0m69 -4h0m17 0h0m3 4h0m8 3h0m22 -7h0m45 3h0m4 0h0m-278 10h0m12 -5h0m21 3h0m1 -1h0m143 -3h0m1 1h0m20 4h0m2 -2h0m7 3h0m10 -6h0m4 4h0m6 1h0m7 -2h0m2 4h0m4 1h0m11 -5h0m11 5h0m-270 8h0m26 -7h0m12 6h0m53 0h0m11 -3h0m3 -3h0m2 4h0m77 2h0m32 -7h0m26 2h0m-264 14h0m12 -4h0m1 0h0m13 -1h0m5 5h0m1 -7h0m23 0h0m2 6h0m4 -3h0m185 -1h0m-209 9h0m10 0h0m152 -3h0m3 7h0m26 -3h0m18 -4h0m11 0h0m-233 15h0m3 -2h0m3 -3h0m211 1h0m5 -4h0m-209 11h0m12 2h0m1 2h0m10 -6h0m182 -1h0m-205 12h0m9 3h0m91 -2h0m16 -2h0m-107 9h0m2 1h0m11 1h0m98 7h0m4 10h0m3 17h0m10 6h0m-5 8h0m-4 5h0m-61 6h0m61 8h0" stroke="#26818e" stroke-width="4.6" stroke-linecap="round" fill="none"/>
<path d="M273 699h0m10 9h0m-12 1h0m2 0h0m2 4h0m1 -1h0m7 0h0m1 2h0m-9 7h0m9 0h0m12 0h0m3 -1h0m-41 10h0m16 -5h0m26 1h0m0 1h0m3 -1h0m89 5h0m-129 4h0m4 -2h0m15 6h0m16 0h0m1 -4h0m11 -2h0m0 6h0m85 -6h0m9 6h0m-149 3h0m8 -1h0m11 2h0m5 2h0m23 2h0m3 -1h0m75 1h0m-91 8h0m7 0h0m84 0h0m18 -3h0m-137 7h0m6 4h0m2 1h0m1 -1h0m27 -6h0m-7 12h0m3 -1h0m2 -1h0m-25 8h0m32 3h0m7 1h0m33 -5h0m5 4h0m34 -2h0m2 1h0m-106 4h0m7 2h0m4 -1h0m15 4h0m7 -1h0m13 1h0m8 -3h0m2 1h0m7 0h0m40 1h0m2 1h0m3 -2h0m4 4h0m1 -8h0m4 7h0m-109 8h0m1 -5h0m10 5h0m7 -2h0m12 2h0m8 -6h0m28 6h0m5 -1h0m40 -1h0m-111 4h0m7 4h0m2 -4h0m39 6h0m39 -7h0m0 7h0m1 -4h0m20 0h0m-98 6h0m31 3h0m3 -4h0m3 3h0m29 4h0m37 -5h0m-104 12h0m19 0h0m24 2h0m6 -4h0m-93 11h0m81 -3h0m9 -4h0m40 2h0m8 -1h0m-204 14h0m57 -1h0m31 -2h0m23 1h0m49 -5h0m9 3h0m75 3h0m6 -3h0m16 -2h0m3 2h0m-268 11h0m37 -2h0m37 0h0m54 2h0m18 0h0m68 -2h0m6 2h0m79 -1h0m-271 4h0m12 0h0m48 7h0m83 -4h0m56 1h0m-224 8h0m7 -2h0m53 3h0m53 -3h0m18 5h0m9 -3h0m27 -4h0m29 2h0m47 -2h0m-194 7h0m24 2h0m42 1h0m19 2h0m22 -4h0m4 0h0m56 3h0m12 1h0m-169 11h0m14 -2h0m5 -4h0m20 -1h0m137 7h0m55 -1h0m57 -6h0m13 3h0m-364 9h0m22 2h0m34 -4h0m45 4h0m34 -2h0m14 0h0m17 -3h0m10 1h0m4 3h0m36 -3h0m16 4h0m57 -4h0m50 -2h0m16 4h0m3 -5h0m-356 8h0m49 5h0m37 2h0m30 -4h0m35 -1h0m28 4h0m17 -2h0m18 2h0m147 -3h0m12 -1h0m12 2h0m-382 11h0m30 -1h0m3 1h0m59 -1h0m94 -4h0m26 -1h0m5 5h0m0 -4h0m114 5h0m-336 4h0m39 -1h0m18 1h0m18 -2h0m25 7h0m69 -4h0m55 4h0m14 -2h0m82 -5h0m9 4h0m42 1h0m-380 7h0m12 -4h0m7 3h0m13 -2h0m33 0h0m68 3h0m31 2h0m30 -3h0m30 -2h0m108 -2h0m53 2h0m-348 8h0m13 4h0m35 -3h0m147 2h0m6 1h0m9 -5h0m74 -1h0m36 1h0m-357 11h0m18 2h0m96 -1h0m19 -3h0m4 2h0m38 3h0m14 0h0m8 -3h0m46 1h0m2 0h0m5 -1h0m53 -1h0m21 3h0m23 -2h0m-360 4h0m43 6h0m29 -5h0m54 7h0m0 0h0m5 -4h0m32 -3h0m1 3h0m9 -4h0m26 6h0m3 -4h0m52 4h0m77 -2h0m17 0h0m12 -1h0m36 -2h0m-385 11h0m56 2h0m0 -3h0m58 -2h0m25 6h0m4 -1h0m82 -5h0m0 7h0m9 -4h0m28 0h0m53 2h0m13 -4h0m5 -2h0m0 6h0m8 -3h0m2 2h0m-325 3h0m30 1h0m22 5h0m77 -5h0m41 7h0m3 -4h0m33 -3h0m11 0h0m13 0h0m-249 8h0m73 1h0m13 4h0m4 -5h0m17 2h0m13 5h0m14 -3h0m8 0h0m11 -2h0m45 -1h0m21 2h0m33 3h0m63 -3h0m5 -3h0m-319 12h0m15 0h0m1 -4h0m15 1h0m41 2h0m44 -1h0m14 3h0m9 -5h0m49 4h0m14 -4h0m18 2h0m4 4h0m2 -1h0m6 0h0m28 -1h0m67 3h0m7 -7h0m-318 9h0m16 5h0m7 -5h0m9 1h0m51 2h0m24 -5h0m78 1h0m6 6h0m11 -1h0m14 2h0m105 -5h0m-297 10h0m45 -5h0m22 0h0m12 8h0m3 -7h0m3 6h0m3 -4h0m92 2h0m28 1h0m1 -2h0m19 1h0m-273 6h0m18 1h0m24 -1h0m71 2h0m1 0h0m84 0h0m3 0h0m32 -3h0m23 1h0m-186 10h0m131 3h0m5 -4h0m13 2h0m8 -3h0m33 1h0m-140 11h0m84 -3h0m43 -2h0m10 3h0m-211 6h0m85 5h0m3 -7h0m64 -1h0m55 5h0m-211 11h0m6 -7h0m158 1h0m55 4h0m-216 4h0m6 5h0m18 0h0m83 -2h0m-95 11h0m5 -6h0m108 0h0m-26 9h0m2 4h0m23 -3h0m1 15h0m-16 12h0m10 -6h0" stroke="#228b8d" stroke-width="4.6" stroke-linecap="round" fill="none"/>
<path d="M267 714h0m26 2h0m-14 5h0m19 -3h0m8 1h0m-48 7h0m53 4h0m87 -5h0m-112 10h0m10 1h0m6 1h0m10 -5h0m0 8h0m-15 7h0m-36 8h0m37 1h0m5 -8h0m78 5h0m-115 11h0m10 -5h0m8 -2h0m-17 14h0m26 -3h0m7 2h0m2 1h0m3 -5h0m34 -1h0m13 0h0m-73 15h0m11 -1h0m13 -4h0m24 5h0m68 -7h0m7 4h0m-123 6h0m4 5h0m53 -7h0m0 2h0m-49 13h0m97 -5h0m-103 7h0m14 4h0m80 1h0m-63 6h0m3 -2h0m73 5h0m-47 5h0m-136 10h0m97 -6h0m31 2h0m-149 11h0m85 1h0m154 0h0m2 -1h0m16 1h0m43 0h0m-268 5h0m60 0h0m19 -2h0m28 2h0m10 3h0m16 -4h0m98 -3h0m38 3h0m4 2h0m-286 6h0m122 -1h0m16 1h0m21 -2h0m64 2h0m54 0h0m1 -3h0m1 2h0m-269 11h0m95 1h0m25 -5h0m3 2h0m14 0h0m50 2h0m12 2h0m32 -6h0m-210 11h0m15 -1h0m5 -1h0m-73 9h0m84 -3h0m2 2h0m88 0h0m200 3h0m-345 10h0m30 -4h0m133 3h0m23 -1h0m1 1h0m4 -1h0m81 0h0m45 -4h0m-324 14h0m16 -3h0m76 2h0m113 -4h0m105 1h0m57 -1h0m-358 8h0m78 3h0m58 0h0m152 1h0m64 -2h0m-388 11h0m17 0h0m58 -1h0m25 -5h0m144 6h0m-254 3h0m43 0h0m107 5h0m37 -7h0m6 6h0m48 -6h0m-214 13h0m169 0h0m11 2h0m-146 8h0m23 -1h0m55 0h0m73 -5h0m-170 8h0m20 7h0m16 -4h0m74 4h0m42 -1h0m6 -2h0m65 1h0m93 1h0m-226 5h0m127 -1h0m9 -1h0m49 0h0m23 2h0m7 2h0m3 -2h0m-322 7h0m72 3h0m117 -2h0m8 -1h0m25 -1h0m80 1h0m12 3h0m7 1h0m11 -5h0m-342 8h0m17 4h0m195 -3h0m4 0h0m106 -3h0m21 5h0m-278 9h0m40 -5h0m84 0h0m2 4h0m-202 11h0m84 -1h0m125 -3h0m28 3h0m12 -3h0m16 -1h0m1 4h0m-261 3h0m13 1h0m13 1h0m213 3h0m-112 5h0m86 3h0m19 -1h0m6 -4h0m17 -1h0m-3 11h0m-132 10h0m67 -5h0m2 11h0m65 2h0m-207 9h0m10 -1h0m65 -3h0m-82 5h0m6 7h0" stroke="#1f958b" stroke-width="4.6" stroke-linecap="round" fill="none"/>
<path d="M286 703h0m8 8h0m8 12h0m1 -3h0m-8 6h0m6 5h0m4 -4h0m2 0h0m1 -2h0m-49 10h0m18 12h0m2 0h0m3 2h0m11 6h0m10 -2h0m0 0h0m-30 4h0m14 5h0m9 9h0m7 -4h0m-13 9h0m47 -1h0m48 1h0m-115 10h0m81 0h0m-41 2h0m14 1h0m8 5h0m46 -3h0m4 7h0m-64 7h0m8 1h0m21 1h0m1 3h0m29 2h0m22 20h0m88 3h0m-134 2h0m125 6h0m-245 9h0m114 -2h0m78 2h0m-171 2h0m38 -2h0m21 3h0m68 2h0m58 -2h0m51 -2h0m-15 10h0m-281 8h0m181 0h0m17 2h0m-175 6h0m13 3h0m32 1h0m51 -5h0m60 -1h0m-171 9h0m56 5h0m38 0h0m39 -2h0m-69 4h0m64 1h0m31 0h0m-163 10h0m136 -1h0m1 -2h0m-172 10h0m21 0h0m180 -1h0m4 0h0m19 2h0m36 3h0m-88 1h0m-84 12h0m-75 12h0m119 -1h0m101 -2h0m33 3h0m-236 5h0m84 -2h0m8 -2h0m210 6h0m-334 8h0m159 0h0m71 -5h0m114 1h0m1 4h0m6 0h0m-273 6h0m-28 11h0m58 -3h0m-23 10h0m1 -5h0m167 -1h0m-218 14h0m23 0h0m156 -4h0m64 -2h0m-62 17h0m28 5h0m1 1h0m-26 1h0m-47 95h0" stroke="#1fa088" stroke-width="4.6" stroke-linecap="round" fill="none"/>
<path d="M328 717h0m-66 9h0m50 -2h0m-15 9h0m10 3h0m-28 12h0m14 13h0m0 10h0m49 9h0m19 -3h0m-58 8h0m33 -2h0m-41 9h0m90 -3h0m-32 33h0m79 10h0m-23 7h0m-90 10h0m15 -1h0m11 -3h0m29 4h0m54 6h0m-2 10h0m-82 4h0m42 1h0m166 -1h0m-239 9h0m60 13h0m-141 4h0m89 7h0m17 4h0m16 -5h0m44 3h0m-78 11h0m-155 1h0m247 3h0m-194 9h0m2 3h0m179 8h0m20 0h0m51 0h0m-265 1h0m164 2h0m23 -2h0m108 8h0m5 -1h0m10 -5h0m-338 14h0m30 -3h0m212 8h0m94 -4h0m-110 9h0m-11 16h0m14 -1h0m-30 32h0m-66 28h0" stroke="#24aa83" stroke-width="4.6" stroke-linecap="round" fill="none"/>
<path d="M337 706h0m-62 3h0m36 14h0m5 0h0m-26 9h0m4 3h0m7 -2h0m-1 10h0m5 -2h0m-12 8h0m3 9h0m-15 7h0m15 15h0m-2 8h0m194 48h0m-150 27h0m45 -3h0m5 22h0m-45 24h0m54 -4h0m-54 10h0m-7 11h0m38 18h0m25 53h0m-162 43h0m87 20h0" stroke="#2fb47c" stroke-width="4.6" stroke-linecap="round" fill="none"/>
<path d="M336 706h0m0 1h0m2 -1h0m0 0h0m2 0h0m-22 18h0m2 -4h0m0 4h0m2 -7h0m3 0h0m1 1h0m23 5h0m-31 1h0m20 7h0m-34 24h0m5 72h0m32 10h0m-50 74h0m81 37h0m-180 7h0m97 1h0m126 -4h0m81 -1h0" stroke="#42be71" stroke-width="4.6" stroke-linecap="round" fill="none"/>
<path d="M329 714h0m6 -5h0m2 -1h0m15 3h0m-31 11h0m2 -4h0m12 5h0m-17 3h0m17 1h0m1 6h0m-4 52h0m32 181h0" stroke="#58c765" stroke-width="4.6" stroke-linecap="round" fill="none"/>
<path d="M324 715h0m7 -1h0m18 0h0m2 0h0m-28 4h0m6 2h0m18 1h0m4 1h0m-21 5h0m4 3h0m2 0h0m15 -3h0m-8 16h0m0 2h0m2 -3h0m0 2h0m0 -2h0m-48 94h0m220 106h0" stroke="#70cf57" stroke-width="4.6" stroke-linecap="round" fill="none"/>
<path d="M352 681h0m3 -4h0m-2 13h0m-2 12h0m-16 11h0m13 -1h0m1 -2h0m0 2h0m-29 11h0m11 -1h0m7 16h0m6 -1h0m4 1h0m0 -2h0m1 0h0m-3 4h0" stroke="#8bd646" stroke-width="4.6" stroke-linecap="round" fill="none"/>
<path d="M338 663h0m3 -2h0m1 5h0m2 -6h0m4 2h0m-11 12h0m3 2h0m11 -5h0m2 2h0m-14 14h0m2 4h0m18 -1h0m-8 10h0m2 -3h0m0 0h0m1 0h0m-19 5h0m6 1h0m10 3h0m1 -5h0m1 4h0m-2 5h0m1 1h0" stroke="#a8db34" stroke-width="4.6" stroke-linecap="round" fill="none"/>
<path d="M340 664h0m1 4h0m1 -4h0m6 -4h0m1 5h0m0 3h0m3 -1h0m0 6h0m0 1h0m0 -3h0m-13 8h0m1 -2h0m0 4h0m0 -5h0m11 7h0m3 -2h0m0 -2h0m-15 11h0m1 -6h0m-2 10h0m1 4h0m0 -1h0m1 -3h0m2 0h0m11 4h0m-15 2h0" stroke="#c5e021" stroke-width="4.6" stroke-linecap="round" fill="none"/>
<path d="M340 666h0m2 -1h0m5 -3h0m0 -1h0m-9 7h0m1 6h0m12 -4h0m2 -1h0m-19 11h0m5 4h0m0 -8h0m1 3h0m4 4h0m9 -2h0m0 -2h0m2 4h0m-18 7h0m0 -3h0m16 -1h0m-16 8h0m18 4h0m-17 5h0" stroke="#e2e418" stroke-width="4.6" stroke-linecap="round" fill="none"/>
<path d="M349 665h0m-9 8h0m2 0h0m8 2h0m-9 17h0" stroke="#fde725" stroke-width="4.6" stroke-linecap="round" fill="none"/>
<path d="M1392 1271h0m315.5 20h0m6.5 6.5h0m59.5 26.5h0m-381.5 39.5h0m-885.5 0.5h0m321.5 6.5h0m663 13h0m-1044 20h0m-33 19.5h0m399.5 242h0m704 238h0m-13 6.5h0m13 0h0m-6.5 19.5h0m-388 1h0m262.5 6h0m-289 0.5h0m6.5 0h0m263 6h0m39.5 0h0m362 0.5h0m-13 13h0m72.5 0h0m19.5 0h0m-1019 0.5h0m249 0h0m388.5 5.5h0m309 1h0m-1032.5 0h0m335 0h0m26.5 0h0m13.5 0h0m39.5 0h0m539 6.5h0m92.5 0h0m-671 0h0m697 6.5h0m-664 0.5h0m565 6h0m-624.5 0.5h0m6.5 0h0m671 13h0m-1019.5 0h0m112.5 0h0m183 0h0m329 6h0m395 0.5h0m-704 0h0m59.5 0h0m26.5 0h0m223 6h0m6.5 0h0m-558 1h0m308.5 0h0m269.5 5.5h0m322.5 7h0m-999.5 0.5h0m315 0h0m6.5 0h0m7 0h0m355 5.5h0m13 0h0m-1242 1h0m867 0h0m106 0h0m-434.5 13.5h0m315.5 0h0m66 0h0m92.5 0h0m6.5 0h0m-138.5 6.5h0m39.5 0h0m33 0h0m664.5 13h0m-1591 0h0m920 0h0m79 0h0m-427.5 6.5h0m282.5 0h0m441 6h0m322.5 0.5h0m-691 7h0m20 0h0m-46.5 6.5h0m-33 6.5h0m59.5 0h0m-315.5 6.5h0m33 0h0m-46 7h0m-578 89.5h0m1242 19.5h0m-1328 7h0m361.5 0.5h0m1006 5.5h0m349.5 0.5h0m-1710.5 0h0m1321.5 6h0m6.5 0h0m263.5 0.5h0m-237 6.5h0m26.5 6.5h0m203.5 0h0m106 0h0m-1637.5 0.5h0m1558 6.5h0m-1223 0.5h0m907 5.5h0m86 0h0m-105.5 6.5h0m79 0h0m-1380.5 1h0m66 0h0m1314.5 6h0m13.5 0h0m-53 6.5h0m6.5 0h0m66 0h0m-1394 0.5h0m13.5 0h0m1683.5 6.5h0m-1743 0h0m46 0h0m53 0h0m269 0.5h0m1026 5.5h0m6.5 0h0m236.5 0.5h0m112.5 0h0m-1789 0h0m85.5 0h0m86 0h0m1308 6h0m-993 1h0m834.5 6h0m53 0h0m26.5 0h0m46 0h0m323 0h0m-1375.5 0.5h0m927 6h0m119 0h0m6.5 0h0m230 0h0m20 0h0m39.5 0h0m26.5 0h0m33 0h0m-1670.5 0.5h0m262.5 0h0m913.5 6h0m139 0h0m243.5 0.5h0m39.5 0h0m-1315.5 0.5h0m960 5.5h0m46 0h0m53 0h0m6.5 0h0m250 0.5h0m33 0h0m-1591 0h0m1275 6h0m20 0h0m13 0h0m270 0.5h0m-1578 0.5h0m1202.5 6h0m39.5 0h0m39.5 0h0m13.5 0h0m230 0h0m39.5 0h0m13.5 0h0m-336 6.5h0m322.5 0h0m40 0h0m-409 6.5h0m13.5 0h0m105.5 0h0m-1361 0.5h0m388 0.5h0m861 5.5h0m112 0h0m217 0.5h0m20 0h0m86 6.5h0m-395.5 6.5h0m316 0h0m39.5 0h0m-395 6.5h0m52.5 0h0m-1288 0.5h0m1591 6.5h0m-1650.5 0h0m13 0h0" stroke="#000080" stroke-width="5.8" stroke-linecap="round" fill="none"/>
<path d="M1464.5 1324h0m295.5 19.5h0m-381.5 0.5h0m-26 13h0m39.5 20h0m-958 6.5h0m912 26.5h0m-886 6.5h0m1011 182h0m302.5 66h0m13 13h0m-362 59.5h0m422 166.5h0m-66 26.5h0m7 0h0m-349 6h0m39.5 0h0m-19.5 6.5h0m39.5 0h0m19.5 0h0m230 0.5h0m40 0h0m-704 0.5h0m276 5.5h0m79 0h0m362 0.5h0m-441 6h0m-276 1h0m631 6.5h0m7 0h0m26 0h0m-933.5 0h0m585 6h0m52.5 0h0m-295.5 0.5h0m223 6h0m6.5 0h0m73 0h0m13 6.5h0m236.5 7h0m26.5 0h0m-559 0.5h0m256.5 5.5h0m329 1h0m-375.5 6h0m329 0.5h0m-887 0h0m-670.5 6.5h0m1032 0.5h0m203.5 5.5h0m33 0h0m315.5 0.5h0m-598.5 0.5h0m-269 6.5h0m229.5 0h0m309 5.5h0m322.5 1h0m-1012.5 0h0m132 0h0m321.5 0h0m223.5 6h0m-203.5 0.5h0m249.5 6h0m-243 1h0m203.5 5.5h0m-598 1h0m26.5 0h0m348.5 0h0m223 5.5h0m368.5 0.5h0m-966.5 0.5h0m381.5 0h0m552 6.5h0m66 0h0m13.5 0h0m-1039.5 0h0m381.5 0h0m20 0h0m276 6h0m-637.5 0.5h0m242.5 0h0m46 0h0m-577.5 0.5h0m1255.5 6h0m-1032.5 0.5h0m-638 6.5h0m1039 0h0m-335 19.5h0m-651 90h0m39.5 0h0m-79 6.5h0m-20 7h0m-46 6.5h0m79 0h0m1308.5 6h0m6.5 0h0m329 0h0m-1644 0.5h0m59.5 0h0m1611 6.5h0m-322.5 6h0m283 0.5h0m6.5 0h0m-1703.5 0h0m53 0h0m1631 6.5h0m6.5 0h0m66 0h0m13 0h0m-421.5 6.5h0m6.5 0h0m13 0h0m20 0h0m66 0h0m276.5 0h0m-1611 0.5h0m289 0h0m959.5 6h0m-1235.5 0.5h0m355 0h0m834.5 6h0m33 0h0m99 0h0m210.5 0.5h0m-1650.5 0h0m33 0h0m1281.5 6h0m46.5 0h0m59.5 6.5h0m223.5 0.5h0m26.5 0h0m-1664 0.5h0m92.5 0h0m26.5 0h0m1255 6h0m250 0h0m-1591 0.5h0m53 0h0m13 0h0m249 0h0m986.5 6h0m289.5 0h0m-342.5 6.5h0m86 0h0m13.5 0h0m-940.5 1h0m828 5.5h0m132 0h0m336 0.5h0m-1395 0.5h0m1335.5 6h0m-1611 0.5h0m59.5 0h0m1262 6h0m39.5 0h0m210.5 0h0m-1545 0.5h0m1644 6h0m6.5 0h0m-1624 0.5h0m1215.5 6h0m46.5 0h0m19.5 0h0m342.5 0.5h0m-1637.5 0h0m1255.5 6h0m72.5 0h0m-1065.5 1h0m1013 5.5h0m329 0.5h0m-415 6.5h0m46 0h0m13.5 0h0m322.5 0h0m-1604.5 0.5h0m6.5 0h0m328.5 6.5h0m914 6h0m395 0.5h0m-355.5 6h0m296 0.5h0m-1564.5 0h0m1604.5 6.5h0m19.5 0h0m-1683.5 0.5h0m381 0h0m1322.5 6h0m-322.5 6.5h0m-1302 0.5h0m1295 6h0m296.5 0.5h0m26.5 0h0" stroke="#00009b" stroke-width="5.8" stroke-linecap="round" fill="none"/>
<path d="M1425 1278h0m-6.5 13h0m-86 6.5h0m381.5 6.5h0m-1293.5 13.5h0m991 6.5h0m-603.5 20h0m636.5 19.5h0m53 6.5h0m0 20h0m-1116.5 0h0m1063.5 6.5h0m-112 6.5h0m-786.5 0.5h0m-112 6.5h0m6.5 6.5h0m984.5 13h0m263 156h0m-966 26.5h0m1025 46h0m86 26h0m-46.5 7h0m-940 20h0m631 6h0m-755.5 0.5h0m1085 212.5h0m-1683 0h0m13 0h0m670.5 0h0m611 6h0m53 0h0m20 0h0m-697 0.5h0m584.5 6h0m46.5 0h0m6.5 0h0m-644 1h0m6.5 0h0m697 5.5h0m-395 1h0m20 0h0m342 5.5h0m72.5 0h0m276 0.5h0m-1012.5 0.5h0m275.5 0h0m428 5.5h0m269.5 1h0m-671 0h0m309 6h0m59.5 0h0m13 0h0m33 0h0m190.5 0.5h0m66 0h0m-256.5 6h0m283 0.5h0m-664.5 0.5h0m249.5 5.5h0m79.5 0h0m-624.5 1h0m867.5 6h0m-1531.5 0.5h0m631 0h0m26.5 0h0m19.5 0h0m-46 6.5h0m381.5 0h0m6.5 0h0m552 6.5h0m-1026 0h0m99 0h0m59.5 0h0m295.5 0h0m230 6h0m13 0h0m13.5 0h0m296 0.5h0m-900.5 7h0m295.5 0h0m-999.5 6.5h0m959.5 0h0m-249 6.5h0m203 0h0m125.5 0h0m289 6h0m309.5 0.5h0m-973.5 0h0m361.5 0h0m-1058.5 6.5h0m953 0.5h0m13.5 0h0m112 0h0m-434 6.5h0m322 0h0m19.5 0h0m13.5 0h0m361.5 5.5h0m309.5 0.5h0m13 0h0m-651 0.5h0m13 0h0m46 0h0m20 0h0m6.5 0h0m216.5 5.5h0m59.5 0h0m-939.5 1h0m986 6h0m243 0.5h0m-960 0h0m664 6h0m-697 1h0m59.5 0h0m242.5 0h0m20 0h0m33 0h0m-355 6.5h0m105.5 0h0m7 0h0m229.5 0h0m6.5 6.5h0m-979.5 103h0m13.5 6.5h0m1650.5 13h0m-329 6.5h0m375.5 0h0m-1743.5 0.5h0m1407.5 6h0m276.5 0.5h0m-1276 0.5h0m946.5 5.5h0m276.5 0.5h0m13 0h0m73 0h0m-1730 0h0m1328 6h0m26.5 0h0m6.5 0h0m46 0h0m296.5 0.5h0m-1578 0.5h0m183 0h0m46.5 0h0m1006 6h0m362.5 0h0m19.5 0h0m-1302.5 0.5h0m894 6h0m20 0h0m26.5 0h0m19.5 0h0m33 0h0m204 0h0m13 0h0m-1637.5 0.5h0m1414 6h0m210.5 0.5h0m99 0h0m6.5 0h0m-1730 0h0m1348 6h0m72.5 0h0m177.5 0.5h0m33 0h0m20 0h0m-1624.5 0h0m26.5 0h0m26.5 0h0m19.5 0h0m322 0.5h0m867.5 5.5h0m6.5 0h0m435 0.5h0m-1697 0.5h0m1268.5 6h0m26.5 0h0m26.5 0h0m66 0h0m184 0h0m-1216.5 0.5h0m880.5 6h0m33 0h0m92.5 0h0m230.5 0h0m112 0h0m-1736.5 0.5h0m86 0h0m545.5 0h0m-336 0h0m986.5 6h0m26.5 0h0m19.5 0h0m20 0h0m33 0h0m26.5 0h0m-53 6.5h0m6.5 0h0m33 0h0m13.5 0h0m6.5 0h0m322.5 0.5h0m-1776 0h0m20 0h0m112 0h0m203 0.5h0m986.5 5.5h0m19.5 0h0m66.5 0h0m249.5 0.5h0m20 0h0m33 0h0m20 0h0m-1664 0.5h0m394.5 0h0m861 6h0m26.5 0h0m26 0h0m283 0h0m-1604 0.5h0m33 0h0m6.5 0h0m322 0h0m880.5 6h0m20 0h0m6.5 0h0m13 0h0m53 0h0m46 0h0m20 0h0m230 0h0m-1597.5 0.5h0m39.5 0h0m315 0h0m867.5 6h0m7 0h0m39.5 0h0m19.5 0h0m26.5 0h0m13.5 0h0m336 0.5h0m-1677.5 0h0m79.5 0h0m1202.5 6h0m26.5 0h0m19.5 0h0m20 0h0m6.5 0h0m243.5 0.5h0m72.5 0h0m-435 6h0m106 0h0m283 0.5h0m66 0h0m-1690.5 0.5h0m1282 6h0m19.5 0h0m33.5 0h0m6.5 0h0m269.5 0h0m33 0h0m-1604 0.5h0m13 0h0m249 0h0m986.5 6h0m33 0h0m26.5 0h0m13 0h0m13.5 0h0m236.5 0h0m46.5 0h0m13 0h0m-1657 0.5h0m1275 6h0m6.5 0h0m6.5 0h0m13.5 0h0m46 0h0m336 0.5h0m-1631 0h0m328.5 0.5h0m914 5.5h0m26.5 0h0m26 0h0m7 0h0m13 0h0m283 0.5h0m33 0h0m-1408 0.5h0m986.5 5.5h0m19.5 0h0m20 0h0m13 0h0m40 7h0m276 0h0m-1624 0.5h0m341.5 0h0m927 6h0m6.5 0h0m20 0h0m39.5 0h0m276.5 0h0m-1624 0.5h0m1314.5 6h0m26.5 0h0m329.5 0.5h0m-1670.5 0h0m19.5 0h0" stroke="#0000bb" stroke-width="5.8" stroke-linecap="round" fill="none"/>
<path d="M1418.5 1271h0m-7 7h0m-46 13h0m26.5 0h0m440.5 6.5h0m-447 0h0m381.5 46h0m-289.5 0.5h0m302.5 13h0m-447.5 0h0m500 13h0m-374.5 0h0m33 0h0m-138.5 13.5h0m500 6h0m-506.5 0.5h0m72.5 0h0m368 13h0m-1319.5 0.5h0m971 6.5h0m39.5 0h0m-1076.5 0h0m1030.5 6.5h0m-997.5 0h0m288.5 7h0m138.5 0h0m504.5 6h0m46 0h0m-722 33.5h0m675.5 89h0m86 20h0m349 53h0m-316 33h0m283 0h0m-26.5 6.5h0m26.5 0h0m-349 19.5h0m322.5 7h0m-1018.5 0h0m999 6.5h0m-1019 0.5h0m1071.5 6h0m-39.5 6.5h0m26.5 0h0m6.5 6.5h0m13 6.5h0m-402 7h0m33 0h0m113.5 179h0m6.5 0h0m-1354.5 0.5h0m1288.5 6h0m348.5 0.5h0m40 0h0m-395 6h0m26 0h0m7 0h0m19.5 0h0m6.5 0h0m-388 1h0m-657 0h0m959.5 5.5h0m66 0h0m-697 1h0m328.5 0h0m263 6h0m66 0h0m39.5 0h0m13 0h0m20 0h0m-401.5 0.5h0m6.5 0h0m263 6h0m13 0h0m26.5 0h0m395 0.5h0m-717 0.5h0m13 0h0m296 5.5h0m92 0h0m250 0.5h0m59.5 0h0m19.5 0h0m-467.5 6h0m39.5 0h0m7 0h0m39.5 0h0m263 0.5h0m6.5 0h0m6.5 0h0m79.5 0h0m-704 0.5h0m6.5 0h0m269.5 5.5h0m125 0h0m190.5 1h0m92.5 0h0m-1690 0h0m690.5 0h0m269 0h0m20 0h0m276 6h0m59.5 0h0m13 0h0m53 0h0m39.5 0h0m243 0.5h0m26.5 0h0m-1367.5 0.5h0m1065 5.5h0m33 0h0m157.5 0.5h0m92 0h0m40 0h0m-1039.5 0.5h0m355 0h0m256.5 5.5h0m33 0h0m52.5 0h0m13.5 0h0m236.5 0.5h0m-349 6h0m6.5 0h0m7 0h0m329 0.5h0m-552.5 0.5h0m249.5 5.5h0m20 0h0m-381.5 1h0m99 0h0m243 6h0m6.5 0h0m296 0.5h0m-854.5 0h0m-381 0.5h0m919.5 5.5h0m20 0h0m-657.5 1h0m79.5 0h0m33 0h0m289 0h0m565 6h0m33 0h0m-1630.5 0.5h0m1006 0h0m6.5 0h0m33 0h0m-742.5 0h0m959 5.5h0m46.5 0h0m-631 1h0m26.5 0h0m59 0h0m183.5 0h0m59.5 0h0m6.5 0h0m59.5 0h0m13 0h0m190.5 5.5h0m335.5 1h0m39.5 0h0m-966.5 0h0m20 0h0m236 0h0m-262.5 6.5h0m33 0h0m6.5 0h0m13 0h0m7 0h0m236 0h0m13 0h0m6.5 0h0m59.5 0h0m263 6h0m19.5 0h0m66 0h0m223.5 0.5h0m-953 0.5h0m26 0h0m46.5 0h0m196.5 0h0m13 0h0m-630.5 0h0m986 5.5h0m-565 1h0m19.5 0h0m157 0h0m138.5 0h0m26.5 0h0m-112 6.5h0m79 0h0m592 6.5h0m39.5 0h0m-1676.5 0h0m604.5 0h0m467 0h0m-696.5 0h0m966 6h0m362 0.5h0m-1026 0h0m374.5 0h0m20 0h0m-394.5 7h0m388 0h0m-368 6.5h0m-408 0h0m427.5 6.5h0m276 0h0m-269.5 6.5h0m309 0h0m-335 13.5h0m269 0h0m-611.5 70h0m-315 6.5h0m33 0h0m308.5 0h0m-348 6.5h0m321.5 0.5h0m-401 6h0m0 7h0m441 0h0m979.5 6h0m329.5 0h0m6.5 0h0m-1763 0.5h0m6.5 0h0m33 0h0m46.5 0h0m1334.5 6h0m-1400.5 0.5h0m26.5 0h0m39.5 0h0m33 0h0m1308 6h0m323 0.5h0m19.5 0h0m6.5 0h0m-415 6h0m6.5 0h0m79.5 0h0m230 0.5h0m46.5 0h0m-1611 0h0m1235.5 6h0m13 0h0m79.5 0h0m230 0.5h0m79.5 0h0m-1743.5 0.5h0m13.5 0h0m6.5 0h0m105.5 0h0m13.5 0h0m196 0h0m1006.5 6h0m33 0h0m33 0h0m19.5 0h0m20 0h0m223.5 0h0m6.5 0h0m20 0h0m6.5 0h0m6.5 0h0m26.5 0h0m20 0h0m-1710 0.5h0m302 0h0m1012.5 6h0m283 0h0m-1289 0.5h0m59.5 0h0m900.5 6h0m13 0h0m6.5 0h0m40 0h0m26.5 0h0m6.5 0h0m230 0.5h0m-1644 0h0m59.5 0h0m328.5 0.5h0m927 5.5h0m13 0h0m455 0.5h0m-1756.5 0h0m6.5 0h0m6.5 0h0m7 0h0m52.5 0h0m256 0.5h0m6.5 0h0m66 0h0m913.5 5.5h0m33 0h0m20 0h0m66 0h0m190.5 0.5h0m132.5 0h0m-1783 0.5h0m39.5 0h0m26.5 0h0m591.5 0h0m657.5 6h0m6.5 0h0m26.5 0h0m289.5 0h0m46 0h0m-1545 0.5h0m7 0h0m222.5 0h0m33 0h0m933.5 6h0m39.5 0h0m66.5 0h0m13 0h0m217 0h0m92.5 0h0m20 0h0m-1796 0.5h0m46 0h0m26.5 0h0m13 0h0m13.5 0h0m6.5 0h0m59.5 0h0m242.5 0h0m907 6h0m26.5 0h0m6.5 0h0m20 0h0m26.5 0h0m59.5 0h0m13 0h0m6.5 0h0m210.5 0.5h0m20 0h0m92.5 0h0m-1743.5 0h0m112.5 0h0m295.5 0.5h0m854 5.5h0m6.5 0h0m20 0h0m20 0h0m26 0h0m13.5 0h0m20 0h0m33 0h0m223.5 0.5h0m19.5 0h0m-1604 0h0m6.5 0h0m354.5 0.5h0m854.5 5.5h0m132 0h0m256.5 0.5h0m33 0h0m20 0h0m39.5 0h0m-1703.5 0.5h0m33 0h0m26.5 0h0m13.5 0h0m1169.5 6h0m52.5 0h0m26.5 0h0m53 0h0m256.5 0h0m79.5 0h0m-1624.5 0.5h0m1169.5 6h0m13 0h0m13.5 0h0m46 0h0m323 0h0m-1651 0.5h0m59.5 0h0m1202.5 6h0m6.5 0h0m40 0h0m72.5 0h0m283 0.5h0m-1650.5 0h0m19.5 0h0m20 0h0m1169.5 6h0m33 0h0m6.5 0h0m33 0h0m6.5 0h0m59.5 0h0m230.5 0.5h0m52.5 0h0m59.5 0h0m-1637.5 0h0m276 0.5h0m900.5 5.5h0m19.5 0h0m6.5 0h0m46.5 0h0m39.5 0h0m33 0h0m230.5 0.5h0m-1309 0.5h0m33 0h0m920 6h0m66 0h0m46.5 0h0m6.5 0h0m309.5 0h0m6.5 0h0m-1697 0.5h0m13.5 0h0m1268.5 6h0m316 0h0m99 0h0m-441.5 6.5h0m66 0h0m13.5 0h0m6.5 0h0m13 0h0m20 0h0m6.5 0h0m250 0.5h0m20 0h0m-1618 0h0m276 0.5h0m112 0h0m927 5.5h0m296 0.5h0m7 0h0m-1644 0h0m6.5 0h0m348 0.5h0m20 0h0m6.5 0h0m894 5.5h0m59.5 0h0m6.5 0h0m20 0h0m13 0h0m250 0.5h0m6.5 0h0m6.5 0h0m-1315.5 0.5h0m940 6h0m86 0h0m342.5 0h0m-1703.5 0.5h0m1328 6h0m39.5 0h0m276.5 0h0m59.5 0h0m-1697 0.5h0m73 0h0m1222 6h0m6.5 0h0m13.5 0h0m20 0h0m6.5 0h0m-1308.5 0.5h0m26.5 0h0" stroke="#0000d6" stroke-width="5.8" stroke-linecap="round" fill="none"/>
<path d="M1799.5 1277.5h0m-19.5 13.5h0m-59.5 6.5h0m99 0h0m-421 6.5h0m361.5 13h0m-276 0.5h0m-33 6.5h0m342 13h0m-348.5 0h0m-59 7h0m72.5 0h0m0 6.5h0m-729 0h0m649.5 6.5h0m395 6.5h0m-1326.5 0.5h0m1017.5 6h0m328.5 6.5h0m-1392 0.5h0m984.5 6.5h0m92 0h0m-1037 0h0m19.5 6.5h0m13.5 0h0m321.5 0.5h0m544 6h0m13.5 0h0m-971.5 0.5h0m13 6.5h0m92.5 0h0m26.5 0h0m26.5 0h0m202.5 6.5h0m99 0h0m-301.5 6.5h0m-53 6.5h0m945 13h0m-1057 7h0m439 110h0m578 19h0m342.5 0h0m-369 13h0m382 13.5h0m-26 6.5h0m72.5 6.5h0m-33 13.5h0m-296.5 19.5h0m13.5 6.5h0m236.5 7h0m40 0h0m26 6.5h0m66 6.5h0m-112 6.5h0m46 0h0m-979.5 0.5h0m644 6h0m6.5 0h0m335.5 0h0m-1025.5 0.5h0m20 0h0m91.5 0h0m907.5 6.5h0m-1084.5 0h0m1084.5 6.5h0m-966.5 0.5h0m973 6h0m-362 0h0m-46.5 6.5h0m408.5 6.5h0m-335.5 7h0m382.5 186h0m-349 6h0m26.5 0h0m289.5 0.5h0m-335.5 6h0m13 0h0m26.5 0h0m20 0h0m282.5 0.5h0m13.5 7h0m-704 0h0m348.5 6h0m368.5 0.5h0m13 0h0m-697 0h0m295.5 6h0m66 0h0m309.5 0.5h0m26 0h0m7 0h0m-763.5 0.5h0m276 5.5h0m39.5 0h0m39.5 0h0m6.5 0h0m13.5 0h0m6.5 0h0m13 0h0m26.5 0h0m250 0.5h0m13 0h0m79.5 0h0m-1052.5 0.5h0m275.5 0h0m46.5 0h0m13 0h0m6.5 0h0m223.5 5.5h0m19.5 0h0m106 0h0m342 0.5h0m-1630.5 0.5h0m565 0h0m46 0h0m295.5 0h0m40 0h0m249.5 5.5h0m13 0h0m13.5 0h0m79 0h0m20 0h0m177 1h0m33 0h0m-946.5 0h0m19.5 0h0m256 0h0m59.5 0h0m19.5 0h0m20 0h0m190 6h0m20 0h0m13 0h0m7 0h0m19.5 0h0m86 0h0m6.5 0h0m20 0h0m256 0.5h0m46.5 0h0m-434.5 6h0m6.5 0h0m105.5 0h0m197 0.5h0m39.5 0h0m92.5 0h0m-671 0.5h0m-703 0h0m952.5 5.5h0m20 0h0m6.5 0h0m13 0h0m79.5 0h0m243 0.5h0m-644.5 0.5h0m46 0h0m190.5 5.5h0m72.5 0h0m302.5 0.5h0m-1604 0.5h0m697 0h0m532 5.5h0m6.5 0h0m86 0h0m243 1h0m26.5 0h0m-611.5 0h0m276 6h0m26 0h0m26.5 0h0m-578 0.5h0m262.5 0h0m6.5 0h0m362 6h0m-690.5 1h0m375 0h0m256 5.5h0m289.5 0.5h0m33 0h0m-1006 0.5h0m52.5 0h0m33 0h0m6.5 0h0m289 0h0m20 0h0m249.5 5.5h0m13 0h0m20 0h0m302.5 0.5h0m6.5 0h0m-1012.5 0.5h0m92.5 0h0m315 0h0m13.5 0h0m289 5.5h0m26.5 0h0m276 1h0m7 0h0m-658 0h0m20 0h0m26 0h0m40 0h0m223 6h0m6.5 0h0m26.5 0h0m-1275 0.5h0m545 0h0m99 0h0m53 0h0m26.5 0h0m163.5 0h0m19.5 0h0m26.5 0h0m53 0h0m243 6h0m46 0h0m289.5 0.5h0m-684.5 0.5h0m40 0h0m92 0h0m33 0h0m190.5 5.5h0m329 0.5h0m-841 0.5h0m189.5 0h0m26.5 0h0m86 0h0m236.5 5.5h0m-1255.5 1h0m618 0h0m13 0h0m26.5 0h0m256 0h0m-348.5 6.5h0m6.5 0h0m33 0h0m26.5 0h0m6.5 0h0m262.5 0h0m20 0h0m19.5 0h0m59.5 0h0m309 6h0m-1262 0.5h0m624.5 0h0m243 0h0m59 0h0m-736 0.5h0m1052 5.5h0m355 0.5h0m-1683 0h0m637.5 0.5h0m46 0h0m269.5 0h0m19.5 0h0m6.5 0h0m355.5 5.5h0m-710 1h0m79 0h0m39.5 0h0m289 0h0m-742.5 0h0m368 6.5h0m19.5 0h0m53 0h0m-92.5 6.5h0m72.5 0h0m309 0h0m-381.5 6.5h0m59.5 0h0m249 0h0m-623.5 0.5h0m33 0h0m275.5 6.5h0m79 0h0m295.5 0h0m-952.5 76.5h0m-53 6.5h0m46 0h0m26.5 0h0m20 0h0m6.5 0h0m-105.5 13.5h0m6.5 0h0m39.5 0h0m13.5 6.5h0m1288 6h0m33 0h0m316.5 0h0m-1750 0.5h0m53 0h0m59.5 0h0m650.5 0h0m-414.5 0h0m6.5 0h0m1045.5 6h0m33 0h0m303 0.5h0m20 0h0m6.5 0h0m-1743 0h0m6.5 0h0m6.5 0h0m20 0h0m697 0h0m657.5 6h0m6.5 0h0m276.5 0.5h0m6.5 0h0m33 0h0m6.5 0h0m26.5 0h0m-1730 0h0m33 0h0m59.5 0h0m229.5 0.5h0m6.5 0h0m1092 5.5h0m-1381 1h0m40 0h0m295 0h0m933.5 6h0m26.5 0h0m40 0h0m13 0h0m20 0h0m6.5 0h0m217 0h0m33 0h0m59.5 0h0m26.5 0h0m-1717 0.5h0m26.5 0h0m39.5 0h0m618 0h0m-368.5 0h0m953 6h0m6.5 0h0m79.5 0h0m13 0h0m13.5 0h0m-1427 0.5h0m6.5 0h0m6.5 0h0m13.5 0h0m6.5 0h0m33 0h0m1281.5 6h0m66 0h0m342.5 0.5h0m-1769.5 0h0m59.5 0h0m59.5 0h0m1196 6h0m39.5 0h0m46.5 0h0m39.5 0h0m197 0.5h0m6.5 0h0m119 0h0m-1624 0h0m341.5 0.5h0m880.5 5.5h0m20 0h0m13 0h0m33 0h0m237 0.5h0m6.5 0h0m99 0h0m-1769.5 0.5h0m7 0h0m66 0h0m19.5 0h0m26.5 0h0m6.5 0h0m289 0h0m26.5 0h0m913.5 6h0m72.5 0h0m13.5 0h0m6.5 0h0m237 0h0m72.5 0h0m-1736.5 0.5h0m59.5 0h0m249 0h0m13.5 0h0m92 0h0m887.5 6h0m39.5 0h0m79.5 0h0m322.5 0h0m-1716.5 0.5h0m59.5 0h0m19.5 0h0m1183 6h0m-1282 0.5h0m39.5 0h0m73 0h0m249 0.5h0m13 0h0m7 0h0m953 5.5h0m323 0.5h0m92.5 0h0m-1776.5 0h0m152 0h0m499 0h0m13.5 0h0m-329.5 0.5h0m1026 5.5h0m20 0h0m33 0h0m13 0h0m13.5 0h0m250 0.5h0m26.5 0h0m-1664 0.5h0m20 0h0m6.5 0h0m242.5 0h0m20 0h0m992.5 6h0m119 0h0m210.5 0h0m53 0h0m19.5 0h0m13.5 0h0m-1677 0.5h0m19.5 0h0m53 0h0m196.5 0h0m19.5 0h0m920.5 6h0m59.5 0h0m33 0h0m26.5 0h0m6.5 0h0m33 0h0m303 0h0m-698 0.5h0m-664 0h0m26.5 0h0m887 6h0m26.5 0h0m355.5 0.5h0m7 0h0m6.5 0h0m33 0h0m33 0h0m-1683.5 0h0m13 0h0m46 0h0m519 0h0m46 0h0m578 6h0m20 0h0m6.5 0h0m106 0h0m26.5 0h0m-1368 0.5h0m26.5 0h0m33 0h0m269 0.5h0m72.5 0h0m848 5.5h0m39.5 0h0m13 0h0m7 0h0m19.5 0h0m276.5 0.5h0m99 0h0m-1683.5 0.5h0m335 0h0m6.5 0h0m894 6h0m66 0h0m26.5 0h0m270 0h0m52.5 0h0m-1677 0.5h0m13.5 0h0m13 0h0m46 0h0m13.5 0h0m1215.5 6h0m6.5 0h0m33.5 0h0m6.5 0h0m13 0h0m250 0h0m39.5 0h0m7 0h0m13 0h0m-1644 0.5h0m1591 6.5h0m13.5 0h0m33 0h0m26.5 0h0m-1664 0h0m26.5 0h0m13 0h0m256 0.5h0m52.5 0h0m894 5.5h0m6.5 0h0m53 0h0m6.5 0h0m13.5 0h0m276.5 0.5h0m59.5 0h0m33 0h0m-1769.5 0h0m46 0h0m13 0h0m20 0h0m39.5 0h0m275.5 0.5h0m66 0h0m920.5 5.5h0m53 0h0m13 0h0m230.5 0.5h0m46 0h0m13.5 0h0m-1664 0.5h0m6.5 0h0m39.5 0h0m1216 6h0m6.5 0h0m6.5 0h0m6.5 0h0m53 0h0m33 0h0m322.5 0h0m-1723 0.5h0m72.5 0h0m269 0h0m33 0h0m33 0h0m20 0h0m874 6h0m53 0h0m6.5 0h0m316 0h0m33 0h0m-1664 0.5h0m1249 6h0m6.5 0h0m26.5 0h0m316 0.5h0m13 0h0m6.5 0h0m7 0h0m13 0h0m-1584.5 0h0" stroke="#0000f6" stroke-width="5.8" stroke-linecap="round" fill="none"/>
<path d="M782 1271.5h0m656 19.5h0m-649.5 0h0m577 6.5h0m79 0h0m302.5 6.5h0m13 0h0m33 0h0m-342 0h0m-623 0.5h0m504.5 6.5h0m26.5 0h0m99 0h0m243 6h0m125 0h0m26.5 0h0m-53 7h0m53 0h0m-487 0h0m6.5 13h0m112 0h0m13.5 0h0m335 6.5h0m-434 0.5h0m52.5 6.5h0m335.5 13h0m-408 6.5h0m-26 7h0m92 0h0m53 0h0m-735.5 0h0m952 6h0m-249.5 7h0m-1077 0h0m20 0h0m132 7h0m13 0h0m170 0h0m-308.5 6.5h0m1004.5 6.5h0m26 0h0m-905 0h0m6.5 0h0m1240.5 6h0m-421 0.5h0m112 0h0m-1024 0h0m33 0h0m1287 6h0m-1379.5 0.5h0m13.5 0h0m72.5 0h0m1260.5 6.5h0m-1346.5 0.5h0m1445 6h0m-1458 0.5h0m1438.5 6h0m-1418.5 0.5h0m446.5 0.5h0m880 5.5h0m125 0h0m-468 110h0m-571 0.5h0m558 12.5h0m66 6.5h0m230.5 0.5h0m-880.5 0h0m557.5 6h0m79.5 0h0m39.5 7h0m290 0h0m-920.5 7h0m874 6h0m-939.5 0.5h0m13 6.5h0m893.5 13h0m13.5 13h0m145 0h0m-481.5 6.5h0m488 0h0m-13.5 6.5h0m-468 7h0m133 0h0m210 0h0m6.5 0h0m92.5 0h0m-455 6.5h0m139 0h0m210.5 0h0m19.5 0h0m7 0h0m13 0h0m-966 0.5h0m696 6h0m257 0h0m13 0h0m33 0h0m19.5 0h0m-1045 0.5h0m959.5 6h0m6.5 0h0m53 0h0m13 0h0m-940 0.5h0m524.5 6h0m409 0h0m-66 7h0m13 0h0m46.5 0h0m-389 0h0m-544.5 0h0m933.5 6.5h0m-369 0h0m-551.5 0.5h0m894 6h0m20 0h0m52.5 0h0m-435 0h0m415 6.5h0m-355.5 0h0m46.5 0h0m276.5 6.5h0m19.5 0h0m6.5 0h0m-408.5 0h0m395.5 6.5h0m-389 0.5h0m59.5 0h0m-597.5 13.5h0m19.5 0h0m625 172h0m26.5 0h0m-13 6.5h0m329 0.5h0m-13.5 6.5h0m40 0h0m-1703.5 0.5h0m664 0h0m335.5 0h0m295.5 5.5h0m13.5 0h0m26 0h0m33 0h0m316 1h0m-1663.5 0h0m611 0h0m46.5 0h0m598 6h0m19.5 0h0m-1229 0.5h0m907 0h0m368.5 6h0m-664 1h0m282 0h0m276 5.5h0m26.5 0h0m20 0h0m26.5 0h0m66 0h0m223 0.5h0m7 0h0m-1637.5 0.5h0m664 0h0m33 0h0m276 0h0m-604 0h0m913 5.5h0m13 0h0m26.5 0h0m72.5 0h0m289.5 0.5h0m13 0h0m-1058.5 0.5h0m52.5 0h0m289 0h0m33 0h0m249.5 5.5h0m6.5 0h0m20 0h0m39.5 0h0m39.5 0h0m256.5 1h0m39.5 0h0m46.5 0h0m-697.5 0h0m230 6h0m59 0h0m53 0h0m13 0h0m33 0h0m296 0.5h0m7 0h0m13 0h0m-1098.5 0h0m6.5 0h0m53 0h0m355 0h0m223 6h0m66 0h0m6.5 0h0m20 0h0m243 0.5h0m13.5 0h0m-947 0.5h0m591.5 5.5h0m33 0h0m6.5 0h0m79 0h0m20 0h0m13 0h0m217 0.5h0m-578.5 0.5h0m572 6h0m-933.5 0.5h0m335 0h0m26.5 0h0m289 5.5h0m269.5 1h0m-926.5 0h0m39.5 0h0m13 0h0m282.5 0h0m394.5 6h0m190.5 0.5h0m13.5 0h0m99 0h0m-980 0h0m190 0h0m414.5 6h0m263 0.5h0m-1597.5 0h0m59.5 0h0m624.5 0.5h0m52.5 0h0m26.5 0h0m269 0h0m579 6h0m-1584.5 0.5h0m920 0h0m6.5 0h0m86 0h0m26 0h0m217 5.5h0m6.5 0h0m46 0h0m309.5 0.5h0m6.5 0h0m13 0h0m-907 0.5h0m328.5 0h0m243 5.5h0m46 0h0m13.5 0h0m216.5 1h0m106 0h0m-750.5 0h0m33 0h0m92.5 0h0m-709.5 0h0m906.5 6h0m33 0h0m302.5 0.5h0m13 0h0m26.5 0h0m-894 0h0m183.5 0h0m59.5 0h0m6.5 0h0m79 0h0m-782 0.5h0m985.5 5.5h0m20 0h0m309 0.5h0m13 0h0m7 0h0m13 0h0m-1637 0h0m26.5 0h0m690 0.5h0m216.5 0h0m13 0h0m92.5 0h0m249.5 5.5h0m59.5 0h0m263 0.5h0m20 0h0m13 0h0m13.5 0h0m-999.5 0.5h0m354.5 0h0m26.5 0h0m26.5 0h0m223 5.5h0m86 0h0m309 0.5h0m7 0h0m-986.5 0.5h0m20 0h0m255.5 0h0m13.5 0h0m-611 0h0m13.5 0h0m906.5 5.5h0m6.5 0h0m309 1h0m26.5 0h0m59.5 0h0m6.5 0h0m-1092 0h0m106 0h0m249 0h0m-716 0h0m85.5 0h0m999 6h0m20 0h0m289 0.5h0m-1032.5 0h0m322 0h0m6.5 0h0m26.5 0h0m20 0h0m-690 0.5h0m1098 5.5h0m296 0.5h0m-1085.5 0.5h0m394.5 0h0m39.5 0h0m-703 0h0m986 5.5h0m335.5 0.5h0m6.5 0h0m13 0h0m-999.5 0.5h0m26.5 0h0m6.5 0h0m223 0h0m13.5 0h0m19.5 0h0m39.5 0h0m-368 6.5h0m105.5 0h0m216.5 0h0m59.5 0h0m-276 6.5h0m177 0h0m6.5 0h0m79 0h0m-683 0h0m321.5 6.5h0m13.5 0h0m39.5 0h0m302 0h0m6.5 0h0m-361.5 7h0m361.5 0h0m-1025 89.5h0m46 0h0m39.5 0h0m-132 7h0m86 0h0m66 0h0m229.5 0h0m1388 6h0m6.5 0h0m-1716.5 0.5h0m66 0h0m1248.5 6h0m369 0h0m-1677 0.5h0m79.5 0h0m236 0h0m1026 6h0m13 0h0m270 0.5h0m13 0h0m13 0h0m13.5 0h0m53 0h0m-1789.5 0h0m92.5 0h0m19.5 0h0m53 0h0m6.5 0h0m6.5 0h0m190 0.5h0m46 0h0m973.5 5.5h0m6.5 0h0m39.5 0h0m26.5 0h0m289.5 0.5h0m7 0h0m-1736.5 0h0m6.5 0h0m26.5 0h0m6.5 0h0m52.5 0h0m13.5 0h0m262.5 0.5h0m986 5.5h0m40 0h0m13 0h0m6.5 0h0m250 0.5h0m6.5 0h0m20 0h0m20 0h0m-1723.5 0.5h0m13.5 0h0m427 0h0m13.5 0h0m946.5 6h0m270 0h0m-1650.5 0.5h0m6.5 0h0m33 0h0m59.5 0h0m249 0h0m39.5 0h0m53 0h0m887.5 6h0m52.5 0h0m369 0h0m13.5 0h0m-1789.5 0.5h0m20 0h0m381 0h0m6.5 0h0m33 0h0m914 6h0m329 0.5h0m79.5 0h0m26.5 0h0m-1769.5 0h0m33 0h0m39.5 0h0m255.5 0.5h0m66 0h0m86 0h0m880.5 5.5h0m53 0h0m-1420.5 0.5h0m66 0h0m276 0.5h0m33 0h0m59 0h0m7 0h0m867.5 5.5h0m39.5 0h0m6.5 0h0m86 0h0m6.5 0h0m-1460 1h0m39.5 0h0m670.5 0h0m-395 0h0m132 0h0m867.5 6h0m26.5 0h0m39.5 0h0m13.5 0h0m269.5 0h0m13.5 0h0m99 0h0m-1763 0.5h0m7 0h0m6.5 0h0m26.5 0h0m72.5 0h0m13 0h0m558.5 0h0m112 0h0m-447.5 0h0m66 0h0m900.5 6h0m105.5 0h0m217 0h0m33 0h0m-1670.5 0.5h0m1045.5 0h0m-684 0h0m973 6h0m59.5 0h0m26.5 0h0m230 0.5h0m-1663.5 0h0m66 0h0m33 0h0m6.5 0h0m13.5 0h0m19.5 0h0m6.5 0h0m295.5 0.5h0m6.5 0h0m900.5 5.5h0m13.5 0h0m6.5 0h0m309.5 0.5h0m6.5 0h0m-1690 0h0m39.5 0h0m13 0h0m53 0h0m46 0h0m7 0h0m262 0.5h0m953.5 5.5h0m33 0h0m6.5 0h0m40 0h0m329 0.5h0m-1650.5 0.5h0m19.5 0h0m342 0h0m808 6h0m6.5 0h0m39.5 0h0m53 0h0m13 0h0m7 0h0m302.5 0h0m53 0h0m6.5 0h0m6.5 0h0m-1749.5 0.5h0m33 0h0m6.5 0h0m39.5 0h0m20 0h0m6.5 0h0m6.5 0h0m1169.5 6h0m66 0h0m20 0h0m276.5 0h0m26.5 0h0m13 0h0m20 0h0m-1677 0.5h0m368 0h0m59.5 0h0m808 6h0m33 0h0m66 0h0m46 0h0m7 0h0m6.5 0h0m223.5 0.5h0m39.5 0h0m6.5 0h0m26.5 0h0m40 0h0m-1684 0h0m20 0h0m578 0h0m-322.5 0.5h0m33 0h0m7 0h0m26 0h0m848 5.5h0m26.5 0h0m92.5 0h0m269.5 0.5h0m6.5 0h0m13.5 0h0m13 0h0m20 0h0m-1650.5 0h0m26 0h0m20 0h0m302 0.5h0m861 5.5h0m66 0h0m13 0h0m26.5 0h0m276.5 0.5h0m72.5 0h0m7 0h0m33 0h0m-1703.5 0.5h0m19.5 0h0m6.5 0h0m269 0h0m927 6h0m13.5 0h0m46 0h0m99 0h0m270 0h0m46 0h0m-1328.5 0.5h0m874 6h0m13 0h0m66 0h0m40 0h0m19.5 0h0m230.5 0h0m72.5 0h0m20 0h0m-1670.5 0.5h0m663.5 0h0m-401.5 0h0m66 0h0m13.5 0h0m6.5 0h0m874 6h0m86 0h0m256.5 0.5h0m33 0h0m6.5 0h0m66.5 0h0m-1657.5 0h0m1235.5 6h0m6.5 0h0m362.5 0.5h0m46 0h0m-1408 0.5h0m966.5 5.5h0m6.5 0h0m33 0h0m53 0h0m6.5 0h0m263.5 0.5h0m72.5 0h0m-1716.5 0.5h0m13 0h0m6.5 0h0m66 0h0m229.5 0h0m66 0h0m947 6h0m19.5 0h0m7 0h0m6.5 0h0m19.5 0h0m13.5 0h0m243.5 0h0m6.5 0h0m26.5 0h0m6.5 0h0m-1650.5 0.5h0m6.5 0h0m46 0h0m13.5 0h0m295 0h0m933.5 6h0m73 0h0m276.5 0h0m19.5 0h0m-1657 0.5h0m33 0h0m6.5 0h0m315 0h0m920.5 6h0m382 0.5h0m-1703.5 0h0m7 0h0m26 0h0m40 0h0m13 0h0m20 0h0m315 0.5h0" stroke="#0000ff" stroke-width="5.8" stroke-linecap="round" fill="none"/>
<path d="M1378.5 1271h0m7 0h0m33 7h0m322 6.5h0m46 0h0m-408 0h0m395 6.5h0m19.5 0h0m-381.5 0h0m46.5 0h0m-1044 0h0m978 6.5h0m66 0h0m-669.5 0.5h0m46 0h0m978.5 6h0m-460.5 0h0m447 6.5h0m-447 7h0m33 0h0m6.5 0h0m-978 0h0m407.5 0h0m557 6.5h0m112.5 6.5h0m-656.5 0.5h0m925.5 6h0m-401 0h0m99 0h0m295.5 6.5h0m-401 0.5h0m138.5 0h0m354.5 6h0m-480 0.5h0m13 0h0m-590 0h0m557.5 6.5h0m26 0h0m460.5 6.5h0m-460.5 0h0m112 0h0m269.5 6.5h0m13.5 0h0m-375 0h0m-951.5 0.5h0m407 0h0m959 6h0m-421 0.5h0m98.5 0h0m-649.5 0h0m610 6.5h0m-1024 0h0m1293.5 6h0m26.5 0h0m59 0h0m-460.5 0.5h0m59.5 0h0m-905.5 0h0m321.5 0.5h0m26.5 0h0m932.5 6h0m-427.5 0h0m13 0h0m-570.5 0.5h0m932 6h0m-374.5 0h0m19.5 0h0m26.5 0h0m-991 0.5h0m26 0h0m13.5 0h0m13 0h0m20 0h0m6.5 0h0m308.5 0h0m1064 6h0m-1478 0.5h0m72.5 0h0m26.5 0h0m879 6.5h0m59 0h0m-892 0h0m1227.5 6h0m92 0h0m-473.5 0.5h0m105.5 0h0m-971 0h0m958 6.5h0m-1024 0.5h0m13 0h0m-72.5 6.5h0m414 0h0m985 6h0m-932.5 1h0m597 6h0m-623.5 0.5h0m630 12.5h0m309.5 96.5h0m-389 6.5h0m-518.5 7h0m881 13h0m13 6.5h0m39.5 0h0m6.5 6.5h0m-1064.5 7h0m1091 6h0m-118.5 7h0m131.5 0h0m-474.5 6.5h0m20 0h0m-584 0.5h0m-617 0.5h0m1530.5 5.5h0m-349.5 6.5h0m112.5 0h0m-106 6.5h0m86.5 0h0m39.5 0h0m217 0h0m105.5 0h0m-448.5 6.5h0m79.5 0h0m349 0h0m-382 7h0m336 0h0m33 0h0m-960 0h0m564.5 6.5h0m113 0h0m236.5 0h0m33 0h0m-53 6.5h0m6.5 0h0m13.5 0h0m26.5 0h0m26 0h0m53 0h0m-455 6.5h0m66.5 0h0m276.5 0h0m19.5 0h0m-979.5 0.5h0m59 0h0m46 0h0m835 6h0m33 0h0m0 7h0m13 0h0m-395.5 0h0m73 0h0m-650 0h0m45.5 0h0m920.5 6.5h0m13.5 0h0m32.5 0h0m-421.5 0h0m79.5 0h0m39.5 0h0m237 6.5h0m39.5 0h0m6.5 0h0m13 0h0m-402 0h0m40 0h0m336 6.5h0m13 0h0m13 0h0m-428.5 0h0m86 0h0m-617.5 0.5h0m7 0h0m913.5 6h0m6.5 0h0m-946.5 13.5h0m13 0h0m631 6.5h0m19.5 6.5h0m-598 0.5h0m625.5 172h0m33 0h0m6.5 0h0m309 0.5h0m-1709.5 0.5h0m1341 5.5h0m59.5 0h0m269.5 0.5h0m46 0h0m-421 6h0m79 0h0m20 0h0m302.5 1h0m19.5 0h0m-447.5 6h0m13 0h0m368.5 0.5h0m7 0h0m39.5 0h0m26.5 0h0m-1079 0h0m335 0h0m276 6h0m66 0h0m53 0h0m20 0h0m302.5 0.5h0m-704 0.5h0m26.5 0h0m223 5.5h0m125.5 0h0m289.5 0.5h0m46 0h0m-999.5 0.5h0m269 0h0m289.5 5.5h0m13 0h0m79 0h0m40 0h0m249.5 0.5h0m-618 0.5h0m262.5 5.5h0m13.5 0h0m19.5 0h0m26.5 0h0m13.5 0h0m19.5 0h0m20 0h0m282.5 1h0m7 0h0m26 0h0m-1019 0h0m256 0h0m52.5 0h0m572 6.5h0m6.5 0h0m79.5 0h0m-651.5 0h0m217 6h0m46 0h0m46 0h0m276.5 0.5h0m26.5 0h0m52.5 0h0m20 0h0m-1019.5 0.5h0m315.5 0h0m322 5.5h0m20 0h0m59.5 0h0m177 0.5h0m39.5 0h0m20 0h0m-973 0.5h0m630.5 5.5h0m13.5 0h0m13 0h0m46.5 0h0m223 0.5h0m46.5 0h0m52.5 0h0m-1696.5 0.5h0m737 0h0m288.5 0h0m7 0h0m13 0h0m216.5 5.5h0m20 0h0m6.5 0h0m99 0h0m190.5 1h0m13 0h0m-854 0h0m13 0h0m183.5 0h0m85.5 0h0m13.5 0h0m13 0h0m269.5 6h0m52.5 0h0m270 0.5h0m6.5 0h0m-966.5 0h0m6.5 0h0m374.5 0h0m263 6h0m79 0h0m197 0.5h0m53 0h0m6.5 0h0m-1571 0h0m230 0.5h0m72.5 0h0m906.5 5.5h0m33 0h0m39.5 0h0m283 0.5h0m66 0h0m-1650.5 0.5h0m677.5 0h0m190 0h0m118.5 0h0m243 5.5h0m20 0h0m79 0h0m197 0.5h0m6.5 0h0m-605 0.5h0m26.5 0h0m13.5 0h0m19.5 0h0m6.5 0h0m7 0h0m282.5 5.5h0m46 0h0m210.5 1h0m-1617.5 0h0m99 0h0m591.5 0h0m13 0h0m39.5 0h0m13.5 0h0m19.5 0h0m196.5 0h0m53 0h0m256 6h0m46.5 0h0m33 0h0m256.5 0.5h0m13 0h0m26.5 0h0m72.5 0h0m-1657 0h0m611.5 0h0m52.5 0h0m223 0h0m99 0h0m13 0h0m236.5 6h0m-617.5 1h0m33 0h0m282 0h0m73 0h0m328.5 5.5h0m296 0.5h0m-1604 0.5h0m670.5 0h0m170 0h0m20 0h0m53 0h0m-604.5 0h0m20 0h0m999 5.5h0m263 0.5h0m46 0h0m6.5 0h0m-1032.5 0.5h0m46.5 0h0m242.5 0h0m33 0h0m20 0h0m-690 0h0m959.5 5.5h0m-1295 1h0m59.5 0h0m926.5 0h0m26 0h0m355.5 6h0m276 0.5h0m-1597.5 0h0m26.5 0h0m913.5 0h0m33 0h0m6.5 0h0m13 0h0m20 0h0m-795.5 0.5h0m1091 5.5h0m7 0h0m309 0.5h0m-940 0.5h0m229.5 0h0m79 0h0m-775.5 0h0m125.5 0h0m1268.5 6h0m-1630.5 0.5h0m952.5 0h0m26.5 0h0m-999 6.5h0m13 0h0m598 0h0m-236 0h0m262.5 6.5h0m13.5 0h0m46 0h0m242.5 0h0m46.5 0h0m-315.5 6.5h0m256 0h0m-584.5 0.5h0m335 6.5h0m13.5 0h0m256 0h0m-887 70h0m269 0h0m-308.5 6.5h0m13 0h0m53 0h0m255.5 0h0m-262 6.5h0m19.5 0h0m-92.5 6.5h0m26.5 0h0m289 0.5h0m-341.5 6.5h0m19.5 0h0m92.5 0h0m1275 6h0m296.5 0h0m20 0h0m-1703.5 0.5h0m19.5 0h0m13.5 0h0m39.5 0h0m1308 6h0m296.5 0h0m46 0h0m-355.5 6.5h0m-1374.5 0.5h0m53 0h0m1683.5 6.5h0m-1696.5 0h0m1690 6.5h0m-1730 0.5h0m13.5 0h0m6.5 0h0m6.5 0h0m13.5 0h0m6.5 0h0m262.5 0h0m6.5 0h0m6.5 0h0m26.5 0h0m85.5 0h0m-473.5 6.5h0m13.5 0h0m72.5 0h0m85.5 0h0m163.5 0h0m99 0h0m59.5 0h0m1177 6h0m20 0h0m85.5 0h0m-1716.5 0.5h0m72.5 0h0m26.5 0h0m532 0h0m-236.5 0h0m26.5 0h0m6.5 0h0m900.5 6h0m269.5 0.5h0m-1624 0h0m769.5 0h0m-467.5 0.5h0m39.5 0h0m40 0h0m940 5.5h0m322.5 0.5h0m-1624 7h0m6.5 0h0m26.5 0h0m249 0h0m79.5 0h0m1249.5 6h0m119 0h0m-1750 0.5h0m6.5 0h0m59.5 0h0m6.5 0h0m591.5 0h0m66 0h0m-368.5 0h0m13 0h0m79.5 0h0m828 6h0m105.5 0h0m270 0h0m-1664 0.5h0m275.5 0h0m112.5 0h0m79 0h0m867.5 6h0m72.5 0h0m217 0.5h0m33 0h0m-1578 0h0m20 0h0m242.5 0.5h0m59.5 0h0m907 5.5h0m46.5 0h0m-1321.5 0.5h0m39.5 0h0m6.5 0h0m7 0h0m341.5 0.5h0m900.5 5.5h0m316 0.5h0m-1512 0.5h0m525.5 0h0m-322.5 0h0m13 0h0m40 0h0m913.5 6h0m33 0h0m59.5 0h0m20 0h0m243 0h0m7 0h0m46 0h0m-1664 0.5h0m644.5 0h0m-388.5 0h0m79 0h0m46.5 0h0m913.5 6h0m296.5 0h0m39.5 0h0m79.5 0h0m-1756.5 0.5h0m33 0h0m39.5 0h0m59.5 0h0m190 0h0m1019 6h0m92.5 0h0m217 0.5h0m-1531.5 0h0m315 0.5h0m13 0h0m887.5 5.5h0m329.5 0.5h0m92.5 0h0m-1743.5 0h0m26.5 0h0m46.5 0h0m39.5 0h0m308.5 0.5h0m26.5 0h0m808 5.5h0m33 0h0m119 0h0m217 0.5h0m19.5 0h0m20 0h0m53 0h0m13 0h0m-1716.5 0.5h0m33 0h0m66 0h0m269 0h0m19.5 0h0m1309.5 6h0m6.5 0h0m26.5 0h0m-1783 0.5h0m132 0h0m282.5 0h0m6.5 0h0m6.5 0h0m46 0h0m854.5 6h0m13 0h0m7 0h0m105.5 0h0m243.5 0h0m-1677 0.5h0m13 0h0m72.5 0h0m33 0h0m269 0h0m993 6h0m362.5 0.5h0m-1743 0h0m19.5 0h0m1315 6h0m19.5 0h0m73 0h0m256.5 0.5h0m6.5 0h0m-1690 0h0m92.5 0h0m13 0h0m262.5 0.5h0m59.5 0h0m913.5 5.5h0m20 0h0m302.5 0.5h0m79.5 0h0m-1388.5 0.5h0m106 0h0m1269.5 6h0m-1703.5 0.5h0m59 0h0m13.5 0h0m255.5 0h0m7 0h0m959.5 6h0m79.5 0h0m276.5 0h0m19.5 0h0m20 0h0m13.5 0h0m-1690.5 0.5h0m46 0h0m388 0h0m933.5 6h0m-1394 0.5h0m53 0h0m52.5 0h0m335 0.5h0" stroke="#001cff" stroke-width="5.8" stroke-linecap="round" fill="none"/>
<path d="M1365.5 1271h0m6.5 7h0m26.5 6.5h0m-616.5 0h0m-40 6.5h0m985.5 6.5h0m13 0h0m-401.5 0h0m112 0h0m-735 7h0m46 0h0m991.5 6h0m99 0h0m-500 0.5h0m112 0h0m-99 6.5h0m-518 0h0m906 6.5h0m-407.5 0h0m32.5 6.5h0m7 0h0m65.5 0h0m7 0h0m39.5 0h0m-676 0.5h0m544 6h0m13 0h0m13.5 0h0m99 0h0m-158.5 7h0m151.5 0h0m-695.5 0h0m33 0h0m39.5 0h0m892.5 6h0m-381.5 0.5h0m388 6.5h0m-361.5 0h0m66 0h0m19.5 0h0m342 6.5h0m-473.5 0h0m46 0h0m52.5 0h0m-1010.5 0.5h0m381 0h0m-420.5 6.5h0m19.5 0h0m46.5 0h0m268.5 0h0m1011.5 6h0m26.5 0h0m39.5 0h0m-447.5 0.5h0m-610 0h0m26.5 0h0m1024.5 6h0m-467.5 0.5h0m26.5 0h0m13 0h0m26.5 0h0m33 0h0m-1057 0h0m119 0h0m1220.5 6h0m-262.5 0.5h0m-1064 0h0m26.5 0h0m13.5 0h0m6.5 0h0m46 0h0m335 0.5h0m912.5 6h0m19.5 0h0m-328.5 0h0m-1017.5 0.5h0m59.5 0h0m46 0h0m938 6h0m33 0h0m-676 0.5h0m53 0h0m912.5 6h0m-375 0.5h0m-584 0h0m-670.5 6h0m230.5 0.5h0m33 0h0m13 0h0m59.5 0h0m33 0h0m39.5 0h0m249 0.5h0m59.5 0h0m984.5 5.5h0m-499.5 0.5h0m32.5 0h0m59.5 0h0m-1037 0h0m52.5 0h0m6.5 0h0m242.5 0.5h0m145 0h0m524.5 6h0m46.5 0h0m-1044 0.5h0m-256.5 6h0m111.5 0h0m158 0.5h0m387.5 0h0m53 0h0m19.5 0h0m571 6.5h0m-1031 0h0m1438.5 6h0m-348.5 0.5h0m-775 13.5h0m742 89h0m-624.5 14h0m26.5 0h0m828 13h0m33 6.5h0m86 6.5h0m-1058.5 0.5h0m676 6h0m316.5 0h0m-881 0.5h0m953.5 6h0m-1071.5 0.5h0m1091 6h0m-933.5 0.5h0m788.5 6.5h0m125.5 0h0m-1045.5 0h0m716.5 6.5h0m-618 0.5h0m611 6h0m270 0h0m-1216 0.5h0m1137 6h0m26.5 0h0m-920.5 0.5h0m79 6.5h0m-669.5 0.5h0m1181 5.5h0m20 0h0m92.5 0h0m257 0h0m39.5 0h0m-66 7h0m66 0h0m-953.5 0h0m900.5 6.5h0m39.5 0h0m-940 0.5h0m33 0h0m505 6h0m395.5 0h0m-868 0.5h0m585 6h0m6.5 0h0m250 0h0m33 0h0m7 0h0m-901 0.5h0m512 6h0m99 0h0m13.5 0h0m250 0h0m13 0h0m-1275.5 1h0m1256 6h0m-336.5 0h0m-590.5 0h0m39.5 0h0m874 6.5h0m6.5 0h0m13.5 0h0m39.5 0h0m-369 0h0m79.5 0h0m-755.5 0.5h0m1071.5 6h0m19.5 0h0m-428.5 0h0m46.5 0h0m26.5 0h0m20 0h0m250 6.5h0m72.5 6.5h0m-402 0h0m46.5 0h0m6.5 0h0m309.5 6.5h0m13 0h0m13 0h0m-322.5 0.5h0m-611 6.5h0m658 172.5h0m329 0.5h0m13.5 0h0m-26.5 6.5h0m13 0h0m13.5 0h0m-46.5 6.5h0m-1610.5 0.5h0m1255 5.5h0m336 0.5h0m39.5 0h0m-691 0.5h0m302.5 5.5h0m39.5 0h0m-72.5 7h0m26.5 0h0m19.5 0h0m349 0.5h0m13 0h0m-986 0h0m289 0h0m26 0h0m276 6h0m46.5 0h0m13 0h0m329 0.5h0m-1630.5 0h0m591.5 0.5h0m33 0h0m302 0h0m375 5.5h0m26.5 0h0m302.5 0.5h0m13.5 0h0m19.5 0h0m-1756 0.5h0m671 0h0m354.5 0h0m46.5 0h0m276 5.5h0m39.5 0h0m26.5 0h0m6.5 0h0m13 0h0m230 0.5h0m33 0h0m-638 0.5h0m223.5 5.5h0m388.5 1h0m6.5 0h0m26.5 0h0m-1657 0h0m617.5 0h0m73 0h0m328.5 0h0m591.5 6.5h0m66 0h0m33 0h0m-1670 0h0m585 0h0m66 0h0m308.5 0h0m6.5 0h0m276 6h0m59.5 0h0m46 0h0m243.5 0.5h0m6.5 0h0m-966.5 0.5h0m39.5 0h0m532 5.5h0m13 0h0m33 0h0m349 0.5h0m-953.5 0.5h0m7 0h0m341.5 0h0m243 5.5h0m20 0h0m52.5 0h0m-1262 1h0m644.5 0h0m256 0h0m295.5 5.5h0m53 0h0m26.5 0h0m39.5 0h0m157.5 1h0m33 0h0m-907.5 0h0m355 0h0m210 6h0m33 0h0m39.5 0h0m283 0.5h0m-578.5 0h0m-670 0.5h0m906.5 5.5h0m39.5 0h0m296 0.5h0m19.5 0h0m13.5 0h0m-1597.5 0h0m650.5 0.5h0m322 0h0m-610.5 0h0m906.5 5.5h0m46 0h0m26.5 0h0m250 0.5h0m-940.5 0.5h0m53 0h0m-427.5 0h0m946 5.5h0m66 0h0m40 0h0m243 0.5h0m33 0h0m86 0h0m-1756 0.5h0m716.5 0h0m243 0h0m-637 0h0m52.5 0h0m13.5 0h0m972.5 5.5h0m282.5 1h0m33 0h0m-960 0h0m53 0h0m183.5 0h0m85.5 0h0m26.5 0h0m6.5 0h0m33 0h0m-762.5 0h0m1012 6h0m296 0.5h0m-946.5 0h0m20 0h0m262.5 0h0m52.5 0h0m20 0h0m26.5 0h0m-696.5 0.5h0m1288 6h0m-1663.5 0h0m690.5 0.5h0m39.5 0h0m289 0h0m-637 0h0m919.5 5.5h0m33 0h0m309.5 0.5h0m72.5 0h0m-1743 0.5h0m46.5 0h0m716.5 0h0m7 0h0m269 0h0m33 0h0m-743 0h0m40 0h0m6.5 0h0m952.5 5.5h0m39.5 0h0m33 0h0m26.5 0h0m289.5 0.5h0m-913.5 0.5h0m183 0h0m72.5 0h0m7 0h0m33 0h0m26 0h0m-722.5 0h0m13 0h0m1255.5 6.5h0m-986.5 0h0m79 0h0m361.5 0h0m-815 0h0m1137.5 6h0m269.5 0.5h0m-1709.5 0h0m39.5 0h0m624.5 0h0m59 0h0m66 0h0m-401 0.5h0m13.5 0h0m19.5 0h0m966 5.5h0m329 0.5h0m-1591 0h0m578.5 0.5h0m13 0h0m33 0h0m39.5 0h0m7 0h0m584.5 5.5h0m-604.5 1h0m196.5 0h0m26.5 0h0m-900 6.5h0m551.5 0h0m53 0h0m-46.5 6.5h0m13.5 0h0m341.5 0h0m33 0h0m-703 0h0m315 6.5h0m13.5 0h0m13 0h0m355 0h0m-381.5 7h0m59.5 0h0m-362 70h0m26.5 0h0m-321.5 6.5h0m79 0h0m-79 6.5h0m321.5 0.5h0m-348 6h0m26.5 0h0m59 0h0m-145 7h0m79 0h0m46.5 0h0m236 0h0m6.5 0h0m46 0h0m-381 6.5h0m26.5 0h0m39.5 0h0m66 0h0m13 0h0m236 0h0m1322.5 6h0m26.5 0h0m6.5 0h0m13 0h0m-1782.5 0.5h0m39.5 0h0m26.5 0h0m46 0h0m53 0h0m13 0h0m203 0h0m-361 6.5h0m33 0h0m33 0h0m19.5 0h0m46.5 0h0m1571 6.5h0m-1624 0h0m6.5 0h0m269 0.5h0m1006 5.5h0m342.5 0.5h0m40 0h0m-1723.5 0.5h0m72.5 0h0m13.5 0h0m302 0h0m46 0h0m-368 6.5h0m328.5 0h0m46 0h0m920.5 6h0m-1387.5 0.5h0m112.5 0h0m26.5 0h0m222.5 0h0m92.5 0h0m13 0h0m881 6h0m296 0.5h0m-1558 0h0m26.5 0h0m13 0h0m532 0h0m20 0h0m-322.5 0.5h0m125.5 0h0m861 5.5h0m309 0.5h0m26.5 0h0m92.5 0h0m-1696.5 0h0m33 0h0m19.5 0h0m552 0h0m13 0h0m20 0h0m-388.5 0.5h0m6.5 0h0m72.5 0h0m914 5.5h0m59.5 0h0m263 0.5h0m13 0h0m26.5 0h0m-1578 0.5h0m33 0h0m163.5 0h0m66 0h0m59.5 0h0m6.5 0h0m1309 6h0m-1749.5 0.5h0m6.5 0h0m79.5 0h0m13 0h0m209.5 0h0m132 0h0m46.5 0h0m13 0h0m808 6h0m46.5 0h0m309 0h0m93 0h0m-1756.5 0.5h0m112 0h0m13.5 0h0m19.5 0h0m269 0h0m13.5 0h0m13 0h0m13.5 0h0m1216.5 6.5h0m-1657.5 0h0m40 0h0m33 0h0m6.5 0h0m565 0h0m-296 0.5h0m46 0h0m1059 5.5h0m256.5 0.5h0m-1670 0h0m302 0.5h0m6.5 0h0m19.5 0h0m119 0h0m834.5 5.5h0m6.5 0h0m39.5 0h0m79.5 0h0m210.5 0.5h0m92.5 0h0m6.5 0h0m-1716.5 0.5h0m52.5 0h0m13.5 0h0m532 0h0m-256.5 0h0m39.5 0h0m20 0h0m26 0h0m1223.5 6h0m19.5 0h0m13.5 0h0m-1019.5 0.5h0m-349 0h0m39.5 0h0m20 0h0m6.5 0h0m6.5 0h0m39.5 0h0m-407.5 6.5h0m13.5 0h0m39.5 0h0m19.5 0h0m572 0h0m584.5 6h0m53 0h0m375.5 0.5h0m52.5 0h0m-777 0h0m-1012 0h0m828.5 0h0m-434 0.5h0m13 0h0m33 0h0m53 0h0m13 0h0m828 5.5h0m435 0.5h0m6.5 0h0m-1033 0h0m-282.5 0.5h0m6.5 0h0m847.5 5.5h0m132 0h0m283 0.5h0m-1604 0.5h0m571.5 0h0m13 0h0m-302.5 0h0m6.5 0h0m6.5 0h0m59.5 0h0m841 6h0m33 0h0m-663.5 0.5h0m52.5 0h0m-375 0h0m6.5 0h0m26.5 0h0m1368.5 6h0m-1657.5 0.5h0m26.5 0h0m578 0h0m-223 0h0m960 6h0m296 0.5h0m-1624 0h0m361 0.5h0m953.5 5.5h0m329.5 0.5h0m6.5 0h0m-1697 0h0m33 0h0m6.5 0h0m657.5 0h0m-368.5 0.5h0m72.5 0h0m940.5 5.5h0m-1368 1h0m59.5 0h0m26.5 0h0m1657.5 6h0m-1723.5 0.5h0m328.5 0h0m19.5 0h0m1349 6h0m-1730 0.5h0m20 0h0m19.5 0h0m66 0h0m-13 6.5h0m302 0.5h0m26.5 0h0" stroke="#0034ff" stroke-width="5.8" stroke-linecap="round" fill="none"/>
<path d="M1411.5 1271h0m-1287 0.5h0m1635.5 6h0m-401 0.5h0m33 6.5h0m13 0h0m39.5 0h0m-85.5 6.5h0m19.5 0h0m322.5 6.5h0m66 0h0m-408 0h0m13 0h0m53 0h0m6.5 0h0m33 0h0m243 6.5h0m66 0h0m59 0h0m-486.5 0h0m46 0h0m66 0h0m-676 0.5h0m938.5 6h0m13.5 0h0m-388 0.5h0m39.5 0h0m59 0h0m6.5 0h0m-695.5 0h0m6.5 0h0m1070.5 6h0m-493.5 0.5h0m362 6.5h0m-243 0h0m26 6.5h0m-1379.5 0h0m684 0.5h0m72.5 0h0m879.5 12.5h0m6.5 0h0m-375 0.5h0m362 6h0m-342 0.5h0m79 0h0m6.5 0h0m-6.5 6.5h0m20 0h0m-1077 0h0m394 0.5h0m46 0h0m991.5 6h0m-486.5 0h0m105.5 0h0m-1030.5 0.5h0m26 0h0m13.5 0h0m6.5 0h0m1234 6h0m26.5 0h0m6.5 0h0m98.5 0h0m-506.5 0h0m7 0h0m6.5 0h0m131.5 0h0m-1096.5 0.5h0m26.5 0h0m86 0h0m301.5 0h0m59.5 0h0m597 6.5h0m-1024 0h0m6.5 0h0m13 0h0m6.5 0h0m26.5 0h0m328 0h0m-657.5 6.5h0m1235 0h0m72.5 0h0m6.5 0h0m26.5 0h0m-1129.5 0h0m85.5 0h0m26.5 0h0m6.5 0h0m879 6.5h0m-918.5 0h0m335 0.5h0m1031 6h0m19.5 0h0m-782 0h0m354.5 0h0m33 0h0m26.5 0h0m6.5 0h0m6.5 0h0m-1103 0.5h0m19.5 0h0m86 0h0m1319.5 6h0m-447 0h0m52.5 0h0m13.5 0h0m39.5 0h0m-951.5 0.5h0m879 6.5h0m79 0h0m-1070.5 0h0m26.5 0h0m72.5 0h0m1280.5 6h0m-1688.5 0h0m39.5 0h0m1254 0.5h0m-991 0h0m39.5 0h0m20 0h0m938.5 6.5h0m26 0h0m-918.5 0h0m46.5 0h0m1181 6.5h0m39.5 0h0m-374.5 0h0m-610.5 0.5h0m1038 6h0m-408 0h0m53 0h0m13 0h0m361.5 6.5h0m20 0h0m-414.5 0.5h0m-1057 0h0m1050.5 6.5h0m19.5 0h0m-662.5 0.5h0m643 6h0m6.5 6.5h0m-604.5 97h0m933.5 6h0m-992.5 0.5h0m85 0h0m-65.5 6.5h0m-33 6.5h0m59 0h0m7 0h0m940 6.5h0m19.5 0h0m-1025.5 0.5h0m79 0h0m-421 0h0m394.5 6.5h0m26.5 0h0m953.5 6h0m-1058.5 0.5h0m959.5 6h0m59.5 0h0m-940.5 0.5h0m6.5 0h0m-420.5 0h0m1031.5 6h0m-591 0.5h0m13 0h0m591.5 6h0m6.5 0h0m329 0.5h0m13.5 0h0m-921 0h0m505.5 6.5h0m106 0h0m197.5 0h0m-881 0.5h0m907 6h0m86 0h0m-1025.5 0.5h0m6.5 0h0m13 0h0m13 0h0m644 6h0m26.5 0h0m223.5 0h0m46 0h0m53 0h0m-1006 0.5h0m894 6h0m112 0h0m-1032.5 0.5h0m604 6h0m26.5 0h0m92.5 0h0m283 0h0m-933.5 0.5h0m-348.5 0.5h0m1242.5 6h0m6.5 0h0m118.5 0h0m-1032.5 0h0m26.5 0h0m511.5 6.5h0m26.5 0h0m79.5 0h0m237 0h0m53 0h0m-973 0.5h0m590.5 6h0m99.5 0h0m276 0h0m-979 0.5h0m91.5 0h0m914 12.5h0m52.5 0h0m-1038.5 0.5h0m966.5 6.5h0m19.5 0h0m33 0h0m13 0h0m-461.5 0h0m113 0h0m20 0h0m-651 0h0m32.5 0h0m861.5 6.5h0m13 0h0m26.5 0h0m-362.5 0h0m26.5 0h0m-683 0.5h0m13.5 0h0m111.5 0h0m-650 0.5h0m1511 5.5h0m6.5 0h0m-349 0h0m46.5 0h0m296 6.5h0m6.5 0h0m-322.5 0h0m33 0h0m6.5 0h0m-709.5 0.5h0m1006 6h0m-395.5 0h0m46 0h0m53 0h0m7 0h0m-703 0.5h0m26 0h0m39.5 0h0m913.5 6h0m-322.5 7h0m53 0h0m-598 0h0m-781.5 1h0m735.5 12.5h0m13 0h0m684.5 159h0m302.5 0.5h0m-316 12.5h0m-1374 1h0m1354.5 5.5h0m-1361 1h0m33 0h0m651 0h0m321.5 0h0m322.5 5.5h0m66 0h0m-1341 1h0m624 0h0m710.5 6h0m315.5 0.5h0m-1052 0h0m13 0h0m-355 0.5h0m926.5 5.5h0m20 0h0m92 0h0m276.5 0.5h0m-980 0.5h0m26.5 0h0m13.5 0h0m275.5 0h0m46 0h0m236.5 5.5h0m415 0.5h0m-1026 0.5h0m39.5 0h0m20 0h0m302 0h0m348.5 5.5h0m289.5 0.5h0m72.5 0h0m-1078.5 0.5h0m374.5 0h0m236.5 5.5h0m421.5 1h0m13 0h0m-1045.5 0h0m19.5 0h0m13.5 0h0m927 6.5h0m13 0h0m-966.5 0h0m33 0h0m33 0h0m584.5 6h0m276.5 0.5h0m19.5 0h0m-926.5 0.5h0m33 0h0m321.5 0h0m355.5 5.5h0m289.5 0.5h0m-993 0.5h0m6.5 0h0m26.5 0h0m19.5 0h0m276 0h0m249.5 5.5h0m26.5 0h0m132 0h0m157.5 0.5h0m79 0h0m6.5 0h0m46.5 0h0m-1624 0.5h0m624.5 0h0m302 0h0m611.5 6.5h0m-1558 0h0m657.5 0h0m308.5 0h0m316 6h0m13 0h0m39.5 0h0m-1341 0.5h0m637.5 0h0m46.5 0h0m-434 0.5h0m92 0h0m906.5 5.5h0m53 0h0m33 0h0m250 0.5h0m-1670.5 0h0m756.5 0.5h0m315.5 0h0m-663.5 0h0m893 5.5h0m20 0h0m66 0h0m236.5 0.5h0m26.5 0h0m39.5 0h0m-1597.5 0.5h0m860.5 0h0m33 0h0m428 5.5h0m-1315 1h0m618 0h0m46 0h0m183.5 0h0m86 0h0m-650.5 0h0m53 0h0m880 5.5h0m79 0h0m26.5 0h0m20 0h0m6.5 0h0m230 1h0m-874 0h0m196.5 0h0m39.5 0h0m-703 0h0m118.5 0h0m933 6h0m13 0h0m7 0h0m13 0h0m6.5 0h0m13.5 0h0m302.5 0.5h0m-1400.5 0.5h0m972.5 5.5h0m59.5 0h0m19.5 0h0m13.5 0h0m33 0h0m-1427 0.5h0m39.5 0h0m13 0h0m33 0h0m20 0h0m618 0.5h0m59 0h0m-486.5 0h0m19.5 0h0m20 0h0m72.5 0h0m933 5.5h0m13 0h0m40 0h0m-355.5 1h0m-709.5 0h0m13 0h0m1078 5.5h0m243.5 0.5h0m19.5 0h0m-1597.5 0.5h0m611.5 0h0m46 0h0m571.5 5.5h0m53 0h0m19.5 0h0m40 0h0m6.5 0h0m-690.5 1h0m46.5 0h0m-394.5 0h0m1301.5 6.5h0m13 0h0m13.5 0h0m33 0h0m-1756 0h0m19.5 0h0m618 0h0m33 0h0m20 0h0m46 0h0m262.5 0h0m66 0h0m20 0h0m19.5 0h0m-663.5 0.5h0m926.5 5.5h0m302.5 0.5h0m26.5 0h0m-1591 0h0m578 0.5h0m335.5 0h0m6.5 0h0m-716.5 0h0m53 0h0m33 0h0m1314.5 6h0m-1683 0.5h0m59 0h0m565 0h0m33 0h0m20 0h0m26.5 0h0m269 0h0m26.5 0h0m-992.5 6.5h0m979 0h0m-637 0h0m-348.5 6.5h0m631 0h0m132 0h0m-132 6.5h0m-335 0.5h0m348 6.5h0m66 0h0m-624.5 70h0m13.5 0h0m229.5 0h0m-262.5 6.5h0m19.5 0h0m229.5 0h0m20 0h0m6.5 0h0m-302 6.5h0m33 0h0m249 0.5h0m-269 6h0m53 0h0m13 0h0m229.5 0.5h0m-269 6.5h0m13.5 0h0m242.5 0h0m-236 6.5h0m203 0h0m1085.5 6h0m256.5 0h0m-1670.5 0.5h0m138.5 0h0m236 0h0m-341.5 6.5h0m53 0h0m255.5 0.5h0m1401.5 6h0m-1631 0h0m33 0h0m1275.5 6h0m263 0.5h0m33 0h0m40 0h0m-1736.5 0.5h0m756 0h0m-434.5 0h0m6.5 0h0m26.5 0h0m33 0h0m1256.5 6h0m-1684 0.5h0m26.5 0h0m72.5 0h0m7 0h0m308.5 0h0m966.5 6h0m309.5 0h0m39.5 0h0m-1664 0.5h0m7 0h0m255.5 0h0m1401.5 6.5h0m-1591 0h0m551.5 0h0m6.5 0h0m7 0h0m32.5 0h0m-394.5 0.5h0m46 0h0m26.5 0h0m6.5 0h0m39.5 0h0m1197 6h0m99 0h0m-1743 0h0m33 0h0m33 0h0m328.5 0.5h0m6.5 0h0m33 0h0m39.5 0h0m1269.5 6h0m-1670.5 0.5h0m585 0h0m13 0h0m20 0h0m335 0h0m-704 0h0m13.5 0h0m6.5 0h0m33 0h0m1322 6h0m-335.5 6.5h0m-1381 0.5h0m361.5 0h0m99 0h0m20 0h0m933.5 6h0m309.5 0.5h0m33 0h0m19.5 0h0m-1789 0h0m39.5 0h0m677 0h0m1020 6.5h0m6.5 0h0m-1085.5 0h0m72.5 0h0m407.5 0h0m-743 0.5h0m39.5 0h0m1362 6h0m-1802.5 0.5h0m13 0h0m13 0h0m13.5 0h0m19.5 0h0m651 0h0m-309 0h0m26 0h0m79.5 0h0m-506.5 6.5h0m13 0h0m152 0h0m196 0h0m119 0h0m1296 6h0m-1769.5 0.5h0m105.5 0h0m20 0h0m39.5 0h0m295.5 0h0m-447.5 6.5h0m13.5 0h0m19.5 0h0m308.5 0.5h0m106 0h0m19.5 0h0m1256.5 6h0m-1637.5 0h0m282 0.5h0m6.5 0h0m13.5 0h0m79 0h0m1243 6h0m-1650.5 0.5h0m59.5 0h0m552 0h0m-223.5 0h0m1289 6h0m-1355 0.5h0m13 0h0m86 0h0m1223 6h0m-1697 0.5h0m112.5 0h0m26.5 0h0m1545 6.5h0m-1677 0h0m52.5 0h0m295.5 0.5h0m92.5 0h0m-447.5 6h0m375 0.5h0m99 0h0m6.5 0h0m-454 6.5h0m46.5 0h0m387.5 0h0m20 0h0m6.5 0h0m-394.5 6.5h0m39.5 0h0m282.5 0h0m1269.5 6h0m-1637.5 0.5h0m1347.5 6h0m-966.5 1h0m46.5 0h0m6.5 0h0" stroke="#0050ff" stroke-width="5.8" stroke-linecap="round" fill="none"/>
<path d="M1405 1271h0m-603.5 0.5h0m978.5 6h0m-375 0.5h0m26.5 0h0m6.5 0h0m-669.5 0h0m991.5 6.5h0m7 0h0m32.5 0h0m-1037.5 0h0m952 6.5h0m-315.5 0h0m26.5 0h0m26 0h0m-105 6.5h0m6.5 0h0m59 0h0m7 0h0m-604 0.5h0m880 6h0m105 0h0m-434 0h0m20 0h0m79 0h0m6.5 0h0m230 6.5h0m72.5 0h0m19.5 0h0m13.5 0h0m32.5 0h0m-473.5 0.5h0m-590.5 0h0m39.5 0h0m26.5 0h0m893 6h0m72.5 0h0m-730 0.5h0m282.5 0h0m99 0h0m6.5 0h0m6.5 0h0m-689 0h0m46 0h0m886 6.5h0m20 0h0m26 0h0m7 0h0m-375 0h0m85.5 0h0m-722 0.5h0m26.5 0h0m85.5 0h0m886 6h0m92 0h0m-506.5 0h0m7 0h0m19.5 0h0m348.5 6.5h0m131.5 0h0m-460 0h0m-1267.5 7h0m19.5 0h0m1333.5 0h0m-636.5 0h0m6.5 0h0m26.5 0h0m840 6h0m118.5 0h0m-487 0.5h0m20 0h0m132 0h0m229.5 6.5h0m26.5 0h0m92 0h0m-453.5 0h0m72.5 0h0m46 0h0m-1070 0h0m905 6.5h0m39.5 0h0m79.5 0h0m-762 0.5h0m79 0h0m53 0h0m945.5 6h0m13 0h0m20 0h0m-421 0h0m13 0h0m105.5 0h0m-1030.5 0.5h0m308.5 0h0m958.5 6h0m13 0h0m92 0h0m-1734 0h0m1234.5 0.5h0m32.5 0h0m-1004 0h0m6.5 0h0m26.5 0h0m92.5 0h0m367.5 0h0m853 6h0m59.5 0h0m39.5 0h0m-1682 0.5h0m1195 0h0m125.5 0h0m-1057 0h0m72.5 0h0m33 0h0m6.5 0h0m39.5 0h0m209.5 0.5h0m13 0h0m39.5 0h0m913 5.5h0m26 0h0m13.5 0h0m26 0h0m46 0h0m-506.5 0.5h0m39.5 0h0m39.5 0h0m26.5 0h0m6.5 0h0m6.5 0h0m20 0h0m6.5 0h0m6.5 0h0m-1083 0h0m367.5 0.5h0m6.5 0h0m1005 6h0m72.5 0h0m-520 0h0m46 0h0m72.5 0h0m7 0h0m39.5 0h0m-1083.5 0.5h0m6.5 0h0m6.5 0h0m26.5 0h0m6.5 0h0m1280.5 6h0m-1603 0h0m1248 0h0m13 0h0m79 0h0m-984.5 0.5h0m374.5 0h0m939 6h0m-677.5 0h0m210 0.5h0m66 0h0m53 0h0m-1017.5 0h0m19.5 0h0m20 0h0m20 0h0m19.5 0h0m6.5 0h0m1208 6h0m6.5 0h0m13 0h0m99 0h0m-434 0.5h0m65.5 0h0m-1090 0h0m73 0h0m26 0h0m13.5 0h0m39.5 0h0m282 0.5h0m892.5 5.5h0m20 0h0m52.5 0h0m-1629 0h0m1195 0.5h0m46 0h0m-1024 0h0m39.5 0h0m53 0h0m308.5 0.5h0m39.5 0h0m46 0h0m860 6h0m-349 0h0m-596.5 0.5h0m65.5 0h0m893 6h0m33 0h0m46 0h0m-1675.5 0h0m1241.5 0h0m26 0h0m13.5 0h0m-1057 0.5h0m440 0h0m72.5 0h0m932.5 6h0m-388 0.5h0m39.5 0h0m13 0h0m-1083.5 0h0m473.5 0.5h0m971.5 5.5h0m-1136.5 1h0m131 103h0m604 6h0m-597.5 0.5h0m-46 6.5h0m637 6h0m336 0h0m-920.5 7h0m13 0h0m894.5 6.5h0m-1006 0.5h0m39.5 0h0m13 0h0m33 0h0m26 0h0m907.5 6h0m6.5 0h0m33 0h0m-1019 0.5h0m-33 6.5h0m125 0h0m-329 6.5h0m-426 0.5h0m1649 5.5h0m-953.5 0.5h0m46 0h0m591.5 6h0m355.5 0.5h0m-1025.5 0h0m59 0h0m-761.5 1h0m1359.5 5.5h0m26.5 6.5h0m190.5 0h0m-848 0.5h0m664 6h0m-1065 0.5h0m1262 6h0m59.5 0h0m92 0h0m26.5 0h0m-1045.5 0.5h0m39.5 0h0m13 0h0m20 0h0m966.5 6h0m-1006 0.5h0m525 6.5h0m6.5 0h0m6.5 0h0m343 0h0m105 0h0m20 0h0m-1065 0h0m46 0h0m250 0.5h0m394 6h0m381.5 0h0m-1058.5 0.5h0m39.5 0h0m544.5 6h0m382.5 0h0m13 0h0m-960 0.5h0m20 0h0m6.5 0h0m611 6h0m20 0h0m296 0h0m39.5 0h0m19.5 0h0m13.5 0h0m-1032.5 0.5h0m33 0h0m511.5 6h0m40 0h0m19.5 0h0m73 0h0m223.5 0h0m46.5 0h0m46 0h0m39.5 0h0m-1032.5 0.5h0m204.5 0.5h0m716 6h0m-382.5 0h0m106 0h0m6.5 0h0m6.5 6.5h0m7 0h0m-683.5 0.5h0m13 0h0m72 0h0m519 6h0m59.5 0h0m-683 0.5h0m39 0h0m26.5 0h0m584.5 6h0m66 0h0m-683.5 0.5h0m65.5 0h0m868 6h0m-309.5 0h0m13 0h0m-597.5 0.5h0m19.5 0h0m498.5 6.5h0m33.5 0h0m39.5 0h0m-643.5 0h0m78.5 0h0m505.5 6.5h0m33 0h0m-545 0h0m545 6.5h0m26.5 0h0m-571.5 7h0m-695.5 0.5h0m695.5 6h0m6.5 0h0m-696 159.5h0m1308 6h0m-1301.5 1h0m1617.5 6h0m-1604 0.5h0m933 0h0m677.5 6.5h0m39.5 0h0m-690.5 0h0m368 6h0m276.5 0.5h0m26.5 0h0m-1637.5 0h0m26.5 0h0m598 0h0m723.5 6h0m269.5 0.5h0m-408 6h0m138.5 0h0m249.5 0.5h0m33 0h0m-1643.5 0.5h0m604.5 6.5h0m13.5 0h0m46 0h0m525.5 5.5h0m99 0h0m-1282 1h0m578.5 0h0m79 0h0m275.5 0h0m335.5 6h0m309.5 0.5h0m-966.5 0h0m335 0h0m243 6h0m158.5 0h0m249.5 0.5h0m26.5 0h0m-966.5 0.5h0m861 6h0m59.5 0h0m66 0h0m-704 0.5h0m335 5.5h0m7 0h0m39.5 0h0m249.5 0.5h0m-1623.5 0.5h0m52.5 0h0m631 0h0m328.5 0h0m46.5 0h0m203 5.5h0m86 0h0m53 0h0m216.5 1h0m79.5 0h0m-1624 0h0m13 0h0m585 0h0m644 6h0m39.5 0h0m13.5 0h0m33 0h0m203.5 0.5h0m85.5 0h0m-1696.5 0h0m26.5 0h0m644.5 0h0m401 0h0m-756 0.5h0m20 0h0m1038.5 5.5h0m-1315 0.5h0m39.5 0h0m585 0.5h0m361.5 0h0m-696.5 0h0m6.5 0h0m1052 5.5h0m322 0.5h0m-1052 0.5h0m39.5 0h0m348.5 0h0m6.5 0h0m6.5 0h0m269.5 5.5h0m329 0.5h0m-1630.5 0.5h0m33 0h0m1189 5.5h0m46.5 0h0m59.5 0h0m342 1h0m13 0h0m-1012.5 0h0m6.5 0h0m269 0h0m-637 0h0m1005.5 6h0m20 0h0m276 0.5h0m13.5 0h0m-1677 0h0m79.5 0h0m26 0h0m821 0h0m39.5 0h0m112.5 0h0m-776 0.5h0m20 0h0m1078 5.5h0m296 0.5h0m-999.5 0.5h0m26.5 0h0m39.5 0h0m13.5 0h0m216 0h0m20 0h0m-670 0h0m979 5.5h0m66 0h0m236.5 0.5h0m112 0h0m-1742.5 0.5h0m717 0h0m6.5 0h0m322 0h0m59 0h0m-729.5 0h0m59.5 0h0m893.5 5.5h0m309 0.5h0m66 0h0m-1670 0.5h0m730 0h0m6.5 0h0m223 0h0m66 0h0m-775.5 0h0m6.5 0h0m39.5 0h0m26.5 0h0m1321 6.5h0m73 0h0m-1716.5 0h0m585 0h0m66 0h0m39.5 0h0m6.5 0h0m242.5 0h0m7 0h0m72.5 0h0m-736 0h0m125 0h0m939.5 6h0m270 0.5h0m33 0h0m26 0h0m-986 0h0m19.5 0h0m-467 0.5h0m165 0h0m-348.5 6h0m551.5 0.5h0m106 0h0m216 0h0m72.5 0h0m-742.5 0h0m13 0h0m20 0h0m355 6.5h0m19.5 0h0m53 0h0m216 0h0m-689.5 0h0m72.5 0h0m6.5 0h0m-362 6.5h0m13 0h0m26.5 0h0m611.5 0h0m6.5 0h0m39.5 0h0m26.5 0h0m6.5 0h0m249.5 0h0m-289 6.5h0m6.5 0h0m13 0h0m-361 0h0m46 0h0m302 6.5h0m39.5 0h0m-85.5 7h0m19.5 0h0m13.5 0h0m59 0h0m-387.5 0h0m33 0h0m-276 70h0m255.5 6.5h0m-335 6.5h0m322 0.5h0m6.5 0h0m0 6.5h0m-269 6.5h0m39.5 6.5h0m183.5 0h0m19.5 0h0m-269 6.5h0m39.5 0h0m13.5 0h0m209.5 0h0m46 0h0m1033 6h0m-1315 0.5h0m6.5 0h0m223 0.5h0m46 0h0m-13 6.5h0m13 0h0m6.5 0h0m40 0h0m-355 6.5h0m322 0h0m33 0h0m13 0h0m1196.5 6h0m66.5 0h0m6.5 0h0m46 0h0m-1624 0.5h0m196.5 0h0m52.5 0h0m1039.5 6h0m243 0h0m20 0h0m26.5 0h0m-1730 0.5h0m66 0h0m46.5 0h0m591 0h0m-256 0h0m926.5 6h0m369 0.5h0m-1302.5 0.5h0m7 0h0m986 5.5h0m-1308 0.5h0m538.5 0h0m13.5 0h0m960 6.5h0m59.5 0h0m6.5 0h0m-1315.5 0.5h0m13 0h0m6.5 0h0m59.5 0h0m6.5 0h0m13.5 0h0m6.5 0h0m1216.5 6h0m-1637.5 0.5h0m375 0h0m-427.5 6.5h0m26.5 0h0m99 0h0m163 0h0m7 0h0m33 0h0m6.5 0h0m33 0h0m99 0h0m1210 6.5h0m13 0h0m-1046 0h0m427.5 0h0m-783 0.5h0m20 0h0m13 0h0m119 0h0m20 0h0m834.5 5.5h0m435 0.5h0m-1756.5 0h0m710 0h0m-375 0.5h0m105.5 0h0m881 5.5h0m375.5 0.5h0m-1637.5 0.5h0m72.5 0h0m525.5 0h0m26.5 0h0m19.5 0h0m-362 0h0m59.5 0h0m39.5 0h0m999.5 6h0m-1433.5 0.5h0m657.5 0h0m-322.5 0h0m20 0h0m33 0h0m52.5 0h0m40 0h0m1210 6h0m-1697 0.5h0m13 0h0m7 0h0m19.5 0h0m328.5 0h0m33 0h0m6.5 0h0m53 0h0m6.5 0h0m-401 6.5h0m53 0h0m46 0h0m505.5 0h0m-315.5 0.5h0m19.5 0h0m53 0h0m1329 6h0m-1769.5 0h0m26 0h0m684 0h0m13 0h0m-355 0.5h0m6.5 0h0m79 0h0m914 5.5h0m-1222.5 1h0m578 0h0m-335.5 0h0m112.5 0h0m13 0h0m1203.5 6h0m-1578 0.5h0m657 0h0m-315.5 0h0m920.5 6h0m395 0h0m-1749.5 0.5h0m26.5 0h0m26.5 0h0m52.5 0h0m223 0h0m26.5 0h0m92 0h0m13.5 0h0m1263 6.5h0m-1703.5 0h0m644 0h0m92.5 0h0m-408.5 0.5h0m86 0h0m618 6h0m-677.5 0.5h0m-19.5 6.5h0m6.5 0h0m66 0h0m1256 6h0m-1637.5 0.5h0m40 0h0m354.5 0h0m20 0h0m6.5 0h0m1282.5 6h0m-1743 0.5h0m348.5 0h0m39.5 0h0m39.5 0h0m-401 6.5h0m368 0.5h0m13 0h0m26.5 0h0" stroke="#006cff" stroke-width="5.8" stroke-linecap="round" fill="none"/>
<path d="M1359 1271h0m-564 0.5h0m570.5 6.5h0m-964.5 0h0m19.5 0h0m1372.5 6.5h0m26.5 0h0m-434 0h0m26 0h0m13.5 0h0m-656.5 0h0m20 0h0m19.5 0h0m978.5 6.5h0m-414.5 0h0m13.5 0h0m19.5 0h0m-583.5 0h0m886 6.5h0m46 0h0m59.5 0h0m-375 0h0m-1267.5 0h0m611.5 0.5h0m938.5 6h0m46.5 0h0m-434.5 0h0m6.5 0h0m20 0h0m13 0h0m-1201.5 0.5h0m664 0h0m985 6h0m-441 0.5h0m13.5 0h0m85.5 0h0m-676 0h0m33 0h0m886 6h0m33 0h0m46 0h0m13.5 0h0m-762.5 0.5h0m6.5 0h0m394 0h0m26.5 0h0m-1366 0h0m696.5 0h0m939 6.5h0m-414.5 0h0m39.5 0h0m13.5 0h0m105.5 0h0m-1432 0h0m118 0h0m677 0.5h0m860 6h0m138.5 0h0m-375 0h0m-695.5 0.5h0m32.5 0h0m926 6h0m98.5 0h0m-506.5 0h0m-564 0.5h0m79 0h0m597 6.5h0m20 0h0m249.5 6h0m26.5 0h0m6.5 0h0m20 0h0m65.5 0h0m-500 0.5h0m53 0h0m79 0h0m302.5 6.5h0m78.5 0h0m7 0h0m-447.5 0h0m72.5 0h0m-1057 0h0m33 0h0m13.5 0h0m347.5 0.5h0m932.5 6h0m6.5 0h0m-1563.5 0h0m1156 0h0m19.5 0h0m132 0h0m6.5 0h0m-1136 0.5h0m59 0h0m1333 6h0m66 0h0m26.5 0h0m-1734.5 0h0m1214.5 0h0m33 0h0m-971.5 0.5h0m59.5 0h0m59.5 0h0m236 0h0m13 0h0m59.5 0h0m19.5 0h0m879.5 6h0m39.5 0h0m-1603 0h0m1320.5 0.5h0m13.5 0h0m13 0h0m-1083.5 0h0m59.5 0h0m13 0h0m26.5 0h0m269 0h0m1064 6h0m-1465 0.5h0m26.5 0h0m13 0h0m20 0h0m72.5 0h0m282 0.5h0m1031 5.5h0m-730 0.5h0m256.5 0h0m46 0h0m26.5 0h0m59.5 0h0m-1116.5 0h0m79 0h0m26.5 0h0m66 0h0m255.5 0.5h0m991.5 6h0m33 0h0m-460.5 0h0m46 0h0m-1010.5 0.5h0m33 0h0m13 0h0m26.5 0h0m26.5 0h0m26 0h0m20 0h0m1181.5 6h0m26 0h0m26.5 0h0m72.5 0h0m-474 0h0m46.5 0h0m-1017.5 0.5h0m26.5 0h0m85.5 0h0m295 0h0m39.5 0h0m-697 6h0m1208.5 0.5h0m66 0h0m-1063.5 0h0m13 0h0m26.5 0h0m125.5 0h0m288.5 0h0m906 6h0m32.5 0h0m46.5 0h0m13 0h0m-447.5 0.5h0m13.5 0h0m19.5 0h0m46 0h0m-1070 0h0m119 0h0m33 0h0m242 0.5h0m7 0h0m39.5 0h0m958.5 5.5h0m19.5 0h0m33 0h0m-1629.5 0h0m1149.5 0.5h0m19.5 0h0m53 0h0m39.5 0h0m-1090 0h0m72.5 0h0m59.5 0h0m262 0.5h0m1011.5 6h0m13 0h0m-401 0h0m79 0h0m6.5 0h0m-1096.5 0.5h0m26.5 0h0m46 0h0m348 0h0m13 0h0m46.5 0h0m925.5 6h0m-1721 0h0m1313 0h0m40 0h0m19.5 0h0m-1037 0.5h0m1050 6.5h0m-616.5 0.5h0m0 6.5h0m998 5.5h0m-394.5 0.5h0m-742 0.5h0m-264 103h0m39.5 0h0m926.5 6h0m362.5 0h0m-992.5 0.5h0m19.5 0h0m973 6h0m-927 0.5h0m-401.5 0.5h0m1335 6h0m-1328 0.5h0m1341 6h0m-999 0.5h0m32.5 0h0m6.5 0h0m46 0h0m-322 0h0m-465.5 0.5h0m52.5 0h0m1655.5 5.5h0m-1032 0.5h0m6.5 0h0m13.5 0h0m-650 0.5h0m1649 5.5h0m-1032 0.5h0m26.5 0h0m26 0h0m13 0h0m33 0h0m617.5 6h0m316 0h0m20 0h0m-1032.5 0.5h0m13.5 0h0m13 0h0m19.5 0h0m65.5 0h0m7 0h0m6.5 0h0m-111.5 6.5h0m39 0h0m20 0h0m39 0h0m-820.5 0.5h0m1734.5 6h0m20 0h0m-1006 0h0m26.5 0h0m6.5 0h0m32.5 0h0m13.5 0h0m6.5 0h0m472 6.5h0m448.5 0h0m-979.5 0.5h0m13 0h0m6.5 0h0m39.5 0h0m-500 0h0m132 0h0m833.5 6h0m330 0h0m46 0h0m-920.5 0.5h0m39.5 0h0m13 0h0m20 0h0m6.5 0h0m-401 0h0m-400 0.5h0m1299.5 5.5h0m73 0h0m26.5 0h0m243.5 0h0m72.5 0h0m13 0h0m-1019 0.5h0m584 6h0m93 0h0m-696.5 0.5h0m893.5 6h0m26.5 0h0m59.5 0h0m19.5 0h0m39.5 0h0m6.5 0h0m13.5 0h0m-1078.5 0.5h0m13.5 0h0m52 0h0m531.5 6.5h0m-577 0h0m13 0h0m52.5 0h0m19.5 0h0m505.5 6.5h0m6.5 0h0m79.5 0h0m26.5 0h0m-716.5 0.5h0m26.5 0h0m570.5 6h0m33.5 0h0m59.5 0h0m33 0h0m210.5 0h0m-920 0.5h0m32.5 0h0m13 0h0m46 0h0m-427 0h0m46 0h0m992.5 6h0m-742.5 0.5h0m111.5 0h0m-328.5 0h0m1196 6h0m66 0h0m26.5 0h0m-1038.5 0.5h0m45.5 0h0m13.5 0h0m13 0h0m-421 0.5h0m1288.5 6h0m59.5 0h0m33 0h0m-435 0h0m-564.5 0h0m46 0h0m966.5 6.5h0m-461.5 0h0m26.5 0h0m53 0h0m296.5 6.5h0m72.5 0h0m-316 0h0m-664 0.5h0m20 0h0m6.5 0h0m927 6h0m20 0h0m-409 0h0m26.5 0h0m40 0h0m20 0h0m-960 0.5h0m847 6h0m26.5 0h0m33.5 0h0m13 0h0m26.5 0h0m-637.5 0.5h0m52.5 0h0m492.5 6.5h0m33 0h0m79.5 0h0m-624.5 0h0m6.5 0h0m-361.5 0.5h0m867 6h0m19.5 0h0m-597 0h0m85 0h0m565 6.5h0m13.5 0h0m6.5 0h0m-624 0.5h0m39 6.5h0m625.5 165.5h0m348.5 0.5h0m-1696.5 0h0m13.5 0h0m1308 6h0m33 0h0m316 0.5h0m-1650.5 0.5h0m20 0h0m-73 6.5h0m46.5 0h0m19.5 0h0m624.5 0h0m644 5.5h0m342.5 1h0m-1611 0h0m26.5 0h0m-105.5 6.5h0m99 0h0m1268.5 6h0m342 0.5h0m26.5 0h0m-1637 0h0m571.5 0.5h0m46.5 6.5h0m262.5 0h0m66 0h0m572 6h0m66 0h0m-1604.5 0.5h0m565 0h0m53 0h0m20 0h0m282 0h0m737 6.5h0m-1065.5 0h0m986.5 6.5h0m-999.5 0h0m730 6h0m296 0.5h0m-1348 0.5h0m1282 6h0m72.5 0h0m33 0h0m-1696.5 0.5h0m79 0h0m1202.5 5.5h0m99 0h0m243.5 0.5h0m-1644 0.5h0m92.5 0h0m1275 5.5h0m309.5 1h0m13 0h0m-1683.5 0h0m730 0h0m578.5 6h0m105.5 0h0m243 0.5h0m13.5 0h0m13 0h0m-1703 0h0m6.5 0h0m6.5 0h0m13.5 0h0m26 0h0m572 0h0m440.5 0h0m20 0h0m-703.5 0.5h0m986 5.5h0m322.5 0.5h0m19.5 0h0m6.5 0h0m-1676.5 0h0m717 0.5h0m-414.5 0h0m79.5 0h0m972.5 5.5h0m-1367.5 1h0m6.5 0h0m13 0h0m26.5 0h0m684 0h0m189.5 0h0m-630.5 0h0m40 0h0m1064.5 5.5h0m13.5 0h0m197 0.5h0m59.5 0h0m33 0h0m-1736.5 0.5h0m756.5 0h0m-434 0h0m33 0h0m72.5 0h0m26.5 0h0m1249 6.5h0m-1677 0h0m677.5 0h0m85.5 0h0m190 0h0m-650.5 0h0m1005.5 6h0m112.5 0h0m289.5 0.5h0m19.5 0h0m-1690 0h0m33 0h0m532 0h0m152 0h0m-467 0.5h0m59.5 0h0m19.5 0h0m13.5 0h0m926 5.5h0m112.5 0h0m309 0.5h0m6.5 0h0m-1637 0h0m657.5 0.5h0m282.5 0h0m-690 0h0m6.5 0h0m1038.5 5.5h0m20 0h0m243 0.5h0m-1670 0.5h0m13 0h0m39.5 0h0m13.5 0h0m677 0h0m26.5 0h0m295.5 0h0m-676.5 0h0m1038.5 5.5h0m223 0.5h0m40 0h0m39.5 0h0m26.5 0h0m-1762.5 0.5h0m6.5 0h0m52.5 0h0m13.5 0h0m13 0h0m236.5 0h0m13.5 0h0m46 0h0m79.5 0h0m946 5.5h0m6.5 0h0m-1334.5 1h0m13 0h0m631 0h0m315.5 0h0m6.5 0h0m-736 0h0m1361 6.5h0m-1564.5 0h0m565 0h0m33 0h0m295.5 0h0m-624 0.5h0m-362 6h0m33 0h0m624.5 0.5h0m85.5 0h0m26.5 0h0m-407.5 0h0m66 0h0m1248.5 6h0m-1604 0.5h0m20 0h0m6.5 0h0m565 0h0m-374.5 0h0m79 0h0m39.5 0h0m256 6.5h0m86 0h0m275.5 0h0m-723 0h0m86 0h0m315 6.5h0m13.5 0h0m-414.5 0h0m59.5 0h0m6.5 0h0m6.5 0h0m7 0h0m6.5 0h0m577.5 6.5h0m-597.5 0.5h0m-33 6.5h0m-263 76.5h0m40 0h0m236 0h0m-262.5 6.5h0m262.5 0.5h0m39.5 0h0m-308.5 6h0m52.5 0h0m209.5 0.5h0m-269 6.5h0m66 0h0m196.5 0h0m6.5 0h0m7 6.5h0m6.5 0h0m13 0h0m-262.5 13h0m243 0.5h0m52.5 0h0m1006.5 5.5h0m-1099 1h0m7 0h0m46 6.5h0m-249 6.5h0m1604.5 6h0m6.5 0h0m-1085.5 0.5h0m39.5 0h0m-369 0h0m13.5 0h0m19.5 0h0m33 0h0m7 0h0m1276 6.5h0m26 0h0m-1611 0h0m565.5 0h0m-270 0.5h0m53 0h0m19.5 0h0m-414 6h0m651 0h0m-230 0.5h0m1229.5 6h0m-1361.5 0.5h0m26 0h0m7 0h0m1368.5 6h0m-1079 0.5h0m13 0h0m-342.5 0h0m20 0h0m92.5 0h0m19.5 0h0m1210 6h0m20 0h0m6.5 0h0m-1611 0.5h0m558.5 0h0m6.5 0h0m20 0h0m-243.5 0h0m-440.5 6.5h0m671 0h0m26 0h0m-381.5 0.5h0m59 0h0m309.5 6h0m-368.5 0.5h0m85.5 0h0m26.5 0h0m39.5 0h0m881 5.5h0m66 0h0m329 0.5h0m-1756 0.5h0m723.5 0h0m-309.5 0h0m20 0h0m19.5 0h0m-453.5 6.5h0m19.5 0h0m33 0h0m73 0h0m551.5 0h0m-282.5 0h0m105.5 0h0m6.5 0h0m867.5 6h0m375.5 0h0m-1756 0.5h0m66 0h0m611 0h0m13.5 0h0m6.5 0h0m13 0h0m328.5 0h0m-677.5 0h0m66 0h0m66 0h0m-467 6.5h0m671 0h0m33 0h0m-355.5 0.5h0m132 0h0m-473.5 6h0m650.5 0h0m-282.5 0.5h0m112 0h0m-361.5 6.5h0m6.5 0h0m322 0h0m26.5 0h0m-480.5 6.5h0m7 0h0m132 0h0m538.5 0h0m6.5 0h0m20 0h0m-223.5 0h0m618 6.5h0m-1091.5 0h0m677 0h0m79 0h0m-322 0h0m-302 6.5h0m551.5 0h0m-342 0.5h0m1388 6h0m-711 0h0m-657.5 0.5h0m53 0h0m302.5 6.5h0m664 6h0m-1367.5 0.5h0m1354.5 6h0m-1341.5 0.5h0m368 0h0m46.5 0h0m33 0h0m-33 7h0" stroke="#0084ff" stroke-width="5.8" stroke-linecap="round" fill="none"/>
<path d="M1398.5 1271h0m-630 0.5h0m1005 6h0m33 0h0m-414.5 0.5h0m-1313.5 0h0m729.5 0h0m6.5 0h0m906 6.5h0m33 0h0m-388 0h0m72.5 0h0m-1366 0h0m65.5 0h0m1616 6.5h0m-309 0h0m-1326.5 0h0m46 0h0m598 0h0m72.5 0h0m899.5 6.5h0m-355.5 0h0m20 0h0m-925 0.5h0m374 0h0m906 6h0m-328.5 0h0m-636.5 0.5h0m906 6h0m46 0h0m72.5 0h0m19.5 0h0m13 0h0m-447 0.5h0m-1017.5 0h0m447 0h0m866.5 6h0m52.5 0h0m39.5 0h0m33 0h0m-775.5 0.5h0m78.5 0h0m322 0h0m-1254.5 0h0m578.5 0h0m20 0h0m932 6.5h0m-532.5 0h0m217 0h0m79 0h0m-1405.5 0h0m111.5 0h0m585 0.5h0m33 0h0m33 0h0m866.5 6h0m33 0h0m26.5 0h0m-414.5 0h0m46 0h0m13 0h0m53 0h0m6.5 0h0m-696 0.5h0m53 0h0m26 0h0m866.5 6h0m33 0h0m13.5 0h0m6.5 0h0m52.5 0h0m26.5 0h0m-506.5 0h0m6.5 0h0m98.5 0h0m-669 0.5h0m26 0h0m20 0h0m6.5 0h0m886 6h0m118.5 0h0m13.5 0h0m-1800 0.5h0m1286.5 0h0m7 0h0m19.5 0h0m132 0h0m-669.5 0h0m26 0h0m544.5 6.5h0m13 0h0m-597 0h0m899.5 6.5h0m13.5 0h0m98.5 0h0m-434 0h0m52.5 0h0m6.5 0h0m-1070 0h0m59.5 0h0m19.5 0h0m26.5 0h0m6.5 0h0m275.5 0.5h0m13.5 0h0m85.5 0h0m892.5 6h0m92.5 0h0m-520 0h0m-925 0.5h0m46 0h0m308.5 0h0m52.5 0h0m39.5 0h0m965.5 6h0m19.5 0h0m-467 0h0m39.5 0h0m-1043.5 0.5h0m92 0h0m20 0h0m13 0h0m315 0h0m959 6h0m72 0h0m-467 0.5h0m26.5 0h0m-1030.5 0h0m26 0h0m73 0h0m6.5 0h0m301.5 0h0m53 0h0m925.5 6h0m79 0h0m6.5 0h0m-407.5 0.5h0m52.5 0h0m20 0h0m-1044 0h0m86 0h0m236 0.5h0m39.5 0h0m13 0h0m13 0h0m899.5 5.5h0m98.5 0h0m-467 0.5h0m7 0h0m-879 0h0m6.5 0h0m6.5 0h0m236 0.5h0m72.5 0h0m26 0h0m906 6h0m26.5 0h0m-394.5 0h0m39.5 0h0m-938.5 0.5h0m302 0h0m13 0h0m13.5 0h0m32.5 0h0m860 6h0m33 0h0m92 0h0m-427.5 0h0m-1043.5 0.5h0m19.5 0h0m33 0h0m39.5 0h0m66 0h0m295.5 0h0m19.5 0h0m893 6h0m26 0h0m26.5 0h0m46 0h0m-500 0.5h0m20 0h0m-885.5 0h0m19.5 0h0m26.5 0h0m255.5 0h0m13.5 0h0m6.5 0h0m978.5 6h0m32.5 0h0m26.5 0h0m-493.5 0.5h0m6.5 0h0m20 0h0m105.5 0h0m-1063.5 0h0m125 0h0m282 0.5h0m6.5 0h0m919.5 5.5h0m52.5 0h0m-355 0.5h0m46 0h0m-1109.5 0h0m433.5 0.5h0m932.5 6h0m13 0h0m-348.5 0h0m52.5 0h0m-1037 0.5h0m354.5 0h0m72.5 0h0m13 0h0m880 6h0m33 0h0m59 0h0m26.5 0h0m-480.5 0h0m-978 0.5h0m13.5 0h0m374.5 0h0m59 0h0m998 6h0m-368 0.5h0m361.5 6h0m13 0h0m-394.5 7h0m-624 97h0m538 6h0m-584 0.5h0m19.5 0h0m6.5 0h0m26.5 6.5h0m19.5 0h0m-85 6.5h0m59 0h0m538 6h0m389 0.5h0m6.5 0h0m19.5 0h0m-1012 0h0m13 0h0m19.5 0h0m6.5 0h0m26.5 0h0m6.5 0h0m39.5 0h0m-722 1h0m597 6h0m52.5 0h0m46 0h0m-702 0.5h0m1207 5.5h0m33.5 0h0m408.5 0h0m-1058.5 0.5h0m78.5 0h0m39.5 0h0m20 0h0m6.5 0h0m-768 0.5h0m1642.5 5.5h0m19.5 0h0m-1019 0.5h0m26.5 0h0m13 0h0m13 0h0m13.5 0h0m32.5 0h0m-374.5 0h0m880 6h0m415 0h0m26.5 0h0m-1052 0.5h0m26.5 0h0m13 0h0m6.5 0h0m33 0h0m19.5 0h0m6.5 0h0m-440.5 0h0m1335 6h0m13 0h0m59 0h0m-1025.5 0.5h0m591 6h0m92.5 0h0m270 0.5h0m19.5 0h0m-914 0h0m198 0.5h0m420 6h0m217 0h0m72.5 0h0m46 0h0m6.5 0h0m20 0h0m-1071.5 0.5h0m45.5 0h0m6.5 0h0m538 6h0m93 0h0m6.5 0h0m20 0h0m177.5 0h0m85.5 0h0m33 0h0m26.5 0h0m26 0h0m13.5 0h0m-1045.5 0.5h0m72 0h0m505.5 6h0m79.5 0h0m210.5 0h0m59.5 0h0m-953 0.5h0m32.5 0h0m39.5 0h0m6.5 0h0m19.5 0h0m6.5 0h0m7 0h0m505 6h0m329.5 0h0m13.5 0h0m52.5 0h0m53 0h0m13 0h0m-1091.5 0.5h0m590.5 6h0m356 0h0m46 0h0m92.5 0h0m-1045.5 0.5h0m13 0h0m20 0h0m45.5 0h0m591.5 6.5h0m349 0h0m13 6.5h0m-1071.5 0.5h0m690 6h0m349 0h0m59 0h0m-1071.5 0.5h0m13 0h0m6.5 0h0m544.5 6h0m6.5 0h0m13.5 0h0m362.5 0h0m72.5 0h0m19.5 0h0m26.5 0h0m-1071.5 0.5h0m19.5 0h0m33 0h0m-421 0h0m-327.5 0.5h0m1642.5 5.5h0m-973 0.5h0m46 0h0m6.5 0h0m33 0h0m-434 0.5h0m368.5 6h0m-663.5 1h0m1253.5 5.5h0m46.5 0h0m13.5 0h0m73 0h0m-664 0.5h0m6.5 0h0m13 0h0m6.5 0h0m-788 0.5h0m13.5 0h0m1286.5 5.5h0m46 0h0m80 0h0m-769 0.5h0m65.5 0h0m13 0h0m59 0h0m498.5 6h0m46.5 0h0m-571 0.5h0m19.5 0h0m498.5 6h0m53 0h0m79.5 0h0m-683.5 0.5h0m13 0h0m13.5 0h0m52.5 0h0m874.5 6h0m-336 0.5h0m-611 0h0m13 0h0m617.5 6.5h0m7 0h0m-611 0h0m32.5 7h0m13.5 0h0m-794.5 0.5h0m1372.5 5.5h0m363 166.5h0m-1663.5 0h0m52.5 0h0m1637 6.5h0m-1689.5 0.5h0m26 0h0m-52.5 6.5h0m664 6.5h0m26.5 0h0m-677.5 6.5h0m33 0h0m-13 6.5h0m19.5 7h0m591.5 0h0m13.5 0h0m584.5 5.5h0m421.5 0.5h0m59.5 0h0m-1072.5 0.5h0m690.5 5.5h0m-1301.5 1h0m598 0h0m611 6h0m-1215.5 0.5h0m19.5 0h0m7 0h0m558 0h0m730 6h0m-1288 0.5h0m13 0h0m1485.5 6.5h0m-1505.5 0.5h0m624.5 0h0m335 0h0m7 0h0m322 5.5h0m46 0h0m263 0.5h0m46.5 0h0m-1637 0.5h0m867 0h0m441 5.5h0m13 0h0m296 1h0m6.5 0h0m-1689.5 0h0m6.5 0h0m13 0h0m59.5 0h0m618 0h0m354.5 0h0m289.5 6h0m39.5 0h0m322.5 0.5h0m-1736 0h0m72.5 0h0m26.5 0h0m19.5 0h0m519 0h0m749.5 6h0m33 0h0m-1413.5 0.5h0m85.5 0h0m13.5 0h0m518.5 0.5h0m401.5 0h0m52.5 0h0m684.5 6h0m-1769.5 0.5h0m13.5 0h0m92.5 0h0m6.5 0h0m631 0h0m46 0h0m236 0h0m368.5 5.5h0m26.5 0h0m329 0.5h0m-1742.5 0.5h0m46 0h0m53 0h0m664 0h0m216 0h0m92.5 0h0m-749.5 0h0m66 0h0m20 0h0m-401.5 6.5h0m46 0h0m6.5 0h0m46.5 0h0m269.5 0h0m13 0h0m979.5 6h0m355 0.5h0m40 0h0m-1769.5 0h0m20 0h0m776 0h0m-368 0.5h0m986 5.5h0m302.5 0.5h0m-1696.5 0h0m66 0h0m26.5 0h0m920 0.5h0m19.5 0h0m6.5 0h0m-736 0h0m119 0h0m13 0h0m1209 6h0m53 0h0m20 0h0m13 0h0m20 0h0m-1677 0.5h0m618 0h0m6.5 0h0m13 0h0m-427 0h0m13 0h0m33 0h0m1038.5 5.5h0m6.5 0h0m256.5 0.5h0m-1525 0.5h0m6.5 0h0m605 0h0m-381.5 0h0m1328 6.5h0m20 0h0m39.5 0h0m-1729.5 0h0m19.5 0h0m638 0h0m66 0h0m354.5 0h0m13.5 0h0m-776 0h0m33 0h0m13.5 0h0m72.5 0h0m-421.5 6.5h0m13.5 0h0m13 0h0m13 0h0m20 0h0m703.5 0h0m-460.5 0.5h0m59.5 0h0m46.5 0h0m-408.5 6h0m39.5 0h0m7 0h0m664 0.5h0m242.5 0h0m119 0h0m-657 0h0m13 0h0m-368.5 6.5h0m20 0h0m210 0h0m6.5 0h0m467 6.5h0m190 0h0m-564.5 0h0m282 6.5h0m46.5 0h0m-401 7h0m13 0h0m26.5 0h0m0 6.5h0m13 0h0m7 0h0m-296 70h0m269 0h0m46 0h0m20 0h0m-322 6.5h0m33 0h0m209.5 0h0m-203 6.5h0m262.5 0.5h0m-72.5 6.5h0m20 0h0m-302 6.5h0m13 0h0m46 0h0m26.5 0h0m236 0h0m39.5 0h0m13.5 0h0m960 6h0m-1275.5 0.5h0m7 0h0m282 0h0m13 0h0m-72.5 6.5h0m26.5 0h0m39.5 0h0m20 7h0m-302 6h0m1584.5 6.5h0m-1598 0.5h0m342 0h0m-119 6.5h0m33 0h0m59.5 0h0m1262.5 6h0m7 0h0m-1631 0.5h0m6.5 0h0m6.5 0h0m276 0h0m46 0h0m13 0h0m26.5 0h0m973.5 6h0m256.5 0.5h0m-1006.5 0h0m-362 0.5h0m26.5 0h0m13 0h0m13.5 0h0m99 0h0m960 5.5h0m256.5 0.5h0m6.5 0h0m26.5 0h0m20 0h0m6.5 0h0m-1651 0h0m585 0h0m-349 0.5h0m26.5 0h0m6.5 0h0m59.5 0h0m237 6.5h0m-342.5 0h0m1447.5 6h0m-1098.5 0.5h0m434 0h0m-651 0h0m1263 6h0m-1079 0.5h0m46 0h0m6.5 0h0m-355.5 0h0m40 0h0m85.5 0h0m-132 7h0m13.5 0h0m138.5 0h0m1223 6h0m33 0h0m-1295.5 0.5h0m26 0h0m13.5 0h0m821 5.5h0m73 0h0m-1354.5 1h0m6.5 0h0m624.5 0h0m6.5 0h0m-322.5 0h0m966.5 6h0m-1275 0.5h0m13.5 0h0m657 0h0m-309 0h0m-355 6.5h0m644.5 0h0m-349 0h0m20 0h0m26.5 0h0m46 0h0m-434 6.5h0m53 0h0m624.5 0h0m46 0h0m-382 0.5h0m1434.5 6h0m-757 0h0m-1019 0h0m6.5 0h0m46.5 0h0m72.5 0h0m242.5 0.5h0m46 0h0m1322.5 6h0m-1052.5 0.5h0m33 0h0m308.5 6.5h0m6.5 0h0m-986 6.5h0m427.5 0h0m1309 6.5h0m-757 0h0m19.5 0h0m-1032 0h0m736.5 0h0m26.5 0h0m-401.5 0.5h0m79.5 0h0m-421 6h0m6.5 0h0m6.5 0h0m401 0.5h0m1289.5 6h0m-698 0h0m-1005.5 0.5h0m743 0h0m13.5 0h0m-362 0h0m26.5 0h0m26 0h0m1263 6h0m-1723 0.5h0m19.5 0h0m394.5 6.5h0m46 0h0" stroke="#00a0ff" stroke-width="5.8" stroke-linecap="round" fill="none"/>
<path d="M1129 1271h0m-367 0.5h0m46 0h0m373.5 6.5h0m197 0h0m20 0h0m329 6.5h0m19.5 0h0m66 0h0m-441 0h0m46.5 0h0m-663 0h0m978.5 6.5h0m6.5 0h0m6.5 0h0m20 0h0m-697 0h0m-913 0h0m638 0h0m6.5 0h0m6.5 0h0m20 0h0m932 6.5h0m20 0h0m26.5 0h0m32.5 0h0m-434 0h0m-1254.5 0h0m6.5 0h0m290 0.5h0m302 0h0m19.5 0h0m972 6h0m39.5 0h0m6.5 0h0m39.5 0h0m-710 0h0m295.5 0h0m33 0h0m-1076.5 0.5h0m407 0h0m26.5 0h0m52.5 0h0m853.5 6h0m39.5 0h0m13 0h0m-421 0.5h0m-846 0h0m20 0h0m269 0h0m6.5 0h0m65.5 0h0m7 0h0m846.5 6h0m72.5 0h0m59 0h0m-506.5 0.5h0m13.5 0h0m26 0h0m46.5 0h0m-1366 0h0m427.5 0h0m6.5 0h0m275.5 0h0m52.5 0h0m20 0h0m6.5 0h0m13 0h0m485 6.5h0m13.5 0h0m6.5 0h0m39.5 0h0m72.5 0h0m-1057 0h0m407.5 0.5h0m6.5 0h0m19.5 0h0m485 6h0m26.5 0h0m33 0h0m13 0h0m-1320 0h0m65.5 0h0m46 0h0m296.5 0.5h0m269 0h0m79 0h0m26.5 0h0m860 6h0m-388.5 0h0m138.5 0h0m-689 0.5h0m33 0h0m912.5 6h0m111.5 0h0m-440.5 0.5h0m99 0h0m-1083.5 0h0m46.5 0h0m334.5 0h0m46 0h0m912.5 6h0m13.5 0h0m79 0h0m-408 0.5h0m53 0h0m6.5 0h0m-702.5 0h0m39.5 0h0m972 6.5h0m-474 0h0m26.5 0h0m-570.5 0.5h0m39.5 0h0m6.5 0h0m-690.5 6h0m26.5 0h0m1300.5 0h0m-788 0.5h0m118.5 0h0m26.5 0h0m6.5 0h0m20 0h0m859.5 6h0m13.5 0h0m79 0h0m-1386 0.5h0m7 0h0m354.5 0h0m79 0h0m860 6h0m98.5 0h0m-631.5 0h0m164.5 0.5h0m52.5 0h0m-997.5 0h0m92.5 0h0m262 0h0m33 0h0m20 0h0m26 0h0m893 6h0m6.5 0h0m52.5 0h0m46 0h0m-499.5 0.5h0m13 0h0m92 0h0m-1076.5 0h0m33 0h0m85.5 0h0m315 0.5h0m1011.5 5.5h0m-1451.5 0.5h0m59 0h0m73 0h0m52.5 0h0m209.5 0.5h0m46 0h0m919.5 6h0m79 0h0m-421 0h0m33 0h0m-1050.5 0.5h0m118.5 0h0m33 0h0m242.5 0h0m6.5 0h0m1051 6h0m-1760.5 0h0m1300 0h0m13 0h0m59.5 0h0m6.5 0h0m6.5 0h0m-1070 0.5h0m125.5 0h0m328 0h0m19.5 0h0m906 6h0m26.5 0h0m-1603 0h0m19.5 0h0m1162.5 0.5h0m52.5 0h0m13.5 0h0m-1011 0h0m381 0h0m6.5 0h0m52.5 0h0m13.5 0h0m879.5 6h0m-401 0.5h0m52.5 0h0m59.5 0h0m-1044 0h0m348 0.5h0m112 0h0m853.5 5.5h0m39.5 0h0m-677.5 0.5h0m65.5 0h0m263.5 0h0m32.5 0h0m7 0h0m-1024 0h0m6.5 0h0m334.5 0.5h0m33 0h0m26.5 0h0m603.5 6h0m-1050.5 0.5h0m407.5 0h0m79 0h0m879.5 6h0m46 0h0m-355 0h0m-630 0.5h0m53 0h0m866.5 6h0m19.5 0h0m13.5 0h0m19.5 0h0m-1649 0h0m1294 0.5h0m13 0h0m-649.5 0.5h0m13 0h0m952 5.5h0m-315.5 0.5h0m20 0h0m-689.5 0.5h0m7 0h0m92 0h0m-349.5 103h0m873.5 6h0m46.5 0h0m6.5 0h0m-604.5 0.5h0m6.5 0h0m901 6h0m-888 0.5h0m-91.5 6.5h0m45.5 0h0m52.5 0h0m-427 0.5h0m46 0h0m322 6h0m980 6.5h0m-1025.5 0.5h0m118 0h0m874.5 6h0m-960 0.5h0m6.5 0h0m20 0h0m6.5 0h0m19.5 0h0m591.5 6h0m256.5 0h0m118.5 0h0m-999.5 0.5h0m-276 0h0m-386.5 0.5h0m1220.5 5.5h0m382.5 0h0m-920.5 0.5h0m617.5 6h0m349 0h0m-1038.5 0.5h0m26 0h0m13 0h0m39.5 0h0m13 0h0m-394.5 0.5h0m1012.5 5.5h0m342 0.5h0m-1058.5 0h0m7 0h0m13 0h0m32.5 0h0m-289 0.5h0m840.5 6h0m303 0h0m165 0h0m-1026 0.5h0m26.5 0h0m-342 0h0m678 0h0m202 6h0m342.5 0h0m66 0h0m26.5 0h0m39.5 0h0m-1065 0.5h0m46 0h0m6.5 0h0m6.5 0h0m32.5 0h0m-427 0h0m13 0h0m39.5 0h0m1170 6h0m66 0h0m13 0h0m33 0h0m66 0h0m-1091.5 0.5h0m72.5 0h0m26 0h0m-434 0h0m52.5 0h0m893.5 6h0m86 0h0m-657 0.5h0m6.5 0h0m52.5 0h0m19.5 0h0m512 6h0m60 0h0m13 0h0m197.5 0h0m52.5 0h0m-926.5 0.5h0m6.5 0h0m597 6.5h0m7 0h0m86 0h0m355.5 0h0m-1072 0h0m7 0h0m104.5 0h0m7 0h0m512 6.5h0m448 0h0m6.5 0h0m-1098 0.5h0m52.5 0h0m59 0h0m13 0h0m934 6h0m6.5 0h0m26.5 0h0m-1091.5 0.5h0m6.5 0h0m6.5 0h0m26.5 0h0m39.5 0h0m26 0h0m-761.5 0.5h0m1266.5 5.5h0m455 0h0m-1032 0.5h0m32.5 0h0m-741.5 0.5h0m1273 5.5h0m26.5 0h0m375.5 0h0m13.5 0h0m-1006 0.5h0m105 0h0m934 6.5h0m-415.5 0h0m-571 0h0m6.5 0h0m39.5 0h0m13 0h0m-335 0.5h0m-406.5 0.5h0m1682 5.5h0m-461.5 0h0m79.5 0h0m26.5 0h0m6.5 0h0m-696.5 0.5h0m46 0h0m-388 0h0m932.5 6h0m86 0h0m-683 0.5h0m39.5 0h0m19.5 0h0m-741.5 0.5h0m1728 5.5h0m-402 0h0m46.5 0h0m-742.5 0.5h0m72.5 0h0m85 0h0m13 0h0m7 0h0m512 6h0m-683 0.5h0m7 0h0m59 0h0m6.5 0h0m-256.5 0.5h0m827 6h0m59.5 0h0m46.5 0h0m-644 0h0m13.5 0h0m19.5 0h0m26 0h0m270.5 0.5h0m308 6h0m-578.5 7h0m-728.5 0.5h0m1347.5 171.5h0m-1308.5 0.5h0m13.5 0h0m6.5 0h0m-53 7h0m53 0h0m6.5 0h0m1624 6h0m-1624 0.5h0m1262 5.5h0m382 1h0m-1736.5 0h0m112.5 0h0m906.5 0h0m368.5 6h0m269.5 0.5h0m-1683 0h0m362 0.5h0m-349 6h0m33 7h0m657.5 0h0m657 5.5h0m309.5 0.5h0m-1657 0.5h0m1354.5 12.5h0m-1282 0.5h0m-46 6.5h0m966 0.5h0m611.5 6h0m92.5 0h0m6.5 0h0m-1696.5 0.5h0m86 0h0m538.5 0h0m46 0h0m59.5 0h0m328.5 0h0m526 6h0m105.5 0h0m-1703 0.5h0m66 0h0m650.5 0h0m670.5 5.5h0m33 0h0m263 1h0m-1683 0h0m6.5 0h0m66 0h0m276 0h0m1052 6h0m309 0.5h0m-1624 0h0m20 0h0m657.5 0h0m256 0h0m368 6h0m40 0h0m6.5 0h0m-1440 0.5h0m99 0h0m598 0.5h0m46 0h0m-414 0h0m6.5 0h0m26.5 0h0m46 0h0m880 5.5h0m119 0h0m-1387.5 1h0m39.5 0h0m13.5 0h0m637.5 0h0m275.5 0h0m-643.5 0h0m39.5 0h0m6.5 0h0m26.5 0h0m979 5.5h0m40 0h0m315.5 0.5h0m-1696.5 0.5h0m940 0h0m-657 0h0m66 0h0m933 5.5h0m401.5 1h0m13 0h0m13.5 0h0m-1769.5 0h0m7 0h0m66 0h0m6.5 0h0m6.5 0h0m20 0h0m19.5 0h0m197 0h0m39.5 0h0m46.5 0h0m6.5 0h0m6.5 0h0m13.5 0h0m1195.5 6.5h0m132 0h0m-1749 0h0m19.5 0h0m13.5 0h0m72.5 0h0m6.5 0h0m920 0h0m-676.5 0.5h0m1051.5 5.5h0m-1387.5 0.5h0m59.5 0h0m13.5 0h0m664 0.5h0m302 0h0m-677 0h0m20 0h0m1018.5 5.5h0m276.5 0.5h0m46 0h0m-1723 0.5h0m598 0h0m26.5 0h0m-335 0h0m66 0h0m1025.5 5.5h0m335.5 0.5h0m-1723 0.5h0m13.5 0h0m19.5 0h0m46.5 0h0m538.5 0h0m33 0h0m85.5 0h0m-427 0h0m33 0h0m26 0h0m40 0h0m19.5 0h0m1308 6.5h0m-1689.5 0h0m59 0h0m545.5 0h0m33 0h0m-368 0h0m13 0h0m26.5 0h0m-362 6.5h0m783 0h0m242.5 0h0m-742.5 0.5h0m72.5 0h0m46 0h0m-381.5 6h0m39.5 0h0m703.5 0.5h0m-756.5 6.5h0m651 0h0m33 0h0m59.5 0h0m-375 0h0m40 0h0m6.5 0h0m-329 6.5h0m624.5 0h0m-421 0h0m20 0h0m-7 6.5h0m328.5 6.5h0m-308.5 0.5h0m26.5 0h0m335 6.5h0m-322 0h0m39 70h0m-26 13.5h0m33 0h0m-322 6h0m242.5 0.5h0m39.5 0h0m13.5 0h0m39.5 0h0m-348 6.5h0m321.5 0h0m-59.5 6.5h0m20 0h0m26.5 6.5h0m973 6h0m303 0.5h0m-1355.5 0.5h0m7 0h0m26 6.5h0m-249 6.5h0m249 6.5h0m13.5 0h0m1059 12.5h0m-789.5 0.5h0m388 0h0m-611.5 0.5h0m907 5.5h0m395.5 0.5h0m6.5 0h0m-1743 0h0m657.5 0h0m46 0h0m-315.5 0.5h0m13 0h0m1329 6h0m13 0h0m-1723 0.5h0m697 0h0m315 0h0m665 6h0m-1545 0.5h0m499 0h0m52.5 0h0m13.5 0h0m269 0h0m414.5 6h0m-723 0.5h0m-349 0h0m99 0h0m946.5 6h0m303 0.5h0m53 0h0m6.5 0h0m-1092 0h0m39.5 0h0m6.5 0h0m295.5 0h0m52.5 0h0m-657 0.5h0m72.5 0h0m867.5 5.5h0m-657.5 0.5h0m-302.5 0.5h0m26.5 0h0m6.5 0h0m20 0h0m66 0h0m821 5.5h0m448.5 0.5h0m-1079 0.5h0m46 0h0m315 0h0m-677 0h0m13 0h0m86 0h0m39.5 0h0m157.5 6.5h0m20 0h0m26 0h0m-249.5 0h0m216.5 6.5h0m53 0h0m-250 0h0m26.5 0h0m-59.5 7h0m20 0h0m670.5 6h0m-1032 0h0m604.5 0h0m-276 0.5h0m19.5 0h0m250 6.5h0m-335.5 0h0m33 0h0m85.5 0h0m960 6h0m243.5 0h0m-1657 0.5h0m723 0h0m-6.5 6.5h0m-368.5 0h0m20 0h0m-355 6.5h0m361.5 0.5h0m86 0h0m-427.5 6h0m697 0h0m-256.5 0.5h0m1282.5 6h0m-730.5 0h0m-1032 0.5h0m381 0h0m66 0h0m913.5 6h0m-1334.5 0.5h0m375 0h0m33 0h0m6.5 0h0m19.5 0h0m-6.5 6.5h0m13.5 0h0" stroke="#00b8ff" stroke-width="5.8" stroke-linecap="round" fill="none"/>
<path d="M775 1271.5h0m13.5 0h0m998 6h0m-401 0.5h0m-945 0h0m321.5 0h0m20 0h0m998 6.5h0m-1346 0h0m52.5 0h0m262.5 0h0m26 0h0m26.5 0h0m-690 6.5h0m32.5 0h0m290 0h0m315 0h0m998 6.5h0m26.5 0h0m13 0h0m-1399 0.5h0m66 0h0m33 0h0m577 6h0m-669.5 0.5h0m7 0h0m66 0h0m13 0h0m315 0h0m932.5 6h0m-355.5 0.5h0m-1215 0h0m211 0h0m19.5 0h0m361.5 0h0m649.5 6.5h0m6.5 0h0m6.5 0h0m-958 0h0m39.5 0h0m1214.5 6.5h0m20 0h0m65.5 0h0m33 0h0m13 0h0m6.5 0h0m-420.5 0h0m19.5 0h0m-1043.5 0h0m105.5 0h0m6.5 0h0m249 0.5h0m6.5 0h0m26.5 0h0m19.5 0h0m906 6h0m13.5 0h0m39.5 0h0m6.5 0h0m46 0h0m6.5 0h0m6.5 0h0m-467 0h0m72.5 0h0m-1333 0h0m329 0.5h0m72.5 0h0m295 0h0m-755.5 6h0m104.5 0h0m1241.5 0h0m66 0h0m-650 0.5h0m26.5 0h0m20 0h0m866.5 6h0m-1682 0.5h0m1405.5 0h0m-1010.5 0h0m321.5 0h0m33 0h0m1044 6h0m-1090 0.5h0m59 0h0m26.5 0h0m13 0h0m893 6.5h0m92 0h0m-1773.5 0h0m65.5 0h0m631 0.5h0m66 0h0m892.5 6h0m6.5 0h0m79 0h0m-605 0h0m-1070 0h0m1366.5 0h0m-1090 0.5h0m13 0h0m53 0h0m26 0h0m7 0h0m268.5 0h0m79 0h0m880 6h0m72 0h0m-1655.5 0h0m1215 0h0m92 0h0m26.5 0h0m-1070 0.5h0m39.5 0h0m59.5 0h0m347.5 0h0m880 6h0m98.5 0h0m-1714.5 0h0m1221 0.5h0m66 0h0m59.5 0h0m-1037.5 0h0m322 0h0m46 0h0m932.5 6h0m65.5 0h0m-421 0.5h0m26.5 0h0m-931.5 0h0m361 0.5h0m13 0h0m13 0h0m932.5 5.5h0m-1622.5 0.5h0m250 0h0m53 0h0m321.5 0.5h0m59 0h0m873 6h0m20 0h0m6.5 0h0m20 0h0m72 0h0m6.5 0h0m-690.5 0h0m-1017.5 0h0m33 0h0m1201.5 0h0m-984.5 0.5h0m53 0h0m66 0h0m249 0h0m26.5 0h0m52.5 0h0m6.5 0h0m6.5 0h0m912.5 6h0m7 0h0m39.5 0h0m6.5 0h0m19.5 0h0m-1636 0h0m1142.5 0h0m428 6.5h0m26 0h0m6.5 0h0m46 0h0m-1695 0h0m33 0h0m1188.5 0.5h0m-865.5 0h0m328 0h0m13 0h0m873 6h0m59.5 0h0m59 0h0m-1741 0h0m98.5 0h0m965 0h0m230.5 0.5h0m33 0h0m13 0h0m-1070 0h0m105.5 0h0m236 0.5h0m46 0h0m79 0h0m33 0h0m886 5.5h0m6.5 0h0m59.5 0h0m33 0h0m-1662.5 0h0m945.5 0.5h0m-748 0h0m79.5 0h0m288.5 0.5h0m85.5 0h0m13 0h0m919.5 6h0m-368.5 0h0m39.5 0h0m-1024 0.5h0m39.5 0h0m361.5 0h0m13 0h0m893 6h0m19.5 0h0m13 0h0m33 0h0m-1603 0h0m224 0.5h0m420.5 0h0m26.5 0h0m899 6h0m85.5 0h0m-434 0.5h0m-623 0.5h0m13 0h0m26.5 0h0m597 6h0m-630 0.5h0m13 0h0m13.5 0h0m6.5 0h0m26 0h0m985 5.5h0m-467.5 96.5h0m26.5 0h0m39.5 0h0m-630.5 1h0m-315.5 0h0m886.5 6h0m-584 0.5h0m-250 0h0m-426 0.5h0m1253.5 5.5h0m20 0h0m33 0h0m-643.5 0.5h0m32.5 0h0m13.5 0h0m-388 0h0m19.5 0h0m59.5 0h0m-439.5 0.5h0m1286.5 5.5h0m79.5 0h0m276.5 0h0m-966.5 0.5h0m52.5 0h0m59 0h0m-414 0.5h0m-308 0h0m1201 5.5h0m39.5 0h0m73 0h0m6.5 0h0m309.5 0.5h0m-999 0h0m19.5 0h0m59 0h0m19.5 0h0m499 6h0m99.5 0h0m190.5 0.5h0m112 0h0m-1032 0.5h0m105 0h0m-296 0h0m907 6h0m-611 0.5h0m907.5 6h0m59 0h0m-1084.5 0.5h0m144 0h0m-381 0h0m-426.5 0.5h0m1636 5.5h0m112 0h0m-1078 0.5h0m6.5 0h0m6.5 0h0m79 0h0m-342 0h0m72.5 0h0m820.5 6h0m402 0h0m6.5 0h0m46.5 0h0m-1078.5 0.5h0m6.5 0h0m610.5 6h0m92.5 0h0m-670 0.5h0m46 0h0m-296 0.5h0m907 6h0m210.5 0h0m118.5 0h0m13.5 0h0m-1019 0.5h0m6.5 0h0m-368.5 0h0m711 0h0m-1071.5 0.5h0m1392.5 5.5h0m39.5 0h0m329 0h0m6.5 0h0m13.5 0h0m-1124.5 0.5h0m7 0h0m137.5 0h0m525 6h0m323 0h0m6.5 0h0m99 0h0m13 0h0m6.5 0h0m-1117.5 0.5h0m66 0h0m6.5 0h0m26 0h0m26.5 0h0m-296 0h0m854 6h0m66 0h0m20 0h0m184 0h0m151.5 0h0m-1104.5 0.5h0m59.5 0h0m52 0h0m-662.5 0.5h0m1313.5 5.5h0m210.5 0h0m6.5 0h0m164.5 0h0m-1150.5 0.5h0m59 0h0m13.5 0h0m26 0h0m13 0h0m39.5 0h0m6.5 0h0m585 6.5h0m6.5 0h0m368.5 0h0m-1025.5 0h0m39.5 0h0m19.5 0h0m13 0h0m-447 0.5h0m33 0h0m-308 0.5h0m1300.5 5.5h0m375 0h0m-1045 0.5h0m52.5 0h0m19.5 0h0m6.5 0h0m-381.5 0h0m1019.5 6h0m-756 0.5h0m-243.5 0h0m-354 0.5h0m1234 5.5h0m13 0h0m-689 0.5h0m59 0h0m13.5 0h0m610 6h0m6.5 0h0m106.5 0h0m322 0h0m-1071.5 0.5h0m33 0h0m45.5 0h0m33 0h0m960 6.5h0m13 0h0m-1354.5 0.5h0m92.5 0h0m1236 6h0m-428.5 0h0m-636.5 0.5h0m39.5 0h0m85 0h0m6.5 0h0m-407.5 0h0m92 0h0m854 6h0m-689 0.5h0m59 0h0m6.5 0h0m98.5 0h0m492 6h0m-590.5 0.5h0m32.5 0h0m-381.5 0h0m763.5 0h0m-329.5 6.5h0m558.5 6.5h0m20 0h0m26.5 0h0m-755.5 0h0m78.5 0h0m6.5 0h0m79 0h0m-821 0.5h0m1293 6h0m40 0h0m39.5 0h0m40 0h0m-677 0h0m26 0h0m46 0h0m-814 1h0m39.5 0h0m52.5 0h0m709 6h0m-728.5 0.5h0m361.5 172.5h0m972.5 5.5h0m-1295 1h0m52.5 0h0m276.5 0h0m-368.5 6.5h0m19.5 0h0m33 0h0m269.5 6.5h0m-322 6.5h0m33 0h0m315.5 0.5h0m6.5 0h0m1295 6h0m20 0h0m-1703 0h0m26 0h0m92.5 0h0m6.5 0h0m545.5 7h0m-684 6.5h0m59.5 0h0m1301.5 5.5h0m395 1h0m-1736 6.5h0m46 0h0m72.5 0h0m591.5 0h0m-690.5 6.5h0m79.5 0h0m269.5 0.5h0m13 0h0m7 0h0m1294.5 6h0m33 0h0m-1637 0.5h0m1328 5.5h0m20 0h0m-1440.5 1h0m59.5 0h0m66 0h0m578.5 0h0m52.5 0h0m196.5 0h0m717.5 6.5h0m-1670.5 0h0m26.5 0h0m46.5 0h0m355 0h0m1282 6.5h0m-1657 0h0m20 0h0m677 0h0m-407.5 0.5h0m66 0h0m13 0h0m13.5 0h0m1222 6h0m59.5 0h0m20 0h0m6.5 0h0m-1710 0h0m7 0h0m6.5 0h0m736.5 0.5h0m644 5.5h0m6.5 0h0m13.5 0h0m289.5 0.5h0m6.5 0h0m-1723 0.5h0m53 0h0m52.5 0h0m578.5 0h0m-328.5 0h0m33 0h0m33 0h0m1301.5 6h0m19.5 0h0m-1736 0.5h0m46.5 0h0m13 0h0m618 0h0m-282.5 0h0m-381.5 6.5h0m92 0h0m512.5 0h0m460.5 0h0m-762.5 0h0m1091 6h0m-1426.5 0.5h0m52.5 0h0m670.5 0h0m-368 0.5h0m26.5 0h0m992.5 5.5h0m6.5 0h0m289.5 0.5h0m19.5 0h0m40 0h0m6.5 0h0m-1683.5 0h0m578.5 0.5h0m13 0h0m-308.5 0h0m1058 5.5h0m-1347.5 1h0m20 0h0m52.5 0h0m512.5 0h0m52.5 0h0m-269 0h0m-375 6.5h0m26.5 0h0m39.5 0h0m6.5 0h0m197 0h0m1045 5.5h0m46.5 0h0m-1407.5 1h0m7 0h0m19.5 0h0m33 0h0m6.5 0h0m230 0h0m172 0h0m-388.5 6.5h0m26.5 0h0m210 0.5h0m99 0h0m1275 6h0m-1630.5 0h0m26.5 0h0m20 0h0m598 0.5h0m-401 0h0m33 0h0m79 0h0m-368.5 6.5h0m6.5 0h0m13 0h0m336 0h0m6.5 0h0m288.5 6.5h0m33 0h0m33 0h0m-387.5 0h0m6.5 0h0m-20 13.5h0m0 6.5h0m7 0h0m72 76.5h0m-86 7h0m59.5 0h0m-361.5 6h0m355 7h0m26.5 6.5h0m1256 6h0m-1611 0.5h0m295.5 0h0m-13.5 7h0m-335 6h0m355 0.5h0m20 0h0m-249.5 6.5h0m262.5 0h0m-381 6.5h0m33 0h0m361 0h0m7 0h0m33 0h0m1262.5 6h0m-1079 0.5h0m1046 6.5h0m13.5 0h0m6.5 0h0m-1591.5 0h0m13.5 0h0m525.5 0h0m328 0h0m13.5 0h0m-1005.5 6.5h0m657.5 0h0m328 0.5h0m-532 0h0m1269.5 6h0m-1072.5 0.5h0m328.5 0h0m-538.5 0h0m1302.5 6h0m-751 0.5h0m7 0h0m-704 0h0m1408 6h0m-737.5 0.5h0m40 0h0m-618 0h0m1315.5 6.5h0m-999.5 0h0m-355.5 0.5h0m112 0h0m20 0h0m1210 6h0m53 0h0m-1703.5 0h0m72.5 0h0m585 0h0m255.5 0h0m20 0h0m52.5 0h0m-578 0.5h0m-460.5 6.5h0m992.5 0h0m-308.5 6.5h0m335 0h0m-552 0h0m993 6h0m-809 0.5h0m46 0h0m-322.5 0h0m112.5 0h0m532 6.5h0m-953 0h0m624.5 0h0m348 6.5h0m-1051.5 0h0m684 0h0m46 7h0m-355.5 0h0m-308.5 6.5h0m697 0h0m6.5 0h0m-263 0h0m552 6.5h0m-361.5 0h0m39.5 0h0m-362 0h0m1019.5 6h0m-1354.5 0.5h0m690.5 0h0m33 0h0m6.5 0h0m-20 6.5h0m20 0h0m13 0h0m-749.5 7h0m99 0h0m637.5 0h0m6.5 0h0m282.5 6.5h0m-631 6.5h0m33 0h0" stroke="#00d4ff" stroke-width="5.8" stroke-linecap="round" fill="none"/>
<path d="M1089.5 1271h0m26.5 0h0m52 0h0m-1024 0.5h0m6.5 0h0m283.5 0h0m6.5 0h0m26.5 0h0m1300 6h0m-1675.5 0.5h0m52.5 0h0m13 0h0m250.5 0h0m46 0h0m20 0h0m301.5 0h0m26.5 0h0m557.5 6.5h0m72.5 0h0m-1346.5 0h0m322.5 0h0m39.5 0h0m374.5 0h0m899 6.5h0m39.5 0h0m59.5 0h0m13 0h0m-1734.5 0h0m6.5 0h0m20 0h0m342.5 0h0m26 0h0m275.5 0h0m6.5 0h0m7 0h0m1044 6.5h0m-762.5 0h0m-959 0h0m270 0.5h0m6.5 0h0m381 0h0m33 0h0m13 0h0m13.5 0h0m19.5 0h0m860 6h0m26.5 0h0m79 0h0m32.5 0h0m-407.5 0h0m-1287.5 0.5h0m13 0h0m33 0h0m184.5 0h0m13 0h0m33 0h0m53 0h0m13 0h0m269 0h0m13 0h0m79 0h0m919.5 6h0m-671 0h0m309 0.5h0m13.5 0h0m19.5 0h0m33 0h0m-1392.5 0h0m6.5 0h0m6.5 0h0m52.5 0h0m6.5 0h0m257 0h0m19.5 0h0m40 0h0m13 0h0m328 0h0m13.5 0h0m906 6h0m39.5 0h0m-388.5 0.5h0m-1208 0h0m197.5 0h0m39.5 0h0m387.5 0h0m6.5 0h0m59.5 0h0m570.5 6.5h0m-1228.5 0h0m171.5 0h0m19.5 0h0m33 0h0m7 0h0m6.5 0h0m6.5 0h0m26.5 0h0m315 0.5h0m13 0h0m33 0h0m26.5 0h0m952 6h0m-1754 0h0m98 0h0m343 0.5h0m347.5 0h0m886.5 6h0m13 0h0m-1688 0h0m19.5 0h0m13 0h0m105 0h0m1215 0h0m26.5 0h0m-1004 0.5h0m19.5 0h0m39.5 0h0m7 0h0m255.5 0h0m112 0h0m906 6h0m6.5 0h0m33 0h0m13 0h0m-658 0h0m-1076.5 0.5h0m105 0h0m1162.5 0h0m52.5 0h0m-977.5 0h0m1359 6h0m20 0h0m-697 0.5h0m-978.5 0h0m19.5 0h0m1261.5 0h0m19.5 0h0m46 0h0m-1037 0h0m348 0h0m26.5 0h0m39.5 0h0m892.5 6.5h0m39.5 0h0m6.5 0h0m-1622.5 0h0m1182 0h0m138.5 0h0m-1070.5 0h0m20 0h0m26.5 0h0m275.5 0.5h0m26 0h0m13.5 0h0m39.5 0h0m19.5 0h0m886.5 6h0m6.5 0h0m-638 0h0m-971.5 0h0m1294 0h0m46 0h0m-984.5 0.5h0m295.5 0h0m13 0h0m6.5 0h0m66 0h0m912.5 6h0m-1727.5 0h0m118 0h0m19.5 0h0m1215 0h0m33 0h0m-623.5 0.5h0m1005 6h0m-401 0.5h0m13 0h0m19.5 0h0m20 0h0m-663 0h0m33 0h0m13 0h0m906 6h0m26.5 0h0m-585.5 0h0m-1024 0.5h0m217 0h0m361.5 0.5h0m1051 5.5h0m19.5 0h0m-1721.5 0.5h0m92 0h0m329.5 0h0m163.5 0.5h0m1130 6h0m-421 0h0m85.5 0h0m-669.5 0.5h0m978.5 6h0m-1649 0h0m59 0h0m178 0.5h0m171.5 0h0m216 0h0m6.5 0h0m20 0h0m6.5 0h0m919 6h0m26.5 0h0m66 0h0m6.5 0h0m6.5 0h0m13 0h0m-1675 0h0m223.5 0.5h0m39.5 0h0m26.5 0h0m99 0h0m137 0h0m1103.5 6h0m20 0h0m-1662.5 0h0m6.5 0h0m20 0h0m1267.5 0.5h0m-597 0.5h0m-769 5.5h0m657 1h0m53 0h0m978.5 6h0m32.5 0h0m20 0h0m6.5 0h0m-1780.5 0h0m59 0h0m46 0h0m66 0h0m184.5 0.5h0m66 0h0m321.5 0h0m19.5 0h0m-736 6h0m52.5 0h0m52.5 0h0m519 0.5h0m158 0h0m20 0h0m170 6h0m-222.5 1h0m-112 6.5h0m158 0h0m978 5.5h0m-381 0.5h0m-106.5 96h0m20 0h0m6.5 0h0m-886.5 1h0m6.5 0h0m867 6h0m53 0h0m257 0h0m65.5 0h0m-1282 0.5h0m26.5 0h0m33 0h0m860 6h0m362.5 0h0m-946.5 0.5h0m6.5 0h0m33 0h0m-421 0h0m118.5 0h0m847 6h0m20 0h0m33 0h0m250.5 0h0m-907 0.5h0m32.5 0h0m46 0h0m-440.5 0.5h0m6.5 0h0m757 0h0m175.5 5.5h0m46.5 0h0m40 0h0m6.5 0h0m296 0.5h0m-999 0h0m6.5 0h0m111.5 0h0m-335 0.5h0m-367 0.5h0m6.5 0h0m1247.5 5h0m26.5 0h0m-1012.5 1h0m39.5 0h0m46.5 0h0m860 6h0m66.5 0h0m6.5 0h0m20 0h0m-723 0.5h0m20 0h0m13 0h0m13 0h0m-283 0h0m20 0h0m19.5 0h0m841 6h0m303 0h0m112 0h0m-1032 0.5h0m78.5 0h0m13 0h0m-466.5 0h0m52.5 0h0m26.5 0h0m992.5 6h0m355 0h0m-960 0.5h0m611.5 6h0m-729.5 0.5h0m131.5 0h0m821.5 6.5h0m132 0h0m-1098 0h0m6.5 0h0m78.5 0h0m33 0h0m-381.5 0.5h0m1229.5 6h0m72.5 0h0m-1051.5 0.5h0m137.5 0h0m-302 0h0m820.5 6h0m296.5 0h0m-1150 0.5h0m592 0h0m-972.5 0.5h0m33 0h0m1609.5 5.5h0m53 0h0m-1289 0.5h0m821 6h0m283.5 0h0m112 0h0m33 0h0m-1071.5 0.5h0m13 0h0m39.5 0h0m6.5 0h0m-342 0.5h0m46 0h0m19.5 0h0m26.5 0h0m13 0h0m827.5 5.5h0m73 0h0m276.5 0h0m13 0h0m53 0h0m-1071.5 0.5h0m6.5 0h0m6.5 0h0m111.5 0h0m19.5 0h0m-427 0.5h0m105 0h0m592.5 0h0m-1005.5 0h0m1214 6h0m316.5 0h0m-959.5 0h0m-270 0.5h0m13.5 0h0m46 0h0m52.5 0h0m860.5 6h0m395.5 0h0m-1071.5 0.5h0m6.5 0h0m131 0h0m-440.5 0h0m6.5 0h0m7 0h0m-288 0.5h0m19.5 0h0m1214 5.5h0m415.5 0h0m19.5 0h0m6.5 0h0m-1117.5 0.5h0m-210.5 0h0m893.5 6h0m92.5 0h0m7 0h0m342 0h0m-1131 0.5h0m20 0h0m26 0h0m111.5 0h0m13 0h0m-440.5 0h0m-320.5 0.5h0m39.5 0h0m1306.5 5.5h0m-611 0.5h0m19.5 0h0m-434 0.5h0m53 0h0m72.5 0h0m-466 0h0m1300 6h0m53 0h0m19.5 0h0m13.5 0h0m-736 0h0m46 0h0m72 0h0m-420.5 0.5h0m309 6.5h0m46 0h0m-388 0h0m72.5 0h0m223.5 6.5h0m26.5 0h0m32.5 0h0m66 0h0m39 0h0m6.5 0h0m-414 0h0m39.5 0h0m39.5 0h0m651.5 0h0m176 6h0m-649.5 0.5h0m78.5 0h0m-236.5 0h0m-499 0.5h0m20 0h0m19.5 0h0m79 0h0m1616.5 5.5h0m-1006 0.5h0m65.5 0h0m-374.5 0.5h0m72 0h0m-452.5 0h0m33 0h0m1253.5 6h0m-551 0h0m-342 0.5h0m46 0h0m26.5 0h0m-400 0h0m1194 6h0m60 0h0m-611 0h0m-649.5 1h0m689 6h0m-355 0h0m-340.5 0.5h0m46 0h0m1254 5.5h0m-611 0.5h0m13 0h0m-741.5 0.5h0m354.5 172.5h0m1354.5 6h0m-1381 0.5h0m-329 6.5h0m39.5 0h0m66 0h0m-99 6.5h0m664 0h0m33 0h0m-348 0.5h0m-269.5 6h0m-92.5 7h0m26.5 0h0m13 0h0m289.5 6.5h0m6.5 0h0m20 0h0m-368.5 6.5h0m26 0h0m329 0h0m13.5 0h0m972.5 6h0m-1308 0.5h0m79 0h0m6.5 0h0m604.5 0h0m243 0h0m375 6h0m52.5 0h0m-1400.5 0.5h0m20 0h0m33 0h0m-46 7h0m13 0h0m13 0h0m20 0h0m368.5 0h0m959.5 5.5h0m329 0.5h0m13 0h0m-1716 0.5h0m66 0h0m26 0h0m539 0h0m-276 0h0m-296 6.5h0m572 0h0m6.5 0h0m335 0h0m717 6.5h0m-737 0h0m7 0h0m651 6.5h0m-1558 0h0m578.5 0.5h0m321.5 0h0m7 0h0m6.5 0h0m-571 0h0m932.5 5.5h0m395 0.5h0m-1610.5 0.5h0m512 0h0m-288.5 0h0m39.5 0h0m992.5 5.5h0m-1334.5 1h0m6.5 0h0m19.5 0h0m565 0h0m92.5 0h0m-624.5 6.5h0m532 0h0m-282 0h0m79 0h0m20 0h0m216 6.5h0m1046 6.5h0m-1703 0h0m33 0h0m276 0.5h0m1065 5.5h0m66 0h0m-1407 1h0m59 0h0m13.5 0h0m19.5 0h0m532 0h0m33 0h0m-255.5 0h0m19.5 0h0m913.5 5.5h0m33 0h0m-611.5 1h0m-473.5 0h0m39.5 0h0m46.5 0h0m13 0h0m-342 6.5h0m1670 6.5h0m-1676.5 0h0m-59.5 6.5h0m19.5 0h0m336 0.5h0m-355.5 6.5h0m348.5 0h0m53 0h0m-388.5 6.5h0m13.5 0h0m289 0h0m66 0h0m-52.5 6.5h0m-223.5 83.5h0m26.5 0h0m269 0h0m-315 13h0m33 6.5h0m295 0.5h0m684 6.5h0m-710 20h0m26 0h0m933.5 5.5h0m-953 1h0m6.5 0h0m-328.5 6.5h0m242.5 6.5h0m145.5 0h0m1223 6h0m-1013 0.5h0m703.5 12.5h0m-414.5 7.5h0m-525.5 0h0m867.5 6h0m-309 0.5h0m6.5 0h0m20 0h0m368.5 6h0m-710.5 0.5h0m328.5 0h0m-578 0h0m19.5 0h0m1269.5 6.5h0m26.5 0h0m-1716.5 0h0m624.5 0h0m335 0h0m684.5 6.5h0m39.5 0h0m-1664 0h0m618 0h0m288.5 0h0m40 7h0m-328.5 6.5h0m295.5 0h0m-986 6.5h0m703.5 0h0m269 0h0m6.5 0h0m7 0h0m19.5 0h0m-571.5 0h0m250 6.5h0m348 6.5h0m-321.5 0h0m275.5 13.5h0m-262.5 0h0m79 0h0m-434.5 0h0m39.5 0h0m591.5 6.5h0m-256 0h0m-315.5 0h0m598 6.5h0m-979 6.5h0m657 0h0m26.5 0h0m53 0h0m-736.5 7h0m670.5 0h0m19.5 0h0m1020 6h0m-1664 7h0" stroke="#06ecf1" stroke-width="5.8" stroke-linecap="round" fill="none"/>
<path d="M1109 1271h0m263 0h0m-1300 0.5h0m13 0h0m26.5 0h0m19.5 0h0m270 0h0m46 0h0m26.5 0h0m1319.5 6h0m-690.5 0.5h0m-991 0h0m39 0h0m309.5 0h0m289 0h0m1057.5 6.5h0m-664.5 0h0m-1044 0h0m33 0h0m296 0h0m40 0h0m26 0h0m1234.5 6.5h0m72 0h0m-368 0h0m-1359.5 0h0m13 0h0m65.5 0h0m276.5 0h0m20 0h0m26.5 0h0m603 6.5h0m-1017.5 0h0m6.5 0h0m32.5 0h0m13.5 0h0m19.5 0h0m46 0h0m243.5 0.5h0m46.5 0h0m26 0h0m236 0h0m13 0h0m33 0h0m26.5 0h0m932.5 6h0m111.5 0h0m-467 0h0m59.5 0h0m-1385.5 0.5h0m13 0h0m6.5 0h0m39.5 0h0m65.5 0h0m257 0h0m19.5 0h0m295.5 0h0m65.5 0h0m7 0h0m19.5 0h0m939 6h0m46 0h0m-697 0h0m6.5 0h0m26 0h0m-1102.5 0.5h0m59 0h0m46 0h0m13 0h0m296.5 0h0m295 0h0m26.5 0h0m1050.5 6h0m-743 0.5h0m335.5 0h0m-1353 0h0m65.5 0h0m237 0h0m6.5 0h0m7 0h0m26 0h0m7 0h0m33 0h0m6.5 0h0m275.5 0h0m6.5 0h0m19.5 0h0m965.5 6.5h0m92 0h0m-710 0h0m6.5 0h0m309 0h0m-1372.5 0h0m19.5 0h0m52.5 0h0m46 0h0m237 0h0m39.5 0h0m7 0h0m13 0h0m20 0h0m216 0.5h0m393 6h0m13.5 0h0m85 0h0m-1155 0h0m19.5 0h0m131 0h0m211 0.5h0m46 0h0m7 0h0m13 0h0m6.5 0h0m216 0h0m1084 6h0m-651 0h0m-1050.5 0h0m65.5 0h0m1254.5 0h0m13.5 0h0m-1017.5 0.5h0m46 0h0m59.5 0h0m222.5 0h0m33 0h0m1031 6h0m-1714.5 0.5h0m72 0h0m26.5 0h0m1241.5 0h0m-925.5 0h0m7 0h0m6.5 0h0m216 0h0m33 0h0m965 6h0m7 0h0m-559.5 0.5h0m-1037 0h0m1274 0h0m-945 0h0m26.5 0h0m6.5 0h0m335 0h0m39.5 0h0m866.5 6.5h0m72.5 0h0m-704 0h0m-1017.5 0h0m65.5 0h0m33 0h0m1241.5 0h0m-925 0h0m189.5 0.5h0m72.5 0h0m39.5 0h0m59.5 0h0m932 6h0m13.5 0h0m6.5 0h0m-1734.5 0h0m33 0h0m1293.5 0h0m-984.5 0.5h0m302 0h0m-572 6h0m1268 0h0m52.5 0h0m-1096.5 0.5h0m112 0h0m288.5 0h0m20 0h0m39.5 0h0m1018 6h0m-1754.5 0h0m39.5 0h0m46 0h0m13 0h0m1136 0.5h0m-945 0h0m59.5 0h0m66 0h0m348 0h0m912.5 6h0m-671 0h0m-978 0.5h0m6.5 0h0m13 0h0m39.5 0h0m13 0h0m532.5 0.5h0m66 0h0m965 5.5h0m-1622.5 0.5h0m33 0h0m1221.5 0h0m-1215 6.5h0m1557 6.5h0m92 0h0m19.5 0h0m-1741 0h0m52.5 0h0m13.5 0h0m6.5 0h0m6.5 0h0m1281 0h0m6.5 0h0m-722 0.5h0m13 0h0m-624.5 6h0m52.5 0h0m46 0h0m873 0h0m72.5 0h0m197 0.5h0m13.5 0h0m59 0h0m-748.5 0h0m46.5 0h0m13 0h0m13 0h0m33 0h0m-762.5 6h0m72.5 0h0m52.5 0h0m19.5 0h0m926 0h0m6.5 0h0m19.5 0h0m-439.5 1h0m66 0h0m72.5 0h0m965.5 5.5h0m19.5 0h0m-1728 0h0m79 0h0m965 0.5h0m19.5 0h0m230.5 0h0m52.5 0h0m-931.5 0h0m33 0h0m203 0.5h0m13 0h0m52.5 0h0m59.5 0h0m879.5 6h0m33 0h0m26.5 0h0m26 0h0m6.5 0h0m-1760.5 0h0m59 0h0m26.5 0h0m1261 0h0m-1063.5 0.5h0m460 0h0m-775.5 6h0m104.5 0h0m7 0h0m1287 0h0m-656 0.5h0m6.5 0h0m978.5 6h0m-1714.5 0h0m26 0h0m6.5 0h0m913 0h0m13 0h0m13 0h0m-314.5 1h0m13 0h0m79 0h0m39.5 0h0m7 0h0m906 5.5h0m-965.5 1h0m39.5 0h0m6.5 0h0m1005 5.5h0m-1143 7.5h0m715 89h0m-966 1h0m99 0h0m-453 0.5h0m1326.5 5.5h0m276.5 0h0m-920 0.5h0m32.5 0h0m-381 0h0m6.5 0h0m6.5 0h0m6.5 0h0m678 0h0m19.5 0h0m-1064.5 0.5h0m46 0h0m20 0h0m1273.5 5.5h0m26.5 0h0m237 0h0m39.5 0h0m-1269 0.5h0m6.5 0h0m7 0h0m-360.5 0.5h0m13 0h0m6.5 0h0m1260.5 5.5h0m26.5 0h0m-663.5 0.5h0m92 0h0m-440.5 0.5h0m26.5 0h0m72 0h0m-432.5 0h0m52.5 0h0m1260.5 5.5h0m26.5 0h0m316 0.5h0m6.5 0h0m-1308.5 0.5h0m125.5 0h0m-499 0.5h0m6.5 0h0m66 0h0m1247 5h0m20 0h0m13 0h0m20 0h0m26.5 0h0m224 0.5h0m19.5 0h0m-1301.5 0.5h0m13 0h0m13 0h0m79 0h0m26.5 0h0m26.5 0h0m539.5 0h0m617 6h0m-1282 0.5h0m26.5 0h0m26.5 0h0m72.5 0h0m-413.5 0.5h0m1274 5.5h0m250 0h0m6.5 0h0m92.5 0h0m-881 0.5h0m-460.5 0h0m105.5 0h0m913.5 6h0m6.5 0h0m283 0h0m33 0h0m-920.5 0.5h0m-394.5 0h0m13 0h0m6.5 0h0m92.5 0h0m-433 0.5h0m33 0h0m13 0h0m1181 5.5h0m7 0h0m26.5 0h0m72.5 0h0m210.5 0h0m7 0h0m6.5 0h0m19.5 0h0m92.5 0h0m-1012.5 0.5h0m-362 0.5h0m46 0h0m20 0h0m52.5 0h0m6.5 0h0m13.5 0h0m-420 0h0m20 0h0m1194 5.5h0m113 0h0m190.5 0.5h0m20 0h0m-953 0h0m46 0h0m32.5 0h0m-328.5 0.5h0m19.5 0h0m33 0h0m6.5 0h0m-367 0.5h0m1550.5 5.5h0m13 0h0m-1005.5 0.5h0m19.5 0h0m124.5 0h0m7 0h0m-434 0h0m6.5 0h0m33 0h0m-373.5 0.5h0m32.5 0h0m33 0h0m1214.5 5.5h0m303 0h0m92 0h0m-1367.5 0.5h0m13 0h0m39.5 0h0m33 0h0m-373.5 0.5h0m1260.5 5.5h0m283 0h0m-959 0.5h0m98 0h0m6.5 0h0m39.5 0h0m-427.5 0h0m92.5 0h0m625 0h0m-1005.5 0.5h0m1524 5.5h0m26.5 0h0m59.5 0h0m6.5 0h0m-1321.5 1h0m26 0h0m33 0h0m6.5 0h0m204 6h0m171 0h0m-460.5 0.5h0m59.5 0h0m13 0h0m13 0h0m20 0h0m6.5 0h0m1157 6h0m-953 0h0m401.5 0.5h0m215 6h0m106 0h0m355.5 0h0m20 0h0m-1111 0.5h0m-316 0h0m-248.5 0.5h0m1300 5.5h0m-735.5 0.5h0m-270 0h0m26.5 0h0m26 0h0m26.5 0h0m-131.5 6.5h0m46 0h0m105 0h0m7 0h0m171 6.5h0m-322.5 0.5h0m19.5 0h0m33 0h0m20 0h0m85.5 0h0m-406.5 0h0m1326.5 6h0m-782 0h0m26.5 0h0m26 0h0m-355 0.5h0m98.5 0h0m20 0h0m39.5 0h0m605 0h0m-1104 0.5h0m6.5 0h0m7 0h0m13 0h0m6.5 0h0m52.5 0h0m1649.5 5.5h0m-1065 0.5h0m13 0h0m39.5 0h0m-349 0h0m7 0h0m79 0h0m19.5 0h0m592.5 0h0m32.5 0h0m20 0h0m-1078 0.5h0m7 0h0m6.5 0h0m1240 5.5h0m-662.5 0.5h0m52.5 0h0m105 0h0m-440.5 0h0m112 0h0m-367 0.5h0m1234 5.5h0m-683 0.5h0m20 0h0m6.5 0h0m26 0h0m26.5 0h0m19.5 0h0m-328.5 0h0m13 0h0m13 0h0m13.5 0h0m46 0h0m-499 0.5h0m66 0h0m597.5 6h0m118 0h0m-315.5 0.5h0m33 0h0m-492 0h0m1332.5 6h0m-623.5 0h0m59 0h0m-322 0.5h0m-420 0h0m13.5 0h0m735 6h0m-735 1h0m1359.5 5.5h0m-1412.5 1h0m33 0h0m46 0h0m1051.5 6h0m-992 0.5h0m-92.5 6.5h0m7 0h0m13 6.5h0m1400 145.5h0m309 13.5h0m-1696.5 0.5h0m309 6.5h0m7 0h0m6.5 0h0m6.5 0h0m-362 6.5h0m53 0h0m6.5 0h0m33 0h0m282.5 0h0m-315.5 6.5h0m6.5 0h0m20 0h0m631 0h0m-743.5 6.5h0m33 0h0m26.5 0h0m20 0h0m26 0h0m276.5 0.5h0m19.5 0h0m7 0h0m-408.5 6.5h0m13.5 0h0m99 0h0m-92.5 6.5h0m72.5 0h0m46 0h0m237 0h0m19.5 0h0m-368.5 6.5h0m112 0h0m7 0h0m210 0h0m6.5 0h0m-329 6.5h0m26.5 0h0m637.5 0h0m53 0h0m262.5 0h0m19.5 0h0m-999 6.5h0m651 0.5h0m308.5 0h0m-972.5 6.5h0m631 0h0m33 0h0m295.5 0h0m-630.5 0h0m-322.5 6.5h0m26.5 0h0m650.5 0h0m262.5 0h0m59.5 0h0m6.5 0h0m-623.5 0h0m13 0h0m6.5 0h0m887 5.5h0m401.5 1h0m-1604 0h0m545 0h0m302 0h0m-584 0h0m19.5 0h0m-296 6.5h0m1604 6.5h0m13.5 0h0m-1065.5 0.5h0m381 0h0m13.5 0h0m657.5 6h0m-1045.5 0.5h0m-249 0h0m13 0h0m972.5 5.5h0m-1367.5 1h0m637.5 0h0m92.5 0h0m26.5 0h0m591 5.5h0m66 0h0m-1400.5 1h0m13.5 0h0m6.5 0h0m611 0h0m-13 6.5h0m6.5 0h0m1092 6.5h0m-1065.5 0.5h0m-348 0h0m99 0h0m939.5 5.5h0m-697 1h0m-368 0h0m26.5 0h0m79 0h0m20 0h0m919.5 5.5h0m-1354.5 1h0m690.5 0h0m6.5 0h0m-584.5 6.5h0m13 0h0m302.5 0h0m-302.5 13h0m269.5 0.5h0m7 0h0m19.5 0h0m-401.5 6.5h0m39.5 0h0m20 0h0m578 0h0m-288.5 0h0m-7 6.5h0m40 0h0m-66 6.5h0m368 6.5h0m335 7h0m-591.5 70h0m-46 6.5h0m6.5 0h0m26.5 0h0m-328.5 13h0m315 0.5h0m-401 13h0m328.5 0h0m59.5 0h0m710 6.5h0m-703.5 0h0m664 6.5h0m33 0h0m-690.5 7h0m664 6.5h0m-1058.5 6.5h0m348.5 6.5h0m611 6.5h0m26.5 0h0m-374.5 6.5h0m460.5 0.5h0m26.5 0h0m-743.5 0h0m1355.5 6h0m-1099 0.5h0m387.5 0h0m382 6h0m-763 0.5h0m1085.5 6h0m-770.5 0.5h0m20 0h0m6.5 0h0m13.5 0h0m-355 6.5h0m53 0h0m-289.5 0.5h0m388 6h0m190 0h0m33 0h0m-19.5 7h0m-40 6.5h0m26.5 0h0m6.5 0h0m20 0h0m-13 6.5h0m26 0h0m-33 6.5h0m40 0h0m-644.5 0.5h0m940 5.5h0m-355 0.5h0m-302 0h0m295 7h0m7 0h0m-289 6.5h0m6.5 0h0m13.5 0h0m19.5 0h0m-335.5 0h0m53 0h0m13 0h0m545.5 6.5h0m85.5 0h0m-401 0h0m13.5 0h0m39.5 0h0m6.5 0h0m302 6.5h0m79.5 0h0m-375 0h0m-66 6.5h0m-269.5 7h0m611 6.5h0m-604.5 6.5h0" stroke="#1cffdb" stroke-width="5.8" stroke-linecap="round" fill="none"/>
<path d="M1070 1271h0m13 0h0m72 0h0m-1050.5 0.5h0m13.5 0h0m19.5 0h0m270 0h0m13 0h0m6.5 0h0m26.5 0h0m6.5 0h0m289 0h0m6.5 0h0m380 6.5h0m-1017.5 0h0m296 0h0m20 0h0m354.5 0h0m985 6.5h0m-671 0h0m13.5 0h0m-1037.5 0h0m13 0h0m59 0h0m6.5 0h0m7 0h0m237 0h0m19.5 0h0m33 0h0m6.5 0h0m13.5 0h0m6.5 0h0m255.5 0h0m1071 6.5h0m6.5 0h0m-749.5 0h0m32.5 0h0m92 0h0m19.5 0h0m-1070 0h0m256.5 0h0m7 0h0m52.5 0h0m6.5 0h0m262.5 0h0m33 0h0m301.5 6.5h0m45.5 0h0m65.5 0h0m33 0h0m6.5 0h0m-1122.5 0h0m79 0h0m230 0.5h0m7 0h0m13 0h0m13 0h0m7 0h0m6.5 0h0m39.5 0h0m20 0h0m-421.5 6.5h0m19.5 0h0m6.5 0h0m13.5 0h0m13 0h0m19.5 0h0m13.5 0h0m276.5 0h0m52.5 0h0m20 0h0m898.5 6.5h0m20 0h0m-1366 0h0m6.5 0h0m39.5 0h0m59 0h0m204 0h0m19.5 0h0m26.5 0h0m20 0h0m13 0h0m53 0h0m341 0h0m866.5 6h0m79 0h0m-605 0.5h0m243.5 0h0m-1340 0h0m33 0h0m13 0h0m322.5 0h0m40 0h0m6.5 0h0m1313 6.5h0m-736.5 0h0m85 0h0m26.5 0h0m13 0h0m-1135.5 0h0m72 0h0m52.5 0h0m211 0h0m46 0h0m33 0h0m223 0.5h0m19.5 0h0m13 0h0m1018 6h0m26.5 0h0m6.5 0h0m26.5 0h0m-762.5 0h0m6.5 0h0m355 0h0m-1300.5 0h0m13 0h0m39.5 0h0m6.5 0h0m6.5 0h0m26 0h0m237.5 0.5h0m6.5 0h0m302 0h0m952 6h0m-1642 0h0m52.5 0h0m72 0h0m1235 0h0m46 0h0m-1044 0.5h0m33 0h0m20 0h0m242.5 0h0m131.5 0h0m932.5 6h0m-625 0h0m33 0h0m-1135.5 0.5h0m13 0h0m13 0h0m1307 0h0m-945 0h0m13 0h0m13.5 0h0m6.5 0h0m6.5 0h0m328 0h0m965.5 6h0m-585.5 0.5h0m-1122.5 0h0m6.5 0h0m72 0h0m26.5 0h0m243.5 0h0m6.5 0h0m7 0h0m19.5 0h0m256 0h0m1064 6.5h0m46 0h0m-730 0h0m46 0h0m26 0h0m33 0h0m-1122.5 0h0m46 0h0m13 0h0m13 0h0m46 0h0m6.5 0h0m1235 0h0m335.5 6.5h0m52.5 0h0m-1767 0h0m104.5 0h0m1228.5 0h0m-676 0.5h0m26 0h0m53 0h0m366.5 6h0m-1030.5 0h0m32.5 0h0m7 0h0m1261 0h0m19.5 0h0m-1063.5 0.5h0m335 0h0m6.5 0h0m46 0h0m1018 6h0m13 0h0m-697 0h0m98.5 0h0m-1050.5 0h0m13.5 0h0m13 0h0m13 0h0m1235 0.5h0m-709 0h0m13 0h0m1038 6h0m59 0h0m-664.5 0h0m20 0h0m13 0h0m-1083 0.5h0m6.5 0h0m72 0h0m1221.5 0h0m-676 0.5h0m6.5 0h0m46.5 0h0m985 5.5h0m6.5 0h0m-638 0.5h0m59 0h0m-1024 0h0m6.5 0h0m19.5 0h0m1149.5 0h0m-650 0.5h0m13.5 0h0m13 0h0m6.5 0h0m99 0h0m26.5 0h0m261.5 6h0m65.5 0h0m-1070 0h0m72 0h0m499.5 0.5h0m13 0h0m46.5 0h0m26 0h0m26.5 0h0m59.5 0h0m-749.5 6h0m997.5 0h0m7 0h0m13 0h0m13 0h0m-432.5 0.5h0m26 0h0m20 0h0m26.5 0h0m52.5 0h0m893 6h0m-1623 0h0m13.5 0h0m6.5 0h0m6.5 0h0m958.5 0h0m52.5 0h0m13 0h0m-432.5 0.5h0m33 0h0m72.5 0h0m33 0h0m-756.5 6h0m7 0h0m91.5 0h0m6.5 0h0m7 0h0m19.5 0h0m919 0h0m46 0h0m-472 1h0m13 0h0m1071 5.5h0m-1741 0h0m72 0h0m6.5 0h0m965.5 0.5h0m-400 0.5h0m13 0h0m13 0h0m86 0h0m978.5 6h0m26 0h0m20 0h0m-1761 0h0m6.5 0h0m20 0h0m39 0h0m7 0h0m39 0h0m20 0h0m6.5 0h0m821 0h0m13 0h0m124.5 0h0m-492 0.5h0m13.5 0h0m26 0h0m13.5 0h0m118.5 0h0m939 6h0m-1761 0h0m33 0h0m13 0h0m46 0h0m33 0h0m866.5 0h0m-321 0.5h0m105.5 0h0m925.5 6h0m59.5 0h0m-1761 0h0m13.5 0h0m26 0h0m59 0h0m886.5 0h0m-248.5 1h0m-716.5 5.5h0m6.5 0h0m657 1h0m-657 5.5h0m624 7.5h0m715 89h0m7 0h0m33 0h0m276.5 0.5h0m-1282 0.5h0m651.5 0h0m314 6h0m283.5 0h0m46 0h0m-1209.5 0.5h0m6.5 0h0m20 0h0m592 0h0m-1005.5 0.5h0m1214 5.5h0m330 0h0m-1256 0.5h0m66 0h0m46 0h0m20 0h0m552.5 0h0m33 0h0m-992 0.5h0m6.5 0h0m6.5 0h0m1537 5.5h0m6.5 0h0m13.5 0h0m46 0h0m-973 0.5h0m-342 0.5h0m6.5 0h0m39.5 0h0m59.5 0h0m533 0h0m19.5 0h0m7 0h0m52.5 0h0m-1064.5 0h0m65.5 0h0m1201 5.5h0m343 0.5h0m65.5 0h0m-1367.5 0.5h0m66 0h0m13 0h0m6.5 0h0m20 0h0m645 0h0m-1117.5 0.5h0m39.5 0h0m33 0h0m1227 5h0m6.5 0h0m26.5 0h0m66.5 0h0m217 0.5h0m26.5 0h0m66 0h0m-986 0.5h0m98 0h0m7 0h0m-427.5 0h0m6.5 0h0m26.5 0h0m26 0h0m53 0h0m520 0h0m26 0h0m46 0h0m-1044.5 0.5h0m32.5 0h0m33 0h0m1194.5 5.5h0m13 0h0m26.5 0h0m257 0h0m66 0h0m-868 0.5h0m6.5 0h0m-473 0h0m13 0h0m6.5 0h0m26.5 0h0m26 0h0m66 0h0m-472.5 0.5h0m20 0h0m6.5 0h0m20 0h0m46 0h0m13 0h0m1201 5.5h0m283.5 0h0m52.5 0h0m13.5 0h0m79 0h0m-1387.5 0.5h0m6.5 0h0m20 0h0m111.5 0h0m592.5 0h0m6.5 0h0m-1005.5 0.5h0m20 0h0m1220.5 5.5h0m79.5 0h0m13.5 0h0m197 0h0m7 0h0m105 0h0m33 0h0m-1407 0.5h0m46 0h0m20 0h0m651.5 0h0m-1032 0.5h0m1273.5 5.5h0m13 0h0m60 0h0m6.5 0h0m20 0h0m230 0h0m13 0h0m-985.5 0.5h0m6.5 0h0m-210.5 0.5h0m13 0h0m553 0h0m33 0h0m-1078 0h0m66 0h0m26 0h0m20 0h0m1207.5 5.5h0m323 0.5h0m-972.5 0h0m-296.5 0.5h0m85.5 0h0m13.5 0h0m658 0h0m6.5 0h0m-1045 0.5h0m1688.5 5.5h0m-1110.5 0.5h0m19.5 0h0m-329 0h0m52.5 0h0m13 0h0m66 0h0m645 0h0m-1058 0.5h0m26.5 0h0m584 6h0m85 0h0m-381 0h0m26 0h0m46 0h0m20 0h0m6.5 0h0m592.5 0h0m6.5 0h0m33 0h0m-1097.5 0.5h0m39.5 0h0m52.5 0h0m1194 5.5h0m356 0h0m-1196 0.5h0m-420 0.5h0m6.5 0h0m59.5 0h0m1247 5.5h0m26.5 0h0m283.5 0h0m19.5 0h0m6.5 0h0m39.5 0h0m33 0h0m-1104 0.5h0m19.5 0h0m78.5 0h0m-394.5 0.5h0m112 0h0m-413 0h0m6.5 0h0m6.5 0h0m1530.5 5.5h0m145 0h0m-1381 1h0m20 0h0m92 0h0m13 0h0m592.5 0h0m-1051.5 0h0m1366 6h0m336 0h0m13 0h0m-1065 0h0m-302.5 0.5h0m19.5 0h0m20 0h0m697.5 0h0m-1051.5 0.5h0m26.5 0h0m1655.5 5.5h0m-1104.5 0.5h0m39.5 0h0m-322.5 0h0m46 0h0m26.5 0h0m-367 0.5h0m39.5 0h0m1187.5 5.5h0m13.5 0h0m112.5 0h0m-749 0.5h0m118 0h0m-453.5 0h0m52.5 0h0m13 0h0m59.5 0h0m6.5 0h0m26 0h0m513.5 0h0m98.5 0h0m248.5 6h0m7 0h0m19.5 0h0m-729 0.5h0m79 0h0m-362 0h0m39.5 0h0m72.5 0h0m592.5 0h0m-1084.5 0.5h0m6.5 0h0m6.5 0h0m6.5 0h0m53 0h0m19.5 0h0m6.5 0h0m20 0h0m1307 5.5h0m322.5 0h0m-1071.5 0.5h0m13 0h0m-263.5 0.5h0m20 0h0m19.5 0h0m33 0h0m618.5 0h0m-1110.5 0h0m20 0h0m6.5 0h0m59 0h0m643.5 6h0m-362 0.5h0m6.5 0h0m112 0h0m-439.5 0.5h0m20 0h0m19.5 0h0m1247 5.5h0m-689 0.5h0m13 0h0m111.5 0h0m-348.5 0h0m92.5 0h0m454 0h0m26.5 0h0m125 0h0m-461 6.5h0m-283 0h0m46 0h0m20 0h0m26.5 0h0m32.5 0h0m-485.5 0.5h0m86 0h0m373.5 6h0m6.5 0h0m6.5 0h0m13 0h0m-498.5 0.5h0m52.5 0h0m20 0h0m19.5 0h0m20 0h0m26.5 0h0m616.5 6h0m-296 0.5h0m26.5 0h0m487 0h0m20 0h0m-992.5 0h0m13 0h0m46.5 0h0m6.5 0h0m33 0h0m13 0h0m321 6.5h0m46 0h0m513.5 0h0m-992.5 0h0m26.5 0h0m98.5 0h0m6.5 0h0m308 6.5h0m-446 0.5h0m72.5 0h0m13 0h0m20 0h0m13 0h0m-66 6.5h0m66 0h0m13 0h0m-52.5 6.5h0m26.5 0h0m19.5 0h0m308.5 166h0m-26 6.5h0m19.5 0h0m-276 6.5h0m19.5 0h0m270 0h0m-342.5 6.5h0m342.5 0h0m-388.5 6.5h0m33 0h0m-46.5 6.5h0m13.5 0h0m33 0h0m19.5 0h0m296 0.5h0m953 5.5h0m-1222.5 1h0m276.5 0h0m19.5 0h0m-342 6.5h0m348.5 0h0m-381.5 6.5h0m-6.5 6.5h0m985.5 0h0m-630.5 0.5h0m7 0h0m-362 6h0m66 0h0m584.5 0.5h0m315.5 0h0m19.5 0h0m26.5 0h0m6.5 0h0m-368 6.5h0m13.5 0h0m308.5 0h0m46 0h0m-610.5 0h0m1288.5 6h0m-1354.5 0.5h0m-250 6.5h0m33 0h0m276.5 0h0m-296 6.5h0m860.5 0h0m46 0h0m-630.5 0.5h0m-368.5 6h0m637.5 0.5h0m1098.5 6h0m-756.5 0.5h0m697 6h0m-1604 0.5h0m552 0h0m1085 6.5h0m-1032.5 0h0m1013 6.5h0m-1670 0h0m72.5 0h0m525.5 0h0m762.5 6h0m303 0.5h0m-1571.5 0h0m532 0.5h0m7 0h0m1058.5 6h0m-1722.5 0.5h0m664 0h0m13 0h0m-651 6.5h0m638 0h0m-210 0h0m1268.5 6.5h0m-1709.5 0h0m1321.5 6h0m-1216 0.5h0m571.5 0h0m999.5 6.5h0m-1268.5 0.5h0m-59 13h0m-20 20h0m85.5 70h0m-7 6.5h0m697.5 7h0m-723.5 6.5h0m13 0h0m20 0h0m6.5 0h0m664 6.5h0m-723.5 0h0m20 0h0m13 0h0m697 13h0m-959.5 13h0m578 0h0m72.5 0h0m289.5 0.5h0m-644.5 0h0m355 6.5h0m256.5 0h0m59 0h0m-440.5 6.5h0m401 0h0m-939.5 6.5h0m525.5 0h0m6.5 0h0m72.5 0h0m374.5 0h0m-782.5 0h0m1355 6.5h0m46.5 0h0m-974 0h0m229.5 7h0m-308.5 6.5h0m26.5 0h0m85.5 0h0m170 0h0m20 0h0m6.5 0h0m13.5 0h0m-40 6.5h0m13.5 0h0m704.5 6h0m59.5 0h0m-770.5 0.5h0m39.5 0h0m-20 6.5h0m13.5 0h0m-900 6.5h0m532 0h0m46 0h0m92.5 0h0m6.5 0h0m249.5 0h0m-40 7h0m20 0h0m13 0h0m7 0h0m-368 6.5h0m321.5 6.5h0m26.5 0h0m6.5 0h0m-53 6.5h0m13.5 0h0m46 0h0m-999 0h0m322 0.5h0m637.5 6h0m46.5 0h0m-328.5 0h0m288.5 7h0m7 0h0m6.5 0h0m19.5 0h0m7 0h0m-33 6.5h0m19.5 0h0m0 6.5h0m6.5 0h0m-992 0h0m683.5 0h0m33 0h0m-33 6.5h0m-19.5 6.5h0m32.5 0h0m33 0h0m26.5 0h0m6.5 0h0m216.5 6.5h0m13 0h0m-328 0.5h0m13 0h0" stroke="#33ffc4" stroke-width="5.8" stroke-linecap="round" fill="none"/>
<path d="M1076.5 1271h0m59 0h0m-1057 0.5h0m13 0h0m322.5 0h0m649.5 6.5h0m19.5 0h0m33 0h0m-1044 0h0m32.5 0h0m20 0h0m6.5 0h0m263 0h0m86 0h0m275.5 0h0m39.5 0h0m288 6.5h0m72 0h0m6.5 0h0m20 0h0m-1077 0h0m289.5 0h0m20 0h0m702 6.5h0m59 0h0m-1096.5 0h0m13 0h0m39.5 0h0m276.5 0h0m33 0h0m39.5 0h0m20 0h0m1345.5 6.5h0m-723 0h0m-1044 0h0m329 0.5h0m315 0h0m13 0h0m321.5 6h0m32.5 0h0m13 0h0m20 0h0m6.5 0h0m289.5 0h0m-1359.5 0.5h0m26 0h0m98.5 0h0m230.5 0h0m46 0h0m40 0h0m6.5 0h0m222.5 0h0m79 0h0m262 6h0m6.5 0h0m6.5 0h0m6.5 0h0m33 0h0m26 0h0m-1050.5 0.5h0m6.5 0h0m85.5 0h0m6.5 0h0m217.5 0h0m20 0h0m13 0h0m13 0h0m40 0h0m216 0h0m1024.5 6h0m33 0h0m-703.5 0.5h0m13 0h0m6.5 0h0m6.5 0h0m33 0h0m19.5 0h0m19.5 0h0m39.5 0h0m217.5 0h0m-1366 0h0m6.5 0h0m13 0h0m39.5 0h0m59 0h0m6.5 0h0m13 0h0m513 0h0m13 0h0m6.5 0h0m1077.5 6.5h0m6.5 0h0m-769 0h0m45.5 0h0m72 0h0m13.5 0h0m26 0h0m217.5 0h0m-1366 0h0m52 0h0m13.5 0h0m13 0h0m19.5 0h0m13.5 0h0m558.5 0.5h0m13 0h0m13.5 0h0m952 6h0m46 0h0m52.5 0h0m-729.5 0h0m19.5 0h0m6.5 0h0m65.5 0h0m6.5 0h0m13.5 0h0m-1103 0h0m46 0h0m19.5 0h0m46 0h0m191 0.5h0m20 0h0m6.5 0h0m13 0h0m53 0h0m242.5 0h0m26 0h0m26.5 0h0m1011.5 6h0m-697 0h0m6.5 0h0m92 0h0m6.5 0h0m13 0h0m-1129 0h0m26 0h0m6.5 0h0m26.5 0h0m33 0h0m6.5 0h0m6.5 0h0m263.5 0.5h0m33 0h0m275.5 0h0m327.5 6h0m65.5 0h0m59 0h0m-1089.5 0.5h0m19.5 0h0m13 0h0m20 0h0m26 0h0m13 0h0m1583.5 6h0m33 0h0m-782.5 0.5h0m20 0h0m19.5 0h0m13 0h0m46 0h0m6.5 0h0m6.5 0h0m-1103 0h0m7 0h0m13 0h0m19.5 0h0m33 0h0m6.5 0h0m19.5 0h0m20 0h0m19.5 0h0m1169 0h0m-879 0h0m262 0h0m118.5 0h0m288 6.5h0m13 0h0m13 0h0m7 0h0m-1122.5 0h0m13 0h0m46 0h0m26 0h0m585 0.5h0m19.5 0h0m985.5 6h0m111.5 0h0m-723 0h0m6.5 0h0m6.5 0h0m13 0h0m6.5 0h0m6.5 0h0m6.5 0h0m6.5 0h0m7 0h0m26 0h0m-1030.5 0h0m1261 0h0m6.5 0h0m-1057 0.5h0m13 0h0m689 6h0m6.5 0h0m6.5 0h0m39.5 0h0m-1024 0h0m26 0h0m565 0.5h0m380.5 6h0m33 0h0m13 0h0m32.5 0h0m6.5 0h0m20 0h0m-1096.5 0h0m33 0h0m598 0.5h0m1090.5 6h0m-717 0h0m13 0h0m13.5 0h0m6.5 0h0m19.5 0h0m-1050.5 0.5h0m52.5 0h0m13.5 0h0m1254.5 0h0m6.5 0h0m-715.5 0.5h0m59 0h0m1044.5 5.5h0m-723.5 0.5h0m6.5 0h0m13 0h0m13.5 0h0m13 0h0m-1024 0h0m13 0h0m1300.5 0h0m-729 0.5h0m1018 6h0m85.5 0h0m-703.5 0h0m33 0h0m32.5 0h0m6.5 0h0m26.5 0h0m13 0h0m-1109.5 0h0m6.5 0h0m20 0h0m6.5 0h0m13 0h0m20 0h0m32.5 0h0m13 0h0m26.5 0h0m592 0.5h0m945.5 6h0m-1642.5 0h0m19.5 0h0m39.5 0h0m847 0h0m46 0h0m6.5 0h0m6.5 0h0m26.5 0h0m39 0h0m13.5 0h0m-485.5 0.5h0m13 0h0m13.5 0h0m26 0h0m998.5 6h0m-1688 0h0m59 0h0m91.5 0h0m841 0h0m26 0h0m32.5 0h0m13.5 0h0m19.5 0h0m39.5 0h0m13 0h0m13 0h0m-505 0.5h0m39.5 0h0m-571.5 6h0m945 0h0m59 0h0m13.5 0h0m-465.5 1h0m33 0h0m46 0h0m-742.5 5.5h0m39 0h0m13 0h0m20 0h0m6.5 0h0m26 0h0m13.5 0h0m13 0h0m26 0h0m20 0h0m827.5 0.5h0m6.5 0h0m19.5 0h0m39.5 0h0m6.5 0h0m46 0h0m6.5 0h0m19.5 0h0m-406 0.5h0m-729.5 6h0m59 0h0m6.5 0h0m6.5 0h0m39.5 0h0m13 0h0m6.5 0h0m860.5 0h0m19.5 0h0m91.5 0h0m-465.5 0.5h0m39.5 0h0m1038 6h0m-1695 0h0m46 0h0m893 0h0m33 0h0m-354.5 0.5h0m20 0h0m6.5 0h0m39.5 0h0m959 6h0m-1675 0h0m965 0h0m-328 1h0m13 0h0m-643.5 5.5h0m19.5 0h0m965.5 0h0m6.5 0h0m-361 1h0m26.5 0h0m19.5 0h0m125.5 0h0m-795.5 5.5h0m1379 0.5h0m-728.5 0.5h0m13 0h0m6.5 0h0m695.5 95.5h0m276.5 0.5h0m26.5 0h0m-1255.5 0.5h0m6.5 0h0m46 0h0m13 0h0m6.5 0h0m-459 0.5h0m6.5 0h0m13.5 0h0m1246.5 5.5h0m33.5 0h0m13 0h0m13.5 0h0m283 0h0m13 0h0m-887 0.5h0m-401.5 0h0m59.5 0h0m33 0h0m-446 0.5h0m26 0h0m33 0h0m20 0h0m1227 5.5h0m26.5 0h0m6.5 0h0m26.5 0h0m7 0h0m276.5 0h0m-1295.5 0.5h0m26.5 0h0m39.5 0h0m19.5 0h0m13.5 0h0m6.5 0h0m19.5 0h0m507 0h0m85.5 0h0m-1071 0.5h0m13 0h0m19.5 0h0m20 0h0m1286.5 5.5h0m53 0h0m-624 0.5h0m-309 0.5h0m579 0h0m20 0h0m6.5 0h0m-1018.5 0h0m52.5 0h0m1181 5.5h0m20 0h0m39.5 0h0m20 0h0m230.5 0.5h0m33 0h0m13 0h0m20 0h0m-1321.5 0.5h0m85.5 0h0m19.5 0h0m53 0h0m487 0h0m125 0h0m-1097.5 0.5h0m39.5 0h0m19.5 0h0m13.5 0h0m1570 5.5h0m26 0h0m-953 0.5h0m33 0h0m-388 0h0m26 0h0m26.5 0h0m553 0h0m26 0h0m33 0h0m33 0h0m6.5 0h0m-1084.5 0.5h0m6.5 0h0m33 0h0m26.5 0h0m46 0h0m1267 5.5h0m224 0h0m26.5 0h0m6.5 0h0m6.5 0h0m6.5 0h0m-1301.5 0.5h0m46 0h0m13 0h0m13.5 0h0m13 0h0m33 0h0m19.5 0h0m586 0h0m6.5 0h0m46 0h0m-1137 0.5h0m13 0h0m13.5 0h0m6.5 0h0m59 0h0m13.5 0h0m26 0h0m6.5 0h0m1181.5 5.5h0m19.5 0h0m66.5 0h0m13 0h0m217.5 0h0m-900.5 0.5h0m-388 0h0m78.5 0h0m46.5 0h0m19.5 0h0m20 0h0m6.5 0h0m480.5 0h0m125 0h0m-1124 0.5h0m13 0h0m20 0h0m6.5 0h0m19.5 0h0m1267 5.5h0m20 0h0m19.5 0h0m20 0h0m237 0h0m20 0h0m59 0h0m-1315 0.5h0m59.5 0h0m33 0h0m6.5 0h0m6.5 0h0m6.5 0h0m645 0h0m-1097.5 0.5h0m1570 5.5h0m33 0h0m-953 0.5h0m-342 0.5h0m19.5 0h0m79 0h0m6.5 0h0m26.5 0h0m26.5 0h0m579 0h0m19.5 0h0m6.5 0h0m-1058 0h0m20 0h0m26.5 0h0m1253.5 5.5h0m250.5 0.5h0m-1229.5 0.5h0m39.5 0h0m26.5 0h0m585.5 0h0m72.5 0h0m-1045 0.5h0m39.5 0h0m20 0h0m13 0h0m1609.5 5.5h0m-992.5 0.5h0m72 0h0m-440.5 0h0m39.5 0h0m13.5 0h0m46 0h0m26 0h0m526.5 0h0m-946 0.5h0m1253.5 5.5h0m-662.5 0.5h0m6.5 0h0m-276.5 0h0m39.5 0h0m697.5 0h0m-1038 0.5h0m571 6h0m164 0h0m-440.5 0h0m6.5 0h0m33 0h0m6.5 0h0m13 0h0m26.5 0h0m13 0h0m474 0h0m13 0h0m26.5 0h0m72.5 0h0m-1018.5 0.5h0m26 0h0m610.5 6h0m79 0h0m39 0h0m-414 0.5h0m6.5 0h0m26.5 0h0m579 0h0m39.5 0h0m39.5 0h0m39.5 0h0m-1117.5 0h0m46.5 0h0m26 0h0m13.5 0h0m13 0h0m1570 5.5h0m-1018.5 0.5h0m-316 0.5h0m6.5 0h0m6.5 0h0m19.5 0h0m20 0h0m6.5 0h0m6.5 0h0m33 0h0m-400 0h0m20 0h0m6.5 0h0m26.5 0h0m6.5 0h0m1273.5 6h0m-722.5 0h0m7 0h0m6.5 0h0m6.5 0h0m19.5 0h0m6.5 0h0m-375 0.5h0m13.5 0h0m13 0h0m6.5 0h0m13 0h0m39.5 0h0m6.5 0h0m26.5 0h0m6.5 0h0m13.5 0h0m539.5 0h0m105 0h0m7 0h0m-1091 0.5h0m13 0h0m26.5 0h0m19.5 0h0m682.5 6h0m-434 0h0m66 0h0m6.5 0h0m46 0h0m13.5 0h0m19.5 0h0m625 0h0m-1071 0.5h0m20 0h0m19.5 0h0m13 0h0m1274 5.5h0m19.5 0h0m-1031.5 0.5h0m13 0h0m6.5 0h0m112 0h0m513.5 0h0m-1005.5 0.5h0m13 0h0m46 0h0m39.5 0h0m20 0h0m1629.5 5.5h0m-1078 0.5h0m-303 0h0m39.5 0h0m19.5 0h0m13.5 0h0m6.5 0h0m13 0h0m6.5 0h0m513.5 0h0m39.5 0h0m-959.5 0.5h0m20 0h0m1273.5 5.5h0m33 0h0m388.5 0h0m-1104 0.5h0m-217.5 0.5h0m20 0h0m6.5 0h0m6.5 0h0m6.5 0h0m-439.5 0h0m20 0h0m26 0h0m26.5 0h0m545 6h0m45.5 0h0m-309 0.5h0m6.5 0h0m6.5 0h0m13.5 0h0m26 0h0m6.5 0h0m500.5 0h0m131.5 0h0m39.5 0h0m-1104 0.5h0m92 0h0m545 6h0m-263.5 0h0m13 0h0m33 0h0m13 0h0m13.5 0h0m6.5 0h0m493.5 0h0m125 0h0m6.5 0h0m-1110.5 0.5h0m26.5 0h0m26 0h0m46 0h0m20 0h0m1300 5.5h0m7 0h0m-960 0.5h0m46.5 0h0m454 0h0m46 0h0m-1012 0.5h0m13 0h0m46 0h0m26.5 0h0m6.5 0h0m6.5 0h0m20 0h0m6.5 0h0m6.5 0h0m367 6h0m500.5 0h0m26 0h0m85.5 0h0m-998.5 0.5h0m13 0h0m13 0h0m288 6.5h0m13.5 0h0m19.5 0h0m53 0h0m480 0h0m92.5 0h0m6.5 0h0m33 0h0m19.5 0h0m-1143.5 0h0m13 0h0m20 0h0m13 0h0m33 0h0m13 0h0m46 0h0m1188 6h0m-649.5 0h0m-243.5 0.5h0m32.5 0h0m46.5 0h0m605 0h0m-1117 0h0m72.5 0h0m19.5 0h0m13.5 0h0m689 6h0m-355 0.5h0m658 0h0m39.5 0h0m-1097.5 0.5h0m52.5 0h0m33 0h0m6.5 0h0m972.5 6h0m-1031.5 0.5h0m13 0h0m39.5 0h0m6.5 6.5h0m-59 6.5h0m0 6.5h0m72 152.5h0m13 13.5h0m276 0h0m-19.5 6.5h0m-349 6.5h0m349 0.5h0m26.5 0h0m-362 6h0m-26.5 7h0m13 0h0m355.5 0h0m979 5.5h0m-1361 1h0m26.5 0h0m-33 6.5h0m6.5 0h0m369 0h0m-369 6.5h0m46.5 0h0m966 0h0m-657 0.5h0m46.5 0h0m6.5 0h0m-368.5 6h0m624 0.5h0m7 0h0m13 0h0m295.5 0h0m-591 0h0m26.5 0h0m-415 6.5h0m119 0h0m565 0h0m308.5 0h0m-643.5 0h0m302 6.5h0m13 0h0m13.5 0h0m289 0h0m13 0h0m763.5 6.5h0m-1736 0h0m335.5 0h0m6.5 0h0m72.5 0h0m-421.5 6.5h0m651 0h0m302 0h0m0 7h0m26.5 0h0m-972.5 6.5h0m631 0h0m19.5 0h0m6.5 0h0m33 6.5h0m-46 6.5h0m6.5 0h0m20 0h0m1019 6.5h0m-1643.5 0h0m624.5 0h0m13 0h0m-308.5 0.5h0m39.5 0h0m1308 6h0m-1072 0.5h0m33 0h0m-39.5 6.5h0m-631 6.5h0m428 0h0m939.5 5.5h0m-1295 1h0m230 0h0m26.5 0h0m-250 6.5h0m-19.5 20h0m322 90h0m6.5 0h0m19.5 13.5h0m697.5 13h0m-342 6.5h0m309 0h0m6.5 0h0m6.5 0h0m-348.5 6.5h0m6.5 0h0m322 0h0m20 0h0m-703.5 0h0m52.5 0h0m329 6.5h0m6.5 0h0m276 7h0m-309 6.5h0m309 0h0m13 0h0m-388 6.5h0m368.5 0h0m26 0h0m-348 6.5h0m388 0h0m-375 6.5h0m249.5 0h0m52.5 0h0m66 0h0m7 0h0m256 6h0m-598 0.5h0m6.5 0h0m210 0.5h0m72.5 0h0m-328.5 6.5h0m39.5 0h0m19.5 0h0m289.5 0h0m-362 6.5h0m40 0h0m216 0h0m-532 0h0m538.5 6.5h0m40 0h0m-671 0h0m428 6.5h0m190 0h0m6.5 0h0m26.5 0h0m92.5 0h0m-440.5 6.5h0m125 0h0m170 0h0m20 0h0m33 0h0m112.5 0h0m-434.5 7h0m269 0h0m6.5 0h0m7 0h0m13 0h0m-209.5 6.5h0m19.5 0h0m170 0h0m33.5 0h0m19.5 0h0m13.5 0h0m79 0h0m-394.5 6.5h0m85.5 0h0m177 0h0m-6.5 6.5h0m26.5 0h0m-40 6.5h0m6.5 0h0m26.5 0h0m13.5 0h0m-26.5 7h0m6.5 0h0m119 0h0m-664 0h0m545 6.5h0m6.5 0h0m40 0h0m6.5 0h0m-236.5 0h0m177 6.5h0m33 0h0m6.5 6.5h0m66 0h0m-361.5 0h0m276 6.5h0m6.5 0h0m6.5 0h0m26.5 0h0m13 0h0m-341.5 0h0m335 6.5h0m-308.5 0.5h0m322 6.5h0" stroke="#46ffb1" stroke-width="5.8" stroke-linecap="round" fill="none"/>
<path d="M1175 1271h0m-1018 0.5h0m913 6.5h0m72 0h0m13 0h0m33 0h0m-1103 0h0m52.5 0h0m289.5 0h0m20 0h0m642.5 6.5h0m39.5 0h0m19.5 0h0m-1024 0h0m617.5 0h0m53 0h0m1031 6.5h0m-723.5 0h0m20 0h0m6.5 0h0m6.5 0h0m32.5 0h0m13.5 0h0m-695 0h0m242.5 0h0m354 6.5h0m33 0h0m59 0h0m13 0h0m6.5 0h0m-1122.5 0h0m52.5 0h0m335.5 0.5h0m295.5 0h0m1064 6h0m-769 0h0m45.5 0h0m13 0h0m66 0h0m230 0h0m-1313.5 0.5h0m46 0h0m270 0h0m19.5 0h0m20 0h0m288.5 0h0m6.5 0h0m972 6h0m72.5 0h0m-684 0h0m6.5 0h0m7 0h0m52 0h0m7 0h0m13 0h0m-1135.5 0.5h0m72 0h0m13 0h0m572 0h0m399.5 6.5h0m26.5 0h0m6.5 0h0m39.5 0h0m13 0h0m-1122.5 0h0m26 0h0m6.5 0h0m26.5 0h0m13 0h0m20 0h0m39 0h0m171.5 0h0m6.5 0h0m59.5 0h0m301.5 0h0m308.5 6.5h0m6.5 0h0m19.5 0h0m65.5 0h0m13 0h0m26.5 0h0m-1083.5 0h0m72.5 0h0m322.5 0h0m1234.5 6.5h0m-651 0h0m26 0h0m46 0h0m6.5 0h0m20 0h0m13 0h0m250 0h0m-1346.5 0h0m46 0h0m26.5 0h0m223.5 0.5h0m39.5 0h0m7 0h0m275.5 0h0m19.5 0h0m1090.5 6h0m13 0h0m-775.5 0h0m19.5 0h0m26 0h0m13.5 0h0m32.5 0h0m26.5 0h0m19.5 0h0m-1149 0h0m66 0h0m13 0h0m78.5 0h0m171.5 0.5h0m13 0h0m79.5 0h0m235.5 0h0m7 0h0m341 6h0m6.5 0h0m32.5 0h0m6.5 0h0m6.5 0h0m13.5 0h0m13 0h0m6.5 0h0m-1070 0.5h0m39 0h0m20 0h0m32.5 0h0m26.5 0h0m526 0h0m19.5 0h0m6.5 0h0m328 6.5h0m32.5 0h0m13 0h0m20 0h0m-932.5 0h0m217.5 0h0m282 0h0m20 0h0m26 0h0m13.5 0h0m360.5 6.5h0m13 0h0m-1050.5 0h0m92 0h0m1267.5 0h0m-722 0.5h0m13 0h0m6.5 0h0m1044.5 6h0m-743 0h0m7 0h0m52 0h0m13 0h0m72.5 0h0m6.5 0h0m-1122.5 0h0m6.5 0h0m46 0h0m65.5 0h0m204 0.5h0m341.5 0h0m321.5 6h0m58.5 0h0m7 0h0m32.5 0h0m39.5 0h0m13 0h0m-1109.5 0h0m6.5 0h0m6.5 0h0m26.5 0h0m52.5 0h0m506 0.5h0m6.5 0h0m33 0h0m393.5 6h0m52.5 0h0m6.5 0h0m-1050.5 0h0m13 0h0m26.5 0h0m1267.5 0.5h0m-742 0h0m13.5 0h0m26 0h0m354 6h0m78.5 0h0m39.5 0h0m-1004.5 0.5h0m486.5 0.5h0m6.5 0h0m6.5 0h0m13.5 0h0m1018 5.5h0m-605 0.5h0m19.5 0h0m6.5 0h0m13 0h0m20 0h0m19.5 0h0m-1089.5 0h0m13 0h0m19.5 0h0m6.5 0h0m33 0h0m532.5 0.5h0m26.5 0h0m295 6h0m32.5 0h0m32.5 0h0m7 0h0m26 0h0m-1057 0h0m26.5 0h0m45.5 0h0m46 0h0m506.5 0.5h0m6.5 0h0m13 0h0m-663.5 6h0m26 0h0m6.5 0h0m131.5 0h0m6.5 0h0m808 0h0m124 0h0m26.5 0h0m6.5 0h0m6.5 0h0m-511.5 0.5h0m-598 6h0m46 0h0m65.5 0h0m20 0h0m807.5 0h0m20 0h0m19.5 0h0m6.5 0h0m65.5 0h0m13 0h0m-445.5 0.5h0m-663.5 6h0m19.5 0h0m6.5 0h0m52.5 0h0m52.5 0h0m46 0h0m827.5 0h0m19.5 0h0m6.5 0h0m13 0h0m6.5 0h0m33 0h0m-413 1h0m13 0h0m53 0h0m-723 5.5h0m19.5 0h0m26.5 0h0m105 0h0m827.5 0.5h0m-354.5 0.5h0m-637 6h0m6.5 0h0m13 0h0m6.5 0h0m105 0h0m52.5 0h0m834 0h0m105 0h0m26 0h0m-511.5 0.5h0m-591.5 6h0m965.5 0h0m6.5 0h0m6.5 0h0m124.5 0h0m-459 0.5h0m-670 6h0m6.5 0h0m972 0h0m-334.5 1h0m26 0h0m295 5.5h0m20 0h0m-361 1h0m6.5 6.5h0m7 0h0m6.5 6.5h0m688.5 89h0m290 0.5h0m-1255.5 0.5h0m26 0h0m6.5 0h0m39.5 0h0m26.5 0h0m586 0h0m597.5 6h0m-1223 0.5h0m6.5 0h0m46 0h0m559.5 0h0m6.5 0h0m13.5 0h0m13 0h0m26.5 0h0m-1091 0.5h0m26 0h0m20 0h0m1293.5 5.5h0m263.5 0h0m19.5 0h0m6.5 0h0m6.5 0h0m13.5 0h0m-657 0.5h0m13.5 0h0m46 0h0m32.5 0h0m7 0h0m-1078 0.5h0m6.5 0h0m1260 5.5h0m60 0h0m263.5 0h0m13 0h0m6.5 0h0m39.5 0h0m13.5 0h0m-1282.5 1h0m13.5 0h0m33 0h0m19.5 0h0m6.5 0h0m533 0h0m7 0h0m65.5 0h0m6.5 0h0m6.5 0h0m-1090.5 0h0m13 0h0m13 0h0m6.5 0h0m33 0h0m13.5 0h0m6.5 0h0m6.5 0h0m1234 5.5h0m283.5 0.5h0m32.5 0h0m-1301.5 0.5h0m39.5 0h0m13 0h0m6.5 0h0m7 0h0m39.5 0h0m26 0h0m6.5 0h0m520 0h0m6.5 0h0m13.5 0h0m13 0h0m39.5 0h0m13 0h0m26.5 0h0m-1137 0.5h0m26.5 0h0m13 0h0m13 0h0m13.5 0h0m32.5 0h0m1260.5 5h0m250.5 0.5h0m19.5 0h0m59.5 0h0m6.5 0h0m-1334.5 0.5h0m39.5 0h0m52.5 0h0m592.5 0h0m33 0h0m-1078 0.5h0m26.5 0h0m85.5 0h0m1247 5.5h0m277 0h0m39.5 0h0m6.5 0h0m19.5 0h0m-1321.5 0.5h0m72.5 0h0m20 0h0m46 0h0m467 0h0m6.5 0h0m7 0h0m6.5 0h0m46 0h0m26.5 0h0m46 0h0m-1117.5 0.5h0m112 0h0m1214 5.5h0m79.5 0h0m204 0h0m26.5 0h0m-1229.5 0.5h0m6.5 0h0m33 0h0m586 0h0m52.5 0h0m-1045 0.5h0m6.5 0h0m20 0h0m6.5 0h0m26.5 0h0m19.5 0h0m6.5 0h0m1227.5 5.5h0m250.5 0h0m59 0h0m-1321 0.5h0m13 0h0m39.5 0h0m612 0h0m13 0h0m46 0h0m-1064.5 0.5h0m59.5 0h0m32.5 0h0m7 0h0m6.5 0h0m13 0h0m1234 5.5h0m13.5 0h0m237 0h0m-828 0.5h0m-342 0.5h0m533 0h0m33 0h0m65.5 0h0m66 0h0m6.5 0h0m-1110.5 0h0m13 0h0m6.5 0h0m33 0h0m46 0h0m1491 6h0m39.5 0h0m6.5 0h0m-992 0h0m26 0h0m-362 0.5h0m7 0h0m92 0h0m72.5 0h0m552.5 0h0m26.5 0h0m26 0h0m-1117 0.5h0m46 0h0m6.5 0h0m53 0h0m6.5 0h0m1247 5.5h0m59.5 0h0m-966 0.5h0m33 0h0m493.5 0h0m20 0h0m6.5 0h0m79 0h0m13 0h0m6.5 0h0m-1058 0.5h0m46 0h0m20 0h0m1260.5 5.5h0m19.5 0h0m-959 0.5h0m72 0h0m480.5 0h0m20 0h0m6.5 0h0m19.5 0h0m66 0h0m-1038.5 0.5h0m53 0h0m1273.5 5.5h0m-702.5 0.5h0m-349 0h0m59.5 0h0m572.5 0h0m52.5 0h0m59.5 0h0m46 0h0m6.5 0h0m-1091 0.5h0m33 0h0m13 0h0m46 0h0m1511 5.5h0m-854.5 0.5h0m-454 0.5h0m92 0h0m46.5 0h0m6.5 0h0m19.5 0h0m474 0h0m19.5 0h0m7 0h0m26 0h0m79 0h0m6.5 0h0m13.5 0h0m-1078 0h0m1313 5.5h0m20 0h0m375.5 0h0m-1052 0.5h0m-368.5 0.5h0m131.5 0h0m546.5 0h0m6.5 0h0m85.5 0h0m6.5 0h0m6.5 0h0m13.5 0h0m-1097.5 0h0m26 0h0m66 0h0m1267 6h0m402 0h0m-1039 0h0m-414.5 0.5h0m13.5 0h0m125 0h0m6.5 0h0m6.5 0h0m579 0h0m7 0h0m-1071.5 0.5h0m20 0h0m26 0h0m13.5 0h0m46 0h0m13 0h0m1247.5 5.5h0m-702.5 0.5h0m-270 0h0m39.5 0h0m39.5 0h0m6.5 0h0m13 0h0m-492 0.5h0m20 0h0m13 0h0m13 0h0m6.5 0h0m13.5 0h0m19.5 0h0m1273.5 5.5h0m-715.5 0.5h0m20 0h0m-316 0h0m72 0h0m553 0h0m92 0h0m13.5 0h0m13 0h0m-1091 0.5h0m26.5 0h0m6.5 0h0m13 0h0m20 0h0m33 0h0m6.5 0h0m1247 5.5h0m26.5 0h0m-702.5 0.5h0m-335.5 0h0m26 0h0m39.5 0h0m20 0h0m19.5 0h0m33 0h0m13 0h0m474 0h0m33 0h0m6.5 0h0m-972.5 0.5h0m610.5 6h0m-283 0.5h0m26.5 0h0m6.5 0h0m59 0h0m46 0h0m474 0h0m26.5 0h0m19.5 0h0m59.5 0h0m13 0h0m39.5 0h0m-1137 0h0m13 0h0m6.5 0h0m39.5 0h0m7 0h0m13 0h0m26.5 0h0m13 0h0m13 0h0m1227.5 6h0m-696 0h0m26.5 0h0m-329 0.5h0m6.5 0h0m19.5 0h0m53 0h0m6.5 0h0m52.5 0h0m559.5 0h0m26.5 0h0m46 0h0m13 0h0m-1137 0.5h0m59.5 0h0m39.5 0h0m6.5 0h0m6.5 0h0m65.5 0h0m183 6h0m13 0h0m59.5 0h0m19.5 0h0m671.5 0h0m13 0h0m-1137 0.5h0m33 0h0m6.5 0h0m46 0h0m13.5 0h0m32.5 0h0m551.5 6h0m6.5 0h0m-322.5 0h0m59.5 0h0m6.5 0h0m19.5 0h0m39.5 0h0m487 0h0m20 0h0m79 0h0m13 0h0m13 0h0m6.5 0h0m20 0h0m13 0h0m-1143.5 0.5h0m39.5 0h0m20 0h0m13 0h0m59 0h0m656.5 6h0m-368.5 0h0m13.5 0h0m599 0h0m46 0h0m6.5 0h0m-1064.5 0.5h0m65.5 0h0m354 6.5h0m52.5 0h0m467.5 0h0m-926.5 0h0m59 0h0m13.5 0h0m19.5 0h0m327.5 6.5h0m46 0h0m467.5 0h0m131.5 0h0m20 0h0m26 0h0m-1104 0h0m33 0h0m19.5 0h0m13.5 0h0m1018.5 6.5h0m-992.5 0.5h0m959.5 6h0m-952.5 0.5h0m-86 6.5h0m33 0h0m53 0h0m985.5 6h0m6.5 0h0m657.5 172.5h0m-1387 7h0m-316 6.5h0m316 7h0m-7 6.5h0m-355 6.5h0m26 0h0m7 0h0m322 0h0m20 0h0m26.5 0h0m-388.5 13h0m13 0h0m966.5 0h0m-348.5 7h0m315.5 0h0m-597.5 0h0m617 6.5h0m13.5 0h0m19.5 0h0m-361.5 6.5h0m13.5 0h0m315 0h0m26.5 0h0m-597.5 6.5h0m20 0h0m-388.5 6.5h0m617.5 0h0m322 0h0m39.5 0h0m-374.5 7h0m335 0h0m-322 13h0m-39.5 6.5h0m46.5 0h0m-26.5 6.5h0m-322 0.5h0m374.5 6.5h0m999.5 6h0m-1058.5 7h0m-578.5 13h0m362 13.5h0m26 110h0m644.5 13h0m-315.5 6.5h0m26 0h0m309 0h0m6.5 0h0m-697 0h0m13.5 6.5h0m309 6.5h0m19.5 0h0m329 0h0m-355 6.5h0m6.5 0h0m19.5 0h0m335.5 0.5h0m13 0h0m13.5 0h0m-684 0h0m329 6.5h0m6.5 0h0m262.5 0h0m59.5 0h0m-427.5 6.5h0m13 0h0m59.5 0h0m6.5 0h0m46 0h0m6.5 0h0m302.5 6.5h0m6.5 0h0m-1052 6.5h0m684 0h0m33 0h0m19.5 0h0m-79 6.5h0m13 0h0m20 0h0m52.5 0h0m177 0.5h0m99 0h0m39.5 0h0m-447 6.5h0m46 0h0m53 0h0m6.5 0h0m13 0h0m210 0h0m13 0h0m59.5 0h0m-604.5 0h0m243 6.5h0m52.5 0h0m256 0h0m46.5 0h0m-750 0h0m401.5 6.5h0m973.5 6.5h0m-980 0h0m66 0h0m6.5 0h0m19.5 0h0m157 0h0m79.5 0h0m79 0h0m-407.5 6.5h0m282 0h0m7 0h0m6.5 0h0m-210 7h0m6.5 0h0m150.5 0h0m165 0h0m-407.5 6.5h0m6.5 0h0m72.5 0h0m13 0h0m223 0h0m-315 6.5h0m66 0h0m256 0h0m85.5 0h0m7 0h0m-7 6.5h0m7 0h0m-145.5 6.5h0m33 0h0m112.5 0h0m-322.5 0h0m236.5 7h0m33 0h0m-361.5 0h0m33 0h0m33 0h0m249 6.5h0m40 0h0m39.5 0h0m-355 0h0m6.5 0h0m20 0h0m19.5 0h0m210 6.5h0m66 0h0m-289 0h0m6.5 0h0m13 0h0m-322 0h0m519 6.5h0m33 0h0m6.5 0h0m-328.5 0h0m72.5 0h0m19.5 0h0m230 6.5h0m52.5 0h0m-381 0h0m335 6.5h0m20 0h0m6.5 0h0m6.5 0h0m-309 0.5h0" stroke="#5dff9a" stroke-width="5.8" stroke-linecap="round" fill="none"/>
<path d="M98 1271.5h0m991.5 6.5h0m19.5 0h0m20 0h0m-1031 0h0m369 0h0m603 6.5h0m6.5 0h0m32.5 0h0m66 0h0m13 0h0m-1070 0h0m26 0h0m913 6.5h0m32.5 0h0m19.5 0h0m33 0h0m6.5 0h0m6.5 0h0m6.5 0h0m33 0h0m6.5 0h0m-1030.5 0h0m250 0h0m649.5 6.5h0m-978.5 0h0m26.5 0h0m26 0h0m224 0.5h0m1484.5 6h0m-710.5 0h0m-1017.5 0.5h0m256.5 0h0m800.5 6h0m19.5 0h0m6.5 0h0m217.5 0.5h0m-1294 0h0m270 0h0m85.5 0h0m236 0h0m13 0h0m328 6.5h0m91.5 0h0m46 0h0m-1044 0h0m290 0h0m66 0h0m189.5 0h0m33 0h0m1044.5 6.5h0m-1688.5 0h0m20 0h0m13 0h0m32.5 0h0m211 0h0m13 0h0m6.5 0h0m315 0.5h0m341.5 6h0m85 0h0m65.5 0h0m-1096.5 0h0m296 0.5h0m112.5 0h0m216 0h0m13 0h0m1077.5 6h0m-762.5 0h0m45.5 0h0m26.5 0h0m19.5 0h0m26 0h0m-1024 0h0m39.5 0h0m184.5 0.5h0m13 0h0m13 0h0m689 6h0m26 0h0m66 0h0m6.5 0h0m-1011 0.5h0m1267.5 0h0m-1070 0h0m26 0h0m7 0h0m301.5 0h0m341.5 6.5h0m6.5 0h0m19.5 0h0m32.5 0h0m20 0h0m78.5 0h0m-1030.5 0h0m223.5 0h0m46.5 0h0m282 0h0m1064 6.5h0m-690.5 0h0m13 0h0m79 0h0m13 0h0m-1155.5 0h0m1366 0h0m7 0h0m-1011 0h0m295 0.5h0m7 0h0m341 6h0m32.5 0h0m-1037.5 0h0m13.5 0h0m78.5 0h0m6.5 0h0m20 0h0m1254.5 0h0m-1044 0.5h0m341.5 0h0m26 0h0m295 6h0m65.5 0h0m26.5 0h0m52.5 0h0m-1136 0h0m13.5 0h0m6.5 0h0m111.5 0h0m1254.5 0h0m-722 0.5h0m32.5 0h0m302 6h0m26 0h0m19.5 0h0m6.5 0h0m-1043.5 0h0m52 0h0m952.5 6.5h0m13 0h0m13 0h0m52.5 0h0m6.5 0h0m13 0h0m20 0h0m13 0h0m-1017.5 0.5h0m578.5 0.5h0m327.5 6h0m39.5 0h0m59 0h0m6.5 0h0m13 0h0m-1103 0h0m52.5 0h0m565.5 0.5h0m32.5 0h0m295 6h0m46 0h0m98.5 0h0m19.5 0h0m-1155.5 0h0m138 0h0m512.5 0.5h0m39.5 0h0m6.5 0h0m-696.5 6h0m26.5 0h0m6.5 0h0m6.5 0h0m39.5 0h0m39.5 0h0m912.5 0h0m26 0h0m33 0h0m19.5 0h0m26.5 0h0m6.5 0h0m-465.5 0.5h0m-677 6h0m13.5 0h0m13 0h0m6.5 0h0m13 0h0m79 0h0m880 0h0m13 0h0m32.5 0h0m98.5 0h0m13 0h0m-478.5 0.5h0m1103.5 6h0m13 0h0m-1786.5 0h0m6.5 0h0m26 0h0m945.5 0h0m7 0h0m6.5 0h0m13 0h0m26 0h0m98.5 0h0m19.5 0h0m-518 1h0m6.5 0h0m158 0h0m-795 5.5h0m59 0h0m19.5 0h0m98.5 0h0m801 0.5h0m33 0h0m26 0h0m52.5 0h0m19.5 0h0m20 0h0m6.5 0h0m13 0h0m191 0h0m-702.5 0.5h0m348 6h0m85 0h0m32.5 0h0m33 0h0m-478.5 0.5h0m6.5 0h0m-663.5 6h0m52.5 0h0m899.5 0h0m6.5 0h0m33 0h0m-361 0.5h0m367.5 6h0m6.5 0h0m13 0h0m-380.5 1h0m13.5 0h0m65.5 0h0m-85.5 13h0m1031.5 96h0m-1289 0.5h0m658.5 0h0m19.5 0h0m6.5 0h0m13.5 0h0m-1045 0.5h0m1642.5 5.5h0m-1249 0.5h0m32.5 0h0m573 0h0m39.5 0h0m39 0h0m578 6h0m-1295 0.5h0m39.5 0h0m19.5 0h0m53 0h0m539.5 0h0m13 0h0m66 0h0m-1032 0.5h0m7 0h0m1596 5.5h0m-959.5 0.5h0m-309 0.5h0m19.5 0h0m26.5 0h0m26 0h0m7 0h0m500 0h0m13 0h0m72.5 0h0m-1051.5 0h0m1333 5.5h0m263.5 0.5h0m13 0h0m-1255.5 0.5h0m618.5 0h0m33 0h0m19.5 0h0m7 0h0m13 0h0m26 0h0m-1058 0.5h0m1333 5h0m26.5 0h0m-939.5 1h0m13 0h0m500 0h0m26.5 0h0m52.5 0h0m33 0h0m39.5 0h0m-1104 0.5h0m98.5 0h0m1247.5 5.5h0m224 0h0m-1216 0.5h0m618.5 0h0m26.5 0h0m72 0h0m20 0h0m-1071.5 0.5h0m1293.5 5.5h0m33 0h0m283 0h0m20 0h0m6.5 0h0m-1334.5 0.5h0m26 0h0m13.5 0h0m79 0h0m506.5 0h0m26.5 0h0m19.5 0h0m20 0h0m6.5 0h0m6.5 0h0m6.5 0h0m7 0h0m39 0h0m-1090.5 0.5h0m39.5 0h0m19.5 0h0m6.5 0h0m1590 5.5h0m-690 0.5h0m13.5 0h0m33 0h0m6.5 0h0m6.5 0h0m13 0h0m13.5 0h0m13 0h0m6.5 0h0m13 0h0m20 0h0m-1130.5 0.5h0m13 0h0m46 0h0m13.5 0h0m1293 5.5h0m257 0h0m-1282 1h0m7 0h0m39 0h0m86 0h0m519.5 0h0m26.5 0h0m39.5 0h0m6.5 0h0m39.5 0h0m26.5 0h0m-1091 0h0m85.5 0h0m1207.5 5.5h0m-827.5 1h0m467.5 0h0m79 0h0m46 0h0m-1084.5 0.5h0m20 0h0m52.5 0h0m1306.5 5.5h0m217.5 0h0m-1262 0.5h0m6.5 0h0m105 0h0m6.5 0h0m500.5 0h0m6.5 0h0m13 0h0m6.5 0h0m118.5 0h0m20 0h0m13 0h0m-1084.5 0.5h0m59.5 0h0m1247 5.5h0m-867 0.5h0m13.5 0h0m454 0h0m6.5 0h0m19.5 0h0m26.5 0h0m6.5 0h0m33 0h0m52.5 0h0m6.5 0h0m13.5 0h0m-1130.5 0.5h0m52.5 0h0m20 0h0m6.5 0h0m46 0h0m327.5 6h0m13 0h0m559.5 0h0m72.5 0h0m46 0h0m-1064.5 0.5h0m275 6.5h0m6.5 0h0m6.5 0h0m13 0h0m6.5 0h0m579.5 0h0m46 0h0m66 0h0m6.5 0h0m6.5 0h0m39.5 0h0m-1104 0h0m72 0h0m33 0h0m209 6.5h0m85.5 0h0m546.5 0h0m26.5 0h0m26 0h0m59.5 0h0m-992.5 0h0m1273.5 6h0m7 0h0m53 0h0m-986 0.5h0m26 0h0m513.5 0h0m13 0h0m13.5 0h0m-992.5 0.5h0m26.5 0h0m19.5 0h0m59.5 0h0m1273.5 5.5h0m-1038 0.5h0m13 0h0m85.5 0h0m526.5 0h0m6.5 0h0m20 0h0m65.5 0h0m33 0h0m6.5 0h0m-1097.5 0.5h0m6.5 0h0m13.5 0h0m623.5 6h0m-289.5 0h0m19.5 0h0m33 0h0m46 0h0m33 0h0m474 0h0m19.5 0h0m7 0h0m79 0h0m32.5 0h0m13.5 0h0m-1045 0.5h0m6.5 0h0m39.5 0h0m1227.5 5.5h0m-656.5 0.5h0m-217 0h0m513 0h0m7 0h0m79 0h0m13 0h0m6.5 0h0m33 0h0m-1018.5 0.5h0m1267 5.5h0m13 0h0m-1044.5 1h0m625 0h0m118.5 0h0m13 0h0m6.5 0h0m20 0h0m-1091 0h0m46 0h0m1280 6h0m20 0h0m6.5 0h0m-689.5 0h0m276.5 0.5h0m6.5 0h0m6.5 0h0m7 0h0m19.5 0h0m6.5 0h0m6.5 0h0m59.5 0h0m33 0h0m-1124 0.5h0m131.5 0h0m46 0h0m268.5 6h0m539.5 0h0m6.5 0h0m20 0h0m59 0h0m-985.5 0.5h0m334 6h0m66 0h0m33 0h0m473.5 0h0m39.5 0h0m92.5 0h0m6.5 0h0m-1091 0.5h0m637 6h0m-257 0h0m33 0h0m513.5 0h0m13 0h0m13 0h0m13.5 0h0m65.5 0h0m7 0h0m19.5 0h0m19.5 0h0m-1117 0.5h0m66 0h0m39.5 0h0m347 6.5h0m20 0h0m533 0h0m92 0h0m13 0h0m6.5 0h0m13.5 0h0m6.5 0h0m-1012 0h0m854 6.5h0m6.5 0h0m105.5 0h0m19.5 0h0m26.5 0h0m6.5 0h0m-1084.5 0h0m26.5 0h0m59.5 0h0m636.5 6h0m329 0.5h0m6.5 0h0m26.5 0h0m-26.5 6.5h0m13.5 0h0m-1071.5 0.5h0m7 0h0m46 0h0m1025 6h0m-1064.5 0.5h0m13 0h0m13 0h0m13.5 0h0m-0.5 179h0m-33 26.5h0m85.5 0h0m-85.5 13h0m33 0h0m906.5 6.5h0m6.5 0h0m-972.5 6.5h0m46 0h0m0 7h0m631 0h0m276 0h0m-322 6.5h0m348 0h0m7 0h0m-604.5 0h0m13.5 0h0m249 6.5h0m368 0h0m-630.5 0h0m972.5 12.5h0m-723 7.5h0m39.5 13h0m-13 6.5h0m-26.5 7h0m39.5 13h0m-269.5 129.5h0m26.5 7h0m664 6.5h0m20 0h0m-348.5 6.5h0m6.5 0h0m13 0h0m6.5 0h0m322.5 6.5h0m-723.5 0h0m375 6.5h0m26 0h0m289.5 0h0m33 0h0m-697.5 0h0m631.5 6.5h0m13 0h0m-697 0.5h0m730 6.5h0m-677.5 0h0m302.5 6.5h0m7 0h0m13 0h0m33 0h0m13 0h0m249.5 0h0m46.5 0h0m-427.5 6.5h0m387.5 0h0m40 0h0m13 0h0m6.5 0h0m-959.5 6.5h0m6.5 0h0m571.5 0h0m26.5 0h0m20 0h0m13 0h0m6.5 0h0m6.5 0h0m276 0h0m13.5 0h0m6.5 0h0m282.5 6h0m-670.5 0.5h0m26.5 0h0m33 0h0m275.5 0h0m33 0h0m-341.5 6.5h0m19.5 0h0m6.5 0h0m243 0.5h0m6.5 0h0m6.5 0h0m20 0h0m704.5 6h0m-678 0.5h0m13 0h0m39.5 0h0m-361.5 6.5h0m46 0h0m223 0h0m26.5 0h0m33 0h0m26.5 0h0m-335 6.5h0m6.5 0h0m6.5 0h0m6.5 0h0m302.5 0h0m13 0h0m6.5 0h0m7 0h0m-362 6.5h0m33 0h0m170 0h0m53 0h0m79.5 0h0m26.5 0h0m-86 6.5h0m-328.5 7h0m66 0h0m6.5 0h0m256 0h0m-59.5 6.5h0m145.5 0h0m-362 6.5h0m20 0h0m13 0h0m249.5 0h0m46.5 6.5h0m13 0h0m6.5 0h0m-401 0h0m66 0h0m6.5 0h0m6.5 0h0m6.5 0h0m276 6.5h0m20 0h0m6.5 0h0m-361.5 0h0m6.5 0h0m39.5 0h0m335 7h0m-394.5 0h0m6.5 0h0m7 0h0m52.5 0h0m295.5 6.5h0m-92.5 6.5h0m46.5 0h0m59.5 0h0m-394.5 0h0m288.5 6.5h0m99.5 0h0m26 0h0m-355 0h0m26.5 0h0m6.5 0h0m249.5 6.5h0m13.5 0h0m13 0h0m53 0h0m-20 6.5h0" stroke="#70ff87" stroke-width="5.8" stroke-linecap="round" fill="none"/>
<path d="M1096 1271h0m52.5 0h0m-754.5 0.5h0m682.5 6.5h0m19.5 0h0m65.5 0h0m6.5 0h0m7 0h0m19.5 0h0m-452.5 0h0m354 6.5h0m26.5 0h0m13 0h0m32.5 0h0m26.5 0h0m6.5 0h0m-1089.5 0h0m329 0h0m668.5 13h0m20 0h0m6.5 0h0m6.5 0h0m19.5 0h0m-26 6.5h0m52.5 0h0m6.5 0h0m6.5 0h0m-478.5 0.5h0m328 6h0m6.5 0h0m98 0h0m39.5 0h0m-78.5 7h0m-400 0h0m386.5 6.5h0m13.5 0h0m32.5 0h0m-65.5 6.5h0m33 0h0m19.5 0h0m65.5 0h0m224 0h0m6.5 0h0m-1366 0h0m302.5 0.5h0m6.5 0h0m734.5 6h0m20 0h0m26 0h0m52.5 0h0m-1070 0h0m349 0.5h0m209.5 0h0m20 0h0m19.5 0h0m6.5 0h0m33 0h0m262 6h0m151 0h0m-813.5 0.5h0m13 0h0m66 0h0m262.5 0h0m367 6.5h0m72 0h0m20 0h0m13 0h0m-820 0h0m6.5 0h0m774 6.5h0m-984.5 0h0m532 0.5h0m393.5 6h0m46 0h0m276 0h0m-341.5 6.5h0m6.5 0h0m65.5 0h0m26 0h0m26.5 0h0m-1122.5 0h0m965 6.5h0m39.5 0h0m32.5 0h0m39.5 0h0m-1103 0h0m20 0h0m13 0h0m6.5 0h0m617.5 0.5h0m1031.5 6h0m-697 0h0m7 0h0m6.5 0h0m26 0h0m39.5 0h0m-1070.5 0.5h0m13.5 0h0m19.5 0h0m6.5 0h0m6.5 0h0m13 0h0m618 0.5h0m321.5 6h0m19.5 0h0m19.5 0h0m-1037.5 0h0m7 0h0m32.5 0h0m13 0h0m965.5 6.5h0m26 0h0m13 0h0m33 0h0m13 0h0m26.5 0h0m-1083.5 0h0m59 0h0m59 6.5h0m860.5 0h0m78.5 0h0m-419.5 0.5h0m-663.5 6h0m644 0.5h0m-572 6h0m991.5 0h0m19.5 0h0m26.5 0h0m-1129.5 6.5h0m164 7h0m926 0h0m13 0h0m6.5 0h0m26.5 0h0m-452.5 0.5h0m301.5 6h0m-321 0.5h0m-578.5 6h0m932.5 6.5h0m637.5 103.5h0m13 0h0m-894 0.5h0m-368 0h0m684.5 0h0m551.5 6h0m-1124 0.5h0m506.5 0h0m6.5 0h0m20 0h0m-1012 0.5h0m26.5 0h0m952.5 6h0m13 0h0m26.5 0h0m52.5 0h0m-1044.5 0.5h0m939.5 6.5h0m13 0h0m26.5 0h0m79 0h0m-1045 0h0m301 6.5h0m33 0h0m79 0h0m546.5 0h0m26 0h0m20 0h0m-953 0.5h0m1537 5.5h0m-1235.5 0.5h0m579 0h0m19.5 0h0m53 0h0m32.5 0h0m-1110.5 0.5h0m85.5 0h0m26.5 0h0m1201 5.5h0m53 0h0m256.5 0h0m-584 0.5h0m13 0h0m6.5 0h0m33 0h0m19.5 0h0m26.5 0h0m-1091 0.5h0m1326.5 5.5h0m-387 0.5h0m92.5 0h0m26 0h0m20 0h0m6.5 0h0m6.5 0h0m-1137 0.5h0m1346 5.5h0m263.5 0h0m79 0h0m-1315 0.5h0m13.5 0h0m59 0h0m20 0h0m506.5 0h0m39.5 0h0m13 0h0m26.5 0h0m59 0h0m20 0h0m-1117.5 0.5h0m7 0h0m65.5 0h0m1300 5.5h0m-1031.5 1h0m6.5 0h0m66 0h0m552.5 0h0m13.5 0h0m13 0h0m13 0h0m59.5 0h0m39.5 0h0m-1104.5 0h0m7 0h0m1339 5.5h0m20 0h0m-1031.5 1h0m6.5 0h0m105 0h0m513.5 0h0m6.5 0h0m6.5 0h0m7 0h0m6.5 0h0m19.5 0h0m59.5 0h0m39.5 0h0m-1117.5 0.5h0m13 0h0m1333 5.5h0m13 0h0m7 0h0m39.5 0h0m-913.5 0.5h0m526.5 0h0m66 0h0m26 0h0m-1117 0.5h0m39.5 0h0m1313 5.5h0m6.5 0h0m-1018.5 0.5h0m7 0h0m6.5 0h0m6.5 0h0m6.5 0h0m671.5 0h0m-1032 0.5h0m39.5 0h0m1313 5.5h0m6.5 0h0m26.5 0h0m-1044.5 0.5h0m6.5 0h0m6.5 0h0m52.5 0h0m6.5 0h0m559.5 0h0m20 0h0m59 0h0m6.5 0h0m6.5 0h0m20 0h0m19.5 0h0m6.5 0h0m20 0h0m-1137 0.5h0m46 0h0m66 0h0m13 0h0m1227.5 5.5h0m-676 0.5h0m-336 0.5h0m92.5 0h0m552.5 0h0m20 0h0m26 0h0m13.5 0h0m72 0h0m-1084 0h0m6.5 0h0m19.5 0h0m1306.5 5.5h0m-1018 1h0m125 0h0m493.5 0h0m19.5 0h0m20 0h0m65.5 0h0m-1058 0h0m26.5 0h0m79 0h0m847.5 6.5h0m19.5 0h0m59.5 0h0m52.5 0h0m13 0h0m242 6h0m33 0h0m-722.5 0.5h0m-315.5 0h0m85.5 0h0m32.5 0h0m500.5 0h0m6.5 0h0m19.5 0h0m7 0h0m13 0h0m13 0h0m53 0h0m13 0h0m6.5 0h0m255 6h0m6.5 0h0m-847 0.5h0m454 0h0m19.5 0h0m26.5 0h0m52.5 0h0m26.5 0h0m-1064.5 0.5h0m39.5 0h0m919.5 6h0m39.5 0h0m46 0h0m33 0h0m13 0h0m-1031.5 0.5h0m1273.5 5.5h0m-702.5 0.5h0m329 0.5h0m6.5 0h0m7 0h0m13 0h0m6.5 0h0m52.5 0h0m7 0h0m-894 0h0m321 6.5h0m467.5 0h0m33 0h0m6.5 0h0m26.5 0h0m6.5 0h0m33 0h0m26 0h0m6.5 0h0m-612 6.5h0m13.5 0h0m454 0h0m39.5 0h0m13 0h0m20 0h0m13 0h0m39.5 0h0m6.5 0h0m-1018.5 0.5h0m33 0h0m13 0h0m6.5 0h0m867.5 6h0m19.5 0h0m6.5 0h0m13.5 0h0m39.5 0h0m13 0h0m-1038.5 0.5h0m20 0h0m946 6h0m13 0h0m72.5 0h0m20 0h0m13 0h0m-1097.5 0.5h0m6.5 0h0m26.5 0h0m913 6.5h0m46 0h0m7 0h0m39.5 0h0m-579.5 6.5h0m493.5 0h0m138.5 0h0m-1091 0h0m452.5 6.5h0m592.5 0h0m6.5 0h0m33 0h0m26 0h0m-1123.5 0.5h0m32.5 0h0m20 0h0m1051.5 12.5h0m-1045.5 186h0m309 0h0m-289.5 6.5h0m289.5 13.5h0m46.5 6.5h0m604 20h0m-342 6.5h0m295.5 0h0m-275.5 6.5h0m-308.5 0h0m295.5 6.5h0m6.5 0h0m308.5 0h0m-604 0h0m289 6.5h0m0 7h0m-539 13h0m539 0h0m6.5 0h0m6.5 13h0m-6.5 7h0m-20 13h0m6.5 0h0m-545 33h0m992.5 110h0m-341.5 13h0m328.5 6.5h0m-342 6.5h0m309 0h0m19.5 0h0m13.5 0h0m6.5 0h0m-355 6.5h0m26.5 0h0m19.5 0h0m256 0.5h0m7 0h0m13 0h0m6.5 0h0m6.5 0h0m-322 6.5h0m289 0h0m20 0h0m39.5 0h0m-381.5 6.5h0m26.5 0h0m13.5 0h0m6.5 0h0m6.5 0h0m315.5 0h0m26.5 0h0m-401.5 6.5h0m26.5 0h0m315.5 0h0m19.5 0h0m-361.5 6.5h0m79 0h0m263 0h0m26.5 0h0m-368.5 6.5h0m20 0h0m26.5 0h0m26 0h0m249.5 0.5h0m6.5 0h0m7 6.5h0m39.5 0h0m13 0h0m13.5 0h0m598.5 6h0m-986.5 0.5h0m46 0h0m13 0h0m309 0h0m-394.5 6.5h0m13 0h0m79 0h0m223 0h0m-308.5 6.5h0m53 0h0m262.5 0h0m39.5 0h0m39.5 0h0m6.5 6.5h0m-13 7h0m20 0h0m-7 6.5h0m-394.5 6.5h0m46.5 0h0m19.5 0h0m322 0h0m-152 6.5h0m59.5 0h0m20 0h0m6.5 0h0m13.5 0h0m-342 0h0m6.5 0h0m13.5 0h0m315 6.5h0m13.5 0h0m39.5 0h0m-335 0h0m-302.5 0.5h0m545 6.5h0m33 0h0m6.5 0h0m13.5 0h0m59.5 0h0m-408 0h0m66 0h0m13 0h0m6.5 0h0m177 6.5h0m72.5 0h0m26.5 0h0m-295.5 0h0m269 6.5h0m7 0h0m6.5 0h0m46 0h0m-315.5 0h0m302.5 6.5h0m-6.5 6.5h0m-40 6.5h0m33 0h0m-355 0.5h0m315.5 6.5h0m6.5 0h0" stroke="#87ff70" stroke-width="5.8" stroke-linecap="round" fill="none"/>
<path d="M1122.5 1278h0m26 0h0m-52.5 19.5h0m-958.5 0h0m578.5 0.5h0m465.5 6h0m26 0h0m-65.5 6.5h0m-413 0.5h0m432.5 6.5h0m13.5 0h0m611.5 6.5h0m-690.5 0h0m13 0h0m26.5 0h0m671 6.5h0m-664.5 0h0m-393 0.5h0m314.5 6h0m6.5 0h0m749.5 6.5h0m-697 0h0m26 0h0m6.5 0h0m-774 0.5h0m315 0h0m485.5 6.5h0m26 0h0m-85 6.5h0m59 0h0m-813.5 0h0m6.5 0h0m328 7h0m420 6h0m39 0h0m-1083 0h0m1057 6.5h0m19.5 0h0m-1083 0h0m-6.5 7h0m1004.5 6.5h0m-1011 0h0m1011 6.5h0m-1017.5 0h0m6.5 0h0m6.5 0h0m13 0h0m-26 6.5h0m65.5 0h0m932.5 0h0m-965.5 6.5h0m1037.5 0h0m72 6.5h0m-998 6.5h0m513 1h0m373.5 6h0m59 0h0m65.5 0h0m-104 123.5h0m52.5 0h0m-65.5 6.5h0m13 0h0m-13 6.5h0m46 0h0m-92 13.5h0m13 0h0m92 0h0m20 6.5h0m6.5 0h0m6.5 0h0m-1078 0.5h0m13.5 0h0m959 6h0m39.5 0h0m33 0h0m-1018.5 0.5h0m1306.5 5.5h0m-386.5 0.5h0m39.5 0h0m347 6h0m-406.5 0.5h0m13.5 0h0m125 0h0m-1091 0.5h0m6.5 0h0m1313 5.5h0m-321 1h0m-1018.5 0h0m354 6.5h0m678 0h0m26 0h0m7 0h0m65.5 0h0m-1117 0.5h0m1359 5.5h0m-373.5 0.5h0m59 0h0m-1058 0.5h0m6.5 0h0m979.5 6h0m79 0h0m59 0h0m-1117.5 0.5h0m72.5 0h0m1636 5.5h0m-722.5 0.5h0m26 0h0m-998.5 0.5h0m1326 5.5h0m26.5 0h0m-1038 1h0m691 0h0m26 0h0m6.5 0h0m-1018.5 0h0m1300 5.5h0m-360.5 1h0m66 0h0m20 0h0m46 0h0m13 0h0m-1117.5 0h0m7 0h0m39.5 0h0m32.5 0h0m1280.5 6h0m-406.5 0.5h0m26.5 0h0m39.5 0h0m26 0h0m-1045 0.5h0m66 0h0m1280 5.5h0m-347 0.5h0m46 0h0m20 0h0m46 0h0m255 6h0m-360.5 0.5h0m6.5 0h0m7 0h0m6.5 0h0m59 0h0m26.5 0h0m-1111 0.5h0m946.5 6h0m65.5 0h0m79 0h0m-1064.5 0.5h0m617 6h0m388.5 0.5h0m6.5 0h0m6.5 0h0m308 6h0m-308 0.5h0m6.5 0h0m-985.5 0.5h0m939.5 6h0m6.5 0h0m33 0h0m-1051.5 0.5h0m966 6h0m92 0h0m-1038 0.5h0m952.5 6h0m26.5 0h0m118.5 0h0m13 0h0m-171 7h0m177.5 0h0m-1091 0h0m426.5 13h0m625 6.5h0m13.5 0h0m0 6.5h0m-66.5 225.5h0m-19.5 7h0m-637.5 6.5h0m7 0h0m6.5 0h0m6.5 0h0m6.5 0h0m6.5 0h0m295.5 6.5h0m-13 13h0m315 0h0m711 13h0m6.5 0h0m6.5 0h0m6.5 0h0m-1026 0.5h0m428 169h0m-7 13.5h0m-664 0h0m644.5 6.5h0m19.5 0h0m-348 13h0m13 0h0m-33 6.5h0m26.5 0h0m348.5 0h0m-368.5 6.5h0m33 0h0m249.5 0.5h0m6.5 0h0m79.5 6.5h0m-335.5 6.5h0m276 0h0m6.5 0h0m-302 6.5h0m13 0h0m269 0h0m7 0h0m13 0h0m335.5 6h0m-651 0.5h0m26.5 0h0m289 0h0m33 0h0m6.5 0h0m-46 7h0m19.5 0h0m7 0h0m302.5 5.5h0m-657.5 1h0m19.5 0h0m289 0h0m39.5 0h0m309.5 6h0m-651 0.5h0m33 0h0m262.5 0h0m79 0h0m7 0h0m-375 6.5h0m6.5 0h0m6.5 0h0m289 0h0m40 0h0m-368.5 6.5h0m361.5 0h0m-315 6.5h0m32.5 0h0m296 0h0m6.5 0h0m-315.5 7h0m302.5 0h0m6.5 0h0m13 0h0m-341.5 6.5h0m13 0h0m170 0h0m86 0h0m6.5 0h0m53 0h0m0 6.5h0m-86 6.5h0m86 0h0m-368.5 0h0m33 0h0m276 6.5h0m20 0h0m-348.5 0h0m19.5 0h0m46.5 0h0m13 0h0m-39.5 7h0m20 0h0m275.5 6.5h0m26.5 0h0m39.5 0h0m-66 6.5h0m33 0h0m46.5 0h0m-59.5 6.5h0m13 0h0m-53 6.5h0m53 0h0m20 0h0m6.5 0h0m-13 6.5h0m-53 7h0" stroke="#9aff5d" stroke-width="5.8" stroke-linecap="round" fill="none"/>
<path d="M1181.5 1297.5h0m-439.5 13.5h0m419.5 26h0m270 0h0m368 6.5h0m0 6.5h0m-1609.5 0.5h0m854 19.5h0m131 0h0m-33 6.5h0m-1083 0h0m1004.5 6.5h0m-1011 0.5h0m19.5 0h0m985 6.5h0m-985 0h0m985 6.5h0m-985 0h0m985 6.5h0m6.5 0h0m104.5 6.5h0m-445.5 40.5h0m361.5 103h0m65.5 0h0m584.5 6h0m-610.5 7h0m-20 7h0m-1012 13.5h0m1306.5 5.5h0m26.5 0h0m-360.5 0.5h0m0 6.5h0m85.5 6.5h0m-125 7h0m59.5 0h0m13 0h0m46 0h0m275 5.5h0m-354 1h0m92 0h0m-1084 7h0m6.5 0h0m-20 6.5h0m20 0h0m307.5 6h0m638.5 7h0m72.5 0h0m92 0h0m242 5.5h0m-406.5 1h0m85.5 0h0m288 6h0m-334 0.5h0m39.5 0h0m26.5 0h0m19.5 0h0m33 0h0m604 6h0m7 0h0m-716.5 0.5h0m26.5 0h0m-19.5 13h0m19.5 0h0m-1005.5 0.5h0m979 6.5h0m7 0h0m85.5 0h0m-724 6.5h0m79 0h0m572.5 0h0m26.5 6.5h0m-105.5 6.5h0m92 0h0m39.5 0h0m0 13.5h0m-625 6.5h0m605.5 0h0m59 13h0m-1065 245.5h0m952.5 13h0m0 13.5h0m20 13h0m-210 175.5h0m-13 7h0m289 6.5h0m-282.5 6.5h0m-66 6.5h0m388 0h0m0 7h0m-13 6.5h0m13 6.5h0m-33 13h0m13.5 0h0m-39.5 7h0m348.5 5.5h0m-677.5 1h0m33 0h0m276 0h0m13 0h0m53 0h0m-46 6.5h0m13 0h0m20 0h0m-322 6.5h0m289 0h0m26 0h0m20 0h0m-348.5 6.5h0m289 0h0m-328.5 6.5h0m46 0h0m322 0h0m-315 7h0m-46.5 6.5h0m368.5 0h0m13 0h0m-375 6.5h0m322 0h0m53 0h0m-53 6.5h0m-6.5 6.5h0m72.5 0h0m-355 0h0m33 0h0m223 7h0m59.5 0h0m33 0h0m-52.5 6.5h0m-638 0h0m631 13h0m7 0h0m13 0h0m-269.5 6.5h0" stroke="#b1ff46" stroke-width="5.8" stroke-linecap="round" fill="none"/>
<path d="M1806.5 1337h0m-599 6.5h0m217.5 0.5h0m-263.5 6.5h0m-412.5 13.5h0m6.5 0h0m295 12.5h0m-972 13.5h0m683.5 40h0m0 6.5h0m289 149.5h0m353.5 12.5h0m323 13h0m6.5 0h0m13 0h0m-13 7h0m-650 0.5h0m-329.5 6.5h0m992.5 6h0m-986 0.5h0m349 0h0m39.5 0h0m248.5 6h0m20 0h0m-676.5 0.5h0m349 13.5h0m6.5 0h0m-26.5 6.5h0m26.5 0h0m-13 6.5h0m13 0h0m72.5 0h0m13 0h0m-85.5 6.5h0m6.5 0h0m-6.5 6.5h0m13 0h0m59.5 0h0m-79 7h0m307.5 6h0m-650 20h0m270 0h0m-289.5 13h0m-558 0.5h0m979 6.5h0m-986 219h0m0 6.5h0m-26.5 6.5h0m362 0h0m20 20h0m-296 13h0m216.5 7h0m663.5 13h0m691 13h0m13 6.5h0m-1282 182.5h0m6.5 0h0m322.5 6.5h0m-7 20h0m0 6.5h0m-604.5 6.5h0m1242.5 6h0m-1255.5 0.5h0m966 0.5h0m-388 6.5h0m-6.5 6.5h0m361.5 0h0m645 6h0m-645 0.5h0m13.5 6.5h0m0 6.5h0m-375 7h0m13 0h0m33 0h0m282.5 0h0m-315.5 6.5h0m322 0h0m-282 13h0m-46.5 6.5h0m335.5 7h0m59 13h0" stroke="#c4ff33" stroke-width="5.8" stroke-linecap="round" fill="none"/>
<path d="M1070 1324h0m-676 33h0m295.5 20h0m472 13h0m256.5 215h0m6.5 0h0m0 6.5h0m-1379 47.5h0m1045 6h0m0 13h0m-342.5 39.5h0m13.5 292h0m0 6.5h0m394.5 202h0m638.5 46h0m-665 20h0m20 0h0m6.5 0h0m-348.5 13h0m0 7h0m355 0h0m6.5 0h0m-348 13h0m322 0h0m26 6.5h0m7 20h0m-664.5 0h0" stroke="#dbff1c" stroke-width="5.8" stroke-linecap="round" fill="none"/>
<path d="M407.5 1337.5h0m361 6.5h0m6.5 0h0m-387.5 13h0m-289.5 6.5h0m6.5 0h0m952.5 6.5h0m6.5 0h0m0 6.5h0m-998 13.5h0m1655.5 221.5h0m-1282 1h0m6.5 0h0m6.5 0h0m6.5 0h0m1269 12.5h0m33 6.5h0m6.5 0h0m-13 6.5h0m-1328.5 0.5h0m-380 7h0m1372.5 5.5h0m362 7h0m-355.5 13h0m-334 27h0m33 26.5h0m0 6.5h0m-1071.5 7h0m453.5 238.5h0m578 19.5h0m0 6.5h0m0 7h0m19.5 0h0m-328.5 19.5h0m1026 6.5h0m-993 189h0m0 6.5h0m46.5 0h0m-46.5 7h0m20 0h0m-20 6.5h0m-6.5 13h0m980 6.5h0m-920.5 0h0m-26.5 7h0m322 26h0m-309 13.5h0m-6.5 26.5h0" stroke="#f1fc06" stroke-width="5.8" stroke-linecap="round" fill="none"/>
<path d="M1425 1350.5h0m-1037.5 0h0m117 242h0m6.5 20h0m1229.5 6h0m-1308.5 0.5h0m-320.5 0.5h0m13 0h0m972.5 19h0m-13 13.5h0m-632 33h0m6.5 26h0m638.5 20h0m-1038.5 0.5h0m85 231.5h0m1651 307.5h0m-960.5 20h0m328.5 6.5h0m-322 7h0m0 13h0" stroke="#ffe600" stroke-width="5.8" stroke-linecap="round" fill="none"/>
<path d="M782 1350.5h0m301 6.5h0m-334 79.5h0m-323.5 195.5h0m658.5 6.5h0m-1032 0.5h0m6.5 0h0m1359.5 5.5h0m6.5 20h0m-308 53.5h0m-26 6.5h0m374.5 290.5h0m-348.5 249.5h0m-289 26h0m13 6.5h0m289 0h0m-289 13.5h0m328.5 0h0m7 6.5h0m-348.5 6.5h0" stroke="#ffcc00" stroke-width="5.8" stroke-linecap="round" fill="none"/>
<path d="M1070 1357h0m-985 6.5h0m670.5 66.5h0m-637.5 182.5h0m1306.5 5.5h0m303 0.5h0m19.5 0h0m-6.5 6.5h0m-1005.5 13.5h0m13 0h0m342.5 0h0m683 6h0m6.5 6.5h0m-1728 1h0m1734.5 6h0m-362 19.5h0m-334 27h0m0 13.5h0m-355.5 6h0m46 278.5h0m315.5 7h0m355 5.5h0m-683.5 1h0m0 6.5h0m1039 6.5h0m-1275.5 176h0m591.5 39.5h0m-335 6.5h0m335 6.5h0m355.5 26h0m-651 0.5h0m6.5 13h0m0 7h0m322 0h0m6.5 13h0m6.5 0h0m-19.5 6.5h0m-309 0h0" stroke="#ffb600" stroke-width="5.8" stroke-linecap="round" fill="none"/>
<path d="M414 1337.5h0m6.5 0h0m-329 13h0m419.5 248.5h0m0 6.5h0m1229.5 6h0m-637 7.5h0m650.5 6h0m-670 0.5h0m19.5 79h0m-664.5 6.5h0m664.5 20h0m6.5 0h0m-953 225.5h0m933 33h0m-322 6.5h0m6.5 0h0m322 0h0m-6.5 6.5h0m368.5 6h0m-690.5 1h0m13 0h0m315.5 6.5h0m33 228.5h0m0 6.5h0m-20 13.5h0m26.5 26h0m7 0h0m6.5 0h0m-322 6.5h0m6.5 13.5h0m328.5 0h0m-335 6.5h0m6.5 0h0" stroke="#ff9c00" stroke-width="5.8" stroke-linecap="round" fill="none"/>
<path d="M98 1350.5h0m978.5 6.5h0m-618 262h0m651.5 6.5h0m-6.5 72.5h0m-6.5 6.5h0m-355.5 6.5h0m349 0h0m-940.5 245.5h0m66 26.5h0m223.5 0h0m0 6.5h0m1367.5 32.5h0m-1269 183h0m0 6.5h0m585 39.5h0m20 6.5h0m658 19.5h0m-980 7h0m328.5 13h0m-322 7h0m-335.5 46h0" stroke="#ff8600" stroke-width="5.8" stroke-linecap="round" fill="none"/>
<path d="M1431.5 1344h0m-964.5 6.5h0m-362.5 6.5h0m952.5 6.5h0m-618 262h0m-321 0.5h0m623.5 6h0m-6.5 85.5h0m362 7h0m19.5 0h0m0 6.5h0m684.5 552.5h0m-980 20.5h0" stroke="#ff6c00" stroke-width="5.8" stroke-linecap="round" fill="none"/>
<path d="M104.5 1350.5h0m1327 0h0m-1346.5 19.5h0m1005.5 262h0m6.5 0h0m-658 72.5h0m13 0h0m1348.5 317.5h0m0 7h0m-1269 182.5h0m960 52h0m-6.5 6.5h0m0 7h0m-671 7h0m0 6.5h0m7 0h0m0 6.5h0m328.5 7h0m-328.5 6.5h0m335 6.5h0m-322 13h0" stroke="#ff5200" stroke-width="5.8" stroke-linecap="round" fill="none"/>
<path d="M1076.5 1363.5h0m27 361h0" stroke="#ff3b00" stroke-width="5.8" stroke-linecap="round" fill="none"/>
<path d="M1799.5 1337h0m-1392 7h0m6.5 0h0m368 0h0m-670.5 6.5h0m289.5 0h0m6.5 0h0m354.5 0h0m6.5 0h0m6.5 0h0m-677 6.5h0m965.5 6.5h0m6.5 0h0m-314.5 73h0m-316.5 182.5h0m6.5 0h0m6.5 0h0m1295 6h0m-986 0.5h0m993 6h0m-1006 0.5h0m1012.5 6h0m-1708.5 7.5h0m6.5 0h0m91.5 317.5h0m0 20h0m940 13h0m368.5 19h0m-670.5 229.5h0m6.5 0h0m993 19.5h0m7 13h0m-980.5 20h0m13.5 13.5h0m328.5 0h0m0 13h0m-670.5 26.5h0" stroke="#ff2200" stroke-width="5.8" stroke-linecap="round" fill="none"/>
<path d="M91.5 1357h0m0 6.5h0m413 242h0m920 19.5h0m-992.5 0.5h0m658.5 0h0m6.5 0h0m6.5 0h0m321 6h0m-670 0.5h0m670 6h0m0 6.5h0m-1379 7.5h0m1051.5 59h0m0 7h0m13 0h0m-1038 6.5h0m-7 7h0m440.5 231.5h0m-355.5 6.5h0m362 0.5h0m-335.5 6h0m46.5 0h0m0 13.5h0m545 13h0m328.5 0h0m-650.5 0.5h0m328.5 6.5h0m0 6.5h0m315.5 0h0m-289 228.5h0m-6.5 6.5h0m6.5 0h0m308.5 0h0m-873.5 6.5h0m873.5 0h0m-873.5 6.5h0m1551.5 6.5h0m-644.5 26.5h0m-7 7h0m7 0h0m6.5 6.5h0m0 6.5h0" stroke="#f60b00" stroke-width="5.8" stroke-linecap="round" fill="none"/>
<path d="M1110 1711h0" stroke="#d60000" stroke-width="5.8" stroke-linecap="round" fill="none"/>
<path d="M1806.5 1343.5h0m0 6.5h0m-1302 249h0m-59 99h0m0 6.5h0m296 13h0m368.5 7h0m-604.5 245.5h0m-355.5 6h0m66 0h0m558.5 26.5h0m315.5 7h0m-315.5 13h0m368.5 288h0" stroke="#bb0000" stroke-width="5.8" stroke-linecap="round" fill="none"/>
<path d="M401 1357h0m-283 262.5h0m-53 19.5h0m7 0h0m1031.5 72h0m0 7h0m-1038.5 6.5h0m1038 526.5h0m33 46h0" stroke="#9b0000" stroke-width="5.8" stroke-linecap="round" fill="none"/>
</svg>
</body></html>
